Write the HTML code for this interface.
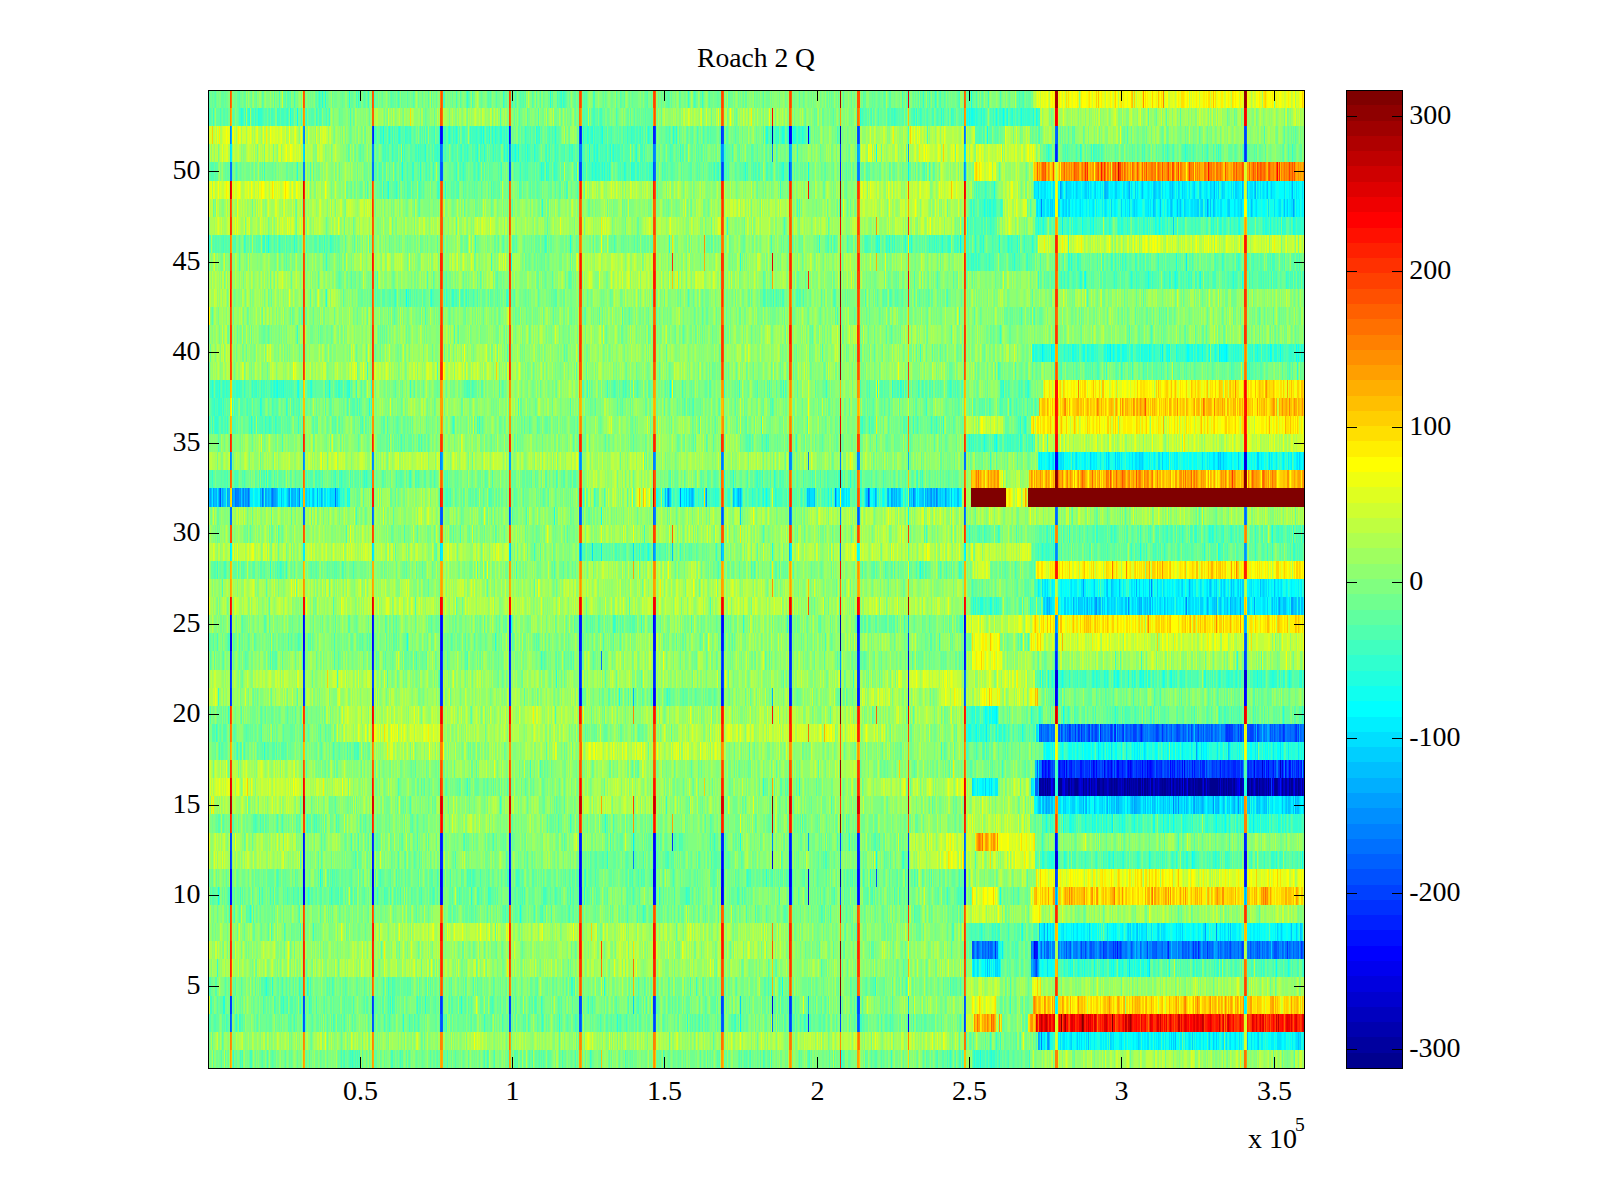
<!DOCTYPE html>
<html lang="en"><head><meta charset="utf-8"><title>Roach 2 Q</title>
<style>
html,body{margin:0;padding:0;background:#fff}
body{width:1600px;height:1200px;overflow:hidden}
svg{display:block}
text{font-family:"Liberation Serif",serif;font-size:28.0px;fill:#000}
</style></head><body>
<svg width="1600" height="1200" viewBox="0 0 1600 1200">
<rect width="1600" height="1200" fill="#fff"/>
<rect x="208" y="90" width="1096" height="978" fill="#80ff80"/>
<g transform="translate(208 90) scale(1 18.111111)" fill="none" stroke-width="1" shape-rendering="crispEdges">
<path stroke="#00008f" d="M632 30.5h1M632 33.5h1M831 38.5h1m5 0h1m1 0h1m11 0h3m6 0h2m5 0h3m5 0h1m5 0h1m7 0h3m3 0h1m7 0h1m2 0h1m1 0h1m7 0h1m2 0h1m1 0h1m8 0h3m1 0h1m1 0h2m1 0h1m3 0h2m9 0h1m1 0h2m4 0h1m2 0h1m5 0h1m2 0h1m1 0h1m3 0h2m3 0h1m1 0h1m2 0h4m2 0h1m5 0h8m1 0h1m3 0h1m2 0h1m1 0h1m5 0h1m12 0h2m2 0h1m4 0h2m1 0h1m8 0h1m6 0h2m5 0h1m6 0h1m1 0h2m5 0h1M632 50.5h1"/>
<path stroke="#00009f" d="M564 2.5h1M832 38.5h1m1 0h2m5 0h1m21 0h1m2 0h1m11 0h1m4 0h1m10 0h1m6 0h2m1 0h1m2 0h1m1 0h1m7 0h1m5 0h1m1 0h1m1 0h2m18 0h1m4 0h2m1 0h1m3 0h1m8 0h2m7 0h1m4 0h1m1 0h1m3 0h2m7 0h1m1 0h1m1 0h1m11 0h1m2 0h1m4 0h3m1 0h1m6 0h2m10 0h1m9 0h2m2 0h1m7 0h1m2 0h1m7 0h2m8 0h2m2 0h1m2 0h1M632 43.5h1"/>
<path stroke="#0000af" d="M632 2.5h1M632 29.5h1M833 38.5h1m6 0h1m1 0h1m3 0h1m3 0h1m6 0h2m11 0h1m6 0h1m8 0h1m5 0h2m2 0h3m6 0h1m5 0h2m1 0h1m5 0h1m1 0h1m1 0h1m1 0h1m11 0h1m1 0h2m6 0h2m1 0h1m6 0h1m1 0h2m2 0h1m7 0h1m10 0h1m16 0h1m9 0h1m3 0h1m2 0h1m23 0h1m5 0h1m4 0h2m2 0h1m5 0h1m19 0h1m9 0h1M700 43.5h1M700 44.5h1"/>
<path stroke="#0000bf" d="M1072 37.5h1M836 38.5h1m1 0h1m6 0h1m13 0h1m4 0h2m10 0h1m3 0h1m3 0h2m14 0h1m9 0h1m4 0h1m2 0h1m10 0h1m36 0h2m2 0h1m7 0h1m7 0h1m7 0h1m24 0h1m4 0h1m2 0h2m5 0h1m7 0h1m2 0h1m4 0h1m6 0h1m6 0h1m10 0h1m13 0h1"/>
<path stroke="#0000cf" d="M1037 20.5h1M848 32.5h1m188 0h1M1054 37.5h1M854 38.5h1m7 0h1m8 0h1m1 0h2m12 0h1m11 0h1m13 0h1m19 0h1m1 0h1m9 0h2m3 0h1m22 0h1m38 0h1m22 0h1m23 0h1m1 0h1m8 0h2m1 0h1m2 0h1m2 0h2m4 0h1m9 0h1M848 42.5h1"/>
<path stroke="#0000df" d="M22 30.5h1M700 31.5h1M1036 32.5h1M855 38.5h1m16 0h1m6 0h1m2 0h1m5 0h1m53 0h1m20 0h1m31 0h1m2 0h1m30 0h2m15 0h1m46 0h1M564 42.5h1m282 0h1m189 0h1M164 43.5h1m349 0h1m85 0h1M95 44.5h1m504 0h1M564 50.5h1"/>
<path stroke="#0000ef" d="M600 2.5h1M848 20.5h1m187 0h1M756 29.5h1M233 30.5h1M847 32.5h1m1 0h1m188 0h1M372 33.5h1m327 0h1m147 0h1M858 37.5h1m26 0h1m10 0h1m6 0h1m18 0h1m16 0h1m36 0h1m69 0h1m27 0h1M844 38.5h1m11 0h1m118 0h1m3 0h1m106 0h1M372 42.5h1m663 0h1M95 43.5h1m137 0h1m67 0h1m70 0h1m72 0h2m135 0h1m173 0h1M233 44.5h1m280 0h1m241 0h1M826 47.5h1"/>
<path stroke="#00f" d="M233 2.5h1m347 0h2M847 20.5h1m1 0h1m188 0h1M22 29.5h1m72 0h1m68 0h1m68 0h1m67 0h1m143 0h1m68 0h1m135 0h1M23 30.5h1m71 0h1m68 0h1m136 0h1M446 33.5h1m400 0h1m188 0h2M834 37.5h1m2 0h1m2 0h1m10 0h1m4 0h1m31 0h1m20 0h2m9 0h1m13 0h1m7 0h1m19 0h1m11 0h1m85 0h1m16 0h1m3 0h1M843 38.5h1m187 0h1m33 0h1M301 41.5h1m144 0h1M446 42.5h1m67 0h1m334 0h1m188 0h1M22 43.5h1m209 0h1m138 0h1m209 0h1m68 0h1M22 44.5h1m73 0h1m67 0h1m136 0h1m70 0h1m140 0h1m68 0h1m67 0h1M700 51.5h1"/>
<path stroke="#0010ff" d="M232 2.5h1m68 0h1m70 0h1m210 0h1M632 4.5h1M372 29.5h1m73 0h1m68 0h1m66 0h1m66 0h1m107 0h1M96 30.5h1m274 0h2m73 0h1m67 0h1m67 0h1m67 0h1m105 0h1M22 31.5h1m72 0h1m68 0h1m68 0h1m522 0h1M700 32.5h1M445 33.5h1m68 0h1m67 0h1m67 0h1M841 37.5h1m21 0h1m8 0h2m12 0h1m13 0h1m13 0h1m8 0h1m17 0h1m1 0h1m20 0h1m1 0h1m17 0h1m1 0h1m25 0h1m43 0h1m1 0h1m6 0h1m16 0h1m7 0h1m2 0h1M1072 38.5h1M95 41.5h1m137 0h1m138 0h1m72 0h1m136 0h1m67 0h1m196 0h2M95 42.5h1m68 0h1m136 0h1m145 0h1m133 0h2m67 0h1m49 0h1M23 43.5h1m72 0h1m68 0h1m136 0h1m144 0h1m65 0h1m69 0h1m65 0h1m107 0h1m279 0h1M23 44.5h1m141 0h1m66 0h1m69 0h1m68 0h1m1 0h1m71 0h2m134 0h1m175 0h1M827 47.5h2m80 0h1"/>
<path stroke="#0020ff" d="M165 2.5h1m68 0h1m210 0h2M848 3.5h1M96 29.5h1m68 0h1m66 0h1m1 0h1m67 0h1m68 0h1m1 0h1m139 0h1m67 0h1M165 30.5h1m66 0h1m1 0h1m67 0h1m142 0h1m1 0h1m65 0h1m135 0h1M232 31.5h1m68 0h1m144 0h1m67 0h1m67 0h1m67 0h1m106 0h1m90 0h1M233 32.5h1m138 0h1m73 0h1m203 0h1M22 33.5h1m141 0h1m68 0h1m67 0h1m69 0h1m1 0h1m73 0h1m65 0h1m67 0h1m67 0h1m199 0h1m188 0h1M892 35.5h1m14 0h1m25 0h1M835 37.5h1m2 0h1m13 0h1m1 0h2m5 0h2m18 0h1m1 0h1m15 0h1m2 0h1m3 0h1m12 0h1m1 0h1m6 0h1m3 0h1m4 0h1m2 0h1m3 0h1m3 0h1m4 0h1m15 0h1m1 0h1m20 0h1m1 0h3m19 0h1m3 0h1m4 0h3m12 0h1m8 0h2m33 0h1m3 0h1m6 0h1M164 41.5h1m67 0h1m138 0h1m75 0h1m66 0h1m66 0h1m67 0h1m386 0h2M232 42.5h2m137 0h1m1 0h1m71 0h1m67 0h1m135 0h1M234 43.5h1m138 0h1m141 0h1m135 0h1M234 44.5h1m212 0h1m67 0h1m67 0h1m65 0h1m1 0h1M829 47.5h1m130 0h1m29 0h1"/>
<path stroke="#0030ff" d="M373 2.5h1m139 0h1M632 3.5h1m214 0h1m189 0h1M23 29.5h1m423 0h1m135 0h1m67 0h1M373 30.5h1m141 0h1m65 0h1m118 0h1m56 0h1M23 31.5h1m72 0h1m68 0h1m136 0h1m68 0h2m72 0h1m203 0h1m197 0h1M22 32.5h1m209 0h1m68 0h1m69 0h1m73 0h1m67 0h2m67 0h1m66 0h1M95 33.5h1m136 0h1m350 0h1m67 0h1M861 35.5h1m5 0h1m2 0h1m2 0h1m7 0h1m21 0h1m2 0h1m8 0h1m38 0h1m63 0h2m1 0h1m53 0h1m12 0h1M836 37.5h1m5 0h1m7 0h1m2 0h1m12 0h1m7 0h2m1 0h3m4 0h1m6 0h1m2 0h1m2 0h1m3 0h1m2 0h1m3 0h1m2 0h3m1 0h2m7 0h1m5 0h2m4 0h1m8 0h1m3 0h1m1 0h2m6 0h2m4 0h1m13 0h1m1 0h1m16 0h1m5 0h1m3 0h1m5 0h2m3 0h1m1 0h1m1 0h2m4 0h3m1 0h1m8 0h2m1 0h1m2 0h1m2 0h3m1 0h1m3 0h1m4 0h1m2 0h1m3 0h1m1 0h1m4 0h1m7 0h1m2 0h1m2 0h1M96 41.5h1m137 0h1m67 0h1m70 0h1m90 0h1m48 0h1m1 0h1m116 0h1m67 0h1M22 42.5h1m73 0h1m68 0h1m68 0h1m67 0h1m212 0h1m67 0h1m67 0h1M1036 43.5h1m1 0h1M787 47.5h1m107 0h1m9 0h1m1 0h1m4 0h1m72 0h1m13 0h1m79 0h1m13 0h1M22 50.5h1m141 0h1m68 0h1m67 0h1m143 0h2m135 0h1M600 51.5h1"/>
<path stroke="#0040ff" d="M164 2.5h1m137 0h1m144 0h1m66 0h1m135 0h1m386 0h1M372 4.5h1m141 0h1m66 0h1M583 30.5h1m67 0h1M234 31.5h1m346 0h1m1 0h1m452 0h2M95 32.5h1m68 0h1m69 0h1m67 0h1m278 0h1m69 0h1M23 33.5h1m72 0h1m68 0h1m68 0h1m67 0h1m212 0h1M853 35.5h1m8 0h1m8 0h1m8 0h1m3 0h1m2 0h2m13 0h1m11 0h1m10 0h3m4 0h1m15 0h2m19 0h1m13 0h1m6 0h1m29 0h1m1 0h3m5 0h1m1 0h2m8 0h3m4 0h1m26 0h1m10 0h1m2 0h1M839 37.5h1m4 0h1m14 0h1m4 0h2m2 0h4m8 0h1m6 0h1m1 0h2m26 0h1m8 0h2m1 0h1m3 0h1m1 0h1m2 0h1m7 0h1m3 0h1m5 0h2m5 0h1m6 0h1m1 0h1m14 0h4m14 0h2m4 0h1m5 0h2m3 0h1m5 0h1m5 0h1m4 0h1m1 0h1m19 0h3m6 0h1m4 0h1m4 0h1M1063 38.5h1M22 41.5h1m142 0h1m417 0h1m67 0h1m386 0h1M847 43.5h2M632 44.5h1M873 47.5h1m3 0h1m61 0h1m47 0h1m34 0h1m11 0h1M828 48.5h1M23 50.5h1m71 0h1m136 0h1m69 0h1m68 0h2m140 0h2m66 0h1m68 0h1M446 51.5h1m135 0h1m49 0h1m123 0h1"/>
<path stroke="#0050ff" d="M371 2.5h1m143 0h1m133 0h1m386 0h1M849 3.5h1m186 0h1m1 0h1M233 4.5h1m67 0h1m69 0h1m1 0h1m71 0h1M12 22.5h1m647 0h1M233 23.5h1m67 0h1m70 0h1m141 0h1m135 0h1M848 30.5h1m188 0h1M373 31.5h1m73 0h1m65 0h1m1 0h1m135 0h1M23 32.5h1m72 0h1m68 0h1m207 0h1m73 0h1m67 0h1m67 0h1m48 0h1M756 33.5h1M833 35.5h1m17 0h1m5 0h1m1 0h1m16 0h1m27 0h1m4 0h1m8 0h1m3 0h1m5 0h1m5 0h1m15 0h1m7 0h1m4 0h1m4 0h1m1 0h2m3 0h1m4 0h1m14 0h1m7 0h1m13 0h1m21 0h3m3 0h1m1 0h1m2 0h1m11 0h1m3 0h1m4 0h2M843 37.5h1m2 0h1m10 0h1m2 0h1m15 0h1m15 0h2m1 0h1m2 0h1m26 0h1m28 0h1m3 0h1m8 0h2m4 0h1m3 0h2m3 0h2m1 0h1m7 0h1m7 0h1m1 0h1m3 0h1m1 0h2m2 0h1m30 0h1m2 0h1m18 0h1m18 0h1m1 0h1m3 0h1M23 41.5h1m825 0h1M23 42.5h1M668 43.5h1M764 47.5h2m3 0h1m10 0h1m77 0h1m3 0h1m19 0h2m8 0h1m3 0h3m12 0h1m1 0h1m9 0h1m24 0h1m10 0h1m14 0h1m5 0h1m7 0h1m2 0h1m43 0h1m6 0h1m6 0h1m1 0h1m14 0h3m25 0h1M96 50.5h1m68 0h1m207 0h1m73 0h1m135 0h1m65 0h1m1 0h1m104 0h1M22 51.5h1m72 0h1m68 0h1m68 0h1m67 0h1m70 0h1m141 0h1m66 0h1m68 0h1"/>
<path stroke="#0060ff" d="M651 2.5h1m196 0h2m188 0h1M232 4.5h1m1 0h1m67 0h1m143 0h1m66 0h1m1 0h1M95 23.5h1m68 0h1m67 0h1m1 0h1m136 0h1m73 0h1m136 0h1m173 0h1m91 0h1m188 0h1M632 25.5h1M847 30.5h1m190 0h1M849 31.5h1m188 0h1M756 32.5h1M831 35.5h1m7 0h2m9 0h1m3 0h1m5 0h1m3 0h1m9 0h2m3 0h1m3 0h1m2 0h1m2 0h1m3 0h2m1 0h2m2 0h1m10 0h1m7 0h1m3 0h1m7 0h1m13 0h1m1 0h1m7 0h1m21 0h1m6 0h1m2 0h1m1 0h1m3 0h1m4 0h2m1 0h1m2 0h1m2 0h1m18 0h1m8 0h1m28 0h1m9 0h1m7 0h1m3 0h1m5 0h1M829 37.5h1m15 0h1m21 0h1m14 0h1m22 0h1m1 0h1m10 0h1m28 0h1m7 0h1m5 0h1m13 0h1m4 0h1m10 0h1m7 0h1m2 0h1m29 0h1m24 0h1m21 0h1m3 0h1M827 38.5h3M756 41.5h1M849 43.5h1M770 47.5h1m3 0h1m2 0h1m4 0h2m41 0h1m7 0h1m2 0h1m2 0h2m44 0h1m15 0h4m1 0h1m1 0h1m1 0h1m21 0h1m11 0h4m6 0h1m20 0h1m1 0h2m5 0h1m10 0h1m5 0h1m2 0h1m5 0h1m1 0h1m4 0h1m1 0h1m1 0h1m8 0h1m2 0h1m20 0h1m4 0h1m10 0h1m3 0h1m6 0h1m3 0h1m4 0h1M827 48.5h1M234 50.5h1m280 0h1m241 0h1M96 51.5h1m68 0h1m66 0h1m1 0h1m67 0h1m68 0h1m73 0h1m1 0h1m65 0h1m1 0h1m67 0h1m65 0h1m107 0h1"/>
<path stroke="#0070ff" d="M756 2.5h1m90 0h1M232 3.5h2m67 0h1M22 4.5h2m140 0h2m281 0h1m134 0h1m67 0h1M514 20.5h1m117 0h1m123 0h2M27 22.5h1m12 0h1m13 0h1m9 0h1m62 0h1M22 23.5h2m72 0h1m276 0h1m72 0h1m66 0h1m67 0h1m67 0h1m197 0h1M849 30.5h1m186 0h1M393 31.5h1M757 32.5h1M757 33.5h1M832 35.5h1m2 0h1m1 0h2m4 0h1m1 0h2m18 0h2m2 0h1m8 0h1m6 0h1m4 0h1m8 0h1m12 0h2m3 0h1m2 0h2m2 0h1m5 0h1m4 0h1m1 0h1m1 0h1m2 0h3m1 0h1m4 0h1m1 0h1m2 0h1m2 0h1m1 0h2m3 0h2m4 0h1m1 0h1m1 0h1m4 0h1m6 0h1m3 0h1m4 0h1m2 0h1m7 0h1m1 0h1m2 0h1m11 0h1m1 0h1m1 0h1m4 0h1m16 0h1m4 0h1m6 0h1m3 0h1m1 0h1m3 0h1m5 0h3m1 0h3m3 0h1m3 0h1m1 0h1M831 37.5h1m1 0h1m163 0h1m2 0h1m67 0h1M632 42.5h1M775 47.5h1m8 0h1m38 0h1m14 0h1m11 0h1m5 0h1m4 0h1m6 0h1m3 0h1m2 0h1m2 0h1m2 0h1m2 0h1m1 0h1m4 0h1m1 0h1m23 0h2m5 0h1m28 0h1m16 0h1m5 0h1m4 0h1m4 0h1m5 0h1m3 0h2m2 0h1m1 0h2m9 0h1m2 0h1m1 0h1m4 0h1m2 0h1m13 0h1m2 0h1m1 0h1m1 0h2m1 0h1m5 0h1m1 0h1m1 0h1m4 0h1m3 0h1m5 0h1m1 0h2m3 0h1m5 0h2m2 0h1M23 51.5h1m349 0h1m190 0h1m86 0h1"/>
<path stroke="#0080ff" d="M22 2.5h1m73 0h1M164 3.5h2m205 0h3m71 0h2m117 0h1M95 4.5h2m552 0h1m1 0h1M833 6.5h1M22 20.5h1m72 0h1m68 0h1m67 0h1m139 0h1m72 0h2m66 0h1m67 0h2m17 0h1m48 0h2M11 22.5h1m16 0h3m4 0h1m55 0h1m368 0h1m11 0h1m154 0h1m77 0h1m22 0h1M165 23.5h1m136 0h1m144 0h1m67 0h1m116 0h1m18 0h1m105 0h1m91 0h1m186 0h1m1 0h1M848 25.5h1M943 27.5h1M978 28.5h1M834 35.5h1m1 0h1m7 0h1m11 0h1m1 0h1m4 0h1m4 0h1m3 0h1m22 0h1m2 0h1m2 0h1m8 0h1m18 0h1m6 0h1m1 0h1m2 0h1m10 0h1m4 0h1m7 0h1m7 0h1m4 0h1m12 0h1m2 0h1m7 0h1m3 0h1m2 0h1m4 0h3m11 0h1m2 0h1m14 0h1m5 0h2m1 0h1m2 0h1m6 0h1m2 0h1m1 0h1m6 0h2m15 0h1M832 37.5h1m236 0h1m6 0h1M965 39.5h1M564 41.5h1m192 0h1M425 42.5h1m330 0h1M766 47.5h1m1 0h1m2 0h1m4 0h1m1 0h2m1 0h1m7 0h1m52 0h1m1 0h3m6 0h1m6 0h1m4 0h3m1 0h1m4 0h1m1 0h1m11 0h1m5 0h1m4 0h2m13 0h3m5 0h1m5 0h1m4 0h1m4 0h1m2 0h2m6 0h4m3 0h2m3 0h2m5 0h1m2 0h1m7 0h1m3 0h1m5 0h1m8 0h1m6 0h1m8 0h1m5 0h1m3 0h2m1 0h3m2 0h1m6 0h1m1 0h1m2 0h1m7 0h1m2 0h1m6 0h1m1 0h1m7 0h1m7 0h1m2 0h1m2 0h2m7 0h1M826 48.5h1m2 0h1M833 52.5h1"/>
<path stroke="#008fff" d="M95 2.5h1m661 0h1M234 3.5h1m67 0h1m144 0h1m65 0h2M583 4.5h1m172 0h1M165 20.5h1m67 0h1m349 0h1m67 0h1M24 22.5h1m7 0h1m4 0h1m25 0h1m1 0h1m15 0h1m416 0h1m162 0h1m61 0h1M583 23.5h1M372 25.5h1m72 0h1m401 0h1m189 0h1M888 28.5h1m31 0h1M847 29.5h2M632 31.5h1M841 35.5h2m9 0h1m2 0h1m21 0h1m4 0h1m57 0h1m19 0h1m3 0h1m17 0h1m2 0h1m10 0h1m8 0h1m5 0h1m45 0h1m3 0h1M1035 37.5h1M970 39.5h1m34 0h1m24 0h1M757 42.5h1M1008 46.5h1M772 47.5h1m13 0h1m1 0h1m35 0h1m7 0h1m18 0h1m3 0h1m1 0h1m1 0h1m19 0h1m7 0h1m2 0h1m28 0h1m5 0h1m10 0h2m5 0h1m11 0h1m2 0h1m5 0h4m4 0h2m8 0h1m11 0h1m14 0h1m1 0h1m3 0h1m15 0h1m14 0h1m6 0h1m3 0h1m3 0h1m9 0h1m1 0h1m10 0h1M825 48.5h1M840 52.5h1"/>
<path stroke="#009fff" d="M515 3.5h1m65 0h1m67 0h2m49 0h1M852 5.5h1M999 6.5h1m85 0h1M23 20.5h1m72 0h1m204 0h2m68 0h1m1 0h1m73 0h1m67 0h1M2 22.5h1m2 0h1m8 0h1m4 0h1m11 0h1m2 0h1m3 0h2m1 0h1m13 0h1m1 0h1m8 0h2m615 0h1m22 0h1m12 0h1m2 0h1m3 0h1m2 0h1m7 0h1M446 25.5h1m402 0h1m186 0h1M875 27.5h1M887 28.5h1m144 0h1m13 0h1m24 0h1m11 0h2M700 29.5h1m336 0h1M905 35.5h1m10 0h1m62 0h1m32 0h1m78 0h1M988 36.5h1M1094 37.5h1M830 38.5h1M838 39.5h1m87 0h1m59 0h1M600 41.5h1M848 44.5h1M997 46.5h1M767 47.5h1m5 0h1m11 0h1m51 0h1m3 0h1m12 0h1m8 0h1m6 0h2m8 0h1m8 0h1m30 0h2m4 0h1m2 0h1m5 0h1m4 0h1m52 0h1m13 0h2m67 0h1m14 0h1M823 48.5h1M830 52.5h1m8 0h1"/>
<path stroke="#00afff" d="M23 2.5h1M582 3.5h1m68 0h1M757 4.5h1M897 5.5h1m23 0h1m84 0h1m27 0h1m12 0h1m36 0h1M234 20.5h1m465 0h1M8 22.5h1m11 0h2m3 0h2m25 0h1m5 0h1m1 0h1m7 0h1m11 0h1m2 0h2m2 0h1m21 0h1m3 0h1m345 0h1m24 0h1m45 0h1m1 0h1m134 0h1m12 0h1m3 0h1m1 0h1m1 0h1m12 0h1m15 0h1m7 0h1M513 25.5h1m67 0h1m456 0h1M928 27.5h1m12 0h1m39 0h1M839 28.5h1m1 0h1m23 0h1m13 0h1m11 0h1m39 0h1m1 0h1m8 0h1m56 0h1m8 0h1m13 0h1M1036 29.5h1M425 33.5h1m138 0h1M908 35.5h1m139 0h1m10 0h2M835 39.5h1m4 0h2m33 0h1m2 0h1m20 0h1m8 0h1m1 0h1m13 0h1m2 0h2m38 0h1m17 0h1m8 0h1m15 0h1m15 0h1m60 0h1M1037 44.5h1M836 46.5h1m2 0h1M834 47.5h2m16 0h1m77 0h2m2 0h1m34 0h1m36 0h1M824 48.5h1m5 0h1M600 50.5h1M831 52.5h1m207 0h1"/>
<path stroke="#00bfff" d="M583 3.5h1M853 5.5h1m4 0h1m37 0h1m1 0h2m34 0h1m11 0h1m17 0h1m74 0h1m19 0h1M945 6.5h1m6 0h1m10 0h1m5 0h1m2 0h1m29 0h1m2 0h1m37 0h1m32 0h1M1010 20.5h1m1 0h1M0 22.5h2m1 0h1m2 0h2m2 0h1m4 0h1m20 0h1m24 0h1m7 0h1m3 0h1m11 0h2m2 0h2m14 0h1m23 0h1m327 0h1m3 0h1m19 0h1m1 0h1m41 0h1m73 0h1m1 0h1m4 0h1m51 0h2m19 0h1m11 0h1m11 0h1m3 0h1m6 0h2m4 0h2m10 0h1m5 0h1m4 0h1m5 0h2M302 25.5h1m70 0h1m73 0h1m16 0h1M899 27.5h1m3 0h1m7 0h1m90 0h1m20 0h1m28 0h1m13 0h1M870 28.5h1m5 0h1m6 0h1m2 0h1m5 0h1m1 0h1m4 0h1m17 0h2m13 0h1m4 0h1m1 0h1m1 0h1m2 0h1m11 0h1m20 0h1m28 0h1m5 0h1m6 0h1m7 0h1m36 0h1m5 0h1m4 0h3m7 0h1m1 0h1m2 0h2m1 0h2M849 29.5h1m188 0h1M986 35.5h1m67 0h1M1020 36.5h1M827 37.5h2M831 39.5h2m1 0h1m2 0h1m1 0h1m3 0h2m32 0h1m8 0h1m16 0h1m2 0h1m2 0h1m13 0h1m5 0h3m5 0h1m6 0h1m1 0h1m8 0h1m5 0h1m6 0h1m7 0h1m1 0h1m9 0h1m1 0h1m2 0h1m1 0h1m11 0h3m5 0h1m9 0h1m15 0h1m7 0h1m1 0h1m4 0h1m1 0h1m15 0h1m3 0h1m1 0h2m3 0h1m3 0h2M847 44.5h1M831 46.5h1m97 0h1m92 0h1m60 0h1m8 0h1M830 47.5h2m11 0h1m20 0h1m62 0h1m35 0h1M779 48.5h1M841 52.5h1m38 0h1m86 0h1m122 0h1"/>
<path stroke="#00cfff" d="M96 3.5h1M830 5.5h1m37 0h1m8 0h2m1 0h1m6 0h1m19 0h2m11 0h1m6 0h1m17 0h1m1 0h1m3 0h1m10 0h1m7 0h1m3 0h1m11 0h1m5 0h1m9 0h1m7 0h1m3 0h1m12 0h2m17 0h1m16 0h1M842 6.5h1m1 0h1m5 0h1m4 0h1m2 0h1m2 0h1m41 0h1m9 0h1m7 0h1m4 0h1m19 0h1m15 0h1m13 0h1m12 0h2m2 0h2m5 0h1m5 0h1m13 0h2m11 0h1m45 0h1m6 0h1M965 7.5h1M845 20.5h1m4 0h1m31 0h1m17 0h1m6 0h1m23 0h1m2 0h1m19 0h1m60 0h1m14 0h1m18 0h2m40 0h1m3 0h1M13 22.5h1m2 0h2m15 0h1m19 0h1m5 0h1m2 0h1m16 0h1m18 0h1m2 0h1m2 0h1m9 0h1m7 0h1m5 0h1m333 0h1m15 0h1m6 0h1m43 0h1m1 0h1m68 0h1m27 0h1m39 0h1m16 0h1m1 0h1m2 0h1m1 0h1m18 0h3m4 0h1m5 0h1m2 0h1m3 0h1m2 0h1m5 0h1M532 23.5h1M371 25.5h1m142 0h2M886 27.5h1m11 0h1m5 0h1m26 0h1m17 0h1m24 0h1m26 0h1m6 0h1m4 0h1m2 0h1m8 0h1m4 0h1m1 0h1m1 0h2m19 0h1M836 28.5h1m1 0h1m1 0h1m15 0h2m10 0h1m2 0h4m3 0h1m2 0h1m8 0h1m5 0h1m3 0h1m2 0h1m2 0h1m6 0h2m6 0h1m2 0h1m4 0h2m5 0h1m15 0h1m6 0h1m20 0h2m10 0h3m5 0h1m3 0h2m1 0h1m3 0h1m4 0h1m6 0h2m1 0h1m13 0h1m18 0h1m6 0h1m1 0h1m3 0h1m13 0h1m1 0h1M891 35.5h1M777 38.5h1M830 39.5h1m24 0h1m1 0h1m6 0h3m4 0h3m7 0h1m12 0h1m3 0h1m2 0h1m2 0h2m5 0h3m5 0h1m2 0h1m2 0h1m6 0h1m2 0h1m3 0h1m2 0h1m2 0h1m1 0h1m1 0h1m2 0h1m4 0h1m1 0h1m13 0h1m5 0h1m3 0h1m5 0h1m2 0h1m7 0h1m3 0h1m11 0h1m2 0h1m1 0h1m2 0h1m4 0h1m2 0h1m1 0h2m3 0h2m7 0h1m1 0h1m4 0h1m1 0h1m2 0h1m16 0h1m4 0h1m5 0h1m6 0h1M1036 44.5h1M881 46.5h1m38 0h1m1 0h1m5 0h1m9 0h1m11 0h1m23 0h1m45 0h1m48 0h1m3 0h1m14 0h1m4 0h1M1063 47.5h1M781 48.5h1m5 0h1m1 0h1M425 50.5h1m106 0h1m167 0h1M863 52.5h1m5 0h1m32 0h1m27 0h1m32 0h1m1 0h1m18 0h1m16 0h1m3 0h1m2 0h1m41 0h1m41 0h1"/>
<path stroke="#00dfff" d="M22 3.5h1m72 0h1m660 0h1M826 5.5h1m6 0h1m2 0h2m7 0h1m8 0h1m4 0h4m2 0h1m3 0h1m6 0h1m5 0h1m3 0h1m5 0h1m7 0h1m14 0h2m2 0h1m3 0h1m5 0h1m3 0h1m6 0h1m7 0h1m1 0h1m1 0h1m1 0h1m6 0h1m1 0h1m1 0h1m5 0h1m4 0h1m4 0h1m3 0h1m5 0h1m6 0h1m4 0h1m1 0h1m2 0h1m6 0h2m6 0h1m1 0h1m3 0h2m4 0h1m6 0h3m4 0h1m2 0h1m2 0h1m2 0h1m17 0h1m6 0h1m4 0h1m5 0h1M829 6.5h1m2 0h1m2 0h2m2 0h2m2 0h1m2 0h1m4 0h1m2 0h1m2 0h1m2 0h1m11 0h1m12 0h1m11 0h1m19 0h1m7 0h1m2 0h1m11 0h1m1 0h1m4 0h1m11 0h1m4 0h1m6 0h1m5 0h1m5 0h2m1 0h3m3 0h1m4 0h1m14 0h2m5 0h1m6 0h1m3 0h1m1 0h1m11 0h1m3 0h1m11 0h1m5 0h1m4 0h2m10 0h2M841 20.5h1m2 0h1m7 0h2m1 0h1m12 0h1m29 0h1m10 0h1m1 0h1m12 0h1m2 0h2m3 0h2m16 0h2m42 0h1m10 0h2m4 0h1m49 0h1m27 0h1M75 22.5h1m18 0h1m2 0h1m13 0h1m4 0h2m5 0h4m349 0h1m5 0h1m14 0h1m28 0h1m6 0h1m68 0h4m25 0h1m2 0h2m2 0h1m18 0h1m31 0h1m12 0h1m1 0h1m4 0h1m20 0h1m2 0h1m1 0h2m2 0h1m1 0h1m4 0h1M164 25.5h1m67 0h1m68 0h1m82 0h1m40 0h1m156 0h1M834 27.5h1m2 0h1m1 0h1m23 0h1m9 0h2m30 0h1m17 0h1m2 0h1m8 0h1m8 0h1m10 0h1m14 0h1m2 0h1m8 0h1m1 0h1m7 0h1m6 0h1m3 0h1m2 0h1m8 0h1m13 0h1m13 0h1m10 0h1m1 0h1m1 0h1m1 0h1m9 0h1m2 0h1M835 28.5h1m6 0h2m6 0h1m8 0h2m2 0h1m2 0h1m17 0h1m4 0h1m11 0h1m2 0h2m1 0h1m1 0h1m1 0h2m12 0h1m1 0h1m7 0h1m2 0h1m8 0h1m1 0h1m1 0h1m5 0h1m5 0h1m1 0h1m2 0h1m6 0h1m6 0h1m1 0h2m1 0h2m1 0h1m7 0h1m14 0h1m3 0h2m6 0h1m2 0h2m1 0h1m2 0h2m3 0h1m1 0h1m13 0h2m6 0h1m9 0h2m3 0h1m2 0h1M828 35.5h2M890 36.5h1m12 0h1m32 0h1m52 0h1m3 0h1m27 0h1m50 0h1M830 37.5h1M764 38.5h1m16 0h1m1 0h1m39 0h1M836 39.5h1m5 0h1m3 0h1m3 0h3m3 0h1m5 0h2m10 0h1m12 0h1m3 0h3m2 0h1m17 0h1m1 0h1m19 0h1m3 0h1m10 0h1m1 0h2m1 0h1m3 0h1m2 0h1m2 0h1m2 0h1m1 0h2m1 0h1m5 0h1m6 0h1m3 0h1m4 0h1m2 0h1m1 0h3m7 0h1m2 0h1m5 0h1m2 0h1m3 0h1m3 0h1m11 0h1m1 0h1m6 0h1m1 0h1m9 0h1m14 0h1m11 0h1M849 44.5h1m188 0h1M835 46.5h1m6 0h1m2 0h1m9 0h1m9 0h1m3 0h1m29 0h1m19 0h1m5 0h1m5 0h1m1 0h2m8 0h1m5 0h1m3 0h1m1 0h2m11 0h1m3 0h1m22 0h2m15 0h1m3 0h1M765 48.5h1m3 0h1m7 0h1m10 0h1m2 0h1m47 0h1m81 0h1m19 0h1M836 52.5h1m15 0h1m2 0h2m5 0h1m8 0h1m1 0h1m4 0h1m24 0h1m1 0h1m7 0h1m17 0h1m7 0h2m9 0h1m10 0h1m19 0h1m33 0h1m2 0h1m3 0h1m4 0h1m3 0h1m11 0h1m5 0h1m19 0h4m15 0h2m1 0h1"/>
<path stroke="#00efff" d="M23 3.5h1m733 0h1M700 4.5h1M827 5.5h3m2 0h1m1 0h2m3 0h1m2 0h1m3 0h1m3 0h1m6 0h1m5 0h1m3 0h1m2 0h3m1 0h2m3 0h1m3 0h1m5 0h1m4 0h1m7 0h3m1 0h1m2 0h3m6 0h1m16 0h1m3 0h1m1 0h1m1 0h1m5 0h1m7 0h1m8 0h1m1 0h1m6 0h1m1 0h2m5 0h1m8 0h1m2 0h2m1 0h1m4 0h1m8 0h1m6 0h1m10 0h2m8 0h1m8 0h1m3 0h1m1 0h1m5 0h1m1 0h3m14 0h1m4 0h1m3 0h1M828 6.5h1m2 0h1m2 0h1m3 0h1m6 0h1m10 0h1m7 0h1m2 0h2m2 0h1m2 0h1m3 0h1m2 0h1m2 0h1m3 0h1m5 0h1m1 0h1m1 0h1m7 0h2m11 0h1m4 0h1m2 0h1m1 0h1m7 0h3m11 0h1m8 0h1m7 0h1m1 0h1m2 0h1m4 0h3m1 0h1m2 0h1m12 0h1m8 0h1m1 0h2m16 0h1m1 0h1m1 0h1m2 0h1m5 0h1m1 0h1m4 0h1m22 0h1m4 0h1m2 0h1m2 0h2m5 0h1m2 0h1m2 0h1M854 7.5h1M752 8.5h1M978 9.5h1M834 14.5h1m8 0h1m58 0h1m51 0h1m56 0h1m6 0h1M831 20.5h1m1 0h1m6 0h1m10 0h1m2 0h1m9 0h1m2 0h1m8 0h2m5 0h1m1 0h2m1 0h1m3 0h1m8 0h1m8 0h1m2 0h1m7 0h1m7 0h2m4 0h1m5 0h1m4 0h1m11 0h1m1 0h1m5 0h1m1 0h2m29 0h1m1 0h1m7 0h1m3 0h2m1 0h3m4 0h1m29 0h1m9 0h1m4 0h1m6 0h1m4 0h1m2 0h1m4 0h1m3 0h1M4 22.5h1m4 0h1m32 0h3m2 0h3m21 0h1m2 0h1m3 0h1m9 0h1m10 0h2m5 0h1m5 0h1m6 0h1m1 0h1m8 0h2m348 0h1m47 0h1m101 0h1m2 0h1m2 0h1m3 0h2m23 0h2m14 0h2m64 0h2m2 0h2M22 25.5h1m72 0h2m68 0h1m67 0h2m158 0h1m189 0h1m173 0h1M830 27.5h1m5 0h1m7 0h1m8 0h1m8 0h1m3 0h3m7 0h2m7 0h1m10 0h1m9 0h3m3 0h1m2 0h1m8 0h1m12 0h1m14 0h2m2 0h1m2 0h1m1 0h1m2 0h1m3 0h2m1 0h1m8 0h1m2 0h1m3 0h1m5 0h1m4 0h1m8 0h1m4 0h1m4 0h1m2 0h1m1 0h1m1 0h1m1 0h1m14 0h2m2 0h1m3 0h2m2 0h1m3 0h1m5 0h1m3 0h1m1 0h1m2 0h1m5 0h1m4 0h1m6 0h1m2 0h1M837 28.5h1m6 0h2m7 0h1m8 0h1m4 0h1m7 0h1m1 0h1m2 0h1m1 0h1m2 0h1m9 0h1m6 0h1m7 0h1m4 0h2m6 0h1m2 0h1m13 0h1m5 0h1m6 0h2m5 0h3m1 0h1m4 0h1m1 0h2m10 0h1m5 0h1m5 0h1m6 0h2m6 0h1m9 0h1m9 0h1m2 0h1m10 0h2m2 0h5m1 0h1m2 0h1m7 0h1m1 0h1m11 0h1m15 0h1M788 34.5h1M778 35.5h1M895 36.5h1m22 0h1m7 0h1m2 0h1m1 0h1m5 0h1m36 0h1m8 0h1m11 0h1m2 0h1m10 0h1m37 0h1m1 0h1m15 0h1m14 0h1m9 0h1M765 38.5h1m3 0h1m4 0h2m11 0h3m34 0h2M829 39.5h1m15 0h1m12 0h3m6 0h1m1 0h2m9 0h1m7 0h1m6 0h1m6 0h1m4 0h1m7 0h1m4 0h2m11 0h2m6 0h1m16 0h1m3 0h1m1 0h1m10 0h1m1 0h1m4 0h1m1 0h1m12 0h1m15 0h1m14 0h1m17 0h1m6 0h1m8 0h2m3 0h4m2 0h1m1 0h2m6 0h2m7 0h1M904 40.5h1m140 0h1M425 41.5h1M833 46.5h2m9 0h1m8 0h2m3 0h1m4 0h1m4 0h1m4 0h1m1 0h2m2 0h1m25 0h1m1 0h1m6 0h1m6 0h1m2 0h1m1 0h1m8 0h3m13 0h1m2 0h1m2 0h1m12 0h2m13 0h1m4 0h1m23 0h1m2 0h1m6 0h4m3 0h1m10 0h1m2 0h2m2 0h1m1 0h1m15 0h1m2 0h1m1 0h1m1 0h1m7 0h1m6 0h1m4 0h1M790 47.5h1m3 0h1M766 48.5h1m3 0h1m12 0h1m1 0h1m4 0h1m40 0h1M848 50.5h1m188 0h1M532 51.5h1M832 52.5h1m1 0h2m14 0h1m3 0h1m3 0h1m2 0h1m6 0h1m7 0h1m5 0h1m3 0h1m5 0h2m1 0h1m1 0h2m1 0h1m3 0h1m6 0h2m4 0h1m7 0h1m2 0h2m2 0h1m1 0h1m1 0h2m5 0h1m2 0h1m1 0h1m2 0h2m2 0h1m1 0h1m8 0h1m5 0h2m3 0h1m2 0h1m1 0h1m3 0h1m1 0h1m2 0h2m2 0h1m4 0h1m5 0h1m3 0h1m3 0h1m6 0h1m4 0h1m6 0h1m12 0h1m6 0h2m8 0h3m7 0h1m2 0h2m6 0h1m2 0h1m7 0h1"/>
<path stroke="#0ff" d="M89 1.5h1m671 0h1m33 0h1M779 2.5h1M668 3.5h1M600 4.5h1M838 5.5h1m1 0h2m9 0h1m3 0h1m8 0h1m1 0h1m14 0h1m3 0h1m2 0h1m1 0h2m9 0h1m3 0h1m6 0h2m3 0h1m6 0h1m3 0h1m1 0h1m1 0h1m3 0h3m3 0h1m12 0h1m2 0h3m12 0h1m6 0h1m6 0h1m13 0h1m5 0h1m1 0h1m9 0h1m1 0h1m4 0h1m6 0h1m6 0h1m4 0h1m11 0h1m2 0h1m6 0h1m3 0h5m2 0h2m2 0h1m2 0h1m3 0h1m1 0h1m3 0h1M830 6.5h1m10 0h1m11 0h1m5 0h1m3 0h1m1 0h1m3 0h2m2 0h1m1 0h1m6 0h2m2 0h1m3 0h1m10 0h1m6 0h1m6 0h1m4 0h1m9 0h4m7 0h1m2 0h1m5 0h1m2 0h1m2 0h1m4 0h1m4 0h2m6 0h1m26 0h1m2 0h1m6 0h1m2 0h1m1 0h2m4 0h4m2 0h1m6 0h1m3 0h1m6 0h1m2 0h1m5 0h2m12 0h1m7 0h1m2 0h1m8 0h2m4 0h1M874 7.5h1m10 0h1m65 0h1M877 10.5h1M198 11.5h1M845 14.5h1m53 0h1m5 0h1m35 0h1m19 0h1m17 0h2m13 0h1m6 0h1m11 0h1m2 0h2m44 0h1m9 0h1m15 0h1M788 19.5h1M830 20.5h1m1 0h1m3 0h1m2 0h1m3 0h1m13 0h1m1 0h1m1 0h1m7 0h1m1 0h1m2 0h1m4 0h1m4 0h1m2 0h1m8 0h1m2 0h1m18 0h1m4 0h1m2 0h1m11 0h2m5 0h1m9 0h3m1 0h1m2 0h1m4 0h1m7 0h2m2 0h1m1 0h2m3 0h1m1 0h1m7 0h1m5 0h3m2 0h2m10 0h1m1 0h2m3 0h2m3 0h1m3 0h1m7 0h1m2 0h1m1 0h1m2 0h1m2 0h2m4 0h1m3 0h1m9 0h1m7 0h1m3 0h1m3 0h1m2 0h1M46 22.5h1m4 0h1m18 0h1m1 0h1m3 0h1m5 0h1m9 0h1m9 0h2m4 0h1m11 0h1m352 0h3m1 0h1m1 0h1m78 0h1m70 0h1m32 0h1m12 0h1m32 0h1m1 0h1m34 0h1M393 23.5h1m306 0h1M23 25.5h1m625 0h2m105 0h1M838 27.5h1m6 0h2m5 0h1m2 0h1m1 0h2m1 0h1m3 0h2m5 0h1m7 0h1m3 0h2m4 0h1m1 0h1m5 0h1m2 0h2m7 0h2m10 0h1m3 0h1m1 0h1m1 0h2m1 0h2m2 0h1m1 0h2m2 0h1m3 0h1m3 0h2m8 0h1m1 0h1m2 0h1m1 0h1m7 0h2m2 0h1m6 0h1m4 0h1m4 0h2m2 0h1m13 0h1m4 0h1m8 0h1m2 0h1m1 0h1m5 0h2m6 0h2m12 0h1m2 0h1m3 0h1m2 0h1m2 0h1m4 0h1m2 0h1m1 0h3m1 0h1m3 0h1M854 28.5h1m3 0h1m2 0h1m7 0h1m27 0h2m20 0h1m8 0h1m5 0h1m8 0h1m1 0h1m4 0h1m4 0h1m2 0h1m11 0h1m2 0h2m4 0h1m6 0h1m10 0h1m3 0h1m13 0h1m5 0h1m20 0h1m10 0h1m4 0h1m2 0h1m7 0h1m10 0h1m11 0h1M777 34.5h1m3 0h1m2 0h1m1 0h2m67 0h1M768 35.5h1M836 36.5h1m1 0h4m2 0h1m1 0h1m7 0h1m6 0h1m7 0h1m4 0h1m1 0h2m2 0h2m2 0h1m6 0h2m5 0h1m2 0h1m5 0h2m4 0h1m10 0h1m3 0h1m6 0h1m11 0h2m6 0h1m3 0h1m2 0h1m2 0h2m3 0h1m19 0h1m5 0h2m33 0h1m10 0h2m13 0h1m1 0h1m9 0h2m3 0h1M766 38.5h1m4 0h3m4 0h3m1 0h1m1 0h1M827 39.5h1m5 0h1m19 0h1m22 0h1m2 0h1m2 0h1m1 0h1m4 0h2m9 0h1m17 0h1m19 0h1m4 0h1m4 0h1m1 0h1m47 0h1m7 0h1m5 0h1m5 0h1m3 0h1m10 0h1m31 0h1m5 0h2m13 0h1m6 0h2M855 40.5h1m99 0h1m9 0h1m42 0h1m8 0h1M668 42.5h1m315 0h1M832 46.5h1m5 0h1m1 0h2m1 0h1m6 0h2m7 0h3m4 0h2m2 0h3m1 0h1m7 0h1m1 0h2m2 0h1m1 0h1m10 0h1m1 0h2m1 0h1m1 0h1m3 0h2m13 0h1m4 0h1m12 0h1m12 0h2m1 0h1m3 0h3m1 0h1m3 0h1m1 0h2m1 0h4m2 0h1m1 0h1m4 0h2m6 0h2m8 0h1m1 0h1m1 0h1m1 0h1m3 0h1m8 0h1m3 0h1m6 0h3m1 0h1m3 0h2m1 0h1m2 0h1m2 0h1m6 0h1m1 0h1m5 0h1m3 0h3m2 0h2m4 0h2M764 48.5h1m9 0h2m2 0h1m1 0h1m53 0h1m8 0h1m42 0h1m18 0h1m33 0h1m128 0h1M574 49.5h1M1036 50.5h1M837 52.5h1m13 0h1m5 0h1m1 0h1m5 0h1m4 0h1m1 0h1m1 0h2m3 0h1m27 0h1m6 0h2m2 0h1m1 0h1m1 0h1m1 0h1m1 0h2m7 0h1m2 0h1m5 0h1m4 0h1m4 0h1m7 0h1m1 0h1m3 0h1m1 0h1m18 0h2m6 0h2m3 0h1m1 0h1m2 0h1m1 0h1m7 0h1m5 0h3m2 0h2m10 0h2m5 0h2m11 0h2m5 0h1m6 0h2m6 0h1"/>
<path stroke="#10ffef" d="M763 0.5h1M82 1.5h1m676 0h1m3 0h2m23 0h1m10 0h1m13 0h1m11 0h1m2 0h1M175 2.5h1m99 0h1m118 0h1m190 0h1m15 0h1M307 3.5h1m2 0h1m70 0h1M194 4.5h1M180 5.5h1m605 0h1m44 0h1m12 0h1m28 0h1m10 0h1m8 0h1m28 0h1m21 0h1m11 0h1m12 0h1m2 0h1m10 0h1m4 0h1m5 0h2m4 0h1m16 0h2m3 0h1m28 0h1m1 0h1m7 0h1m6 0h3m9 0h1m6 0h1m4 0h2M776 6.5h1m60 0h1m14 0h1m9 0h1m3 0h1m9 0h2m1 0h1m11 0h1m7 0h1m4 0h2m3 0h1m4 0h1m1 0h1m1 0h1m24 0h1m5 0h1m8 0h1m6 0h1m15 0h1m14 0h1m6 0h1m4 0h1m6 0h1m2 0h1m22 0h1m3 0h1m4 0h3m1 0h1m2 0h2m3 0h3m2 0h2m4 0h1m19 0h1M759 7.5h1m70 0h1m4 0h1m46 0h1m64 0h1m83 0h1m30 0h1m22 0h1M60 8.5h1m301 0h1m428 0h1M303 9.5h1m664 0h1M940 10.5h1m26 0h1m24 0h1m41 0h1M825 14.5h1m9 0h1m8 0h1m1 0h1m17 0h2m9 0h2m2 0h1m21 0h1m7 0h3m2 0h2m17 0h1m18 0h1m6 0h1m8 0h1m15 0h1m4 0h2m16 0h1m6 0h2m3 0h1m29 0h1m13 0h1m26 0h1M69 16.5h1m20 0h1m30 0h1m340 0h1m206 0h1M776 19.5h1M834 20.5h2m2 0h1m3 0h1m3 0h1m11 0h1m6 0h1m7 0h1m1 0h1m5 0h1m23 0h2m1 0h1m5 0h1m4 0h2m1 0h1m2 0h1m10 0h2m5 0h1m3 0h1m4 0h1m11 0h1m6 0h1m6 0h1m4 0h1m1 0h1m1 0h1m5 0h1m1 0h1m24 0h1m7 0h1m3 0h1m6 0h1m1 0h1m10 0h1m4 0h1m9 0h1m8 0h1m10 0h1m6 0h1M516 21.5h1M50 22.5h1m26 0h1m29 0h1m2 0h1m28 0h1m1 0h1m306 0h2m4 0h1m3 0h1m12 0h1m14 0h1m40 0h1m27 0h1m64 0h1m2 0h1m2 0h1m10 0h1m1 0h1m12 0h1m10 0h2m9 0h1m18 0h2m2 0h1m18 0h1m25 0h1m1 0h1m8 0h1M346 23.5h1M845 24.5h1m218 0h1M440 25.5h1m123 0h1m367 0h1m77 0h1M712 26.5h1M831 27.5h1m3 0h1m4 0h1m2 0h1m10 0h1m1 0h1m2 0h1m12 0h1m8 0h2m4 0h2m13 0h1m10 0h1m2 0h2m4 0h1m11 0h1m5 0h1m6 0h1m9 0h2m4 0h1m8 0h1m5 0h1m6 0h1m4 0h1m13 0h2m3 0h2m16 0h1m16 0h1m1 0h1m4 0h1m7 0h1m2 0h1m2 0h1m11 0h1m9 0h1m1 0h1M782 28.5h1m63 0h1m4 0h1m3 0h1m8 0h1m57 0h1m25 0h1m17 0h1m9 0h1m14 0h1m4 0h1m17 0h1m32 0h1m12 0h1m21 0h1m6 0h1M303 29.5h1M199 30.5h1M840 32.5h1m13 0h1m51 0h1m2 0h2m9 0h1m11 0h1m2 0h1m19 0h1m7 0h1m85 0h1m31 0h1M411 33.5h1M778 34.5h1m3 0h1m2 0h1m3 0h1M760 35.5h3m25 0h1m25 0h1m15 0h1M860 36.5h1m1 0h2m1 0h2m11 0h2m2 0h1m2 0h1m2 0h2m10 0h1m3 0h1m22 0h1m5 0h1m4 0h1m2 0h1m1 0h1m5 0h1m10 0h1m7 0h1m2 0h1m1 0h1m1 0h2m1 0h3m3 0h1m9 0h1m5 0h1m11 0h2m4 0h1m3 0h1m6 0h1m5 0h1m3 0h2m14 0h1m5 0h1m9 0h1m21 0h1m1 0h1M767 38.5h1m8 0h1m261 0h1M826 39.5h1m1 0h1m25 0h1m6 0h1m6 0h1m14 0h1m1 0h1m11 0h1m19 0h1m63 0h1m77 0h1m6 0h1M838 40.5h1m23 0h1m14 0h1m6 0h1m13 0h1m15 0h1m11 0h1m18 0h2m13 0h1m14 0h1m45 0h1m19 0h2m6 0h1m1 0h1m8 0h1m9 0h1M532 41.5h1M905 42.5h1m35 0h1m152 0h1M112 43.5h1M10 44.5h1m781 0h1M312 45.5h1M814 46.5h1m22 0h1m14 0h1m3 0h2m4 0h1m1 0h1m12 0h2m1 0h1m5 0h2m4 0h1m9 0h1m12 0h1m2 0h1m11 0h1m9 0h1m5 0h3m11 0h1m3 0h1m18 0h1m3 0h1m1 0h1m4 0h1m3 0h1m3 0h1m1 0h2m12 0h1m2 0h1m1 0h1m5 0h2m4 0h1m8 0h1m7 0h1m1 0h2m1 0h1m1 0h2m1 0h1m1 0h1m1 0h1m1 0h1m9 0h2m4 0h2m4 0h1M791 47.5h1M768 48.5h1m4 0h1m2 0h1m9 0h1m5 0h1m40 0h1m1 0h1m4 0h3m1 0h2m16 0h1m1 0h1m5 0h1m5 0h1m26 0h1m7 0h1m2 0h1m4 0h1m6 0h1m3 0h2m3 0h1m4 0h1m20 0h1m118 0h1M396 49.5h1M847 50.5h1m1 0h1m188 0h1M842 52.5h1m17 0h1m3 0h1m1 0h2m15 0h3m1 0h2m5 0h1m1 0h1m9 0h1m1 0h3m10 0h1m1 0h1m18 0h1m4 0h1m10 0h3m8 0h1m5 0h1m2 0h2m14 0h1m1 0h1m16 0h1m5 0h1m12 0h1m9 0h1m1 0h2m5 0h1m4 0h1m1 0h1m3 0h1m5 0h1m10 0h2m4 0h2M633 53.5h1m138 0h1"/>
<path stroke="#20ffdf" d="M114 0.5h1m2 0h1m23 0h1m200 0h1M33 1.5h1m7 0h1m8 0h1m601 0h1m55 0h1m24 0h1m31 0h2m1 0h1m4 0h1m30 0h1M181 2.5h1m9 0h1m39 0h1m9 0h1m6 0h1m24 0h1m7 0h1m2 0h1m2 0h1m4 0h2m34 0h1m18 0h1m27 0h1m3 0h1m4 0h1m55 0h1m24 0h1m2 0h1m89 0h2m14 0h2m4 0h1m5 0h2m6 0h1M194 3.5h1m22 0h1m51 0h1m6 0h1m19 0h1m2 0h1m19 0h1m6 0h1m59 0h1m2 0h1m12 0h1m2 0h1m22 0h1m411 0h1m31 0h1m104 0h1M89 4.5h1m122 0h1m120 0h1m4 0h1m45 0h1m2 0h1m6 0h1m1 0h1m4 0h1m14 0h1m6 0h1m113 0h1m37 0h1M237 5.5h1m676 0h1m10 0h2m4 0h1m21 0h1m13 0h1m11 0h1m2 0h1m6 0h1m22 0h1m11 0h1m23 0h1m28 0h1M334 6.5h1m444 0h1m1 0h2m2 0h1m94 0h1m8 0h1m2 0h2m6 0h1m11 0h1m9 0h2m10 0h1m1 0h1m11 0h1m5 0h1m20 0h1m15 0h1m61 0h1m11 0h1m8 0h1m12 0h1m4 0h1M860 7.5h1m2 0h1m1 0h1m1 0h2m32 0h1m8 0h1m2 0h2m4 0h1m15 0h1m3 0h1m8 0h1m5 0h1m4 0h1m43 0h1m1 0h1m6 0h1m9 0h1m7 0h1m24 0h1m1 0h2m10 0h1m2 0h1m1 0h1m11 0h1M86 8.5h1m374 0h1m149 0h1m57 0h1m1 0h1m9 0h1m15 0h1m3 0h1m1 0h1m30 0h1m32 0h1m7 0h1m24 0h1m8 0h1m14 0h1M532 9.5h1m273 0h1m53 0h1m2 0h1M872 10.5h1m3 0h1m46 0h1m37 0h1m63 0h1M118 11.5h1m104 0h1M824 14.5h1m2 0h2m3 0h1m3 0h1m1 0h1m2 0h1m8 0h1m5 0h1m3 0h1m6 0h1m2 0h1m9 0h1m2 0h3m10 0h2m2 0h1m5 0h1m9 0h3m4 0h2m6 0h1m2 0h1m1 0h4m2 0h1m3 0h1m11 0h1m1 0h1m17 0h1m2 0h1m1 0h1m2 0h1m25 0h1m12 0h1m1 0h1m2 0h1m2 0h1m1 0h1m8 0h1m2 0h1m12 0h1m5 0h3m24 0h1M1089 15.5h1M4 16.5h1m6 0h1m54 0h1m1 0h1m6 0h1m13 0h1m13 0h1m37 0h1m21 0h1m520 0h1m7 0h1m102 0h1m24 0h1M52 17.5h1m108 0h1M43 18.5h1m691 0h1m76 0h1m4 0h1M761 19.5h1m24 0h1m25 0h1m11 0h1M837 20.5h1m18 0h1m3 0h1m1 0h1m7 0h1m1 0h1m5 0h1m1 0h1m8 0h3m1 0h1m3 0h1m4 0h3m7 0h1m2 0h2m23 0h1m12 0h1m11 0h1m7 0h2m2 0h1m12 0h3m5 0h1m1 0h1m23 0h2m3 0h1m10 0h1m1 0h1m1 0h2m12 0h1m3 0h1m3 0h1m2 0h1m1 0h1m6 0h1m2 0h1M58 21.5h1m104 0h1m361 0h1m40 0h1m75 0h1M45 22.5h1m10 0h1m36 0h1m21 0h1m2 0h1m16 0h1m4 0h1m234 0h1m80 0h1m6 0h1m26 0h1m3 0h1m12 0h1m36 0h1m5 0h1m16 0h1m30 0h1m57 0h1m13 0h1m5 0h1m22 0h1M761 24.5h1m81 0h1m17 0h1m139 0h1m2 0h1m80 0h1M431 25.5h1m219 0h1m182 0h1m10 0h1m150 0h1M62 26.5h1M841 27.5h1m8 0h2m9 0h1m7 0h2m7 0h1m1 0h1m12 0h3m52 0h1m17 0h1m27 0h2m22 0h1m56 0h2m4 0h1m9 0h1m3 0h1M765 28.5h1m1 0h1m4 0h3m8 0h1m4 0h1m33 0h1m29 0h1m40 0h1m14 0h1m134 0h1m18 0h1M535 29.5h1M287 30.5h1M1029 31.5h1M348 32.5h1m483 0h1m1 0h1m9 0h1m5 0h1m10 0h1m23 0h1m2 0h1m7 0h1m2 0h1m24 0h1m1 0h1m6 0h1m4 0h1m1 0h2m14 0h1m5 0h1m33 0h2m13 0h1m8 0h1m7 0h1m24 0h1m10 0h2m5 0h1m3 0h1m17 0h1M764 34.5h1m1 0h1m12 0h1m43 0h1m7 0h1m75 0h1m167 0h1M758 35.5h1m8 0h1m2 0h1m1 0h2m1 0h1m1 0h1m3 0h1m9 0h1m4 0h1M56 36.5h1m785 0h1m9 0h2m1 0h1m12 0h1m1 0h1m1 0h2m19 0h2m1 0h1m9 0h1m12 0h1m3 0h1m1 0h1m4 0h1m9 0h1m1 0h1m3 0h1m5 0h1m4 0h1m5 0h1m5 0h1m7 0h1m3 0h1m4 0h2m3 0h2m6 0h1m2 0h2m4 0h1m5 0h1m1 0h1m7 0h1m16 0h1m2 0h3m1 0h1m3 0h2m4 0h1m3 0h1m1 0h1m1 0h2m5 0h1m1 0h1m2 0h1m3 0h1m1 0h3m4 0h1M555 38.5h1m35 0h1m178 0h1m14 0h2m39 0h1m20 0h1m1 0h1m186 0h1M1017 39.5h1m24 0h1m1 0h1m2 0h1m13 0h1M397 40.5h1m444 0h1m18 0h1m1 0h1m1 0h1m20 0h2m1 0h2m2 0h1m1 0h1m7 0h1m7 0h1m4 0h1m42 0h1m17 0h1m6 0h1m14 0h1m7 0h1m6 0h1m1 0h1m12 0h1m2 0h1m13 0h1m6 0h1m1 0h1m1 0h2m4 0h1m7 0h1m2 0h1m2 0h1m3 0h1M641 41.5h1M399 42.5h1m434 0h2m5 0h1m1 0h3m10 0h1m44 0h1m13 0h1m52 0h1m9 0h2m5 0h2m20 0h1m60 0h1M558 43.5h1m103 0h1M100 44.5h1m162 0h1m112 0h1m74 0h1M42 45.5h1M773 46.5h1m120 0h1m2 0h2m1 0h1m8 0h2m6 0h1m5 0h1m17 0h2m9 0h1m9 0h2m13 0h1m4 0h1m5 0h1m4 0h1m12 0h2m2 0h1m47 0h1M792 47.5h1M767 48.5h1m14 0h1m1 0h1m47 0h1m3 0h3m7 0h1m9 0h1m3 0h1m13 0h1m20 0h1m5 0h1m8 0h1m12 0h2m3 0h2m3 0h2m50 0h1M58 49.5h1m5 0h1m34 0h1m567 0h1M15 50.5h2m200 0h1m35 0h1M195 51.5h1m155 0h1m57 0h1m69 0h1M838 52.5h1m4 0h2m8 0h1m23 0h1m3 0h1m7 0h3m49 0h1m41 0h1m1 0h1m1 0h1m5 0h1m9 0h1m7 0h1m18 0h1m3 0h1m17 0h1m2 0h1m3 0h1m6 0h1m11 0h1m2 0h1m1 0h1m9 0h2M766 53.5h1m16 0h1"/>
<path stroke="#30ffcf" d="M111 0.5h1m38 0h1m9 0h1m98 0h1m35 0h1m57 0h1m1 0h1m124 0h1m13 0h1m220 0h1m11 0h1m52 0h1M5 1.5h1m28 0h1m2 0h1m2 0h1m6 0h1m3 0h3m15 0h1m9 0h1m13 0h1m4 0h1m9 0h1m12 0h1m564 0h1m19 0h1m5 0h1m22 0h1m7 0h1m11 0h1m2 0h1m1 0h1m1 0h1m6 0h1m5 0h2m8 0h1m5 0h2m1 0h1m1 0h1m1 0h1m4 0h1m5 0h1m2 0h1m2 0h1m1 0h1m1 0h3m7 0h1m1 0h1M172 2.5h1m11 0h1m5 0h1m6 0h1m4 0h1m23 0h1m13 0h1m4 0h1m16 0h1m5 0h1m3 0h1m23 0h1m1 0h1m1 0h1m16 0h1m13 0h1m48 0h1m2 0h1m2 0h1m6 0h1m25 0h1m3 0h1m8 0h1m129 0h1m2 0h1m2 0h1m1 0h1m5 0h1m13 0h2m3 0h1m104 0h1M184 3.5h1m25 0h1m18 0h1m23 0h1m5 0h1m12 0h1m12 0h1m18 0h1m1 0h1m10 0h1m20 0h1m2 0h1m5 0h1m13 0h1m2 0h1m23 0h1m9 0h1m73 0h1m116 0h1m293 0h1m1 0h1m73 0h1m39 0h1m10 0h1m73 0h1M56 4.5h1m147 0h2m19 0h1m22 0h1m6 0h1m14 0h1m22 0h1m18 0h1m22 0h1m4 0h1m5 0h1m21 0h1m6 0h1m12 0h1m1 0h2m7 0h1m17 0h1m6 0h3m2 0h2m10 0h1m1 0h2m61 0h1m3 0h1m63 0h1m5 0h1m140 0h1M175 5.5h1m12 0h1m41 0h1m341 0h1m195 0h1m8 0h1m65 0h1m12 0h1m38 0h1m94 0h1m20 0h1M763 6.5h1m1 0h1m11 0h1m8 0h2m5 0h1m101 0h1m6 0h1m7 0h2m23 0h1m19 0h1m1 0h1m37 0h1m65 0h1M519 7.5h1m262 0h1m45 0h1m3 0h1m1 0h1m24 0h1m6 0h1m2 0h1m5 0h4m4 0h2m3 0h1m8 0h1m4 0h1m8 0h1m9 0h1m5 0h2m2 0h1m4 0h1m4 0h1m3 0h1m4 0h1m1 0h1m2 0h2m6 0h1m3 0h2m6 0h1m11 0h1m20 0h1m2 0h1m1 0h1m2 0h2m8 0h1m13 0h1m18 0h2m4 0h2m8 0h3m4 0h1m4 0h1m1 0h4m1 0h2M0 8.5h2m34 0h1m18 0h2m14 0h1m44 0h1m5 0h1m144 0h1m69 0h1m330 0h1m9 0h1m5 0h1m1 0h1m34 0h1m4 0h1m1 0h1m11 0h3m6 0h1m22 0h1m30 0h1m7 0h1m4 0h1M118 9.5h1m164 0h1m476 0h1m2 0h1m1 0h1m2 0h1m1 0h1m10 0h1m37 0h1m41 0h1m7 0h2m32 0h1m3 0h1m6 0h1m2 0h1m9 0h1m22 0h1m63 0h1m15 0h1m8 0h1M830 10.5h1m22 0h1m2 0h1m3 0h1m12 0h1m32 0h1m21 0h1m15 0h1m11 0h1m5 0h1m3 0h1m1 0h2m10 0h1m2 0h1m3 0h1m3 0h1m49 0h1m21 0h1m14 0h1M187 11.5h1m12 0h1m37 0h1m5 0h2m12 0h1m40 0h1m265 0h1M89 13.5h1m702 0h1M712 14.5h1m116 0h1m1 0h1m1 0h1m3 0h1m1 0h2m21 0h1m3 0h1m1 0h1m5 0h1m6 0h1m5 0h1m1 0h1m14 0h1m15 0h1m7 0h3m4 0h1m7 0h1m1 0h1m23 0h2m1 0h1m1 0h1m2 0h1m4 0h1m4 0h1m3 0h3m2 0h2m2 0h1m5 0h1m1 0h1m11 0h1m2 0h1m4 0h2m2 0h1m7 0h3m5 0h1m1 0h3m1 0h1m1 0h2m12 0h1m3 0h1m6 0h3m1 0h1m8 0h2M159 15.5h1m630 0h1m107 0h1m14 0h1m10 0h1m114 0h1m1 0h1M8 16.5h2m5 0h1m2 0h1m9 0h2m1 0h1m4 0h1m7 0h1m3 0h1m4 0h1m9 0h1m1 0h1m5 0h1m1 0h1m28 0h1m14 0h1m12 0h2m7 0h2m7 0h1m53 0h1m176 0h1m19 0h1m116 0h1m14 0h1m43 0h1m42 0h1m74 0h1m1 0h1m14 0h1m31 0h1m50 0h1m25 0h1M6 17.5h1m3 0h2m1 0h1m1 0h1m8 0h1m28 0h1m24 0h1m84 0h1m554 0h1m83 0h1M4 18.5h1m2 0h3m9 0h1m37 0h1m3 0h1m5 0h1m22 0h1m154 0h1m25 0h1m281 0h1m100 0h1m6 0h1m43 0h1m17 0h1m4 0h1m87 0h1M558 19.5h1m29 0h1m174 0h1m1 0h1m21 0h1m11 0h1m2 0h1m10 0h1m4 0h1M782 20.5h1m83 0h1m27 0h2m46 0h1m1 0h1m3 0h2m13 0h1m6 0h1m1 0h1m7 0h1m3 0h1m4 0h1m7 0h1m35 0h2m12 0h1m8 0h1m8 0h1m7 0h1m11 0h1M4 21.5h1m122 0h1m5 0h1m22 0h1m1 0h1m43 0h1m346 0h1m4 0h1m76 0h1m1 0h1m75 0h1m4 0h1M18 22.5h1m113 0h2m252 0h1m63 0h1m14 0h1m29 0h1m4 0h2m3 0h1m2 0h3m9 0h2m12 0h1m19 0h1m2 0h1m1 0h1m1 0h1m6 0h1m11 0h1m12 0h1m22 0h1m36 0h1m18 0h1m5 0h1M436 24.5h1m339 0h1m13 0h1m48 0h1m48 0h2m13 0h1m2 0h1m25 0h1m26 0h1m14 0h1m12 0h2m13 0h1m2 0h1m2 0h1m6 0h1m7 0h1m23 0h1m22 0h1M326 25.5h1m108 0h1m3 0h1m32 0h1m35 0h1m321 0h1m7 0h1m1 0h1m82 0h1m14 0h1m17 0h1m54 0h1m35 0h1m11 0h1m4 0h1m20 0h2M9 26.5h1m62 0h1m5 0h1m229 0h1m392 0h1m49 0h1M827 27.5h1m1 0h1m2 0h1m81 0h1m4 0h1m25 0h1m8 0h1m22 0h1m10 0h2m31 0h1m58 0h1m13 0h1M770 28.5h1m6 0h1m8 0h1m3 0h1m41 0h1m134 0h1M405 29.5h2m26 0h1m145 0h1m174 0h1M731 30.5h1m88 0h1M333 31.5h1m573 0h1m25 0h1M645 32.5h1m207 0h1m1 0h1m13 0h1m7 0h1m6 0h1m4 0h1m1 0h1m5 0h1m10 0h1m18 0h1m3 0h1m2 0h1m10 0h1m8 0h1m11 0h1m1 0h1m3 0h2m2 0h1m27 0h1m5 0h1m1 0h1m5 0h2m1 0h1m1 0h2m2 0h1m3 0h2m12 0h2m4 0h1m4 0h1m5 0h2m2 0h3m7 0h1m3 0h1m1 0h1m8 0h2m2 0h1M10 33.5h1m432 0h1m15 0h1M20 34.5h1m738 0h1m3 0h1m1 0h1m2 0h3m4 0h2m6 0h1m48 0h1m27 0h1m150 0h1m82 0h1M8 35.5h1m750 0h1m3 0h1m1 0h2m7 0h1m17 0h2m1 0h1m4 0h1M29 36.5h1m703 0h1m101 0h1m1 0h1m5 0h1m15 0h1m4 0h1m6 0h1m3 0h1m7 0h1m2 0h1m12 0h1m2 0h1m2 0h1m3 0h4m7 0h2m10 0h1m1 0h1m4 0h1m4 0h2m5 0h1m2 0h1m1 0h1m1 0h1m5 0h1m17 0h1m2 0h1m15 0h1m2 0h4m2 0h1m6 0h1m5 0h1m1 0h4m3 0h2m17 0h1m4 0h1m11 0h1m10 0h1m1 0h1m1 0h1m3 0h3m2 0h1m1 0h1M322 37.5h1m471 0h1m54 0h1M259 38.5h1m508 0h1M292 39.5h1m165 0h1M99 40.5h1m262 0h1m471 0h1m9 0h1m12 0h1m6 0h1m2 0h1m6 0h1m3 0h1m2 0h1m3 0h1m10 0h1m4 0h1m11 0h1m1 0h1m8 0h2m4 0h2m1 0h1m18 0h1m5 0h1m4 0h1m2 0h1m1 0h1m5 0h1m1 0h1m1 0h2m2 0h1m8 0h1m5 0h2m6 0h2m3 0h2m1 0h1m4 0h1m7 0h1m1 0h1m5 0h2m7 0h2m2 0h2m1 0h1m3 0h1m1 0h1m11 0h1m3 0h1m2 0h1m9 0h5m1 0h2M506 41.5h1m327 0h1m135 0h1M695 42.5h1m143 0h2m1 0h1m14 0h1m3 0h1m15 0h1m10 0h1m6 0h1m4 0h1m13 0h1m14 0h2m11 0h1m11 0h1m9 0h1m10 0h1m29 0h1m2 0h1m1 0h1m6 0h1m1 0h1m23 0h1m12 0h1m6 0h3m6 0h1m19 0h1M377 43.5h1m161 0h1M51 44.5h1m71 0h1m45 0h1m110 0h1m81 0h1m115 0h1m92 0h1m167 0h1M435 45.5h1M92 46.5h1m12 0h1m678 0h1m2 0h1m2 0h2m8 0h1m12 0h1m32 0h1m36 0h1m12 0h1m14 0h1m27 0h1m4 0h1m58 0h1m29 0h1m57 0h1M793 47.5h1M9 48.5h1m762 0h1m77 0h1m10 0h1m1 0h1m3 0h1m1 0h1m1 0h1m7 0h1m1 0h2m9 0h1m1 0h1m7 0h1m1 0h1m1 0h2m4 0h2m1 0h1m4 0h1m1 0h1m14 0h1m12 0h1m37 0h1m17 0h1m2 0h2m2 0h1m39 0h1m1 0h1m25 0h1m13 0h1M91 49.5h1m88 0h1m182 0h2m123 0h1M75 50.5h1m16 0h1m8 0h1m80 0h1m1 0h1m24 0h1m123 0h1m46 0h1m421 0h1M28 51.5h1m2 0h1m206 0h1m37 0h1m57 0h1m192 0h1m68 0h1M782 52.5h1m5 0h1m3 0h1m53 0h1m52 0h1m16 0h1m2 0h1m13 0h1m11 0h1m10 0h1m14 0h1m40 0h1m7 0h1m14 0h1m21 0h1M25 53.5h1m118 0h1m237 0h1m300 0h1m58 0h1m25 0h3m8 0h1m2 0h1m2 0h2m4 0h1m29 0h1"/>
<path stroke="#40ffbf" d="M71 0.5h1m14 0h1m61 0h1m17 0h1m23 0h1m44 0h2m11 0h1m15 0h1m39 0h1m2 0h1m41 0h1m2 0h1m3 0h1m28 0h2m99 0h1m207 0h1m26 0h1m10 0h1m18 0h1m9 0h1m6 0h1m23 0h1m18 0h1m3 0h1M1 1.5h1m10 0h1m18 0h2m2 0h1m3 0h1m4 0h2m8 0h1m6 0h1m1 0h2m5 0h2m1 0h3m2 0h1m5 0h1m26 0h2m5 0h1m23 0h1m149 0h1m37 0h1m54 0h2m5 0h2m14 0h1m245 0h1m8 0h1m6 0h1m9 0h1m2 0h2m2 0h1m17 0h1m7 0h1m5 0h1m4 0h2m3 0h1m10 0h1m3 0h2m7 0h1m13 0h1m2 0h3m9 0h1m4 0h1m1 0h1m3 0h1m8 0h1m3 0h1m1 0h1m5 0h1m1 0h1m1 0h1m3 0h3m5 0h1M166 2.5h2m5 0h1m6 0h1m5 0h1m5 0h1m5 0h2m1 0h1m10 0h1m3 0h1m1 0h1m17 0h2m4 0h1m4 0h1m1 0h1m1 0h1m2 0h3m7 0h4m1 0h1m1 0h1m6 0h2m8 0h2m1 0h1m3 0h1m26 0h1m6 0h2m10 0h1m2 0h1m32 0h1m4 0h1m5 0h3m1 0h1m5 0h1m4 0h1m11 0h1m8 0h3m1 0h2m1 0h1m2 0h1m2 0h1m1 0h1m1 0h1m19 0h1m27 0h1m5 0h1m59 0h1m7 0h1m3 0h1m1 0h1m3 0h1m5 0h1m4 0h1m3 0h1m3 0h2m2 0h2m31 0h1m89 0h1m51 0h1m3 0h1m55 0h1m87 0h1m136 0h1M175 3.5h1m1 0h1m2 0h1m8 0h1m6 0h1m10 0h2m3 0h1m3 0h1m7 0h1m1 0h3m1 0h2m5 0h1m6 0h1m7 0h1m3 0h2m6 0h1m2 0h2m18 0h1m3 0h1m6 0h1m6 0h1m2 0h1m5 0h1m5 0h2m5 0h1m1 0h1m7 0h1m11 0h1m6 0h1m6 0h1m10 0h1m10 0h1m6 0h1m1 0h1m2 0h1m3 0h1m2 0h1m2 0h1m1 0h3m2 0h1m9 0h1m2 0h1m4 0h3m1 0h1m25 0h1m49 0h1m3 0h2m6 0h1m43 0h1m269 0h1m2 0h1m15 0h1m1 0h1m8 0h1m4 0h1m12 0h1m1 0h1m1 0h1m2 0h1m40 0h1m1 0h1m18 0h1m9 0h1m13 0h1m5 0h1m8 0h1m10 0h1m2 0h1m3 0h1m22 0h1m44 0h1M28 4.5h1m73 0h1m68 0h1m15 0h1m11 0h1m18 0h1m2 0h1m9 0h1m20 0h1m13 0h1m50 0h1m1 0h1m14 0h1m4 0h1m7 0h2m17 0h1m10 0h1m3 0h1m1 0h1m1 0h2m2 0h1m3 0h1m8 0h1m7 0h1m1 0h1m19 0h1m1 0h1m3 0h2m2 0h1m11 0h1m54 0h1m6 0h1m1 0h1m1 0h1m18 0h1m5 0h1m1 0h1m2 0h2m6 0h2m3 0h1m9 0h1m142 0h1M159 5.5h1m19 0h1m11 0h1m7 0h1m11 0h1m17 0h1m20 0h1m32 0h1m27 0h1m46 0h2m410 0h1m7 0h1M589 6.5h1m1 0h1m170 0h1m3 0h1m4 0h2m1 0h2m4 0h1m2 0h2m7 0h1m1 0h1m27 0h1m64 0h1m171 0h1M576 7.5h1m185 0h1m3 0h2m5 0h2m1 0h2m1 0h1m3 0h1m1 0h1m41 0h1m1 0h1m1 0h1m4 0h2m4 0h1m8 0h2m3 0h1m1 0h1m11 0h3m6 0h3m5 0h1m2 0h1m1 0h3m3 0h1m4 0h1m5 0h1m2 0h1m2 0h1m1 0h1m2 0h1m3 0h1m1 0h1m2 0h1m3 0h1m4 0h1m4 0h1m2 0h1m2 0h1m12 0h1m7 0h3m1 0h1m1 0h1m6 0h2m5 0h2m6 0h2m4 0h1m10 0h1m9 0h1m1 0h2m3 0h1m9 0h4m2 0h2m4 0h1m1 0h1m6 0h1m3 0h1m2 0h1m10 0h1m11 0h1M15 8.5h1m21 0h1m20 0h1m7 0h1m11 0h1m9 0h1m9 0h1m12 0h1m11 0h1m214 0h1m67 0h1m156 0h1m56 0h1m2 0h1m2 0h1m12 0h1m17 0h3m10 0h1m8 0h1m44 0h1m5 0h1m2 0h1m5 0h1m6 0h2m2 0h1m2 0h1m1 0h1m2 0h3m12 0h1m10 0h1m14 0h1m1 0h1m2 0h1m20 0h1m2 0h1m31 0h1M759 9.5h1m4 0h1m2 0h1m3 0h1m6 0h1m6 0h1m18 0h1m6 0h1m6 0h1m13 0h1m22 0h1m16 0h1m16 0h1m4 0h2m8 0h1m5 0h1m1 0h1m15 0h1m3 0h1m2 0h1m48 0h1m22 0h1m7 0h1m12 0h1m2 0h1m13 0h1m16 0h1m1 0h3m9 0h1m14 0h1M169 10.5h1m49 0h1m486 0h1m22 0h1m129 0h1m5 0h1m5 0h1m36 0h1m13 0h1m1 0h1m5 0h1m6 0h3m1 0h2m7 0h1m22 0h1m1 0h1m2 0h1m2 0h1m6 0h1m11 0h1m4 0h3m12 0h1m3 0h1m2 0h2m6 0h1m8 0h1m8 0h1m1 0h1m4 0h1m4 0h1m2 0h1m10 0h2m1 0h1m1 0h1m1 0h1m2 0h2m1 0h1m2 0h1M186 11.5h1m15 0h1m19 0h1m13 0h1m11 0h1m4 0h2m5 0h1m4 0h1m3 0h1m28 0h1m181 0h1m74 0h2m11 0h1m5 0h2m13 0h1m1 0h1m3 0h1m30 0h1m30 0h1m24 0h1m56 0h1m139 0h1M217 12.5h1m196 0h1m214 0h1m121 0h1m61 0h1m12 0h1M246 13.5h1m674 0h1m21 0h1M614 14.5h1m211 0h1m3 0h1m21 0h2m1 0h1m1 0h3m1 0h1m7 0h1m3 0h1m8 0h1m3 0h1m1 0h1m6 0h1m2 0h1m4 0h1m3 0h2m3 0h2m5 0h1m2 0h1m17 0h1m6 0h4m2 0h1m1 0h1m7 0h1m7 0h1m1 0h1m1 0h2m18 0h1m7 0h2m4 0h1m11 0h2m1 0h1m1 0h1m4 0h1m11 0h1m11 0h1m3 0h1m1 0h1m9 0h1m1 0h1m1 0h1m1 0h1m2 0h1m3 0h1m4 0h1m1 0h1M229 15.5h1m577 0h1m38 0h1m6 0h1m30 0h1m4 0h2m44 0h1m17 0h1m5 0h1m5 0h1m57 0h1m57 0h1M0 16.5h1m1 0h2m1 0h1m1 0h1m2 0h1m3 0h1m1 0h1m2 0h3m3 0h2m3 0h1m1 0h2m12 0h2m2 0h1m4 0h2m1 0h1m3 0h1m4 0h1m2 0h1m1 0h1m1 0h1m2 0h1m1 0h1m1 0h1m1 0h1m10 0h1m5 0h1m27 0h1m4 0h1m125 0h1m1 0h1m2 0h1m26 0h1m114 0h1m8 0h1m1 0h1m11 0h1m44 0h1m74 0h1m11 0h1m15 0h1m74 0h1m8 0h1m27 0h2m6 0h1m16 0h1m6 0h1m2 0h1m16 0h1m1 0h1m3 0h1m1 0h1m4 0h1m37 0h1m1 0h1m5 0h1m10 0h1m1 0h1m3 0h1M4 17.5h2m2 0h1m3 0h1m13 0h1m12 0h1m24 0h1m14 0h1m5 0h1m5 0h1m47 0h1m9 0h1m1 0h1m158 0h1m51 0h1m122 0h1m78 0h1m216 0h1m10 0h1m15 0h1m10 0h1m7 0h1M1 18.5h1m4 0h1m3 0h1m2 0h2m2 0h1m6 0h1m16 0h1m4 0h1m2 0h1m4 0h1m7 0h1m5 0h1m85 0h1m24 0h1m89 0h1m221 0h1m107 0h1m53 0h1m55 0h1m100 0h1M74 19.5h1m106 0h1m11 0h1m19 0h1m327 0h1m12 0h1m5 0h1m107 0h1m91 0h1m6 0h1m2 0h3m2 0h1m1 0h2m10 0h1m2 0h2m2 0h2m2 0h2m2 0h2m2 0h3m9 0h2m4 0h1m12 0h1M917 20.5h1m141 0h1m10 0h1m1 0h1m4 0h1m1 0h1M19 21.5h1m7 0h1m1 0h1m6 0h1m14 0h1m1 0h1m2 0h1m4 0h2m3 0h1m31 0h1m8 0h2m2 0h1m2 0h1m16 0h1m10 0h1m45 0h1m12 0h1m5 0h1m2 0h1m15 0h1m12 0h1m44 0h1m63 0h1m113 0h1m49 0h1m26 0h1m8 0h1m2 0h1m10 0h1m4 0h1m4 0h1m22 0h1m8 0h1m7 0h1m6 0h1m10 0h1m15 0h1m5 0h2m21 0h1m32 0h1m3 0h1M134 22.5h1m1 0h1m101 0h2m2 0h1m38 0h1m114 0h1m54 0h1m14 0h1m2 0h2m17 0h1m2 0h2m6 0h1m3 0h2m1 0h1m12 0h1m4 0h1m13 0h1m2 0h1m3 0h3m3 0h1m8 0h1m4 0h1m4 0h4m4 0h1m17 0h1m10 0h2m5 0h1m4 0h1m2 0h1m46 0h1m7 0h1m18 0h1M148 23.5h1m169 0h1M70 24.5h1m67 0h1m57 0h1m55 0h1m302 0h1m160 0h1m1 0h1m52 0h1m19 0h1m16 0h1m29 0h1m11 0h1m4 0h1m15 0h1m7 0h1m5 0h1m21 0h1m11 0h1m20 0h1m1 0h1m5 0h1m1 0h1m4 0h1m2 0h1m4 0h1m3 0h1m3 0h1m10 0h2m2 0h1m9 0h1m3 0h1m2 0h1m9 0h2m7 0h1m5 0h1m2 0h1m22 0h1m8 0h1m4 0h2m3 0h2m4 0h1m1 0h1m6 0h1m3 0h1m1 0h2M376 25.5h1m11 0h1m18 0h2m8 0h1m10 0h1m4 0h2m6 0h1m9 0h1m5 0h1m375 0h1m1 0h1m1 0h1m1 0h1m1 0h1m1 0h1m9 0h1m27 0h2m16 0h1m27 0h1m17 0h1m1 0h1m2 0h1m1 0h1m17 0h1m41 0h1m1 0h1m4 0h1m62 0h1m6 0h1m1 0h1M16 26.5h2m12 0h1m38 0h1m3 0h1m60 0h1m10 0h1m123 0h1m76 0h1m163 0h1m32 0h1m2 0h1m24 0h1m82 0h1m22 0h1m8 0h1m21 0h1m2 0h1m2 0h1m2 0h1m14 0h1m5 0h1m13 0h2m53 0h1m18 0h1M14 27.5h1m749 0h1m61 0h1m63 0h1m27 0h1m1 0h1m90 0h1M125 28.5h1m81 0h1m213 0h1m80 0h1m128 0h1m131 0h1m5 0h1m5 0h1m2 0h1m1 0h2m5 0h1m1 0h1m2 0h1m22 0h1m8 0h1m2 0h1m1 0h2m178 0h1M390 29.5h1m16 0h1m75 0h1m212 0h1m55 0h2M9 30.5h1m10 0h1m59 0h1m9 0h1m35 0h1m268 0h1m221 0h1m195 0h1M62 31.5h1m63 0h1m81 0h1m50 0h1M129 32.5h1m49 0h1m657 0h1m5 0h1m1 0h2m4 0h2m4 0h1m7 0h1m1 0h1m4 0h1m1 0h3m9 0h1m3 0h1m7 0h1m1 0h1m4 0h1m1 0h1m3 0h1m2 0h3m20 0h1m6 0h1m3 0h1m2 0h1m6 0h1m2 0h1m3 0h1m8 0h2m4 0h1m1 0h1m6 0h1m10 0h1m1 0h1m3 0h2m7 0h1m6 0h1m6 0h1m12 0h1m4 0h2m1 0h1m1 0h1m2 0h1m5 0h1m11 0h1m5 0h1m3 0h1M420 33.5h1m40 0h1m383 0h1m4 0h1m74 0h1m20 0h1m5 0h1M347 34.5h1m413 0h2m8 0h1m8 0h1m61 0h1m13 0h1m9 0h1m20 0h1m21 0h1m4 0h1m2 0h1m9 0h1m7 0h1m6 0h1m2 0h1m40 0h1m29 0h2m5 0h1m7 0h1m13 0h1M53 35.5h1m40 0h1m669 0h1m4 0h1m6 0h1m2 0h2m3 0h1m2 0h1m2 0h1m6 0h1m7 0h1m4 0h1m4 0h1m5 0h1m3 0h2M11 36.5h1m20 0h1m3 0h1m31 0h1m56 0h1m13 0h1m6 0h1m2 0h2m390 0h1m216 0h2m8 0h1m6 0h1m2 0h1m66 0h1m4 0h2m5 0h2m8 0h1m46 0h1m1 0h2m4 0h1m49 0h1m38 0h1m7 0h1m10 0h1m23 0h1m5 0h1m2 0h1M332 37.5h1m705 0h1M190 38.5h1m657 0h1m188 0h1M202 39.5h1m420 0h1M47 40.5h1m4 0h1m16 0h1m4 0h1m31 0h1m1 0h1m19 0h1m221 0h1m54 0h1m188 0h1m242 0h1m1 0h1m3 0h1m6 0h2m1 0h1m5 0h1m6 0h1m2 0h1m3 0h1m1 0h2m2 0h2m1 0h2m7 0h2m4 0h1m1 0h1m2 0h1m3 0h1m1 0h3m1 0h1m4 0h1m1 0h1m3 0h1m3 0h2m3 0h1m6 0h2m9 0h2m1 0h1m2 0h2m4 0h1m1 0h1m4 0h4m7 0h2m6 0h1m6 0h1m4 0h2m1 0h1m5 0h1m2 0h1m2 0h1m4 0h1m1 0h1m10 0h1m25 0h1m6 0h2m10 0h1m1 0h1m1 0h1m7 0h1m2 0h1m1 0h1M143 41.5h1m6 0h1m58 0h1m46 0h1m28 0h1m116 0h1m63 0h1m4 0h1m30 0h1m14 0h1m111 0h1m37 0h1m3 0h1m349 0h1M147 42.5h1m42 0h1m56 0h1m187 0h1m23 0h2m42 0h1m69 0h1m43 0h2m75 0h1m72 0h1m64 0h1m3 0h1m9 0h1m3 0h1m7 0h1m5 0h1m1 0h2m5 0h1m13 0h1m10 0h1m3 0h1m1 0h1m4 0h1m2 0h1m7 0h1m10 0h1m16 0h1m1 0h1m1 0h1m3 0h1m1 0h1m4 0h1m1 0h1m3 0h1m3 0h2m8 0h1m3 0h2m1 0h1m8 0h1m1 0h1m4 0h1m4 0h1m1 0h1m4 0h1m1 0h2m25 0h2m17 0h1m4 0h1m1 0h2m2 0h1m6 0h1m4 0h1M69 43.5h1m54 0h1m42 0h1m4 0h1m15 0h1m40 0h1m12 0h1m16 0h1m2 0h1m2 0h1m6 0h1m26 0h1m8 0h3m65 0h1m10 0h1m36 0h1m5 0h1m2 0h1m31 0h1m74 0h1m1 0h1m21 0h1m79 0h1m10 0h1m41 0h1m8 0h1m2 0h1m13 0h1m27 0h1M20 44.5h1m11 0h1m21 0h1m7 0h1m2 0h1m13 0h1m5 0h1m4 0h1m10 0h1m28 0h1m12 0h1m32 0h1m5 0h1m9 0h1m20 0h1m11 0h1m25 0h1m17 0h2m10 0h2m31 0h1m1 0h1m18 0h3m9 0h1m77 0h1m40 0h1m12 0h3m47 0h2m3 0h1m49 0h1m41 0h1m37 0h1m21 0h1m4 0h1m58 0h1m1 0h2m51 0h1m4 0h1M21 45.5h1m4 0h1m18 0h1m45 0h1m205 0h1m28 0h1m7 0h1m8 0h1m17 0h1m57 0h1m9 0h1m108 0h1m8 0h1m65 0h1m8 0h1m83 0h1m45 0h1M63 46.5h1m12 0h1m571 0h1m95 0h2m17 0h1m3 0h1m3 0h2m1 0h1m1 0h1m8 0h1m3 0h1m36 0h1m1 0h1m60 0h1m1 0h1m24 0h1m84 0h1M795 47.5h1m11 0h1m1 0h1M613 48.5h1m157 0h1m81 0h1m1 0h1m1 0h2m13 0h2m3 0h2m8 0h2m1 0h1m2 0h1m3 0h2m18 0h1m7 0h1m1 0h1m8 0h1m1 0h1m6 0h2m11 0h1m9 0h1m3 0h1m6 0h1m6 0h1m2 0h1m1 0h1m1 0h1m3 0h1m10 0h1m3 0h1m3 0h1m6 0h1m3 0h2m4 0h1m9 0h2m3 0h1m7 0h1m2 0h1m5 0h1m1 0h1m6 0h1m2 0h1m1 0h1m4 0h1m4 0h2m3 0h1M57 49.5h1m16 0h1m25 0h1m1 0h1m21 0h1m50 0h1m8 0h1m80 0h1m100 0h1m63 0h1m51 0h1m77 0h1m10 0h1m126 0h1m43 0h1m9 0h1m49 0h1M2 50.5h2m51 0h1m10 0h1m6 0h1m5 0h1m28 0h1m36 0h1m34 0h1m103 0h1m42 0h1m56 0h1m35 0h1m9 0h1m7 0h1m245 0h1M18 51.5h1m13 0h1m53 0h1m7 0h1m2 0h1m27 0h1m10 0h1m39 0h1m4 0h1m19 0h1m4 0h1m3 0h1m83 0h1m25 0h1m46 0h1m24 0h1m19 0h1m5 0h1m72 0h1m2 0h1m31 0h1m65 0h1m4 0h1m4 0h1m49 0h2m19 0h1m8 0h1m22 0h1m46 0h1M758 52.5h1m53 0h1m15 0h1m16 0h1m55 0h1m51 0h1m22 0h1m22 0h1M32 53.5h1m1 0h1m7 0h2m15 0h1m73 0h1m2 0h1m5 0h1m4 0h1m1 0h1m1 0h1m31 0h2m7 0h1m46 0h1m36 0h1m2 0h1m6 0h1m37 0h1m29 0h1m12 0h1m49 0h1m37 0h1m86 0h1m12 0h1m7 0h1m37 0h1m127 0h1m9 0h1m7 0h1m3 0h2m1 0h1m10 0h1m5 0h1m2 0h3m1 0h1m2 0h1m2 0h1m3 0h1m11 0h1"/>
<path stroke="#50ffaf" d="M1 0.5h1m5 0h1m23 0h1m22 0h1m11 0h1m10 0h1m1 0h2m1 0h1m25 0h1m1 0h1m1 0h1m39 0h1m3 0h1m26 0h1m15 0h1m5 0h1m14 0h1m2 0h1m28 0h1m5 0h1m1 0h1m19 0h1m1 0h1m5 0h1m7 0h1m15 0h1m2 0h1m1 0h1m6 0h1m3 0h1m3 0h1m11 0h1m6 0h1m5 0h1m18 0h1m1 0h1m29 0h1m3 0h1m3 0h1m22 0h1m20 0h1m10 0h1m15 0h1m13 0h1m18 0h1m34 0h1m35 0h1m43 0h1m19 0h1m20 0h1m4 0h2m16 0h1m10 0h1m1 0h1m6 0h1m8 0h1m2 0h1m4 0h1m13 0h1m23 0h1m34 0h1m4 0h1M0 1.5h1m1 0h1m12 0h2m2 0h1m5 0h1m17 0h1m4 0h2m5 0h1m1 0h2m1 0h1m4 0h2m9 0h2m2 0h1m2 0h1m1 0h1m11 0h1m3 0h1m1 0h3m3 0h1m3 0h1m197 0h1m7 0h1m55 0h2m1 0h2m1 0h1m2 0h1m4 0h1m1 0h1m30 0h1m3 0h1m10 0h1m5 0h2m180 0h1m27 0h1m1 0h1m1 0h2m1 0h1m1 0h1m2 0h1m13 0h1m1 0h1m3 0h1m2 0h2m1 0h1m2 0h2m2 0h1m4 0h2m5 0h2m4 0h1m1 0h1m9 0h1m1 0h1m16 0h1m3 0h1m22 0h1m2 0h2m4 0h2m16 0h1m3 0h1m4 0h2m128 0h1m17 0h1m13 0h1M168 2.5h1m5 0h1m2 0h2m3 0h1m5 0h1m5 0h2m4 0h1m5 0h1m7 0h1m4 0h1m1 0h1m1 0h3m9 0h1m7 0h1m2 0h1m11 0h1m4 0h1m6 0h1m3 0h1m1 0h1m3 0h1m2 0h1m1 0h2m3 0h1m3 0h1m2 0h1m1 0h1m10 0h1m2 0h1m4 0h3m4 0h2m6 0h1m5 0h2m5 0h1m1 0h1m1 0h1m25 0h1m1 0h1m2 0h1m5 0h1m3 0h1m4 0h1m3 0h3m6 0h1m1 0h2m4 0h1m2 0h3m19 0h2m14 0h1m7 0h1m4 0h1m7 0h1m4 0h1m14 0h2m1 0h1m9 0h1m5 0h2m7 0h1m29 0h1m2 0h1m11 0h1m16 0h1m177 0h4m1 0h2m2 0h1m4 0h3m3 0h1m1 0h1m40 0h1m29 0h1m3 0h1m1 0h1m124 0h1m84 0h1m10 0h1M140 3.5h1m11 0h1m21 0h1m1 0h1m2 0h1m5 0h1m1 0h2m3 0h1m9 0h2m7 0h1m1 0h3m4 0h2m14 0h1m3 0h1m2 0h1m1 0h1m1 0h2m1 0h2m6 0h1m1 0h1m4 0h1m7 0h2m2 0h2m1 0h1m1 0h1m1 0h1m4 0h2m1 0h1m2 0h1m1 0h1m5 0h1m5 0h1m3 0h1m1 0h2m5 0h1m1 0h1m3 0h1m1 0h1m9 0h1m2 0h1m2 0h1m1 0h1m1 0h1m2 0h3m6 0h1m3 0h1m2 0h1m5 0h2m2 0h1m3 0h1m3 0h1m2 0h1m2 0h1m1 0h2m3 0h1m5 0h1m1 0h1m4 0h1m3 0h5m34 0h1m6 0h2m3 0h1m5 0h2m2 0h1m9 0h1m1 0h1m2 0h1m25 0h1m11 0h1m11 0h2m4 0h1m8 0h1m139 0h1m140 0h1m2 0h2m11 0h1m21 0h1m9 0h1m3 0h1m2 0h1m12 0h1m16 0h1m4 0h1m11 0h1m6 0h1m5 0h1m2 0h1m2 0h1m3 0h1m9 0h3m1 0h1m2 0h2m15 0h1m28 0h1m11 0h1m6 0h1m1 0h1m8 0h1m17 0h1M3 4.5h3m1 0h1m46 0h1m50 0h1m61 0h2m3 0h2m2 0h2m3 0h1m9 0h1m1 0h1m16 0h1m6 0h1m28 0h2m3 0h1m2 0h1m1 0h2m7 0h1m1 0h1m1 0h1m1 0h1m2 0h2m1 0h1m3 0h1m8 0h1m1 0h1m13 0h1m4 0h1m3 0h2m1 0h1m7 0h1m1 0h1m2 0h2m10 0h1m1 0h1m3 0h1m3 0h1m1 0h1m18 0h1m1 0h1m2 0h2m1 0h1m9 0h1m2 0h1m1 0h2m1 0h1m10 0h1m2 0h2m2 0h1m1 0h2m6 0h1m6 0h2m19 0h2m1 0h1m3 0h2m8 0h1m8 0h2m5 0h1m1 0h1m3 0h1m5 0h1m1 0h1m1 0h1m2 0h1m3 0h1m4 0h1m9 0h1m4 0h1m2 0h2m6 0h1m4 0h1m5 0h1m7 0h1m1 0h1m3 0h2m1 0h2m13 0h1m30 0h1m20 0h1m19 0h2m1 0h1m19 0h1m20 0h1m4 0h1m2 0h1m4 0h1m2 0h1m6 0h1m65 0h1M157 5.5h1m14 0h2m12 0h2m1 0h1m6 0h1m3 0h3m1 0h1m5 0h1m1 0h1m2 0h1m15 0h1m11 0h1m1 0h1m2 0h2m5 0h1m10 0h1m6 0h1m6 0h1m4 0h1m5 0h1m8 0h1m11 0h1m9 0h1m6 0h1m17 0h1m3 0h2m16 0h1m79 0h1m316 0h1m4 0h1m1 0h2m1 0h1m3 0h1m2 0h3M211 6.5h1m44 0h1m47 0h1m326 0h1m136 0h1m4 0h1m4 0h1m9 0h1M248 7.5h1m90 0h1m280 0h1m139 0h1m2 0h2m3 0h4m8 0h2m2 0h1m1 0h1m1 0h1m44 0h1m4 0h1m2 0h1m3 0h2m3 0h1m2 0h1m1 0h1m1 0h1m15 0h1m12 0h1m2 0h1m1 0h1m4 0h1m2 0h2m15 0h1m1 0h1m6 0h1m6 0h1m1 0h1m2 0h1m6 0h1m8 0h1m3 0h2m2 0h1m2 0h1m1 0h1m6 0h1m5 0h4m2 0h2m1 0h2m2 0h1m13 0h2m2 0h1m7 0h2m1 0h1m1 0h2m4 0h1m3 0h2m4 0h1m1 0h1m4 0h1m3 0h1m1 0h1m8 0h1m2 0h1m3 0h1m2 0h1m12 0h1m3 0h1M2 8.5h1m2 0h1m1 0h2m1 0h1m2 0h2m2 0h2m1 0h2m3 0h3m3 0h1m10 0h1m5 0h1m1 0h2m2 0h1m4 0h1m1 0h2m5 0h1m1 0h1m1 0h1m1 0h1m1 0h1m4 0h2m9 0h1m13 0h3m3 0h1m1 0h1m3 0h2m4 0h2m1 0h1m2 0h1m6 0h1m8 0h1m14 0h1m67 0h1m5 0h1m54 0h1m4 0h1m8 0h2m2 0h1m27 0h1m48 0h1m40 0h1m2 0h1m14 0h1m58 0h1m76 0h1m3 0h1m34 0h1m36 0h1m3 0h3m4 0h1m6 0h1m5 0h1m8 0h1m1 0h1m3 0h2m2 0h1m2 0h1m1 0h1m3 0h1m2 0h1m2 0h1m1 0h1m2 0h1m2 0h2m1 0h1m3 0h1m2 0h1m2 0h3m10 0h1m5 0h1m7 0h2m2 0h1m1 0h1m2 0h1m2 0h1m10 0h1m1 0h1m2 0h1m4 0h2m5 0h1m2 0h4m6 0h1m2 0h1m1 0h1m2 0h1M31 9.5h1m46 0h1m283 0h1m398 0h2m3 0h1m5 0h1m3 0h2m2 0h1m1 0h3m7 0h1m8 0h2m2 0h1m1 0h1m1 0h1m11 0h1m1 0h1m27 0h1m12 0h1m1 0h1m4 0h1m9 0h1m17 0h1m15 0h1m2 0h1m2 0h2m8 0h1m4 0h1m1 0h3m1 0h1m6 0h1m4 0h1m1 0h1m2 0h1m1 0h1m8 0h1m1 0h1m4 0h1m3 0h1m24 0h1m2 0h1m15 0h1m3 0h1m2 0h1m7 0h1m2 0h2m4 0h1m2 0h2m5 0h2m13 0h1m10 0h1m2 0h2M110 10.5h1m20 0h1m11 0h1m81 0h1m12 0h1m33 0h1m16 0h1m54 0h1m16 0h2m192 0h1m189 0h1m86 0h1m3 0h1m3 0h1m2 0h1m7 0h2m2 0h1m8 0h1m1 0h2m2 0h1m7 0h1m4 0h1m1 0h1m6 0h2m1 0h3m7 0h1m1 0h1m5 0h2m1 0h1m4 0h1m4 0h1m2 0h1m1 0h1m1 0h1m1 0h2m8 0h4m6 0h1m1 0h3m4 0h2m6 0h1m9 0h1m11 0h1m1 0h2m1 0h1m4 0h1m9 0h1m1 0h1m2 0h1m2 0h2m2 0h1m2 0h1m2 0h1m17 0h3m4 0h2m7 0h2m4 0h1m10 0h1m3 0h1m6 0h1M102 11.5h1m32 0h1m31 0h1m1 0h1m4 0h3m4 0h2m9 0h1m13 0h1m1 0h1m6 0h2m7 0h2m13 0h1m1 0h1m1 0h1m3 0h1m2 0h1m4 0h1m1 0h1m22 0h1m1 0h1m6 0h1m10 0h1m5 0h1m23 0h1m16 0h2m208 0h1m1 0h1m2 0h2m6 0h1m1 0h1m15 0h1m3 0h1m20 0h1m11 0h1m1 0h1m41 0h1m5 0h1m2 0h1m2 0h1m1 0h1m3 0h1m1 0h1m4 0h1m11 0h1m4 0h1m8 0h1m17 0h1m85 0h1m110 0h1M4 12.5h1m89 0h1m91 0h1m158 0h1m31 0h1m13 0h1m29 0h1m26 0h1m45 0h1m132 0h1m138 0h1m160 0h1m23 0h1m6 0h1m92 0h1m13 0h1M60 13.5h1m189 0h1m189 0h1m34 0h1m128 0h1m73 0h1m4 0h1m59 0h1m233 0h1m9 0h1m10 0h1M299 14.5h1m56 0h1m101 0h1m207 0h1m41 0h1m15 0h1m7 0h1m109 0h1m8 0h1m2 0h1m8 0h1m13 0h2m11 0h4m32 0h2m4 0h1m11 0h1m6 0h1m5 0h1m6 0h3m18 0h1m2 0h1m9 0h1m6 0h1m28 0h1m11 0h1m11 0h1m5 0h2m3 0h1m6 0h1m1 0h2m6 0h2m4 0h1M368 15.5h1m9 0h1m72 0h1m335 0h1m3 0h1m32 0h1m27 0h1m12 0h1m2 0h1m8 0h2m1 0h1m1 0h1m13 0h1m11 0h1m5 0h1m5 0h1m17 0h1m6 0h1m2 0h1m6 0h1m15 0h1m4 0h1m1 0h1m7 0h1m17 0h1m19 0h2m14 0h1m2 0h2m2 0h1m4 0h2m20 0h1m4 0h1m4 0h1M12 16.5h1m4 0h1m6 0h1m2 0h1m9 0h1m2 0h1m2 0h1m1 0h1m8 0h1m5 0h1m3 0h1m11 0h1m1 0h1m1 0h1m1 0h1m1 0h2m5 0h1m1 0h1m5 0h1m1 0h1m2 0h1m2 0h1m11 0h2m1 0h1m4 0h1m4 0h1m1 0h1m1 0h1m1 0h1m4 0h1m9 0h1m33 0h1m18 0h1m49 0h1m1 0h1m1 0h1m4 0h1m7 0h2m19 0h1m79 0h2m5 0h1m23 0h1m1 0h1m3 0h1m6 0h1m2 0h1m2 0h1m15 0h2m15 0h1m3 0h1m3 0h1m35 0h2m56 0h1m8 0h1m3 0h2m15 0h1m17 0h1m51 0h1m12 0h3m1 0h1m3 0h1m5 0h2m13 0h1m2 0h1m6 0h1m3 0h1m1 0h2m3 0h1m4 0h1m2 0h1m1 0h1m6 0h2m4 0h1m4 0h1m2 0h1m43 0h2m2 0h1m8 0h1m3 0h1m3 0h1m2 0h1M3 17.5h1m3 0h1m1 0h1m7 0h1m1 0h1m1 0h1m6 0h2m2 0h3m3 0h1m2 0h2m2 0h1m14 0h1m4 0h1m2 0h2m13 0h1m4 0h1m1 0h1m26 0h1m4 0h1m21 0h3m240 0h1m21 0h1m4 0h1m41 0h1m19 0h1m4 0h1m2 0h1m26 0h1m15 0h1m34 0h1m78 0h1m17 0h1m5 0h1m10 0h1m4 0h1m9 0h1m16 0h1m41 0h1m14 0h2m4 0h1m2 0h1m1 0h1m5 0h1m10 0h2m3 0h1m2 0h1m4 0h1m4 0h1m3 0h1m7 0h2M2 18.5h1m13 0h1m8 0h3m1 0h1m14 0h1m2 0h1m3 0h3m4 0h3m2 0h1m1 0h1m4 0h3m6 0h1m1 0h1m12 0h1m10 0h1m3 0h1m14 0h1m2 0h1m3 0h1m20 0h1m4 0h1m17 0h2m12 0h1m54 0h1m1 0h1m19 0h1m7 0h1m41 0h1m4 0h1m7 0h1m39 0h1m7 0h1m129 0h1m30 0h1m92 0h1m20 0h1m3 0h1m6 0h3m14 0h1m14 0h2m1 0h1m2 0h1m24 0h1m4 0h1m1 0h1m11 0h1m65 0h1m3 0h1m2 0h1M10 19.5h1m139 0h1m39 0h1m5 0h1m13 0h2m8 0h1m85 0h1m2 0h1m55 0h1m4 0h1m26 0h1m27 0h1m59 0h1m1 0h1m10 0h1m6 0h1m32 0h2m2 0h1m1 0h1m69 0h1m84 0h1m2 0h1m23 0h1m32 0h1m2 0h1m1 0h1m3 0h1m5 0h1m4 0h2m1 0h1m1 0h1m6 0h1m6 0h1m4 0h1m2 0h2m6 0h1m7 0h2M436 20.5h1m351 0h1m20 0h1m53 0h1m220 0h1M0 21.5h4m9 0h1m2 0h2m8 0h1m1 0h1m5 0h1m12 0h1m7 0h1m4 0h1m7 0h1m2 0h1m4 0h1m5 0h1m4 0h1m9 0h1m2 0h1m1 0h3m5 0h1m12 0h1m1 0h2m5 0h1m1 0h1m1 0h2m6 0h1m2 0h1m2 0h1m1 0h1m2 0h1m1 0h1m1 0h1m14 0h2m16 0h2m4 0h1m9 0h1m7 0h2m4 0h1m13 0h2m39 0h1m45 0h1m3 0h1m9 0h2m10 0h1m5 0h2m5 0h1m2 0h3m93 0h1m14 0h1m16 0h1m5 0h2m5 0h2m14 0h1m4 0h1m19 0h1m4 0h1m6 0h1m11 0h1m2 0h2m13 0h1m12 0h1m3 0h1m9 0h1m3 0h1m5 0h1m1 0h1m5 0h1m1 0h1m3 0h1m22 0h1m4 0h1m17 0h1m3 0h1m6 0h1m6 0h1m16 0h1m10 0h1m7 0h1M155 22.5h1m31 0h1m43 0h1m5 0h1m3 0h1m5 0h1m7 0h1m6 0h1m4 0h2m6 0h1m6 0h2m4 0h1m17 0h1m8 0h1m19 0h1m4 0h1m29 0h1m7 0h1m8 0h1m31 0h1m5 0h1m26 0h1m2 0h1m12 0h1m18 0h1m1 0h1m3 0h1m8 0h1m14 0h1m19 0h1m4 0h2m5 0h1m2 0h1m13 0h1m2 0h1m4 0h1m1 0h2m6 0h1m1 0h1m1 0h1m3 0h1m1 0h1m2 0h1m12 0h2m1 0h1m1 0h1m1 0h2m6 0h1m20 0h1m1 0h1m5 0h2m17 0h1m24 0h1M63 23.5h1m19 0h1m101 0h1m118 0h1m559 0h1m52 0h1m73 0h1M42 24.5h1m166 0h1m35 0h1m41 0h1m71 0h1m283 0h1m114 0h2m4 0h1m4 0h2m2 0h1m3 0h2m2 0h1m49 0h3m1 0h1m5 0h1m11 0h1m5 0h1m5 0h1m8 0h1m9 0h1m1 0h1m4 0h5m1 0h2m1 0h1m1 0h1m1 0h1m3 0h1m7 0h1m1 0h1m5 0h1m4 0h2m16 0h1m1 0h1m4 0h1m2 0h1m4 0h1m1 0h1m4 0h1m5 0h1m4 0h1m3 0h1m5 0h1m1 0h1m16 0h2m9 0h1m3 0h2m1 0h1m4 0h1m1 0h2m6 0h1m6 0h1m3 0h1m4 0h1m12 0h2m7 0h1m2 0h1m6 0h2M187 25.5h1m40 0h1m103 0h1m41 0h2m3 0h1m1 0h1m1 0h1m2 0h2m1 0h3m6 0h1m2 0h1m2 0h1m5 0h2m3 0h2m5 0h3m4 0h1m6 0h2m4 0h1m6 0h1m2 0h1m6 0h1m2 0h1m14 0h1m3 0h1m1 0h1m4 0h1m60 0h1m150 0h1m123 0h1m2 0h3m2 0h1m3 0h1m5 0h1m1 0h1m1 0h1m13 0h1m3 0h1m11 0h1m9 0h1m1 0h1m4 0h1m1 0h1m1 0h1m8 0h1m11 0h1m3 0h1m5 0h1m1 0h1m2 0h1m1 0h2m9 0h1m1 0h1m8 0h1m5 0h1m5 0h1m1 0h1m2 0h1m2 0h1m1 0h1m3 0h2m9 0h1m5 0h1m2 0h1m1 0h1m1 0h1m5 0h1m3 0h1m10 0h2m24 0h2m16 0h1m6 0h1m7 0h1m4 0h3M6 26.5h2m25 0h1m1 0h1m9 0h2m5 0h2m2 0h1m10 0h1m3 0h1m3 0h1m10 0h1m16 0h1m4 0h1m10 0h1m6 0h1m1 0h1m6 0h1m62 0h1m9 0h1m5 0h1m140 0h1m75 0h1m99 0h1m30 0h1m4 0h2m16 0h1m79 0h2m1 0h1m14 0h1m6 0h1m24 0h1m2 0h1m11 0h1m12 0h1m11 0h1m41 0h1m25 0h1M58 27.5h1m161 0h1m58 0h1m46 0h1m447 0h1m34 0h1m7 0h1m2 0h1m7 0h1m4 0h1m8 0h1m49 0h1M61 28.5h1m186 0h1m515 0h1m1 0h1m4 0h1m4 0h1m2 0h1m4 0h1m6 0h1m1 0h1m5 0h1m11 0h3m9 0h1m1 0h2m4 0h1M34 29.5h1m21 0h2m3 0h1m65 0h1m12 0h2m35 0h1m7 0h1m2 0h1m34 0h1m52 0h1m14 0h1m74 0h1m11 0h1m3 0h1m1 0h1m6 0h1m17 0h1m2 0h1m1 0h1m7 0h1m1 0h3m185 0h1m35 0h1m4 0h1m2 0h2m2 0h2m5 0h2m8 0h2m2 0h1m1 0h1m1 0h2m2 0h1m31 0h1m19 0h1M1 30.5h1m3 0h1m15 0h1m3 0h1m5 0h1m8 0h1m5 0h1m15 0h1m20 0h1m7 0h1m8 0h1m1 0h1m51 0h1m4 0h1m1 0h1m16 0h1m6 0h1m2 0h1m9 0h1m44 0h1m13 0h1m8 0h1m37 0h1m23 0h1m1 0h1m74 0h1m6 0h1m55 0h1m23 0h1m31 0h1m197 0h2m86 0h1M2 31.5h1m3 0h1m8 0h1m21 0h1m26 0h1m2 0h2m5 0h1m19 0h1m35 0h1m37 0h1m8 0h1m40 0h1m20 0h1m17 0h1m78 0h1m11 0h1m7 0h1m6 0h1m1 0h1m19 0h1m171 0h1m3 0h1m54 0h1m12 0h1m26 0h1m47 0h1m46 0h1m2 0h1m75 0h1m15 0h1m65 0h1m140 0h1M231 32.5h1m165 0h1m35 0h1m86 0h1m54 0h1m251 0h1m1 0h1m1 0h1m3 0h1m3 0h1m16 0h1m1 0h3m1 0h1m3 0h1m1 0h1m2 0h1m1 0h1m4 0h1m2 0h1m1 0h1m3 0h1m4 0h4m7 0h1m8 0h1m5 0h2m3 0h1m1 0h1m3 0h1m6 0h1m5 0h1m4 0h1m5 0h1m3 0h1m6 0h1m2 0h1m3 0h1m7 0h1m1 0h1m2 0h5m1 0h1m8 0h1m9 0h1m4 0h1m1 0h2m7 0h2m7 0h1m8 0h2m9 0h1m2 0h1m2 0h1m9 0h1m3 0h1m11 0h4M89 33.5h1m226 0h1m57 0h1m25 0h2m25 0h1m6 0h1m23 0h1m16 0h1m11 0h1m18 0h1m131 0h1m214 0h1m2 0h1m31 0h1m8 0h1m7 0h1m67 0h1m26 0h1m8 0h1m35 0h2M2 34.5h1m30 0h1m19 0h1m3 0h1m21 0h1m7 0h1m4 0h1m170 0h1m358 0h1m41 0h1m40 0h1m52 0h1m1 0h1m12 0h1m27 0h1m22 0h2m4 0h1m2 0h2m15 0h1m2 0h1m5 0h1m1 0h1m5 0h1m1 0h1m6 0h1m2 0h1m5 0h1m13 0h1m2 0h1m1 0h1m1 0h1m11 0h4m4 0h1m3 0h1m12 0h1m6 0h1m5 0h1m3 0h1m8 0h1m5 0h1m7 0h1m15 0h1m3 0h1m6 0h1m1 0h2m5 0h2m4 0h1m3 0h1m17 0h1m8 0h1m3 0h1m13 0h1m1 0h1m9 0h2m3 0h1m3 0h1M4 35.5h3m2 0h1m2 0h1m2 0h3m8 0h1m11 0h1m25 0h1m10 0h1m24 0h1m11 0h1m4 0h1m259 0h1m52 0h1m32 0h1m307 0h1m13 0h1m12 0h1m2 0h1m10 0h1m3 0h2M13 36.5h2m13 0h1m4 0h1m15 0h1m4 0h1m4 0h2m3 0h3m6 0h3m1 0h1m35 0h1m17 0h1m10 0h1m4 0h2m189 0h1m397 0h1m9 0h1m13 0h1m13 0h1m1 0h1m3 0h1m9 0h1m6 0h1m1 0h1m11 0h1m11 0h1m32 0h1m40 0h1m52 0h1m2 0h1m13 0h1m47 0h1m18 0h1m41 0h2M98 37.5h1m108 0h1m60 0h1m155 0h1m5 0h1m52 0h1m84 0h1m41 0h1m95 0h1m34 0h1m20 0h2m20 0h1m32 0h1m29 0h2m187 0h1M213 38.5h1m2 0h1m21 0h1m12 0h1m9 0h1m17 0h1m5 0h1m13 0h1m17 0h1m248 0h1m5 0h2m3 0h1m1 0h1m8 0h1m19 0h1M92 39.5h1m34 0h1m220 0h1m7 0h1m124 0h1m55 0h1m186 0h1M10 40.5h2m3 0h1m8 0h2m19 0h2m1 0h1m6 0h1m1 0h1m30 0h1m2 0h1m6 0h1m2 0h2m14 0h1m12 0h1m21 0h1m4 0h1m46 0h1m4 0h1m129 0h1m59 0h1m43 0h1m53 0h1m4 0h1m44 0h1m44 0h1m45 0h1m1 0h1m186 0h1m7 0h2m3 0h1m4 0h2m9 0h1m1 0h1m1 0h1m10 0h1m28 0h1m6 0h1m12 0h1m13 0h1m1 0h2m3 0h2m1 0h1m9 0h1m12 0h1m15 0h1m2 0h2m2 0h1m1 0h2m8 0h1m1 0h1m14 0h1m4 0h2m4 0h2m8 0h1m11 0h1m9 0h1m1 0h2m3 0h1m6 0h1m7 0h1m9 0h1M113 41.5h1m46 0h1m7 0h2m24 0h1m25 0h1m34 0h1m100 0h1m42 0h1m26 0h1m21 0h1m3 0h1m14 0h1m4 0h3m142 0h1m48 0h1m289 0h1m29 0h1M92 42.5h1m17 0h1m2 0h1m83 0h1m8 0h1m4 0h1m86 0h1m20 0h1m62 0h1m4 0h2m5 0h2m22 0h2m7 0h1m21 0h1m7 0h2m4 0h1m1 0h1m24 0h2m14 0h3m11 0h1m12 0h1m76 0h1m4 0h1m60 0h1m5 0h1m144 0h2m4 0h1m3 0h2m12 0h1m3 0h1m6 0h1m2 0h1m5 0h1m2 0h1m1 0h1m1 0h3m1 0h1m6 0h1m3 0h1m2 0h2m5 0h1m3 0h1m2 0h2m1 0h1m2 0h2m1 0h1m2 0h1m2 0h1m1 0h2m3 0h1m2 0h3m2 0h1m2 0h3m3 0h1m5 0h1m10 0h1m9 0h2m2 0h2m7 0h1m5 0h2m5 0h1m1 0h1m4 0h1m13 0h1m1 0h1m3 0h1m2 0h2m7 0h2m8 0h3m1 0h1m3 0h2m6 0h1m1 0h1m6 0h1m3 0h1m6 0h2m6 0h1M0 43.5h1m67 0h1m1 0h1m16 0h1m22 0h1m3 0h1m4 0h2m1 0h1m3 0h1m1 0h1m14 0h1m7 0h1m3 0h1m6 0h1m8 0h1m10 0h1m14 0h1m12 0h1m12 0h2m28 0h1m6 0h2m2 0h1m1 0h1m13 0h1m12 0h1m6 0h1m10 0h1m2 0h1m9 0h2m9 0h1m21 0h1m3 0h1m2 0h1m4 0h1m12 0h1m35 0h1m2 0h2m12 0h2m6 0h1m11 0h1m33 0h1m15 0h2m20 0h1m2 0h1m7 0h1m2 0h1m13 0h1m4 0h1m2 0h1m6 0h1m1 0h1m1 0h1m3 0h1m1 0h1m3 0h1m11 0h1m12 0h1m8 0h1m17 0h1m2 0h1m2 0h1m38 0h1m7 0h1m24 0h1m6 0h1m9 0h1m87 0h1M2 44.5h1m1 0h2m5 0h1m9 0h1m4 0h1m7 0h1m9 0h1m24 0h1m5 0h1m13 0h1m3 0h2m4 0h1m3 0h2m3 0h1m3 0h2m7 0h1m2 0h1m2 0h3m2 0h3m2 0h1m8 0h1m1 0h1m7 0h1m20 0h3m6 0h2m1 0h1m7 0h1m5 0h1m7 0h1m10 0h1m1 0h1m1 0h1m2 0h1m14 0h1m4 0h1m23 0h1m13 0h1m1 0h1m17 0h1m2 0h1m1 0h1m25 0h1m3 0h1m5 0h1m3 0h1m6 0h1m5 0h1m13 0h1m3 0h1m4 0h1m10 0h1m19 0h1m11 0h1m16 0h1m6 0h1m21 0h1m6 0h1m5 0h1m14 0h1m30 0h1m53 0h1m21 0h1m3 0h1m19 0h1m22 0h1m3 0h1m2 0h1m63 0h1m18 0h1m1 0h1m2 0h2m6 0h1M31 45.5h1m6 0h1m2 0h1m70 0h1m53 0h1m41 0h1m33 0h1m2 0h1m17 0h1m3 0h1m11 0h1m15 0h1m4 0h1m6 0h1m3 0h1m1 0h1m18 0h2m3 0h1m22 0h1m4 0h1m4 0h1m65 0h2m28 0h1m3 0h1m19 0h1m6 0h1m12 0h1m47 0h1m17 0h2m36 0h1m1 0h1m21 0h1m72 0h1m37 0h1m220 0h1m80 0h1M60 46.5h1m226 0h1m180 0h1m168 0h1m123 0h2m1 0h3m1 0h2m11 0h1m1 0h1m2 0h1m19 0h1m2 0h3m5 0h1m3 0h1m3 0h1m1 0h1m206 0h1M173 47.5h1m437 0h1m13 0h1m10 0h1m26 0h1m1 0h1m77 0h1m17 0h2m36 0h2m3 0h2m2 0h1m8 0h1M560 48.5h1m7 0h1m126 0h1m62 0h1m40 0h1m1 0h1m6 0h1m4 0h2m36 0h2m6 0h1m6 0h1m1 0h1m6 0h1m4 0h1m2 0h1m1 0h1m10 0h1m11 0h1m7 0h1m1 0h1m28 0h1m7 0h2m3 0h1m6 0h1m2 0h1m4 0h1m1 0h1m3 0h1m2 0h1m5 0h1m1 0h1m3 0h1m4 0h1m1 0h2m10 0h1m4 0h1m1 0h1m3 0h1m3 0h1m8 0h3m5 0h1m2 0h3m7 0h1m3 0h1m4 0h1m2 0h2m2 0h1m1 0h1m3 0h1M0 49.5h3m4 0h2m8 0h1m9 0h1m5 0h1m13 0h1m5 0h2m1 0h1m2 0h2m9 0h1m7 0h1m2 0h1m3 0h1m6 0h1m1 0h1m24 0h1m1 0h1m3 0h1m11 0h1m18 0h1m28 0h2m12 0h1m2 0h1m8 0h1m6 0h1m1 0h1m1 0h1m8 0h1m11 0h1m13 0h1m11 0h1m15 0h1m43 0h1m28 0h1m77 0h1m12 0h1m10 0h1m34 0h1m32 0h1m27 0h2m4 0h1m17 0h1m61 0h1m5 0h1m9 0h1m6 0h1m18 0h1m9 0h1m40 0h1m9 0h1m2 0h1M9 50.5h1m15 0h1m41 0h1m6 0h1m3 0h1m3 0h3m2 0h1m3 0h1m10 0h2m12 0h1m19 0h1m19 0h1m1 0h2m7 0h1m6 0h2m9 0h2m21 0h1m2 0h2m14 0h1m13 0h1m1 0h2m6 0h1m5 0h1m2 0h1m2 0h1m18 0h2m1 0h1m6 0h1m14 0h1m13 0h1m2 0h1m1 0h1m1 0h1m5 0h1m15 0h1m2 0h1m10 0h1m43 0h1m20 0h1m5 0h1m12 0h1m11 0h1m3 0h1m5 0h1m20 0h1m5 0h1m9 0h1m1 0h1m31 0h1m18 0h1m5 0h1m4 0h1m1 0h2m4 0h1m7 0h1m19 0h1m5 0h1m3 0h1m2 0h1m25 0h1m1 0h1m5 0h1m159 0h1M1 51.5h2m3 0h2m6 0h1m1 0h1m2 0h1m7 0h1m6 0h1m14 0h1m30 0h1m1 0h1m21 0h1m14 0h1m3 0h1m2 0h1m2 0h1m3 0h1m10 0h1m15 0h1m75 0h1m26 0h1m19 0h1m23 0h1m7 0h1m1 0h1m11 0h1m3 0h1m1 0h1m17 0h1m5 0h1m8 0h1m29 0h2m3 0h1m7 0h1m16 0h1m2 0h2m22 0h1m14 0h1m11 0h1m1 0h1m2 0h1m2 0h1m6 0h1m1 0h1m9 0h1m13 0h2m5 0h1m38 0h1m6 0h2m7 0h2m1 0h1m10 0h1m11 0h2m2 0h2m3 0h1m7 0h1m12 0h1m4 0h1m8 0h1m14 0h1m6 0h2m5 0h1m23 0h1m4 0h1m2 0h2m15 0h1m84 0h1M14 52.5h1m336 0h1m109 0h1m43 0h1m245 0h1m10 0h1m2 0h1m11 0h1m30 0h1M5 53.5h1m7 0h1m3 0h1m36 0h1m9 0h1m12 0h1m23 0h1m33 0h1m5 0h1m1 0h1m1 0h1m8 0h1m39 0h1m3 0h1m2 0h1m20 0h1m6 0h1m17 0h1m12 0h1m19 0h1m19 0h1m5 0h2m1 0h1m11 0h1m9 0h1m1 0h1m1 0h1m4 0h1m10 0h1m31 0h1m8 0h1m99 0h1m6 0h1m9 0h1m1 0h1m19 0h1m1 0h1m2 0h1m1 0h1m2 0h1m10 0h1m3 0h1m4 0h1m29 0h1m8 0h1m20 0h1m4 0h1m8 0h1m21 0h1m5 0h1m3 0h2m4 0h1m41 0h1m2 0h1m9 0h1m5 0h2m5 0h1m1 0h1m11 0h1m11 0h1m5 0h1m13 0h1m2 0h1m2 0h1m2 0h1m2 0h1m5 0h1m7 0h1m272 0h1"/>
<path stroke="#60ff9f" d="M4 0.5h1m1 0h1m6 0h3m1 0h1m11 0h2m5 0h2m5 0h1m4 0h1m6 0h1m19 0h2m4 0h1m25 0h1m5 0h1m1 0h1m3 0h1m4 0h1m9 0h1m8 0h2m6 0h1m3 0h1m1 0h1m1 0h1m9 0h1m4 0h1m5 0h1m1 0h1m1 0h2m1 0h1m1 0h1m1 0h1m1 0h1m12 0h1m3 0h1m3 0h1m13 0h1m15 0h1m16 0h1m11 0h1m5 0h1m1 0h1m16 0h1m4 0h1m4 0h1m2 0h1m1 0h2m10 0h1m9 0h1m4 0h1m9 0h1m3 0h1m3 0h1m2 0h1m4 0h2m2 0h1m4 0h1m1 0h1m17 0h1m1 0h1m15 0h1m7 0h1m2 0h1m12 0h2m4 0h1m6 0h1m2 0h1m4 0h2m1 0h1m1 0h1m8 0h1m8 0h1m3 0h1m6 0h1m2 0h1m4 0h1m8 0h2m1 0h1m8 0h1m8 0h1m4 0h1m1 0h2m7 0h1m48 0h1m23 0h1m1 0h1m1 0h1m6 0h1m12 0h1m12 0h2m6 0h1m1 0h1m3 0h2m3 0h1m1 0h1m20 0h1m2 0h1m3 0h1m1 0h1m6 0h1m9 0h1m1 0h1m10 0h1m1 0h1m9 0h1m8 0h3m3 0h2m5 0h1m1 0h1m27 0h1m8 0h1m1 0h2m4 0h1m1 0h3M3 1.5h1m4 0h4m1 0h1m3 0h2m5 0h1m1 0h1m3 0h1m15 0h1m9 0h1m15 0h1m14 0h1m12 0h1m1 0h1m12 0h3m2 0h1m10 0h1m13 0h1m15 0h1m55 0h1m8 0h1m79 0h1m32 0h1m13 0h1m8 0h1m4 0h1m2 0h1m3 0h1m2 0h1m5 0h1m3 0h2m5 0h1m1 0h1m2 0h2m8 0h1m9 0h2m8 0h1m1 0h1m1 0h1m1 0h1m3 0h4m10 0h1m49 0h1m24 0h1m68 0h1m8 0h1m1 0h1m5 0h2m15 0h1m16 0h1m7 0h1m9 0h1m2 0h1m2 0h2m2 0h2m4 0h1m7 0h1m1 0h2m3 0h1m16 0h2m4 0h2m1 0h1m7 0h2m1 0h1m1 0h2m1 0h1m6 0h1m3 0h1m1 0h1m1 0h1m26 0h1m4 0h1m3 0h1m6 0h1m2 0h1m6 0h1m18 0h2m120 0h1m70 0h1m6 0h1M142 2.5h1m14 0h1m12 0h2m4 0h1m6 0h1m3 0h1m1 0h1m3 0h1m2 0h1m6 0h1m1 0h1m1 0h1m1 0h1m1 0h1m10 0h1m5 0h3m7 0h2m4 0h1m12 0h1m1 0h1m1 0h1m49 0h1m2 0h1m1 0h1m4 0h1m2 0h1m12 0h1m4 0h2m1 0h1m3 0h1m1 0h2m4 0h1m3 0h1m7 0h1m4 0h1m10 0h1m9 0h1m1 0h1m6 0h2m1 0h2m7 0h1m1 0h1m8 0h1m2 0h1m2 0h1m1 0h1m8 0h1m3 0h1m4 0h1m3 0h1m1 0h2m1 0h1m1 0h1m2 0h1m10 0h1m3 0h2m6 0h1m1 0h1m3 0h1m6 0h5m3 0h1m18 0h1m3 0h1m13 0h1m12 0h1m4 0h1m11 0h1m19 0h2m2 0h1m3 0h1m23 0h2m154 0h1m1 0h1m1 0h1m1 0h1m29 0h1m1 0h1m3 0h1m23 0h1m1 0h1m10 0h1m9 0h1m40 0h1m6 0h1m14 0h1m15 0h1m4 0h1m17 0h1m21 0h1m80 0h1m2 0h1m1 0h1M141 3.5h1m5 0h1m3 0h1m3 0h1m10 0h1m1 0h2m8 0h1m4 0h1m2 0h1m4 0h1m5 0h3m4 0h3m2 0h1m8 0h1m4 0h1m11 0h1m2 0h2m6 0h1m7 0h2m5 0h2m3 0h1m3 0h1m4 0h1m7 0h1m2 0h1m1 0h1m11 0h1m10 0h2m5 0h1m4 0h1m1 0h1m5 0h1m2 0h1m9 0h1m7 0h1m5 0h3m4 0h1m2 0h1m1 0h1m11 0h1m1 0h1m6 0h1m20 0h1m3 0h1m6 0h1m2 0h1m2 0h1m8 0h1m3 0h1m1 0h1m6 0h1m3 0h1m3 0h3m8 0h1m8 0h1m3 0h2m9 0h1m1 0h1m1 0h1m9 0h1m9 0h1m1 0h2m7 0h2m8 0h1m5 0h1m8 0h1m2 0h1m3 0h2m6 0h1m42 0h1m28 0h1m31 0h1m158 0h1m2 0h2m9 0h1m7 0h1m1 0h1m3 0h2m1 0h2m2 0h1m1 0h1m9 0h1m2 0h1m6 0h1m5 0h1m2 0h1m10 0h1m3 0h3m2 0h1m2 0h1m4 0h1m3 0h1m4 0h1m4 0h1m3 0h1m5 0h1m7 0h1m2 0h1m7 0h1m3 0h1m6 0h1m3 0h1m1 0h2m2 0h1m5 0h2m2 0h1m10 0h1m8 0h4m2 0h1m1 0h1m5 0h1m6 0h1m9 0h2m21 0h1m10 0h3m4 0h2M0 4.5h3m5 0h2m7 0h1m1 0h2m3 0h1m2 0h1m1 0h1m2 0h1m11 0h1m2 0h1m4 0h1m11 0h1m2 0h1m10 0h2m4 0h1m3 0h1m42 0h1m17 0h1m6 0h1m9 0h1m3 0h1m4 0h1m8 0h1m1 0h1m1 0h1m6 0h2m1 0h1m1 0h4m5 0h1m3 0h1m1 0h1m3 0h2m3 0h1m1 0h1m2 0h2m4 0h1m5 0h2m2 0h1m7 0h1m5 0h1m2 0h1m9 0h1m6 0h1m2 0h3m15 0h1m6 0h4m2 0h2m5 0h3m1 0h2m3 0h1m6 0h1m4 0h2m7 0h2m2 0h1m2 0h1m1 0h2m6 0h1m2 0h1m34 0h2m2 0h1m3 0h1m5 0h1m7 0h1m3 0h1m1 0h1m3 0h1m2 0h1m8 0h2m4 0h1m6 0h1m2 0h2m2 0h1m5 0h1m4 0h2m6 0h1m11 0h1m1 0h1m16 0h1m8 0h1m2 0h1m1 0h2m3 0h1m5 0h1m1 0h1m6 0h1m6 0h2m14 0h3m9 0h2m2 0h1m1 0h1m1 0h2m15 0h1m2 0h1m8 0h1m8 0h1m5 0h1m1 0h1m2 0h1m7 0h3m4 0h1m4 0h1m5 0h2m9 0h1m2 0h2m7 0h1m6 0h1m12 0h1m11 0h1m4 0h1m23 0h1m2 0h1m59 0h1M138 5.5h2m3 0h1m2 0h1m5 0h2m15 0h1m1 0h1m4 0h3m3 0h1m1 0h2m8 0h1m10 0h1m2 0h1m4 0h1m9 0h1m15 0h2m3 0h1m1 0h1m10 0h1m3 0h1m2 0h1m3 0h2m16 0h2m1 0h2m2 0h1m19 0h1m1 0h1m5 0h1m2 0h3m1 0h1m1 0h2m1 0h1m6 0h1m1 0h2m12 0h1m6 0h1m6 0h1m5 0h1m172 0h1m51 0h1m13 0h2m21 0h1m133 0h1m2 0h1m3 0h1m1 0h1m5 0h1m37 0h1M5 6.5h1m38 0h1m43 0h1m117 0h1m3 0h1m56 0h1m15 0h1m49 0h1m5 0h2m39 0h2m17 0h1m14 0h1m45 0h1m22 0h1m16 0h1m118 0h1m9 0h1m9 0h1m2 0h1m96 0h1m21 0h1m5 0h1m21 0h3m27 0h1M88 7.5h1m29 0h1m17 0h1m8 0h1m38 0h1m232 0h1m11 0h2m72 0h1m32 0h1m217 0h1m6 0h1m10 0h1m14 0h1m55 0h1m17 0h2m1 0h1m39 0h1m2 0h1m22 0h1m9 0h1m1 0h1m17 0h1m33 0h1m1 0h2m4 0h1m11 0h1m20 0h1m15 0h1m1 0h1m24 0h3m2 0h1M4 8.5h1m1 0h1m2 0h1m1 0h2m3 0h1m2 0h1m4 0h1m14 0h2m2 0h1m1 0h2m2 0h1m2 0h1m10 0h1m1 0h1m1 0h1m5 0h1m1 0h1m3 0h2m3 0h2m1 0h1m1 0h1m1 0h1m1 0h1m7 0h3m9 0h1m7 0h1m7 0h1m1 0h1m17 0h1m31 0h1m9 0h1m7 0h1m12 0h1m6 0h1m33 0h1m4 0h2m26 0h2m6 0h1m4 0h1m6 0h1m9 0h1m6 0h1m3 0h2m1 0h2m2 0h1m5 0h1m1 0h2m14 0h1m4 0h1m4 0h1m1 0h1m17 0h1m12 0h1m1 0h1m3 0h1m5 0h1m1 0h1m4 0h1m10 0h1m2 0h1m1 0h2m1 0h2m1 0h2m37 0h1m16 0h4m2 0h1m2 0h1m2 0h1m1 0h1m8 0h1m13 0h2m36 0h1m1 0h1m15 0h1m2 0h1m14 0h1m7 0h2m6 0h1m1 0h2m11 0h1m2 0h2m2 0h1m6 0h1m9 0h2m9 0h1m1 0h1m4 0h2m1 0h1m2 0h1m1 0h1m2 0h1m4 0h1m8 0h1m1 0h1m2 0h1m5 0h1m1 0h1m6 0h1m3 0h1m6 0h1m30 0h1m6 0h1m3 0h4m2 0h1m1 0h2m4 0h1m2 0h2m15 0h1m2 0h1m1 0h1m1 0h2m3 0h1M1 9.5h1m69 0h1m4 0h1m38 0h1m15 0h1m4 0h1m129 0h1m50 0h1m3 0h1m4 0h1m2 0h1m3 0h1m2 0h1m3 0h1m253 0h1m137 0h1m25 0h1m10 0h1m3 0h3m3 0h1m7 0h1m3 0h1m1 0h3m1 0h1m2 0h1m2 0h1m4 0h1m1 0h1m1 0h2m6 0h1m1 0h1m2 0h2m1 0h1m17 0h1m7 0h1m7 0h1m2 0h1m1 0h1m9 0h1m1 0h1m4 0h2m5 0h2m5 0h1m3 0h1m3 0h1m1 0h1m7 0h1m2 0h1m3 0h1m5 0h1m3 0h2m13 0h1m3 0h2m4 0h1m1 0h1m1 0h6m3 0h1m2 0h1m1 0h1m5 0h1m2 0h1m3 0h2m2 0h1m5 0h1m1 0h2m5 0h1m1 0h1m2 0h1m2 0h1m1 0h3m3 0h1m10 0h1m5 0h1m4 0h3m1 0h1m3 0h2m5 0h1m6 0h2m2 0h2m6 0h1m2 0h2m1 0h1M62 10.5h1m20 0h1m46 0h1m1 0h1m6 0h1m7 0h1m3 0h1m15 0h1m17 0h1m49 0h1m19 0h1m13 0h1m18 0h1m40 0h2m6 0h1m19 0h1m2 0h1m2 0h1m106 0h1m85 0h1m5 0h1m26 0h2m6 0h1m27 0h1m50 0h1m3 0h1m7 0h1m1 0h1m22 0h1m6 0h1m28 0h1m8 0h1m5 0h1m22 0h1m45 0h1m4 0h2m4 0h3m7 0h1m2 0h2m2 0h1m1 0h1m5 0h1m4 0h1m4 0h1m1 0h1m2 0h1m5 0h1m8 0h6m4 0h3m3 0h1m4 0h1m4 0h1m1 0h1m4 0h1m1 0h1m8 0h1m5 0h1m2 0h1m1 0h1m5 0h1m9 0h1m3 0h1m1 0h2m1 0h1m10 0h1m2 0h1m4 0h1m3 0h1m7 0h1m4 0h1m2 0h1m2 0h1m9 0h1m7 0h1m2 0h2m1 0h4m5 0h1m1 0h1m2 0h1m2 0h1m6 0h1m3 0h1m3 0h1m3 0h1m9 0h1M60 11.5h1m2 0h1m53 0h1m32 0h1m2 0h2m4 0h1m2 0h2m6 0h2m7 0h2m3 0h2m2 0h1m6 0h1m1 0h1m1 0h1m1 0h1m2 0h1m4 0h1m1 0h3m3 0h1m8 0h6m3 0h1m4 0h1m5 0h1m2 0h1m2 0h1m9 0h3m1 0h1m4 0h1m2 0h3m6 0h2m2 0h1m3 0h1m1 0h1m9 0h1m1 0h1m11 0h1m2 0h1m22 0h1m1 0h2m8 0h2m22 0h1m22 0h1m41 0h1m11 0h1m15 0h1m12 0h1m8 0h1m32 0h1m12 0h2m1 0h1m8 0h1m7 0h2m5 0h1m1 0h1m14 0h1m5 0h1m11 0h1m13 0h1m20 0h1m1 0h1m21 0h1m3 0h1m1 0h1m6 0h1m1 0h2m10 0h1m1 0h1m2 0h1m5 0h1m1 0h1m7 0h1m5 0h1m2 0h1m2 0h1m1 0h2m4 0h1m2 0h1m20 0h1m89 0h1m72 0h1m11 0h1m46 0h1m18 0h1m95 0h1M39 12.5h1m14 0h1m27 0h1m1 0h1m6 0h1m1 0h1m4 0h1m6 0h1m20 0h1m22 0h1m9 0h1m20 0h1m31 0h1m28 0h1m15 0h1m17 0h1m15 0h1m15 0h1m3 0h1m6 0h1m16 0h1m27 0h1m12 0h1m17 0h1m45 0h1m10 0h1m34 0h1m11 0h2m8 0h1m9 0h1m12 0h2m43 0h1m23 0h1m11 0h1m33 0h1m11 0h1m2 0h1m9 0h1m8 0h1m38 0h1m52 0h1m23 0h1m1 0h2m2 0h1m1 0h1m6 0h1m10 0h2m1 0h1m5 0h3m37 0h1m1 0h1m25 0h1m10 0h1m3 0h1m4 0h1m18 0h2m5 0h1m7 0h1m1 0h1m5 0h1m4 0h1m32 0h1m14 0h1m10 0h1m6 0h1m23 0h1m14 0h1M20 13.5h1m8 0h1m13 0h1m11 0h2m53 0h1m1 0h1m10 0h1m46 0h1m1 0h1m1 0h1m1 0h1m1 0h1m19 0h1m97 0h1m24 0h1m76 0h1m14 0h2m52 0h1m19 0h1m6 0h1m9 0h1m38 0h1m33 0h1m24 0h1m31 0h1m17 0h1m7 0h1m5 0h1m25 0h1m26 0h1m62 0h1m2 0h1m5 0h1m1 0h1m7 0h2m70 0h1m45 0h1m10 0h2m10 0h1m1 0h1m8 0h1m1 0h1m20 0h1m17 0h2m19 0h2m17 0h1m16 0h1m10 0h1m4 0h1m2 0h1m16 0h1M2 14.5h1m35 0h1m52 0h1m56 0h1m9 0h1m8 0h1m4 0h1m51 0h1m11 0h1m52 0h1m68 0h1m152 0h1m76 0h1m12 0h1m36 0h1m13 0h2m7 0h1m12 0h1m43 0h1m18 0h1m11 0h1m26 0h1m94 0h2m21 0h1m26 0h1m3 0h1m30 0h1m10 0h1m31 0h1m10 0h1m28 0h1m5 0h1M1 15.5h1m57 0h1m89 0h1m175 0h1m92 0h1m9 0h1m32 0h1m28 0h1m10 0h1m2 0h1m15 0h1m7 0h1m9 0h1m6 0h1m17 0h1m8 0h1m12 0h1m16 0h1m13 0h1m54 0h1m69 0h3m11 0h1m11 0h1m2 0h1m8 0h1m12 0h1m20 0h1m4 0h2m8 0h1m3 0h1m18 0h1m6 0h2m9 0h1m1 0h1m7 0h1m1 0h1m5 0h2m2 0h1m15 0h1m1 0h2m5 0h1m5 0h1m7 0h2m4 0h2m2 0h3m3 0h2m1 0h1m1 0h1m8 0h1m8 0h2m11 0h1m4 0h1m11 0h1m5 0h1m8 0h1m1 0h1m4 0h1m4 0h1m1 0h2m1 0h1m2 0h1m7 0h1m2 0h1m2 0h1m1 0h1m3 0h1m3 0h2m20 0h1m1 0h1m9 0h1M1 16.5h1m11 0h1m20 0h2m2 0h2m9 0h1m1 0h2m4 0h1m1 0h1m1 0h1m25 0h2m3 0h1m4 0h1m7 0h2m1 0h7m3 0h1m5 0h1m1 0h1m2 0h1m7 0h1m18 0h2m36 0h1m20 0h1m13 0h1m8 0h1m18 0h1m5 0h1m2 0h3m1 0h1m24 0h1m36 0h1m15 0h1m29 0h1m4 0h1m6 0h1m10 0h1m1 0h2m4 0h1m4 0h1m1 0h1m3 0h1m2 0h1m2 0h1m1 0h1m1 0h1m6 0h1m4 0h1m16 0h1m3 0h1m13 0h1m5 0h1m1 0h1m11 0h2m28 0h1m1 0h1m10 0h1m6 0h1m8 0h1m6 0h1m14 0h1m36 0h1m1 0h1m40 0h1m7 0h1m4 0h1m5 0h3m5 0h1m2 0h1m5 0h1m3 0h1m9 0h1m4 0h1m5 0h1m9 0h1m3 0h2m11 0h1m4 0h1m17 0h1m9 0h1m26 0h2m4 0h1m9 0h1M0 17.5h1m1 0h1m11 0h1m1 0h1m3 0h1m6 0h1m7 0h2m3 0h1m2 0h1m2 0h1m2 0h3m2 0h3m9 0h2m5 0h1m7 0h1m2 0h1m1 0h1m2 0h1m3 0h1m4 0h1m3 0h1m5 0h1m12 0h1m1 0h1m11 0h1m4 0h1m1 0h2m4 0h1m3 0h2m39 0h1m32 0h1m26 0h2m45 0h1m11 0h2m13 0h1m16 0h1m25 0h1m11 0h1m29 0h1m9 0h1m14 0h2m3 0h1m18 0h1m7 0h1m4 0h1m2 0h1m1 0h1m12 0h1m17 0h1m25 0h1m18 0h1m7 0h1m1 0h1m28 0h1m15 0h1m9 0h2m34 0h1m4 0h1m2 0h1m8 0h1m6 0h1m20 0h1m3 0h1m1 0h1m8 0h2m6 0h1m13 0h1m5 0h1m2 0h1m3 0h1m1 0h1m7 0h1m5 0h1m4 0h2m1 0h1m2 0h2m9 0h1m1 0h1m4 0h2m5 0h1m3 0h1m1 0h1m2 0h2m7 0h1m4 0h1m1 0h1m1 0h1M0 18.5h1m10 0h2m2 0h1m2 0h1m1 0h1m11 0h1m2 0h2m3 0h1m1 0h1m7 0h1m4 0h2m9 0h1m2 0h1m4 0h1m1 0h2m2 0h1m1 0h1m3 0h1m5 0h1m11 0h1m2 0h2m10 0h1m5 0h2m3 0h1m3 0h1m11 0h1m6 0h1m4 0h1m1 0h1m1 0h1m10 0h1m11 0h1m2 0h1m1 0h1m4 0h2m2 0h1m2 0h1m1 0h1m13 0h1m10 0h1m61 0h2m3 0h1m16 0h1m8 0h1m7 0h2m5 0h3m1 0h1m7 0h1m16 0h1m25 0h1m31 0h1m2 0h1m14 0h1m6 0h1m13 0h1m20 0h1m33 0h1m9 0h2m7 0h1m8 0h1m70 0h1m9 0h1m27 0h1m1 0h1m2 0h1m6 0h1m7 0h1m16 0h1m4 0h1m4 0h1m4 0h2m1 0h1m1 0h1m6 0h1m2 0h1m1 0h1m2 0h1m1 0h1m11 0h1m4 0h1m7 0h1m42 0h4m7 0h2m4 0h1m7 0h1M44 19.5h1m60 0h1m16 0h1m9 0h1m39 0h1m5 0h2m4 0h1m1 0h1m1 0h1m3 0h1m7 0h4m1 0h1m10 0h2m65 0h1m50 0h1m42 0h1m3 0h1m18 0h1m36 0h1m31 0h2m5 0h1m22 0h1m32 0h1m4 0h1m2 0h1m12 0h1m2 0h2m1 0h1m9 0h1m9 0h1m7 0h1m8 0h1m10 0h1m20 0h2m4 0h1m17 0h1m9 0h1m15 0h2m6 0h1m44 0h1m1 0h1m3 0h2m9 0h1m9 0h1m7 0h1m2 0h1m3 0h1m11 0h1m30 0h2m12 0h1M52 20.5h1m211 0h1m147 0h1m25 0h1m138 0h1m6 0h1m39 0h1m40 0h1m36 0h1m10 0h1m18 0h2m12 0h1m15 0h1m4 0h1m6 0h1m24 0h1m20 0h1m140 0h1M5 21.5h2m1 0h5m1 0h2m2 0h1m2 0h1m8 0h1m4 0h1m1 0h1m4 0h1m5 0h1m5 0h1m8 0h1m6 0h1m1 0h2m5 0h1m3 0h1m7 0h1m9 0h1m7 0h1m2 0h1m16 0h1m5 0h1m2 0h3m5 0h1m1 0h2m4 0h1m5 0h3m5 0h1m8 0h1m4 0h1m7 0h2m2 0h2m7 0h1m5 0h1m1 0h1m11 0h1m3 0h1m10 0h1m2 0h1m5 0h1m1 0h1m9 0h1m4 0h1m5 0h1m1 0h1m5 0h2m23 0h2m1 0h2m6 0h3m1 0h2m1 0h1m7 0h1m3 0h1m7 0h1m3 0h1m7 0h1m6 0h1m2 0h1m61 0h1m34 0h1m6 0h1m1 0h1m17 0h1m4 0h1m2 0h1m5 0h2m2 0h1m2 0h2m9 0h1m3 0h2m7 0h2m4 0h1m3 0h3m1 0h1m3 0h1m6 0h2m9 0h2m3 0h1m3 0h1m1 0h2m3 0h1m3 0h1m8 0h1m2 0h2m3 0h1m2 0h3m6 0h1m3 0h5m1 0h1m13 0h1m1 0h1m1 0h1m1 0h2m8 0h5m5 0h1m9 0h1m4 0h1m2 0h1m5 0h1m2 0h1m8 0h1m1 0h1m7 0h1m4 0h1m8 0h1m1 0h1m5 0h1m2 0h1m2 0h1m3 0h1m1 0h3M137 22.5h2m10 0h1m1 0h1m30 0h2m6 0h1m44 0h2m3 0h1m7 0h1m4 0h1m2 0h1m3 0h2m2 0h2m4 0h1m1 0h1m7 0h1m4 0h1m4 0h2m1 0h2m3 0h1m8 0h2m19 0h1m3 0h1m3 0h1m10 0h1m14 0h1m16 0h1m9 0h2m52 0h1m20 0h1m2 0h1m43 0h2m3 0h1m1 0h1m3 0h1m17 0h1m7 0h1m4 0h1m2 0h1m5 0h1m12 0h1m9 0h1m1 0h1m2 0h1m30 0h1m22 0h2m25 0h1m23 0h1M9 23.5h2m33 0h1m58 0h1m53 0h1m95 0h1m19 0h1m5 0h1m3 0h1m2 0h1m75 0h1m12 0h1m4 0h2m47 0h1m29 0h1m8 0h1m298 0h1m120 0h2m9 0h1m88 0h1m6 0h1m12 0h1m78 0h1M9 24.5h1m29 0h1m21 0h1m1 0h2m9 0h1m108 0h2m41 0h1m4 0h1m10 0h1m18 0h1m3 0h1m10 0h1m11 0h1m7 0h1m20 0h1m10 0h1m27 0h1m232 0h1m6 0h1m27 0h1m77 0h1m40 0h1m16 0h1m1 0h1m3 0h1m5 0h1m6 0h2m1 0h1m2 0h1m1 0h3m20 0h1m2 0h1m13 0h1m1 0h1m6 0h1m3 0h1m3 0h1m1 0h1m4 0h1m4 0h1m9 0h2m1 0h1m2 0h1m4 0h2m1 0h4m6 0h1m5 0h1m8 0h1m3 0h2m3 0h1m8 0h1m1 0h1m7 0h1m3 0h1m3 0h1m1 0h1m8 0h2m2 0h1m3 0h2m4 0h1m3 0h1m1 0h2m2 0h2m13 0h1m3 0h1m1 0h1m1 0h1m6 0h2m3 0h2m5 0h1m2 0h1m8 0h1m2 0h1m9 0h2m1 0h1m1 0h1m1 0h1m5 0h2m7 0h3m7 0h2m1 0h1m3 0h1m6 0h1M70 25.5h1m155 0h2m81 0h1m9 0h1m25 0h1m31 0h1m2 0h1m1 0h1m2 0h1m6 0h1m2 0h3m1 0h2m1 0h1m3 0h1m2 0h1m3 0h2m6 0h1m5 0h1m2 0h1m7 0h1m4 0h1m6 0h1m2 0h4m11 0h1m5 0h1m5 0h1m1 0h1m6 0h1m4 0h1m3 0h1m8 0h1m317 0h1m5 0h1m19 0h1m4 0h2m4 0h1m3 0h1m3 0h4m4 0h2m7 0h1m4 0h1m1 0h1m1 0h1m3 0h2m2 0h2m2 0h1m1 0h2m1 0h1m1 0h3m6 0h2m3 0h1m1 0h1m10 0h1m1 0h1m6 0h1m2 0h2m2 0h2m4 0h1m1 0h1m8 0h2m1 0h1m1 0h2m3 0h1m2 0h1m3 0h1m2 0h1m1 0h1m4 0h1m1 0h1m1 0h1m9 0h1m1 0h1m6 0h2m3 0h1m1 0h1m1 0h1m6 0h2m1 0h1m1 0h1m1 0h2m3 0h1m2 0h1m5 0h1m8 0h1m2 0h2m4 0h2m6 0h1m1 0h1M3 26.5h3m5 0h2m2 0h1m2 0h1m2 0h1m3 0h4m5 0h1m1 0h1m4 0h1m2 0h1m5 0h1m4 0h1m9 0h1m4 0h1m3 0h1m2 0h1m5 0h1m18 0h1m2 0h1m1 0h1m2 0h1m2 0h1m7 0h1m2 0h1m2 0h1m2 0h1m6 0h1m25 0h1m12 0h1m11 0h1m7 0h1m27 0h1m52 0h1m66 0h1m14 0h2m3 0h1m2 0h1m99 0h1m2 0h1m22 0h1m6 0h1m4 0h1m3 0h1m2 0h1m6 0h2m4 0h1m21 0h1m2 0h1m24 0h1m1 0h1m1 0h1m23 0h1m9 0h1m9 0h1m33 0h1m5 0h2m13 0h2m4 0h1m18 0h1m9 0h1m6 0h2m11 0h1m2 0h1m4 0h1m3 0h1m4 0h1m32 0h1m4 0h1m2 0h2m1 0h1m1 0h1m2 0h1m8 0h1m12 0h2m1 0h1M88 27.5h1m32 0h1m226 0h1m85 0h1m56 0h1m136 0h1m13 0h1m37 0h1m14 0h1m67 0h1m1 0h1m1 0h2m2 0h1m6 0h1m1 0h1m6 0h1m10 0h1m9 0h1m7 0h1m1 0h2m2 0h1M254 28.5h1m123 0h1m227 0h1m9 0h1m3 0h1m147 0h1m16 0h1m12 0h1m2 0h1m5 0h1m12 0h1M33 29.5h1m50 0h1m6 0h1m13 0h1m8 0h1m33 0h1m11 0h1m17 0h1m2 0h1m25 0h1m12 0h1m7 0h1m1 0h1m16 0h1m19 0h1m4 0h1m15 0h1m6 0h1m1 0h2m5 0h1m42 0h1m10 0h1m11 0h1m8 0h1m6 0h1m7 0h1m2 0h1m1 0h1m15 0h1m3 0h1m1 0h1m6 0h1m6 0h1m4 0h1m3 0h1m7 0h1m40 0h1m14 0h1m11 0h1m1 0h1m41 0h1m24 0h1m9 0h1m10 0h2m10 0h1m24 0h1m6 0h1m7 0h1m8 0h1m1 0h4m5 0h1m23 0h1m7 0h1m20 0h1m7 0h1m4 0h2m1 0h1M2 30.5h1m11 0h1m4 0h1m6 0h1m7 0h1m6 0h1m5 0h1m17 0h1m4 0h1m4 0h1m11 0h1m1 0h1m2 0h1m8 0h1m2 0h1m38 0h2m4 0h1m1 0h2m9 0h1m18 0h1m4 0h1m3 0h1m28 0h1m3 0h1m15 0h1m4 0h1m4 0h1m1 0h1m8 0h1m11 0h1m4 0h1m10 0h1m4 0h1m11 0h1m20 0h1m10 0h1m3 0h1m18 0h1m14 0h1m8 0h1m70 0h1m4 0h1m13 0h2m1 0h1m20 0h1m11 0h1m5 0h1m4 0h1m4 0h1m66 0h1m5 0h1m23 0h1m62 0h1m30 0h1m8 0h1m15 0h1m1 0h1m17 0h1m36 0h1m12 0h1m4 0h1M14 31.5h1m10 0h1m5 0h1m6 0h2m20 0h1m4 0h2m20 0h1m20 0h1m46 0h1m14 0h1m4 0h1m8 0h1m9 0h1m1 0h3m1 0h1m2 0h1m2 0h1m7 0h1m12 0h1m30 0h1m10 0h1m2 0h1m17 0h1m43 0h1m2 0h1m9 0h1m2 0h1m9 0h1m1 0h1m34 0h1m74 0h1m15 0h1m9 0h1m9 0h1m38 0h1m58 0h1m37 0h1m7 0h2m1 0h1m1 0h1m8 0h1m6 0h1m34 0h1m1 0h1m3 0h1m6 0h1m11 0h1m1 0h1m1 0h1m9 0h2m87 0h2m159 0h1m30 0h1M34 32.5h1m69 0h1m84 0h1m40 0h1m59 0h1m3 0h1m19 0h1m38 0h1m2 0h1m51 0h1m75 0h1m151 0h1m23 0h1m10 0h1m158 0h1m5 0h1m4 0h2m20 0h2m5 0h1m8 0h2m1 0h1m34 0h1m3 0h2m7 0h1m15 0h1m3 0h1m1 0h1m7 0h1m8 0h1m7 0h1m5 0h1m8 0h2m1 0h1m2 0h1m2 0h1m1 0h1m9 0h1m16 0h1m2 0h1m1 0h1m4 0h1m18 0h1m9 0h1m2 0h1m11 0h2m4 0h1m3 0h1M45 33.5h1m3 0h1m13 0h1m178 0h1m86 0h1m47 0h1m13 0h1m2 0h2m17 0h1m3 0h1m4 0h1m12 0h1m3 0h1m2 0h1m13 0h1m3 0h1m1 0h1m2 0h1m6 0h1m1 0h1m2 0h3m3 0h1m4 0h1m6 0h1m1 0h1m2 0h3m4 0h1m29 0h1m4 0h1m46 0h1m39 0h2m4 0h1m8 0h1m77 0h1m112 0h1m2 0h1m1 0h1m1 0h2m8 0h1m13 0h2m12 0h4m9 0h1m4 0h1m1 0h1m17 0h1m11 0h1m7 0h1m8 0h1m3 0h1m19 0h1m9 0h1m22 0h1m5 0h1m5 0h1m2 0h1m6 0h1m4 0h1m18 0h1m2 0h2m4 0h2m1 0h1m18 0h1M9 34.5h1m3 0h1m1 0h1m1 0h1m3 0h1m30 0h1m10 0h2m6 0h1m12 0h1m8 0h1m4 0h2m16 0h1m266 0h1m12 0h1m301 0h1m34 0h1m2 0h1m37 0h1m15 0h1m4 0h1m3 0h1m18 0h2m6 0h3m29 0h1m9 0h1m1 0h1m3 0h2m8 0h1m10 0h1m2 0h1m2 0h1m3 0h1m2 0h1m1 0h1m1 0h1m3 0h1m5 0h1m1 0h1m3 0h2m2 0h1m5 0h1m7 0h1m5 0h4m1 0h1m10 0h1m5 0h1m13 0h1m9 0h1m1 0h1m14 0h1m2 0h1m7 0h3m1 0h1m1 0h2m1 0h1m13 0h2m2 0h2m10 0h2m1 0h1m2 0h1m6 0h4m2 0h1m7 0h2M0 35.5h1m10 0h1m6 0h1m2 0h1m3 0h1m1 0h1m8 0h2m1 0h2m1 0h1m1 0h1m2 0h1m3 0h2m8 0h1m6 0h1m13 0h3m1 0h1m23 0h1m9 0h1m1 0h1m3 0h1m150 0h1m101 0h1m6 0h1m1 0h1m7 0h3m13 0h2m11 0h1m5 0h1m2 0h1m247 0h1m19 0h2m42 0h1m1 0h1m34 0h1m5 0h1m4 0h1m4 0h1m4 0h1m3 0h1m2 0h1m1 0h1m5 0h1m3 0h2M7 36.5h1m2 0h1m4 0h1m1 0h2m7 0h1m8 0h1m4 0h1m9 0h1m1 0h2m3 0h1m12 0h2m4 0h1m1 0h1m1 0h1m1 0h1m10 0h1m4 0h1m9 0h1m3 0h1m8 0h1m4 0h1m3 0h1m5 0h1m4 0h1m13 0h1m4 0h2m98 0h1m1 0h1m33 0h1m59 0h1m7 0h1m75 0h1m85 0h1m19 0h1m47 0h1m41 0h1m10 0h1m9 0h1m16 0h1m17 0h2m43 0h1m28 0h1m2 0h1m9 0h1m3 0h2m10 0h1m7 0h1m23 0h1m3 0h1m55 0h1m27 0h1M20 37.5h1m96 0h1m2 0h1m5 0h1m1 0h2m23 0h1m13 0h1m3 0h1m31 0h1m14 0h1m11 0h1m15 0h1m16 0h2m46 0h1m24 0h1m2 0h1m3 0h1m40 0h1m16 0h2m24 0h1m1 0h1m36 0h1m23 0h1m2 0h1m32 0h1m4 0h1m8 0h1m1 0h1m20 0h1m27 0h1m60 0h1m19 0h1m3 0h1m2 0h1m7 0h1m41 0h1m7 0h1m5 0h1m15 0h1m7 0h1m12 0h1m1 0h1m7 0h1m4 0h1m20 0h1m3 0h1m216 0h1M209 38.5h2m10 0h1m8 0h1m6 0h1m11 0h1m2 0h1m5 0h1m8 0h4m4 0h2m6 0h1m3 0h1m3 0h1m1 0h1m19 0h1m8 0h1m2 0h1m8 0h2m15 0h1m4 0h1m39 0h1m78 0h1m9 0h1m4 0h1m13 0h1m16 0h1m29 0h1m5 0h1m1 0h1m94 0h1m47 0h1m109 0h1M40 39.5h1m62 0h1m17 0h1m26 0h1m40 0h1m3 0h1m1 0h1m1 0h1m3 0h1m18 0h1m3 0h1m2 0h1m12 0h1m20 0h1m31 0h1m25 0h1m15 0h2m9 0h1m4 0h1m142 0h1m39 0h1m27 0h1m8 0h1m6 0h1m6 0h1m17 0h1m75 0h1m41 0h1m23 0h1m2 0h1m61 0h1m6 0h1M8 40.5h1m5 0h1m15 0h1m18 0h1m4 0h1m3 0h1m1 0h1m7 0h1m4 0h1m6 0h1m8 0h1m2 0h1m7 0h1m4 0h1m1 0h1m2 0h2m1 0h1m1 0h1m6 0h1m32 0h1m5 0h1m7 0h1m11 0h1m14 0h1m5 0h2m11 0h1m87 0h2m37 0h2m1 0h1m1 0h1m5 0h1m9 0h1m6 0h1m8 0h1m14 0h1m1 0h1m21 0h1m4 0h1m3 0h1m9 0h1m39 0h1m25 0h1m8 0h1m35 0h1m11 0h3m7 0h1m8 0h1m6 0h1m2 0h1m6 0h2m11 0h1m1 0h1m6 0h1m9 0h1m6 0h1m31 0h2m33 0h1m4 0h3m5 0h1m31 0h1m3 0h1m70 0h1m3 0h1m3 0h1m10 0h1m26 0h1m3 0h1m15 0h1m5 0h1m23 0h1m2 0h2m6 0h1m8 0h1m8 0h2m12 0h1m23 0h1m3 0h1m6 0h1m26 0h1m37 0h1m11 0h1m5 0h1m3 0h1M36 41.5h1m7 0h1m71 0h1m20 0h1m19 0h1m13 0h1m10 0h1m8 0h1m1 0h1m7 0h1m3 0h1m12 0h1m9 0h1m29 0h1m1 0h1m4 0h1m11 0h1m2 0h1m3 0h1m3 0h1m6 0h1m1 0h1m6 0h1m12 0h1m36 0h1m42 0h1m7 0h1m3 0h1m2 0h3m8 0h1m10 0h1m1 0h1m1 0h1m1 0h3m7 0h1m2 0h1m3 0h2m9 0h1m35 0h2m1 0h1m1 0h1m15 0h1m1 0h2m1 0h1m21 0h1m23 0h1m15 0h2m17 0h1m1 0h1m5 0h1m1 0h1m11 0h2m5 0h1m3 0h1m1 0h2m12 0h1m2 0h1m1 0h1m3 0h1m5 0h2m14 0h1m141 0h1m1 0h1m4 0h1m5 0h1m20 0h1m22 0h1m7 0h1m17 0h1m4 0h1m19 0h1m9 0h1m17 0h1m4 0h2m18 0h1m12 0h1m22 0h1m47 0h1M123 42.5h1m21 0h1m2 0h1m1 0h3m6 0h1m23 0h1m12 0h1m4 0h1m5 0h1m5 0h1m8 0h1m22 0h1m64 0h1m5 0h1m7 0h1m52 0h1m2 0h1m2 0h1m2 0h1m4 0h3m3 0h2m6 0h3m2 0h1m3 0h1m2 0h1m2 0h1m5 0h1m1 0h1m2 0h1m5 0h1m2 0h2m6 0h1m6 0h1m8 0h1m4 0h1m1 0h1m3 0h2m3 0h1m2 0h1m4 0h1m7 0h1m2 0h2m4 0h1m3 0h3m5 0h3m1 0h1m12 0h1m39 0h1m15 0h1m22 0h1m6 0h1m5 0h1m28 0h1m9 0h1m12 0h1m8 0h1m8 0h2m1 0h1m129 0h2m21 0h2m5 0h1m10 0h1m1 0h1m2 0h1m5 0h1m3 0h2m4 0h1m7 0h1m6 0h1m1 0h1m14 0h1m2 0h1m11 0h2m6 0h2m3 0h1m1 0h1m5 0h1m2 0h1m4 0h1m3 0h1m10 0h1m8 0h2m5 0h1m1 0h1m2 0h1m11 0h1m6 0h1m4 0h2m2 0h1m12 0h1m9 0h1m2 0h2m3 0h1m15 0h2m2 0h2m1 0h2m3 0h2m1 0h1M1 43.5h1m2 0h1m3 0h1m9 0h1m10 0h1m10 0h1m3 0h1m2 0h1m2 0h1m4 0h1m3 0h7m6 0h1m2 0h1m1 0h1m6 0h1m4 0h1m11 0h1m11 0h1m11 0h1m3 0h2m2 0h2m2 0h1m3 0h2m27 0h1m2 0h3m4 0h2m8 0h2m1 0h1m6 0h2m10 0h1m4 0h2m2 0h2m7 0h1m4 0h1m12 0h1m5 0h2m11 0h1m10 0h1m2 0h1m2 0h2m4 0h1m6 0h1m9 0h1m5 0h1m1 0h1m3 0h2m7 0h1m1 0h1m2 0h1m5 0h4m3 0h2m2 0h1m2 0h1m1 0h1m6 0h1m2 0h2m1 0h1m1 0h1m9 0h2m1 0h1m5 0h2m10 0h3m1 0h1m8 0h1m2 0h1m1 0h1m3 0h1m4 0h2m4 0h1m6 0h2m1 0h1m3 0h1m15 0h1m1 0h1m5 0h1m8 0h2m3 0h2m14 0h3m2 0h2m7 0h1m28 0h1m2 0h2m1 0h1m2 0h1m7 0h1m3 0h1m1 0h1m4 0h1m2 0h1m2 0h1m14 0h2m5 0h1m3 0h1m4 0h1m12 0h1m4 0h1m4 0h1m4 0h1m1 0h1m2 0h1m2 0h3m7 0h1m2 0h1m4 0h3m3 0h1m4 0h2m7 0h1m3 0h1m3 0h2m9 0h2m2 0h1m7 0h1m9 0h1m9 0h2m3 0h1m3 0h3m3 0h1m2 0h3m5 0h1m26 0h1M6 44.5h2m1 0h1m4 0h1m1 0h1m2 0h1m4 0h1m4 0h2m5 0h1m3 0h2m11 0h1m5 0h1m7 0h2m1 0h1m6 0h1m2 0h2m1 0h1m2 0h3m3 0h1m5 0h1m8 0h1m3 0h1m4 0h2m4 0h1m2 0h2m12 0h1m2 0h1m1 0h1m2 0h1m3 0h1m2 0h2m4 0h1m5 0h3m1 0h1m2 0h1m16 0h1m4 0h1m4 0h1m3 0h1m1 0h2m4 0h1m6 0h1m1 0h1m19 0h2m9 0h2m1 0h2m1 0h3m3 0h1m6 0h1m11 0h3m7 0h1m12 0h1m4 0h1m1 0h1m7 0h1m2 0h2m7 0h1m5 0h1m6 0h1m2 0h1m1 0h1m8 0h1m3 0h1m4 0h2m7 0h1m1 0h2m4 0h1m2 0h3m4 0h1m16 0h1m4 0h1m2 0h2m1 0h1m1 0h1m25 0h1m7 0h1m11 0h5m11 0h1m17 0h1m2 0h1m11 0h1m1 0h3m5 0h1m5 0h1m2 0h1m2 0h1m53 0h2m10 0h1m5 0h1m7 0h3m12 0h1m1 0h2m4 0h1m8 0h4m1 0h1m1 0h1m6 0h1m2 0h1m6 0h1m1 0h1m6 0h1m3 0h1m3 0h1m13 0h1m10 0h1m5 0h1m1 0h1m4 0h3m1 0h1m1 0h2m4 0h1m1 0h1m42 0h1m4 0h1m2 0h1m3 0h1m5 0h1m9 0h1M9 45.5h1m8 0h1m6 0h1m6 0h1m6 0h2m2 0h1m4 0h1m3 0h1m11 0h1m1 0h1m8 0h1m14 0h1m29 0h1m3 0h1m6 0h1m28 0h1m24 0h1m16 0h1m17 0h1m19 0h2m4 0h2m1 0h1m5 0h1m1 0h3m1 0h1m2 0h2m16 0h1m5 0h1m5 0h1m1 0h1m2 0h1m3 0h1m1 0h1m2 0h2m10 0h1m4 0h1m27 0h2m2 0h1m6 0h1m9 0h1m12 0h1m14 0h1m1 0h1m6 0h1m19 0h1m2 0h1m6 0h3m6 0h2m1 0h1m5 0h2m2 0h1m9 0h3m3 0h1m5 0h1m9 0h1m20 0h1m7 0h1m2 0h1m3 0h1m17 0h2m18 0h1m5 0h1m2 0h2m12 0h1m7 0h1m2 0h1m7 0h1m8 0h1m12 0h1m8 0h1m1 0h1m11 0h1m10 0h1m6 0h2m3 0h1m4 0h1m10 0h1m3 0h1m7 0h4m6 0h1m3 0h1m1 0h1m16 0h1m3 0h2m8 0h1m42 0h1m22 0h1m55 0h1m18 0h1m77 0h1m9 0h1M29 46.5h1m6 0h1m8 0h2m6 0h1m23 0h1m5 0h1m54 0h1m18 0h1m457 0h1m20 0h1m6 0h2m31 0h1m2 0h1m28 0h1m2 0h2m2 0h1m23 0h1m12 0h1m5 0h3m9 0h1m4 0h1m1 0h3m2 0h1m5 0h1m5 0h3m1 0h2m1 0h1m5 0h1m7 0h1m4 0h1m1 0h1m6 0h1m63 0h1m167 0h1M76 47.5h1m5 0h1m3 0h1m104 0h1m18 0h1m43 0h2m9 0h1m10 0h1m11 0h1m5 0h1m19 0h1m48 0h1m3 0h1m154 0h1m74 0h1m37 0h1m25 0h1m2 0h1m20 0h1m11 0h1m60 0h2m36 0h2m3 0h1m1 0h1m6 0h1m2 0h2m3 0h2M48 48.5h1m49 0h1m31 0h1m82 0h1m54 0h1m91 0h1m1 0h1m145 0h1m25 0h1m32 0h1m50 0h1m15 0h1m4 0h1m49 0h1m28 0h1m75 0h2m6 0h1m3 0h2m1 0h2m10 0h2m31 0h1m29 0h1m6 0h1m7 0h2m31 0h1m9 0h1m5 0h2m1 0h1m2 0h1m2 0h1m15 0h2m1 0h1m1 0h1m1 0h1m17 0h1m1 0h1m4 0h1m1 0h1m9 0h1m6 0h1m4 0h1m1 0h1m10 0h1m2 0h1m3 0h1m4 0h1m6 0h3m6 0h2m13 0h4M20 49.5h1m4 0h1m18 0h1m6 0h1m3 0h1m5 0h2m6 0h1m3 0h1m13 0h1m5 0h1m24 0h1m13 0h1m2 0h1m2 0h1m9 0h2m11 0h1m7 0h1m8 0h1m2 0h2m4 0h1m1 0h3m1 0h1m1 0h3m2 0h2m7 0h1m7 0h1m6 0h1m2 0h1m7 0h1m5 0h1m8 0h1m4 0h1m2 0h1m8 0h1m5 0h1m12 0h1m5 0h1m5 0h1m5 0h1m2 0h1m5 0h1m8 0h2m3 0h2m10 0h1m4 0h2m2 0h1m6 0h1m5 0h1m59 0h1m15 0h1m5 0h1m17 0h1m2 0h1m2 0h1m8 0h1m17 0h1m6 0h1m5 0h2m7 0h2m2 0h1m6 0h1m35 0h1m2 0h1m3 0h1m1 0h1m27 0h1m1 0h1m5 0h1m6 0h1m14 0h1m12 0h1m13 0h1m4 0h3m1 0h1m8 0h2m11 0h1m2 0h1m5 0h1m1 0h1m4 0h1m13 0h1m11 0h1m9 0h1m3 0h1m1 0h2m49 0h1m22 0h1m92 0h1m91 0h1m56 0h1m4 0h1M0 50.5h1m4 0h1m6 0h3m13 0h1m3 0h1m1 0h1m10 0h1m4 0h1m5 0h2m1 0h2m1 0h1m6 0h2m1 0h1m3 0h2m8 0h1m2 0h1m4 0h1m3 0h1m16 0h1m2 0h1m3 0h2m1 0h1m5 0h1m2 0h2m2 0h1m1 0h3m12 0h1m7 0h1m2 0h1m1 0h2m2 0h1m6 0h1m1 0h1m6 0h1m6 0h1m2 0h1m15 0h1m4 0h3m3 0h2m3 0h1m9 0h1m7 0h2m2 0h1m1 0h1m1 0h1m15 0h3m2 0h1m1 0h1m9 0h1m5 0h1m1 0h1m2 0h1m4 0h1m2 0h1m3 0h2m2 0h1m6 0h1m20 0h1m6 0h1m5 0h1m2 0h1m18 0h1m2 0h2m2 0h1m9 0h1m2 0h1m7 0h1m11 0h1m8 0h1m3 0h1m9 0h1m6 0h2m5 0h1m4 0h1m5 0h1m3 0h1m3 0h1m2 0h4m16 0h1m4 0h4m11 0h1m5 0h1m10 0h1m1 0h1m16 0h1m1 0h2m9 0h1m2 0h1m4 0h1m1 0h1m6 0h1m5 0h1m7 0h1m3 0h1m2 0h1m4 0h1m5 0h1m17 0h1m7 0h2m28 0h1m5 0h1m26 0h1m31 0h1m54 0h2m2 0h2m3 0h1m5 0h1m9 0h1m1 0h2M5 51.5h1m2 0h3m4 0h1m4 0h1m8 0h1m3 0h1m2 0h1m9 0h1m1 0h1m3 0h1m5 0h1m2 0h3m3 0h1m3 0h1m1 0h1m7 0h1m1 0h1m1 0h1m2 0h1m14 0h1m4 0h3m1 0h1m1 0h1m1 0h1m13 0h2m3 0h1m4 0h1m5 0h2m18 0h2m2 0h2m5 0h1m1 0h2m1 0h1m3 0h1m7 0h1m7 0h3m2 0h1m1 0h1m1 0h1m4 0h1m10 0h2m2 0h1m3 0h1m1 0h1m4 0h2m1 0h1m3 0h2m4 0h1m1 0h1m2 0h1m1 0h1m3 0h2m9 0h1m1 0h1m2 0h1m3 0h1m4 0h1m3 0h1m3 0h1m4 0h1m5 0h1m5 0h1m4 0h1m8 0h1m7 0h1m1 0h1m5 0h1m2 0h1m8 0h1m1 0h1m1 0h1m2 0h2m2 0h1m12 0h1m1 0h1m4 0h2m2 0h1m8 0h1m2 0h1m2 0h1m1 0h1m2 0h1m2 0h2m1 0h1m1 0h1m1 0h3m1 0h1m9 0h1m1 0h3m8 0h1m3 0h1m1 0h1m2 0h1m6 0h1m2 0h1m7 0h1m8 0h1m13 0h1m6 0h1m13 0h1m3 0h1m7 0h1m1 0h1m2 0h2m7 0h1m3 0h1m5 0h2m3 0h1m4 0h1m3 0h1m2 0h1m5 0h1m3 0h1m8 0h1m1 0h1m2 0h1m2 0h1m3 0h2m3 0h1m10 0h1m3 0h1m21 0h1m6 0h1m1 0h1m1 0h2m9 0h1m9 0h1m1 0h1m1 0h1m1 0h1m5 0h2m6 0h1m3 0h1m5 0h1m1 0h1m6 0h1m2 0h1m1 0h4m2 0h1m19 0h1m1 0h1m42 0h2m18 0h2m1 0h1m1 0h1M4 52.5h1m98 0h1m15 0h1m13 0h1m79 0h1m2 0h1m86 0h1m64 0h1m1 0h1m178 0h1m211 0h1m21 0h1m3 0h1m1 0h2m5 0h2m4 0h1m2 0h1m1 0h1m3 0h1m13 0h1m148 0h1M20 53.5h1m3 0h1m3 0h1m4 0h1m7 0h1m5 0h1m5 0h1m9 0h1m1 0h1m1 0h1m13 0h1m1 0h1m5 0h1m8 0h1m13 0h1m6 0h1m10 0h1m1 0h1m5 0h1m1 0h1m5 0h1m1 0h1m1 0h1m7 0h1m2 0h1m4 0h3m3 0h1m3 0h1m9 0h1m2 0h1m1 0h1m1 0h1m6 0h1m7 0h1m5 0h1m10 0h2m1 0h1m2 0h1m3 0h2m6 0h1m11 0h1m15 0h1m3 0h1m9 0h1m22 0h1m3 0h2m2 0h1m3 0h1m6 0h2m1 0h1m5 0h1m2 0h1m1 0h2m14 0h1m5 0h1m5 0h1m4 0h1m2 0h1m23 0h1m1 0h1m7 0h1m7 0h1m2 0h1m1 0h1m24 0h1m1 0h2m3 0h1m3 0h2m3 0h1m4 0h1m1 0h1m2 0h1m1 0h1m18 0h1m5 0h1m1 0h1m5 0h1m5 0h1m1 0h1m2 0h1m8 0h1m6 0h1m1 0h1m9 0h1m9 0h2m32 0h1m5 0h1m3 0h1m20 0h1m9 0h1m1 0h1m3 0h2m16 0h2m6 0h1m8 0h1m3 0h1m15 0h1m5 0h1m7 0h1m9 0h2m2 0h1m3 0h1m9 0h1m8 0h1m3 0h1m13 0h1m12 0h1m2 0h1m8 0h1m2 0h1m2 0h1m2 0h1m5 0h1m1 0h1m2 0h2m6 0h3m46 0h1m55 0h1m142 0h1m8 0h1"/>
<path stroke="#70ff8f" d="M2 0.5h2m1 0h1m2 0h1m1 0h1m5 0h1m1 0h2m6 0h2m4 0h2m1 0h1m3 0h1m2 0h1m3 0h2m16 0h1m3 0h1m18 0h1m1 0h1m3 0h1m3 0h1m2 0h1m1 0h1m1 0h1m4 0h1m6 0h1m1 0h1m1 0h1m5 0h3m3 0h2m1 0h2m2 0h2m1 0h1m2 0h1m3 0h1m13 0h1m3 0h2m2 0h1m1 0h1m12 0h1m7 0h4m2 0h2m1 0h2m12 0h1m7 0h1m13 0h1m2 0h1m6 0h1m3 0h1m11 0h2m4 0h2m1 0h1m8 0h1m3 0h1m1 0h3m5 0h1m2 0h1m4 0h2m3 0h1m5 0h1m14 0h1m4 0h1m4 0h1m1 0h1m15 0h1m5 0h1m3 0h1m4 0h1m4 0h1m14 0h1m3 0h1m4 0h2m4 0h1m4 0h2m4 0h1m2 0h1m1 0h5m3 0h2m1 0h1m18 0h1m1 0h1m9 0h1m8 0h2m1 0h1m8 0h2m3 0h1m8 0h3m1 0h3m2 0h1m4 0h1m1 0h1m3 0h3m1 0h1m5 0h1m1 0h1m13 0h2m1 0h1m2 0h1m3 0h4m1 0h1m7 0h1m5 0h1m8 0h1m9 0h1m3 0h1m2 0h1m1 0h1m6 0h1m3 0h1m1 0h1m5 0h2m2 0h1m17 0h1m6 0h1m7 0h3m1 0h1m1 0h1m1 0h1m2 0h2m6 0h1m5 0h1m4 0h1m3 0h2m7 0h1m4 0h1m3 0h1m2 0h2m2 0h1m1 0h1m2 0h1m4 0h1m2 0h3m4 0h1m1 0h1m1 0h3m1 0h1m6 0h1m10 0h2m1 0h1m5 0h1m1 0h1m1 0h1m11 0h1m1 0h1m3 0h1m2 0h1m5 0h1m1 0h1m7 0h1m2 0h1m4 0h1m241 0h1M4 1.5h1m1 0h1m7 0h1m5 0h2m6 0h2m6 0h1m22 0h1m2 0h1m25 0h1m1 0h3m13 0h1m3 0h1m8 0h1m5 0h1m6 0h3m5 0h1m5 0h1m29 0h1m2 0h1m15 0h1m16 0h1m2 0h1m2 0h1m22 0h1m17 0h1m24 0h1m23 0h1m1 0h1m1 0h2m6 0h2m5 0h1m6 0h2m10 0h3m1 0h1m6 0h1m1 0h1m6 0h1m28 0h1m5 0h1m1 0h1m6 0h1m4 0h1m2 0h1m6 0h1m2 0h1m1 0h1m3 0h1m1 0h1m1 0h1m10 0h1m69 0h1m6 0h1m28 0h1m11 0h1m18 0h1m9 0h1m10 0h1m3 0h1m7 0h2m1 0h3m2 0h1m13 0h1m1 0h1m15 0h1m8 0h1m2 0h1m2 0h2m25 0h2m4 0h1m1 0h1m7 0h1m4 0h1m4 0h1m10 0h1m3 0h1m6 0h1m29 0h1m63 0h1m184 0h1m4 0h1m14 0h1m27 0h1m2 0h1M126 2.5h1m7 0h1m2 0h1m3 0h1m1 0h1m5 0h1m3 0h1m2 0h1m12 0h1m9 0h1m5 0h1m18 0h1m8 0h1m1 0h1m34 0h1m2 0h1m23 0h1m4 0h1m21 0h2m1 0h1m7 0h1m7 0h1m8 0h1m1 0h1m1 0h1m23 0h1m45 0h1m3 0h1m2 0h2m21 0h1m14 0h2m1 0h3m12 0h1m2 0h2m1 0h1m4 0h1m4 0h1m2 0h1m5 0h1m2 0h2m2 0h1m6 0h1m7 0h1m3 0h1m2 0h1m1 0h2m1 0h2m9 0h1m2 0h1m7 0h1m2 0h1m17 0h1m5 0h1m30 0h1m1 0h2m3 0h1m8 0h1m2 0h1m6 0h1m4 0h1m7 0h1m126 0h1m3 0h1m1 0h1m4 0h1m7 0h2m1 0h1m8 0h1m6 0h1m12 0h1m1 0h1m5 0h1m22 0h2m18 0h1m3 0h1m10 0h1m22 0h2m13 0h2m3 0h3m6 0h1m9 0h1m1 0h1m2 0h1m1 0h1m11 0h1m6 0h1m5 0h1m6 0h1m10 0h1m3 0h1m4 0h1m55 0h2m5 0h1m3 0h1m8 0h2m2 0h1M1 3.5h1m8 0h1m38 0h1m6 0h1m8 0h1m57 0h1m14 0h1m7 0h1m3 0h1m2 0h2m5 0h1m9 0h1m2 0h1m7 0h2m12 0h1m4 0h2m17 0h1m2 0h1m2 0h1m16 0h1m20 0h1m17 0h1m50 0h1m2 0h2m2 0h1m2 0h1m2 0h1m5 0h1m5 0h1m9 0h1m9 0h2m1 0h1m18 0h1m3 0h1m11 0h1m14 0h1m4 0h1m1 0h1m2 0h2m1 0h1m4 0h1m1 0h1m3 0h1m2 0h1m7 0h1m1 0h1m1 0h1m3 0h1m3 0h1m4 0h1m3 0h1m2 0h1m1 0h2m10 0h1m1 0h1m1 0h1m14 0h2m1 0h1m7 0h1m1 0h1m2 0h1m1 0h2m5 0h2m2 0h1m1 0h1m5 0h1m12 0h1m3 0h2m2 0h1m12 0h1m9 0h1m19 0h2m3 0h1m9 0h1m1 0h1m6 0h1m99 0h1m46 0h1m42 0h1m20 0h1m3 0h1m2 0h2m3 0h2m4 0h1m3 0h2m10 0h1m3 0h1m3 0h2m1 0h1m2 0h1m1 0h1m1 0h1m8 0h1m2 0h2m1 0h1m5 0h1m1 0h1m3 0h1m1 0h1m11 0h3m8 0h2m2 0h1m3 0h1m12 0h1m5 0h1m1 0h3m8 0h2m2 0h1m2 0h1m3 0h1m1 0h1m8 0h1m4 0h1m2 0h1m7 0h1m1 0h4m1 0h1m5 0h2m7 0h1m9 0h1m6 0h1m1 0h3m7 0h1M6 4.5h1m5 0h1m2 0h2m1 0h1m2 0h1m9 0h1m1 0h1m1 0h1m2 0h4m1 0h1m4 0h1m2 0h1m7 0h5m1 0h1m4 0h1m10 0h3m8 0h1m6 0h1m8 0h1m1 0h2m15 0h1m29 0h3m1 0h1m1 0h1m15 0h1m2 0h2m5 0h1m2 0h1m4 0h1m8 0h3m2 0h1m4 0h1m5 0h1m4 0h1m11 0h2m2 0h2m4 0h1m8 0h1m2 0h1m1 0h2m3 0h1m9 0h1m6 0h5m1 0h1m3 0h1m1 0h1m1 0h1m3 0h1m1 0h1m17 0h1m6 0h1m27 0h1m2 0h2m2 0h1m42 0h1m13 0h1m30 0h1m4 0h1m1 0h2m5 0h2m7 0h4m5 0h1m1 0h1m2 0h1m1 0h2m3 0h1m1 0h1m4 0h1m2 0h1m3 0h1m9 0h1m2 0h1m1 0h1m2 0h2m9 0h2m7 0h1m2 0h1m4 0h1m9 0h1m2 0h1m8 0h1m10 0h1m2 0h1m4 0h1m2 0h1m2 0h2m4 0h1m3 0h1m4 0h1m3 0h2m4 0h1m6 0h2m3 0h1m2 0h1m3 0h1m15 0h1m1 0h1m2 0h1m6 0h1m7 0h1m3 0h1m3 0h1m2 0h1m2 0h1m6 0h1m5 0h1m10 0h1m27 0h1m14 0h1M102 5.5h1m20 0h1m18 0h1m4 0h1m1 0h1m1 0h1m2 0h1m5 0h1m1 0h1m4 0h2m1 0h1m10 0h1m1 0h1m11 0h1m1 0h2m7 0h2m6 0h1m1 0h1m2 0h1m1 0h1m2 0h1m3 0h1m6 0h2m4 0h2m4 0h1m8 0h1m1 0h1m1 0h1m1 0h2m1 0h1m1 0h1m3 0h1m2 0h1m2 0h1m6 0h1m3 0h1m7 0h2m1 0h1m9 0h1m6 0h2m2 0h1m11 0h1m2 0h1m5 0h1m4 0h1m2 0h2m3 0h1m2 0h1m9 0h2m89 0h1m16 0h1m9 0h1m42 0h1m19 0h1m6 0h1m1 0h1m5 0h1m6 0h1m3 0h1m4 0h2m25 0h1m18 0h1m7 0h1m2 0h2m126 0h1m2 0h1m1 0h1m12 0h1m5 0h1m24 0h1m3 0h2M7 6.5h1m79 0h1m39 0h1m9 0h1m29 0h1m8 0h1m6 0h1m1 0h1m5 0h1m6 0h2m21 0h1m3 0h1m4 0h1m13 0h2m7 0h1m6 0h1m7 0h2m1 0h1m1 0h1m10 0h1m4 0h1m5 0h1m3 0h1m3 0h1m18 0h1m7 0h2m5 0h1m12 0h2m32 0h1m2 0h1m17 0h1m10 0h1m1 0h1m2 0h1m18 0h1m1 0h1m12 0h1m2 0h1m9 0h1m10 0h1m2 0h1m12 0h2m46 0h1m8 0h1m35 0h1m4 0h1m14 0h1m24 0h1m13 0h1m112 0h1m3 0h1m4 0h2m52 0h1M37 7.5h1m22 0h1m37 0h1m89 0h1m17 0h1m159 0h1m9 0h1m27 0h1m92 0h1m77 0h1m1 0h1m13 0h1m155 0h1m3 0h1m3 0h1m9 0h1m9 0h1m14 0h1m25 0h1m1 0h1m6 0h1m18 0h1m63 0h1m13 0h1m55 0h1m14 0h1m1 0h1m4 0h1m19 0h1M30 8.5h1m1 0h1m2 0h1m2 0h1m8 0h1m16 0h1m18 0h1m15 0h2m3 0h2m3 0h2m4 0h1m1 0h1m2 0h1m5 0h1m1 0h1m5 0h1m9 0h1m6 0h1m2 0h1m11 0h1m5 0h1m4 0h1m5 0h1m1 0h1m2 0h1m4 0h1m3 0h1m3 0h2m3 0h2m1 0h1m3 0h2m2 0h1m5 0h1m14 0h2m12 0h1m1 0h1m1 0h2m5 0h1m5 0h2m8 0h1m9 0h1m6 0h1m10 0h1m7 0h1m3 0h1m1 0h1m3 0h1m3 0h1m3 0h1m1 0h1m9 0h1m6 0h4m1 0h1m2 0h2m2 0h1m4 0h1m11 0h2m6 0h2m4 0h1m2 0h1m3 0h1m1 0h2m2 0h1m5 0h1m1 0h3m4 0h3m2 0h1m1 0h1m2 0h1m1 0h1m27 0h1m3 0h1m1 0h1m8 0h1m4 0h1m6 0h1m15 0h1m10 0h1m4 0h1m10 0h2m9 0h2m2 0h1m3 0h1m9 0h1m16 0h1m5 0h1m1 0h1m2 0h1m1 0h2m12 0h1m1 0h1m13 0h1m6 0h1m4 0h1m6 0h2m9 0h1m13 0h1m6 0h1m13 0h1m4 0h1m12 0h2m3 0h1m2 0h1m1 0h1m28 0h2m5 0h1m9 0h1m3 0h1m4 0h1m6 0h1m1 0h1m12 0h2m16 0h1m16 0h1m1 0h1m243 0h1m16 0h1M13 9.5h2m2 0h1m3 0h1m16 0h1m2 0h1m24 0h2m4 0h1m7 0h2m2 0h1m1 0h1m5 0h1m4 0h1m1 0h1m17 0h1m1 0h1m1 0h1m7 0h1m3 0h1m3 0h1m5 0h1m55 0h1m10 0h2m18 0h1m36 0h1m46 0h1m3 0h1m1 0h1m1 0h1m4 0h1m3 0h2m1 0h2m3 0h1m11 0h3m10 0h1m69 0h1m25 0h1m2 0h1m14 0h1m13 0h1m28 0h1m2 0h1m9 0h1m1 0h1m1 0h1m19 0h1m13 0h1m6 0h1m9 0h1m16 0h1m8 0h1m18 0h1m39 0h1m3 0h2m2 0h1m24 0h1m11 0h1m9 0h1m11 0h1m44 0h1m1 0h2m6 0h1m17 0h2m1 0h1m6 0h1m10 0h1m1 0h1m4 0h1m1 0h1m5 0h1m2 0h1m4 0h2m8 0h1m4 0h3m2 0h1m1 0h1m2 0h1m2 0h3m8 0h1m2 0h2m7 0h1m3 0h1m6 0h1m3 0h3m14 0h1m3 0h1m1 0h1m3 0h1m3 0h1m13 0h1m3 0h1m5 0h1m3 0h1m3 0h1m7 0h3m2 0h1m10 0h2m8 0h3m2 0h1m6 0h1m17 0h1m5 0h1m5 0h1m3 0h1m2 0h1m4 0h1m2 0h2m10 0h1m1 0h2m1 0h1M16 10.5h1m18 0h1m30 0h1m61 0h2m3 0h1m1 0h1m2 0h1m3 0h1m2 0h2m5 0h1m7 0h1m1 0h1m21 0h1m1 0h1m16 0h1m2 0h2m1 0h1m16 0h1m9 0h2m3 0h2m4 0h1m10 0h1m1 0h1m12 0h1m11 0h1m1 0h1m4 0h2m1 0h1m4 0h1m27 0h1m5 0h1m1 0h1m1 0h1m26 0h1m1 0h1m30 0h2m78 0h1m33 0h1m18 0h1m25 0h1m5 0h1m22 0h1m36 0h1m2 0h1m31 0h1m3 0h1m3 0h2m13 0h2m2 0h3m6 0h2m6 0h1m13 0h1m2 0h1m3 0h1m1 0h1m2 0h1m1 0h2m7 0h1m8 0h1m10 0h1m6 0h1m25 0h2m2 0h1m25 0h1m14 0h1m3 0h1m8 0h1m11 0h1m5 0h1m11 0h1m1 0h1m3 0h4m8 0h1m18 0h3m31 0h1m11 0h1m7 0h1m12 0h2m3 0h1m11 0h1m1 0h1m4 0h2m2 0h2m3 0h1m12 0h1m2 0h1m6 0h1m8 0h1m11 0h1m8 0h2m2 0h3M19 11.5h1m6 0h1m10 0h1m4 0h1m13 0h1m50 0h1m36 0h1m6 0h2m3 0h2m3 0h1m4 0h1m1 0h1m3 0h1m4 0h2m4 0h1m6 0h2m1 0h2m1 0h1m6 0h1m1 0h1m1 0h1m2 0h1m7 0h3m16 0h1m4 0h1m16 0h1m1 0h1m5 0h2m8 0h1m1 0h1m5 0h1m2 0h1m1 0h1m3 0h1m1 0h1m7 0h1m6 0h2m2 0h2m1 0h1m3 0h1m8 0h1m6 0h1m2 0h1m2 0h1m7 0h2m8 0h2m6 0h1m12 0h1m9 0h1m1 0h1m7 0h2m7 0h2m16 0h1m1 0h1m15 0h1m3 0h1m7 0h1m8 0h2m8 0h1m1 0h1m7 0h1m3 0h1m3 0h4m6 0h1m8 0h1m1 0h2m4 0h1m9 0h2m13 0h1m3 0h2m9 0h1m6 0h1m1 0h1m2 0h1m1 0h1m6 0h1m1 0h1m6 0h1m2 0h2m2 0h1m17 0h1m14 0h1m6 0h1m11 0h3m14 0h1m13 0h1m1 0h1m4 0h2m2 0h1m1 0h1m5 0h1m6 0h1m1 0h2m3 0h1m1 0h1m10 0h1m3 0h3m3 0h3m4 0h1m11 0h1m1 0h1m6 0h1m10 0h1m6 0h1m12 0h2m63 0h1m1 0h1m13 0h1m8 0h1m4 0h3m3 0h1m18 0h1m13 0h1m3 0h1m16 0h1m12 0h1m5 0h1m12 0h1m12 0h1m11 0h1m5 0h3m3 0h5m12 0h1m4 0h1m40 0h1m8 0h1M3 12.5h1m6 0h1m14 0h1m9 0h1m4 0h1m27 0h1m7 0h1m8 0h1m11 0h1m13 0h1m3 0h2m28 0h1m26 0h1m9 0h1m1 0h2m1 0h2m2 0h1m3 0h1m3 0h2m7 0h1m2 0h1m2 0h1m4 0h1m6 0h1m1 0h1m1 0h2m3 0h1m4 0h1m1 0h1m2 0h1m9 0h2m7 0h1m2 0h1m1 0h1m13 0h1m2 0h2m2 0h1m1 0h1m12 0h1m2 0h1m1 0h1m2 0h1m7 0h2m2 0h1m1 0h1m1 0h1m17 0h1m2 0h1m4 0h2m4 0h2m3 0h1m7 0h1m8 0h1m1 0h1m3 0h1m26 0h2m2 0h1m2 0h1m3 0h1m3 0h2m2 0h1m2 0h1m5 0h1m10 0h1m3 0h1m2 0h1m12 0h1m11 0h1m2 0h1m4 0h1m26 0h1m5 0h1m7 0h2m11 0h2m2 0h1m2 0h1m3 0h1m1 0h1m1 0h4m2 0h1m3 0h1m9 0h3m12 0h1m11 0h1m5 0h1m15 0h1m7 0h1m5 0h1m5 0h1m18 0h1m1 0h1m6 0h1m2 0h1m5 0h1m1 0h3m2 0h1m3 0h3m3 0h1m4 0h1m5 0h1m4 0h1m4 0h1m3 0h2m13 0h1m12 0h1m12 0h1m11 0h1m11 0h1m3 0h1m1 0h1m2 0h1m1 0h2m2 0h1m1 0h1m3 0h3m8 0h1m4 0h1m4 0h1m23 0h2m2 0h1m7 0h1m5 0h1m3 0h2m1 0h1m24 0h1m2 0h1m3 0h1m8 0h1m1 0h1m1 0h2m6 0h2m14 0h1m4 0h2m3 0h1m13 0h1m23 0h1m9 0h1m2 0h1m8 0h1m16 0h1m1 0h1m2 0h2m1 0h1m6 0h1m10 0h1m2 0h1m1 0h1m1 0h1m3 0h1m5 0h1m3 0h2M0 13.5h2m9 0h1m7 0h1m12 0h1m2 0h1m5 0h1m9 0h1m1 0h2m2 0h1m1 0h1m1 0h1m1 0h1m7 0h1m1 0h1m4 0h1m9 0h1m13 0h3m8 0h2m3 0h2m4 0h1m5 0h1m2 0h1m2 0h1m44 0h1m18 0h2m14 0h1m1 0h1m30 0h1m12 0h1m9 0h1m15 0h3m7 0h1m8 0h1m6 0h1m7 0h1m7 0h1m7 0h1m4 0h1m7 0h1m3 0h1m4 0h2m7 0h1m7 0h1m16 0h1m2 0h1m12 0h1m7 0h1m9 0h1m8 0h1m3 0h2m6 0h1m2 0h1m8 0h1m4 0h1m4 0h1m2 0h1m1 0h1m5 0h2m4 0h1m1 0h1m1 0h1m3 0h1m11 0h1m7 0h2m1 0h2m1 0h1m12 0h1m11 0h1m3 0h1m11 0h2m33 0h1m2 0h1m1 0h1m6 0h1m3 0h1m1 0h1m2 0h1m2 0h1m12 0h1m18 0h1m26 0h2m1 0h1m2 0h1m2 0h1m12 0h1m14 0h1m30 0h1m4 0h1m9 0h1m13 0h2m3 0h1m2 0h1m2 0h2m22 0h1m12 0h1m14 0h1m10 0h1m3 0h2m14 0h1m11 0h1m35 0h1m2 0h1m9 0h2m15 0h1m5 0h2m13 0h2m6 0h1m30 0h2m27 0h1m3 0h1m3 0h1m6 0h1m11 0h1m9 0h1m1 0h1m4 0h1m6 0h1m4 0h1M28 14.5h1m5 0h2m10 0h1m10 0h1m12 0h1m5 0h1m2 0h1m1 0h1m11 0h1m23 0h1m4 0h1m18 0h1m47 0h2m1 0h1m4 0h1m3 0h1m13 0h1m24 0h2m3 0h1m19 0h1m17 0h2m11 0h1m6 0h1m8 0h1m1 0h1m1 0h1m14 0h1m4 0h1m13 0h1m8 0h1m10 0h1m7 0h2m15 0h1m5 0h1m14 0h1m21 0h1m1 0h1m10 0h1m28 0h1m91 0h1m1 0h1m11 0h1m15 0h1m1 0h1m7 0h1m20 0h1m6 0h1m4 0h1m10 0h1m23 0h1m14 0h1m5 0h3m1 0h1m20 0h1m2 0h1m4 0h1m13 0h1m1 0h1m1 0h2m1 0h1m8 0h1m9 0h2m5 0h1m3 0h2m7 0h1m6 0h1m7 0h1m4 0h2m2 0h2m142 0h1m90 0h1M26 15.5h1m9 0h1m6 0h1m10 0h1m64 0h1m70 0h1m6 0h1m93 0h1m6 0h1m18 0h1m1 0h2m14 0h1m2 0h1m8 0h1m4 0h1m7 0h1m5 0h1m20 0h1m17 0h1m2 0h1m8 0h1m21 0h2m17 0h1m3 0h1m18 0h1m12 0h1m3 0h1m6 0h3m1 0h1m1 0h1m6 0h1m20 0h1m10 0h1m15 0h1m7 0h1m4 0h1m7 0h2m14 0h1m11 0h1m1 0h1m1 0h1m7 0h2m2 0h1m12 0h1m8 0h1m1 0h1m1 0h1m8 0h1m32 0h1m11 0h1m4 0h1m11 0h1m10 0h1m4 0h1m3 0h1m20 0h1m14 0h1m9 0h1m1 0h1m3 0h3m1 0h1m6 0h2m1 0h1m2 0h1m9 0h1m1 0h1m1 0h1m4 0h1m6 0h1m6 0h1m5 0h1m3 0h4m3 0h1m2 0h1m3 0h1m1 0h1m6 0h1m1 0h2m5 0h1m2 0h1m5 0h1m3 0h1m6 0h1m8 0h1m3 0h1m8 0h1m8 0h1m6 0h1m1 0h1m1 0h1m1 0h1m4 0h2m3 0h3m4 0h1m3 0h1m1 0h2m4 0h1m2 0h5m2 0h1m1 0h1m2 0h1m2 0h1m2 0h2m1 0h1m1 0h3m1 0h1m1 0h2m3 0h1m4 0h1m2 0h1m1 0h1m2 0h1m10 0h1m2 0h1m1 0h1m3 0h1m1 0h1m6 0h1m2 0h1m2 0h1m6 0h1m12 0h1m2 0h3M6 16.5h1m34 0h2m43 0h1m11 0h1m24 0h1m18 0h1m1 0h1m2 0h1m4 0h1m14 0h1m8 0h1m2 0h1m1 0h1m3 0h2m5 0h1m5 0h1m6 0h1m3 0h3m9 0h1m4 0h3m1 0h2m10 0h1m2 0h2m3 0h2m2 0h2m6 0h1m14 0h1m8 0h1m6 0h1m3 0h1m15 0h1m5 0h1m4 0h2m3 0h1m10 0h1m3 0h1m2 0h1m36 0h1m7 0h1m1 0h1m2 0h2m9 0h1m3 0h2m5 0h1m7 0h1m3 0h2m1 0h1m8 0h2m5 0h2m1 0h1m2 0h1m9 0h2m3 0h1m3 0h1m5 0h2m7 0h2m4 0h1m2 0h1m6 0h1m11 0h1m1 0h2m2 0h1m1 0h1m6 0h1m2 0h1m2 0h1m5 0h2m1 0h1m2 0h1m1 0h1m55 0h2m3 0h1m1 0h1m2 0h1m1 0h1m1 0h1m7 0h1m12 0h1m8 0h4m3 0h1m1 0h4m1 0h1m7 0h1m15 0h1m7 0h1m2 0h1m2 0h3m1 0h1m13 0h1m4 0h1m2 0h1m3 0h1m1 0h1m6 0h1m3 0h1m11 0h1m5 0h1m1 0h1m1 0h1m6 0h1m21 0h1m2 0h2m1 0h1m2 0h2m5 0h2m10 0h1m1 0h1m4 0h1M1 17.5h1m16 0h1m18 0h1m9 0h2m12 0h1m1 0h1m6 0h1m3 0h1m1 0h2m9 0h1m9 0h1m1 0h1m3 0h1m7 0h1m3 0h1m9 0h1m5 0h1m1 0h1m2 0h1m1 0h1m8 0h1m10 0h3m1 0h1m17 0h1m3 0h1m4 0h1m4 0h1m2 0h1m21 0h1m7 0h1m8 0h1m24 0h2m20 0h1m1 0h1m2 0h1m1 0h1m28 0h1m1 0h1m6 0h1m23 0h1m24 0h1m2 0h1m2 0h2m1 0h1m5 0h1m20 0h1m3 0h1m6 0h1m16 0h1m6 0h2m10 0h1m10 0h1m3 0h1m4 0h1m1 0h2m4 0h4m2 0h1m2 0h1m3 0h1m3 0h2m16 0h1m2 0h1m2 0h1m8 0h1m4 0h1m4 0h2m3 0h2m13 0h1m6 0h1m1 0h2m6 0h2m2 0h1m15 0h1m6 0h1m2 0h1m2 0h1m5 0h1m3 0h1m1 0h1m5 0h2m10 0h1m3 0h1m1 0h2m1 0h1m4 0h2m2 0h1m4 0h2m1 0h1m2 0h1m5 0h2m9 0h1m17 0h1m2 0h1m6 0h2m13 0h1m1 0h2m5 0h1m1 0h2m5 0h1m7 0h1m5 0h2m12 0h3m9 0h1m9 0h1m4 0h1m5 0h1m3 0h1m1 0h1m6 0h1M3 18.5h1m1 0h1m22 0h1m2 0h1m5 0h3m5 0h1m18 0h1m10 0h1m2 0h1m4 0h1m3 0h3m1 0h1m22 0h1m3 0h1m1 0h1m7 0h1m4 0h1m11 0h1m4 0h1m4 0h1m18 0h1m5 0h2m5 0h1m3 0h2m4 0h1m2 0h1m11 0h1m7 0h1m3 0h1m13 0h1m4 0h1m5 0h1m2 0h1m5 0h1m2 0h1m1 0h1m6 0h1m1 0h2m1 0h1m11 0h1m5 0h1m3 0h1m2 0h1m2 0h1m5 0h1m1 0h1m2 0h1m4 0h1m3 0h1m9 0h1m2 0h1m5 0h1m2 0h1m1 0h1m4 0h1m1 0h1m1 0h2m4 0h4m10 0h1m13 0h2m1 0h1m28 0h2m5 0h1m31 0h1m23 0h1m1 0h1m2 0h1m6 0h1m2 0h2m2 0h1m1 0h1m2 0h1m21 0h1m1 0h2m1 0h1m4 0h2m18 0h2m8 0h2m1 0h1m9 0h1m1 0h1m2 0h2m3 0h1m16 0h1m2 0h1m3 0h1m3 0h2m4 0h2m9 0h2m18 0h1m2 0h1m3 0h1m3 0h1m1 0h1m8 0h1m1 0h1m1 0h1m1 0h3m3 0h1m5 0h1m4 0h1m8 0h2m1 0h2m2 0h2m3 0h1m4 0h1m7 0h3m2 0h1m3 0h1m2 0h1m1 0h2m1 0h1m14 0h1m32 0h1m2 0h2m5 0h1m6 0h2M11 19.5h2m3 0h1m4 0h1m2 0h1m7 0h1m21 0h1m1 0h1m10 0h2m11 0h1m12 0h2m11 0h1m11 0h1m7 0h1m8 0h1m15 0h1m7 0h2m8 0h3m1 0h4m10 0h1m6 0h2m2 0h1m9 0h1m5 0h1m4 0h1m1 0h1m2 0h1m3 0h1m17 0h1m25 0h2m3 0h2m3 0h1m3 0h1m1 0h1m3 0h1m4 0h1m9 0h1m3 0h2m1 0h1m13 0h1m17 0h2m2 0h2m7 0h1m6 0h1m7 0h3m19 0h1m4 0h1m3 0h1m14 0h1m1 0h2m4 0h1m9 0h1m32 0h1m3 0h1m5 0h1m1 0h2m27 0h1m3 0h1m18 0h2m8 0h1m3 0h1m1 0h1m3 0h1m6 0h1m3 0h2m3 0h2m2 0h1m1 0h1m15 0h1m1 0h1m2 0h1m2 0h1m2 0h1m6 0h3m1 0h1m4 0h1m2 0h1m2 0h1m6 0h1m1 0h1m7 0h2m8 0h2m22 0h1m2 0h3m4 0h5m2 0h1m1 0h1m4 0h1m1 0h2m5 0h1m6 0h1m21 0h1m41 0h1m1 0h1m6 0h1m3 0h2m15 0h1m7 0h1m5 0h1M9 20.5h1m15 0h1m15 0h1m23 0h1m53 0h1m48 0h1m10 0h1m80 0h1m88 0h1m91 0h1m15 0h1m9 0h1m72 0h1m14 0h1m9 0h1m22 0h1m36 0h1m22 0h1m19 0h1m6 0h1m2 0h1m7 0h1m28 0h1m19 0h1m3 0h1m1 0h1m11 0h1m6 0h1m2 0h1m6 0h2m1 0h1m6 0h1m2 0h1m12 0h1m16 0h2m4 0h1m1 0h1M20 21.5h1m3 0h2m6 0h2m4 0h3m3 0h1m4 0h1m14 0h1m2 0h1m6 0h2m1 0h1m8 0h1m1 0h3m1 0h2m19 0h1m2 0h1m1 0h1m1 0h3m1 0h1m3 0h1m14 0h1m22 0h1m2 0h1m3 0h1m2 0h1m2 0h1m7 0h1m1 0h1m10 0h1m11 0h2m1 0h1m5 0h1m3 0h1m2 0h2m12 0h2m2 0h1m1 0h1m1 0h1m1 0h2m9 0h1m5 0h1m1 0h1m2 0h1m1 0h1m14 0h1m2 0h1m3 0h1m1 0h1m4 0h1m4 0h1m1 0h1m7 0h1m1 0h1m5 0h1m25 0h1m6 0h1m6 0h3m4 0h1m33 0h1m7 0h1m3 0h1m30 0h1m3 0h1m7 0h1m1 0h1m1 0h1m4 0h1m3 0h1m10 0h1m5 0h1m15 0h1m6 0h1m3 0h1m9 0h1m5 0h1m15 0h1m2 0h1m3 0h2m3 0h1m10 0h1m8 0h2m3 0h2m1 0h1m2 0h1m1 0h2m3 0h1m7 0h1m2 0h2m13 0h1m14 0h1m10 0h2m5 0h1m1 0h1m4 0h2m2 0h2m1 0h1m1 0h3m6 0h1m7 0h2m1 0h2m1 0h1m13 0h1m4 0h1m1 0h1m1 0h1m1 0h1m7 0h1m2 0h1m1 0h1m2 0h2m2 0h1m3 0h1m2 0h1m44 0h1M146 22.5h1m1 0h1m1 0h1m11 0h1m8 0h1m1 0h1m21 0h2m25 0h1m7 0h1m12 0h2m4 0h2m1 0h1m10 0h1m5 0h1m6 0h1m1 0h1m5 0h1m2 0h1m15 0h1m1 0h1m3 0h1m1 0h1m2 0h1m2 0h4m9 0h1m3 0h1m2 0h1m1 0h1m8 0h1m3 0h1m1 0h1m3 0h1m1 0h1m3 0h1m9 0h1m1 0h1m5 0h1m5 0h1m8 0h1m24 0h1m3 0h1m108 0h2m2 0h1m49 0h1m5 0h1m28 0h1m17 0h2m3 0h1M3 23.5h1m17 0h1m17 0h1m47 0h1m21 0h1m5 0h1m4 0h1m10 0h1m15 0h1m5 0h1m4 0h1m17 0h1m63 0h1m7 0h1m5 0h2m15 0h1m2 0h1m3 0h1m11 0h1m2 0h1m11 0h2m1 0h2m7 0h1m2 0h1m4 0h1m5 0h1m16 0h2m13 0h1m1 0h1m12 0h1m4 0h1m1 0h2m2 0h1m13 0h1m4 0h1m6 0h1m45 0h1m22 0h1m13 0h1m2 0h1m32 0h1m33 0h1m18 0h1m5 0h1m2 0h1m23 0h1m45 0h1m30 0h1m18 0h1m26 0h1m65 0h2m50 0h1m1 0h1m22 0h1m25 0h1m1 0h1m6 0h1m22 0h1m15 0h1m31 0h1m14 0h1m12 0h1M7 24.5h1m3 0h1m9 0h1m14 0h2m30 0h1m2 0h1m1 0h1m104 0h1m6 0h1m4 0h1m1 0h1m7 0h1m18 0h2m1 0h1m20 0h1m3 0h1m11 0h2m7 0h1m3 0h1m1 0h1m10 0h1m4 0h1m28 0h1m4 0h2m3 0h3m4 0h1m8 0h1m1 0h1m13 0h1m3 0h2m102 0h1m5 0h1m9 0h1m3 0h1m16 0h1m5 0h1m8 0h1m4 0h1m27 0h1m1 0h1m3 0h1m26 0h1m22 0h1m1 0h1m1 0h2m1 0h1m13 0h1m32 0h1m16 0h2m36 0h1m4 0h1m4 0h1m17 0h1m15 0h1m1 0h1m1 0h2m5 0h2m7 0h2m9 0h1m7 0h2m15 0h2m2 0h1m1 0h1m2 0h1m1 0h1m3 0h1m2 0h1m14 0h1m4 0h2m3 0h2m6 0h1m2 0h1m1 0h1m25 0h1m10 0h1m13 0h2m6 0h1m3 0h1m5 0h1m44 0h1m8 0h1m17 0h2m1 0h1m6 0h1m2 0h1m9 0h1m12 0h1m6 0h1m2 0h1m14 0h1m8 0h2M63 25.5h1m14 0h1m4 0h1m116 0h1m48 0h1m23 0h1m32 0h1m16 0h2m2 0h1m9 0h1m8 0h1m14 0h1m32 0h1m8 0h1m8 0h1m5 0h1m1 0h1m5 0h1m5 0h1m15 0h1m14 0h1m1 0h1m5 0h1m1 0h1m1 0h1m2 0h2m4 0h3m3 0h1m4 0h2m3 0h1m8 0h1m2 0h1m9 0h1m9 0h1m3 0h1m6 0h1m27 0h1m3 0h1m46 0h1m2 0h1m47 0h1m87 0h1m4 0h1m59 0h1m23 0h1m1 0h1m2 0h1m2 0h2m1 0h1m5 0h2m8 0h1m2 0h1m3 0h2m3 0h1m1 0h1m6 0h1m3 0h2m3 0h1m6 0h1m6 0h1m12 0h1m2 0h1m1 0h1m3 0h1m5 0h1m12 0h1m2 0h1m2 0h1m3 0h1m9 0h1m3 0h2m2 0h2m1 0h1m14 0h1m11 0h2m2 0h1m6 0h1m1 0h1m1 0h1m7 0h1m1 0h1m11 0h2m1 0h2m1 0h1m1 0h1m3 0h1m7 0h1m5 0h2m10 0h1M8 26.5h1m4 0h2m5 0h1m10 0h1m5 0h2m1 0h1m1 0h1m11 0h1m2 0h2m1 0h1m3 0h1m3 0h1m10 0h1m2 0h1m7 0h5m3 0h1m1 0h2m2 0h1m1 0h1m2 0h1m4 0h1m1 0h1m1 0h1m1 0h1m1 0h2m1 0h1m3 0h1m1 0h1m1 0h1m7 0h4m1 0h3m3 0h3m1 0h2m2 0h1m12 0h2m3 0h1m1 0h1m13 0h2m5 0h1m2 0h1m6 0h1m4 0h2m11 0h1m20 0h2m4 0h1m4 0h3m2 0h1m5 0h1m1 0h1m5 0h1m3 0h1m12 0h3m4 0h1m1 0h1m4 0h2m2 0h1m1 0h1m11 0h2m1 0h1m10 0h1m3 0h1m3 0h4m24 0h1m5 0h1m31 0h1m58 0h1m21 0h1m3 0h1m3 0h1m1 0h1m2 0h1m4 0h1m4 0h1m1 0h2m10 0h3m2 0h1m3 0h2m8 0h1m11 0h1m6 0h2m1 0h1m1 0h1m5 0h1m4 0h1m16 0h1m5 0h1m1 0h1m10 0h1m20 0h1m5 0h2m2 0h1m1 0h1m10 0h2m4 0h1m4 0h1m1 0h1m9 0h4m1 0h1m1 0h1m2 0h1m3 0h2m1 0h1m9 0h1m2 0h1m8 0h1m5 0h1m1 0h1m6 0h1m7 0h1m4 0h1m2 0h1m19 0h1m1 0h1m1 0h2m7 0h1m2 0h1m1 0h1m2 0h2m1 0h1m2 0h3m1 0h1m2 0h3m6 0h1M70 27.5h1m140 0h1m3 0h2m14 0h1m54 0h1m58 0h1m131 0h1m31 0h1m49 0h1m7 0h1m4 0h1m17 0h1m11 0h1m12 0h1m15 0h1m2 0h1m2 0h1m26 0h1m7 0h1m23 0h1m48 0h1m9 0h1m4 0h2m4 0h1m2 0h1m3 0h1m9 0h1m15 0h1m4 0h1m1 0h2m5 0h2m6 0h1M9 28.5h1m1 0h1m7 0h1m85 0h1m1 0h1m365 0h1m69 0h1m57 0h1m1 0h1m41 0h1m25 0h1m6 0h1m83 0h1m33 0h2m2 0h1m1 0h1m3 0h1m3 0h1m10 0h1m12 0h1M0 29.5h1m11 0h2m1 0h1m12 0h1m6 0h3m1 0h1m1 0h1m3 0h1m4 0h1m7 0h1m10 0h1m4 0h1m6 0h2m7 0h1m3 0h1m7 0h1m9 0h1m6 0h2m4 0h1m5 0h1m14 0h2m1 0h1m19 0h1m12 0h1m4 0h1m2 0h1m6 0h1m20 0h1m2 0h2m1 0h1m2 0h1m1 0h1m11 0h1m2 0h2m2 0h1m2 0h3m3 0h1m5 0h1m5 0h1m1 0h1m7 0h2m15 0h1m22 0h2m1 0h1m15 0h1m9 0h1m14 0h1m3 0h3m6 0h2m2 0h2m1 0h1m1 0h1m6 0h1m8 0h1m2 0h1m6 0h1m5 0h2m1 0h1m2 0h1m3 0h1m3 0h1m4 0h1m4 0h1m1 0h1m15 0h3m10 0h1m3 0h2m1 0h2m4 0h1m3 0h2m4 0h2m3 0h1m1 0h1m6 0h1m2 0h1m4 0h2m7 0h3m7 0h1m4 0h1m3 0h1m15 0h1m8 0h1m2 0h1m4 0h1m7 0h2m2 0h2m6 0h1m4 0h1m12 0h1m7 0h1m5 0h1m21 0h1m12 0h1m6 0h1m11 0h1m8 0h1m3 0h2m6 0h1m9 0h3m4 0h2m1 0h3m9 0h1m1 0h1m2 0h1m3 0h1M0 30.5h1m2 0h2m2 0h2m8 0h2m8 0h2m4 0h1m2 0h1m2 0h1m8 0h1m2 0h1m2 0h1m3 0h1m1 0h1m3 0h1m2 0h1m3 0h1m1 0h2m2 0h1m4 0h1m1 0h1m1 0h1m1 0h1m4 0h1m11 0h1m3 0h1m13 0h1m5 0h3m1 0h1m2 0h1m1 0h2m2 0h1m5 0h1m4 0h1m1 0h1m2 0h1m7 0h2m4 0h1m10 0h1m3 0h1m7 0h3m2 0h1m3 0h1m6 0h2m3 0h1m7 0h2m11 0h1m2 0h1m1 0h1m3 0h1m3 0h1m1 0h1m2 0h2m4 0h1m5 0h1m2 0h2m1 0h1m4 0h1m5 0h2m4 0h2m14 0h1m5 0h1m2 0h3m7 0h1m3 0h1m1 0h1m2 0h1m5 0h1m7 0h2m3 0h2m2 0h2m15 0h1m2 0h1m1 0h2m7 0h2m10 0h1m1 0h2m7 0h1m11 0h1m32 0h1m1 0h1m5 0h2m6 0h1m8 0h1m9 0h1m1 0h2m2 0h1m6 0h1m12 0h1m2 0h1m2 0h1m13 0h1m15 0h1m7 0h1m23 0h1m9 0h1m7 0h1m2 0h1m4 0h1m2 0h1m7 0h1m1 0h1m35 0h1m2 0h1m18 0h1m13 0h1m2 0h1m9 0h1m3 0h1m4 0h2m7 0h1m25 0h2m3 0h1m1 0h2m30 0h2m2 0h1m3 0h1m8 0h1m9 0h1m247 0h1M3 31.5h1m4 0h1m1 0h2m18 0h1m2 0h1m1 0h2m3 0h1m2 0h2m6 0h1m4 0h2m54 0h1m2 0h1m15 0h2m1 0h1m2 0h1m2 0h1m3 0h1m15 0h2m1 0h1m5 0h1m12 0h1m2 0h1m6 0h1m6 0h1m2 0h1m1 0h1m2 0h1m2 0h1m1 0h2m1 0h3m10 0h1m11 0h2m11 0h1m2 0h1m7 0h2m5 0h1m2 0h1m6 0h1m1 0h1m2 0h3m4 0h2m12 0h1m1 0h1m5 0h1m12 0h1m3 0h1m2 0h1m2 0h1m1 0h1m1 0h1m8 0h2m4 0h3m14 0h2m8 0h1m1 0h2m1 0h1m8 0h2m4 0h1m10 0h1m8 0h1m5 0h1m27 0h1m6 0h1m11 0h1m6 0h1m1 0h2m11 0h1m3 0h2m4 0h1m12 0h1m1 0h1m8 0h1m9 0h2m1 0h1m11 0h1m4 0h1m3 0h1m27 0h1m3 0h1m27 0h1m3 0h1m1 0h1m9 0h1m3 0h1m6 0h1m3 0h1m1 0h1m4 0h1m5 0h1m6 0h1m9 0h1m3 0h1m4 0h1m1 0h1m5 0h1m5 0h3m4 0h1m4 0h1m1 0h2m5 0h1m1 0h1m1 0h1m1 0h1m3 0h1m9 0h2m1 0h1m43 0h1m25 0h1m3 0h1m4 0h1m3 0h1m99 0h1m9 0h1m56 0h1m10 0h1m2 0h1m14 0h1m34 0h1m15 0h1M33 32.5h1m139 0h1m10 0h1m5 0h1m4 0h1m2 0h1m9 0h1m2 0h1m14 0h1m30 0h1m6 0h1m24 0h1m5 0h1m2 0h1m14 0h1m27 0h2m7 0h1m43 0h1m29 0h1m4 0h1m1 0h1m42 0h1m14 0h1m8 0h1m11 0h1m14 0h1m14 0h1m32 0h1m4 0h1m39 0h2m17 0h1m20 0h1m5 0h1m8 0h1m8 0h1m4 0h1m140 0h1m72 0h2m1 0h1m8 0h1m14 0h1m10 0h1m3 0h1m5 0h1m9 0h1m10 0h1m7 0h1m12 0h1m13 0h1m2 0h1m30 0h1m1 0h1m35 0h2M32 33.5h1m7 0h1m3 0h1m2 0h1m31 0h1m31 0h1m9 0h1m47 0h1m8 0h1m31 0h2m3 0h1m36 0h1m29 0h1m41 0h1m21 0h1m3 0h1m19 0h1m4 0h2m8 0h1m18 0h2m1 0h2m1 0h1m5 0h1m7 0h1m1 0h1m1 0h1m1 0h3m11 0h1m5 0h2m5 0h1m5 0h2m1 0h1m2 0h1m3 0h1m2 0h1m4 0h2m3 0h1m2 0h4m5 0h1m4 0h1m1 0h1m2 0h1m11 0h2m2 0h1m3 0h1m19 0h1m9 0h1m2 0h1m1 0h1m11 0h1m8 0h1m3 0h1m1 0h3m12 0h1m2 0h1m19 0h1m2 0h1m4 0h1m2 0h1m44 0h1m40 0h1m108 0h1m6 0h1m2 0h1m1 0h1m23 0h1m5 0h4m9 0h2m1 0h1m2 0h1m5 0h2m1 0h1m5 0h1m1 0h2m1 0h1m7 0h1m12 0h2m10 0h2m6 0h1m8 0h1m11 0h1m2 0h1m13 0h2m3 0h1m1 0h2m5 0h1m3 0h1m5 0h1m2 0h1m2 0h1m2 0h1m1 0h2m17 0h1m2 0h1m3 0h1m5 0h1m1 0h1m4 0h1m3 0h1m1 0h2m4 0h1m6 0h1m6 0h1M5 34.5h1m4 0h3m14 0h1m4 0h1m2 0h1m6 0h1m1 0h4m1 0h1m4 0h1m1 0h1m2 0h3m3 0h1m1 0h2m1 0h1m1 0h1m4 0h2m1 0h1m1 0h1m14 0h1m5 0h1m4 0h1m2 0h1m2 0h1m2 0h1m4 0h1m8 0h1m81 0h1m48 0h1m10 0h1m3 0h1m116 0h1m14 0h1m7 0h1m33 0h1m4 0h1m36 0h1m10 0h1m19 0h1m46 0h1m32 0h1m7 0h1m43 0h1m8 0h1m36 0h1m23 0h1m10 0h1m1 0h1m27 0h1m4 0h1m21 0h1m19 0h1m1 0h1m5 0h1m16 0h2m3 0h1m9 0h1m2 0h1m4 0h1m1 0h1m8 0h1m6 0h1m1 0h1m7 0h2m1 0h1m2 0h2m2 0h1m2 0h1m7 0h1m3 0h1m7 0h1m1 0h1m7 0h1m2 0h1m2 0h3m6 0h1m9 0h2m11 0h3m5 0h3m2 0h2m4 0h1m3 0h3m4 0h1m2 0h1m2 0h1m6 0h1m6 0h2m1 0h1m16 0h2m1 0h1m1 0h1m11 0h1m8 0h1m1 0h2m6 0h1m11 0h2M1 35.5h1m5 0h1m5 0h1m14 0h1m6 0h1m5 0h1m1 0h1m2 0h1m1 0h1m1 0h1m8 0h1m6 0h1m2 0h1m4 0h1m1 0h6m3 0h1m3 0h1m1 0h3m4 0h2m1 0h1m6 0h1m2 0h1m6 0h1m2 0h1m5 0h1m233 0h1m5 0h1m2 0h1m10 0h1m1 0h3m1 0h1m7 0h1m3 0h1m2 0h1m7 0h1m12 0h1m5 0h1m2 0h2m1 0h1m1 0h2m13 0h1m48 0h1m176 0h1m44 0h1m2 0h2m3 0h1m5 0h1m44 0h1m3 0h1m15 0h1m3 0h2m1 0h1m8 0h1m1 0h1m1 0h1M4 36.5h3m5 0h1m3 0h1m2 0h1m1 0h1m8 0h2m5 0h1m1 0h1m3 0h1m2 0h1m4 0h1m3 0h1m2 0h1m2 0h3m17 0h1m1 0h3m2 0h1m3 0h1m1 0h1m2 0h1m3 0h1m1 0h1m2 0h2m3 0h1m2 0h1m3 0h1m5 0h1m3 0h2m2 0h3m9 0h2m6 0h1m4 0h1m1 0h1m42 0h1m4 0h1m32 0h1m13 0h1m10 0h2m2 0h3m5 0h1m2 0h1m16 0h1m55 0h1m4 0h1m162 0h1m11 0h1m25 0h3m14 0h1m18 0h1m2 0h1m2 0h1m13 0h1m4 0h1m5 0h1m19 0h1m5 0h1m7 0h1m7 0h1m13 0h1m2 0h1m1 0h1m1 0h1m12 0h2m22 0h1m11 0h1m3 0h1m18 0h1m3 0h1m1 0h1m2 0h1m23 0h1m1 0h1m3 0h1m3 0h1m2 0h1m9 0h1m1 0h1m12 0h2M5 37.5h1m24 0h1m77 0h1m1 0h1m1 0h1m1 0h1m1 0h1m4 0h1m34 0h1m18 0h1m5 0h2m9 0h2m8 0h1m2 0h1m14 0h1m6 0h2m6 0h2m2 0h1m30 0h1m18 0h1m24 0h1m2 0h1m1 0h1m6 0h1m6 0h2m2 0h1m18 0h2m10 0h1m5 0h1m10 0h1m19 0h1m3 0h1m9 0h2m2 0h1m25 0h1m4 0h1m3 0h1m61 0h3m5 0h1m1 0h1m5 0h1m4 0h1m8 0h1m4 0h1m15 0h1m8 0h1m7 0h1m28 0h1m13 0h1m28 0h1m5 0h1m1 0h1m4 0h1m1 0h1m1 0h1m23 0h1m2 0h2m1 0h2m10 0h1m2 0h1m1 0h2m2 0h1m6 0h1m4 0h1m9 0h1m2 0h1m6 0h2m2 0h1m1 0h1m9 0h3m4 0h1m2 0h1m4 0h1m1 0h1m4 0h4m8 0h2m2 0h2m3 0h1m1 0h1m4 0h1M140 38.5h1m26 0h2m2 0h1m4 0h1m14 0h2m11 0h3m8 0h1m4 0h1m2 0h1m7 0h1m7 0h1m2 0h1m1 0h1m2 0h2m1 0h1m5 0h2m4 0h1m3 0h1m11 0h1m1 0h1m9 0h1m5 0h1m3 0h1m2 0h1m4 0h1m9 0h2m3 0h1m12 0h1m2 0h1m4 0h1m18 0h1m5 0h1m12 0h1m73 0h1m8 0h2m2 0h1m14 0h1m12 0h1m3 0h1m20 0h1m1 0h1m13 0h1m17 0h1m1 0h1m3 0h2m14 0h1m1 0h1m16 0h1m2 0h1m9 0h3m10 0h2m10 0h1m76 0h1m84 0h1M41 39.5h1m8 0h1m46 0h1m12 0h1m4 0h1m6 0h3m1 0h1m12 0h2m1 0h1m1 0h1m1 0h1m26 0h1m2 0h1m1 0h4m5 0h1m6 0h1m17 0h1m13 0h1m39 0h1m9 0h1m2 0h1m11 0h1m18 0h1m20 0h1m2 0h1m7 0h1m6 0h1m2 0h1m13 0h1m37 0h1m21 0h1m38 0h1m3 0h1m2 0h1m5 0h2m10 0h1m1 0h1m6 0h1m18 0h1m6 0h4m6 0h1m14 0h1m10 0h1m3 0h1m6 0h1m4 0h1m15 0h1m2 0h1m4 0h1m12 0h4m7 0h1m9 0h1m7 0h1m29 0h2m3 0h1m29 0h1m4 0h1m12 0h1m4 0h2m14 0h1m7 0h1m31 0h1m23 0h1M4 40.5h1m2 0h1m1 0h1m2 0h1m3 0h1m1 0h1m1 0h2m13 0h2m1 0h2m3 0h2m5 0h2m1 0h1m5 0h1m5 0h1m4 0h1m4 0h1m2 0h1m4 0h1m1 0h1m4 0h1m13 0h1m4 0h1m8 0h1m4 0h2m4 0h1m1 0h1m5 0h1m11 0h1m3 0h1m2 0h1m1 0h1m3 0h2m2 0h1m4 0h2m4 0h2m9 0h1m5 0h1m10 0h1m2 0h1m1 0h1m5 0h1m1 0h2m11 0h1m9 0h1m39 0h1m10 0h1m14 0h1m2 0h1m2 0h1m18 0h1m8 0h1m2 0h1m6 0h2m7 0h1m4 0h1m2 0h1m6 0h1m6 0h1m2 0h1m4 0h1m4 0h1m2 0h1m2 0h1m4 0h1m1 0h1m5 0h3m2 0h1m1 0h2m3 0h1m1 0h1m3 0h3m4 0h1m1 0h1m8 0h1m1 0h2m3 0h2m4 0h1m9 0h1m5 0h1m5 0h1m6 0h2m2 0h1m7 0h2m3 0h1m6 0h1m3 0h1m6 0h5m7 0h1m1 0h1m13 0h2m1 0h2m5 0h2m5 0h1m7 0h1m6 0h1m2 0h1m7 0h1m1 0h1m6 0h2m12 0h1m3 0h1m1 0h1m1 0h1m4 0h1m6 0h1m3 0h1m1 0h2m4 0h4m4 0h4m1 0h1m2 0h1m9 0h1m4 0h1m7 0h1m3 0h2m3 0h1m30 0h1m7 0h1m5 0h1m5 0h1m70 0h1m1 0h1m3 0h1m2 0h1m19 0h1m17 0h1m34 0h1m29 0h1m7 0h1m29 0h1m53 0h1m11 0h1M37 41.5h1m37 0h1m12 0h1m17 0h1m10 0h1m18 0h1m1 0h1m3 0h1m3 0h2m1 0h1m3 0h1m5 0h1m3 0h1m2 0h2m2 0h1m1 0h1m4 0h1m5 0h1m1 0h1m13 0h1m6 0h1m4 0h1m23 0h1m1 0h2m7 0h1m2 0h1m9 0h1m8 0h2m9 0h1m1 0h1m10 0h3m1 0h1m8 0h2m7 0h1m1 0h1m17 0h1m13 0h3m2 0h1m3 0h2m2 0h1m21 0h2m2 0h1m10 0h1m5 0h1m3 0h1m2 0h1m15 0h1m1 0h2m12 0h1m5 0h1m6 0h1m2 0h1m3 0h1m1 0h1m3 0h2m4 0h3m1 0h1m14 0h2m3 0h1m1 0h1m6 0h1m3 0h1m3 0h1m1 0h2m22 0h1m3 0h1m6 0h1m14 0h1m6 0h1m4 0h1m9 0h1m6 0h1m3 0h1m2 0h3m15 0h2m7 0h1m5 0h1m5 0h1m4 0h1m7 0h1m2 0h1m4 0h1m3 0h1m1 0h1m11 0h1m3 0h2m1 0h1m2 0h1m1 0h2m131 0h1m1 0h2m5 0h1m18 0h1m7 0h1m2 0h1m1 0h1m19 0h1m3 0h1m13 0h2m5 0h1m1 0h1m15 0h1m36 0h1m14 0h1m5 0h1m10 0h1m2 0h1m9 0h3m9 0h1m3 0h1m2 0h1m20 0h1m7 0h1m10 0h2M99 42.5h1m2 0h1m11 0h1m19 0h1m1 0h1m1 0h1m4 0h2m1 0h1m6 0h1m4 0h1m2 0h1m6 0h1m1 0h1m5 0h1m7 0h1m1 0h1m2 0h1m10 0h1m1 0h1m2 0h1m2 0h1m8 0h1m8 0h1m2 0h1m14 0h1m13 0h1m1 0h1m16 0h3m1 0h1m2 0h1m2 0h1m11 0h1m3 0h1m8 0h1m5 0h1m4 0h1m2 0h1m6 0h2m11 0h1m2 0h2m4 0h1m6 0h1m6 0h1m5 0h2m1 0h1m5 0h2m3 0h2m5 0h1m4 0h4m4 0h1m1 0h1m9 0h4m4 0h1m2 0h3m9 0h1m5 0h3m1 0h1m1 0h1m4 0h2m4 0h1m5 0h2m7 0h1m9 0h1m11 0h1m11 0h1m5 0h1m1 0h2m4 0h2m3 0h1m8 0h2m1 0h1m3 0h1m28 0h1m5 0h1m1 0h1m6 0h1m1 0h1m4 0h1m2 0h2m1 0h2m4 0h1m1 0h1m2 0h1m1 0h1m1 0h1m1 0h1m4 0h1m21 0h1m4 0h2m10 0h1m2 0h1m4 0h1m1 0h2m12 0h1m4 0h1m2 0h1m152 0h1m13 0h2m14 0h1m5 0h1m1 0h1m1 0h1m23 0h1m5 0h1m8 0h1m23 0h1m2 0h1m9 0h1m22 0h2m2 0h1m18 0h1m9 0h1m3 0h1m4 0h1m14 0h1m10 0h1m8 0h1m10 0h1M3 43.5h1m6 0h1m4 0h1m4 0h1m3 0h1m3 0h1m1 0h1m3 0h3m8 0h1m2 0h2m1 0h1m1 0h1m2 0h2m13 0h1m2 0h1m1 0h1m1 0h4m6 0h1m5 0h1m11 0h2m15 0h1m3 0h1m3 0h1m3 0h2m1 0h3m3 0h1m2 0h3m2 0h1m1 0h1m4 0h1m3 0h1m12 0h1m1 0h2m4 0h1m9 0h1m4 0h1m2 0h1m2 0h5m3 0h1m5 0h1m6 0h3m7 0h1m1 0h2m1 0h1m3 0h1m3 0h1m8 0h1m4 0h1m4 0h4m1 0h4m2 0h1m9 0h1m4 0h1m1 0h1m1 0h1m6 0h1m6 0h1m5 0h1m7 0h2m4 0h1m3 0h1m1 0h1m6 0h1m6 0h1m3 0h1m2 0h2m17 0h1m5 0h3m1 0h1m5 0h1m2 0h1m2 0h1m5 0h2m1 0h1m2 0h2m1 0h1m9 0h1m1 0h1m3 0h2m6 0h2m10 0h1m2 0h1m3 0h1m3 0h2m11 0h1m1 0h4m4 0h1m5 0h2m1 0h1m15 0h1m8 0h3m1 0h1m1 0h1m2 0h2m1 0h1m1 0h2m8 0h2m1 0h1m3 0h1m1 0h1m3 0h2m1 0h1m9 0h1m7 0h1m9 0h1m4 0h2m4 0h1m9 0h1m2 0h5m1 0h1m2 0h2m13 0h1m5 0h1m10 0h1m1 0h1m12 0h1m1 0h1m15 0h3m3 0h1m2 0h1m3 0h2m18 0h1m8 0h1m4 0h1m1 0h1m4 0h1m3 0h1m3 0h1m4 0h1m14 0h1m8 0h1m5 0h1m2 0h1m3 0h1m14 0h1M3 44.5h1m4 0h1m9 0h1m6 0h1m2 0h1m2 0h1m5 0h1m7 0h1m3 0h1m5 0h3m3 0h1m1 0h2m11 0h1m1 0h1m3 0h1m1 0h1m12 0h1m4 0h1m2 0h2m3 0h1m4 0h1m2 0h2m33 0h1m3 0h2m4 0h1m7 0h2m1 0h2m4 0h1m2 0h1m1 0h1m5 0h1m7 0h1m5 0h1m2 0h1m1 0h1m3 0h3m1 0h1m4 0h1m4 0h1m2 0h1m11 0h1m1 0h1m2 0h1m1 0h1m6 0h1m7 0h1m6 0h1m1 0h2m1 0h3m6 0h1m13 0h1m2 0h3m2 0h2m5 0h1m1 0h1m2 0h1m1 0h2m2 0h1m3 0h1m3 0h1m5 0h2m1 0h2m5 0h1m3 0h1m6 0h1m4 0h3m5 0h1m22 0h2m5 0h1m15 0h1m6 0h1m1 0h2m8 0h2m12 0h1m3 0h2m2 0h1m1 0h2m18 0h1m1 0h1m5 0h2m1 0h2m2 0h1m5 0h1m11 0h1m2 0h1m6 0h3m4 0h1m4 0h1m3 0h1m1 0h1m2 0h1m12 0h1m3 0h1m1 0h1m3 0h1m8 0h1m11 0h1m10 0h1m1 0h1m1 0h2m2 0h1m6 0h1m3 0h1m6 0h1m5 0h1m2 0h1m1 0h1m3 0h2m2 0h2m19 0h1m4 0h1m1 0h1m6 0h1m1 0h1m2 0h1m1 0h1m3 0h1m1 0h1m2 0h2m1 0h1m2 0h3m7 0h1m5 0h1m1 0h1m3 0h1m1 0h1m13 0h1m4 0h1m12 0h1m2 0h1m29 0h1m1 0h1m1 0h1m4 0h1m3 0h3m2 0h1m5 0h2m2 0h1M5 45.5h1m10 0h2m2 0h1m9 0h1m18 0h1m1 0h1m4 0h2m1 0h3m1 0h1m8 0h1m9 0h1m14 0h1m1 0h1m4 0h1m13 0h1m3 0h1m9 0h1m2 0h1m2 0h1m1 0h2m3 0h1m2 0h1m2 0h1m1 0h2m4 0h1m12 0h2m3 0h1m9 0h1m8 0h1m2 0h2m5 0h2m2 0h2m2 0h2m20 0h1m6 0h1m10 0h1m7 0h1m5 0h2m1 0h1m4 0h1m1 0h1m6 0h1m6 0h1m5 0h1m7 0h1m7 0h4m5 0h1m3 0h1m1 0h3m3 0h1m4 0h1m6 0h1m1 0h4m2 0h2m2 0h1m2 0h1m4 0h2m6 0h1m2 0h1m6 0h2m2 0h2m6 0h1m1 0h1m10 0h1m2 0h3m1 0h2m1 0h1m2 0h1m4 0h1m3 0h2m6 0h1m3 0h1m3 0h2m2 0h1m1 0h1m1 0h1m14 0h1m11 0h1m2 0h1m4 0h1m7 0h1m2 0h3m1 0h1m5 0h1m4 0h1m2 0h1m5 0h1m5 0h1m7 0h1m1 0h1m8 0h1m1 0h1m5 0h2m1 0h1m7 0h2m13 0h2m1 0h1m16 0h1m2 0h1m1 0h1m1 0h1m2 0h1m2 0h1m16 0h1m1 0h1m1 0h1m1 0h1m11 0h1m3 0h1m4 0h1m3 0h1m2 0h1m3 0h1m7 0h1m5 0h2m3 0h2m4 0h1m4 0h2m7 0h1m11 0h1m9 0h1m4 0h1m2 0h1m3 0h3m2 0h1m1 0h1m40 0h1m3 0h1m1 0h1m66 0h1m2 0h1m4 0h1m1 0h1m49 0h1m9 0h2m24 0h1m20 0h1m27 0h1m4 0h1m2 0h1m18 0h1m50 0h1M4 46.5h1m2 0h1m11 0h1m32 0h1m6 0h1m4 0h1m3 0h1m15 0h3m1 0h3m3 0h1m2 0h1m1 0h1m4 0h1m2 0h2m1 0h1m1 0h1m8 0h1m7 0h1m10 0h1m4 0h1m4 0h2m19 0h1m8 0h1m130 0h1m40 0h1m36 0h1m2 0h2m81 0h1m49 0h1m44 0h1m9 0h1m5 0h2m3 0h1m2 0h1m11 0h1m2 0h2m7 0h1m1 0h1m3 0h1m3 0h1m17 0h1m8 0h1m1 0h1m15 0h3m1 0h1m2 0h1m1 0h1m2 0h1m1 0h1m15 0h1m5 0h2m16 0h1m15 0h1m36 0h1m12 0h1m3 0h1m4 0h4m2 0h1m7 0h1m6 0h1m6 0h1m64 0h1m199 0h1M15 47.5h1m3 0h1m13 0h1m4 0h1m1 0h1m71 0h1m2 0h1m13 0h1m58 0h1m10 0h1m24 0h1m25 0h1m10 0h1m4 0h1m4 0h1m8 0h1m2 0h1m3 0h1m5 0h1m19 0h1m54 0h1m27 0h1m10 0h1m12 0h1m48 0h1m1 0h1m14 0h2m5 0h1m13 0h1m17 0h1m9 0h1m17 0h1m4 0h1m33 0h1m8 0h1m2 0h1m3 0h2m10 0h2m11 0h1m11 0h1m21 0h1m14 0h1m10 0h2m6 0h1m18 0h1m14 0h1m3 0h1m14 0h1m8 0h1m34 0h1m7 0h1m14 0h2M44 48.5h1m2 0h1m21 0h1m2 0h1m9 0h1m21 0h1m61 0h1m4 0h1m49 0h1m3 0h1m2 0h1m24 0h2m3 0h1m19 0h1m10 0h1m4 0h2m17 0h1m18 0h1m22 0h1m45 0h1m64 0h1m39 0h1m14 0h1m11 0h1m1 0h1m5 0h1m6 0h1m2 0h1m9 0h1m3 0h1m48 0h3m3 0h1m26 0h1m17 0h1m2 0h1m8 0h1m7 0h1m2 0h1m1 0h1m5 0h4m7 0h1m5 0h1m5 0h1m7 0h2m64 0h1m2 0h1m1 0h1m1 0h1m14 0h1m1 0h4m44 0h1m23 0h1m53 0h2m7 0h1m9 0h4m3 0h1m1 0h1m11 0h1m3 0h1m11 0h1m2 0h1m15 0h1m2 0h1m3 0h1m9 0h1m21 0h2m7 0h1m8 0h1m7 0h1m8 0h2M3 49.5h2m11 0h1m1 0h1m2 0h1m4 0h1m4 0h1m2 0h1m2 0h1m3 0h1m7 0h1m15 0h1m2 0h1m3 0h1m2 0h1m1 0h1m1 0h1m2 0h1m1 0h1m3 0h1m1 0h1m7 0h1m4 0h2m2 0h3m2 0h1m2 0h2m3 0h1m1 0h2m2 0h1m1 0h1m2 0h1m2 0h1m1 0h1m2 0h1m1 0h2m8 0h1m1 0h1m3 0h2m8 0h2m4 0h2m1 0h1m2 0h1m3 0h1m4 0h1m5 0h1m3 0h1m5 0h1m3 0h1m3 0h2m2 0h1m9 0h1m1 0h1m9 0h1m3 0h1m6 0h1m3 0h1m10 0h1m5 0h3m3 0h1m1 0h2m3 0h1m6 0h1m3 0h1m2 0h1m2 0h1m5 0h1m7 0h1m4 0h1m4 0h1m9 0h1m2 0h2m2 0h1m10 0h1m1 0h1m4 0h1m2 0h1m2 0h1m3 0h1m5 0h1m4 0h1m4 0h1m2 0h1m1 0h2m2 0h1m2 0h1m2 0h1m3 0h2m14 0h1m2 0h2m2 0h2m2 0h1m2 0h1m4 0h2m1 0h1m7 0h1m2 0h2m14 0h5m5 0h2m8 0h1m7 0h1m4 0h2m2 0h1m3 0h1m1 0h1m8 0h1m1 0h1m9 0h3m3 0h1m2 0h3m2 0h2m3 0h4m2 0h2m1 0h1m3 0h1m11 0h2m5 0h2m2 0h1m5 0h5m2 0h1m2 0h2m1 0h1m1 0h1m3 0h1m5 0h1m5 0h1m2 0h2m8 0h1m6 0h3m4 0h1m1 0h3m2 0h1m9 0h1m1 0h4m3 0h1m11 0h1m14 0h1m1 0h1m3 0h3m5 0h1m2 0h2m5 0h1m7 0h3m3 0h1m5 0h3m1 0h1m1 0h1m42 0h1m7 0h2m15 0h1m29 0h1m31 0h1m38 0h1m4 0h1m37 0h1m9 0h1m61 0h1m51 0h1M4 50.5h1m3 0h1m1 0h2m5 0h2m1 0h2m2 0h1m1 0h1m4 0h1m5 0h1m5 0h1m2 0h1m2 0h1m2 0h2m9 0h1m4 0h1m12 0h1m3 0h1m2 0h1m4 0h1m6 0h1m4 0h1m4 0h1m2 0h1m5 0h1m6 0h5m6 0h1m1 0h1m3 0h1m2 0h1m4 0h1m1 0h2m5 0h1m1 0h1m7 0h2m5 0h2m11 0h2m1 0h2m4 0h1m10 0h1m4 0h2m1 0h1m4 0h2m3 0h2m5 0h1m9 0h3m7 0h1m2 0h1m2 0h2m1 0h1m5 0h1m7 0h1m7 0h1m3 0h2m4 0h1m6 0h1m10 0h1m2 0h1m2 0h1m1 0h1m7 0h1m4 0h2m5 0h1m6 0h1m2 0h1m13 0h5m4 0h2m1 0h1m6 0h1m1 0h1m5 0h1m4 0h1m4 0h2m1 0h1m3 0h1m11 0h2m2 0h1m4 0h1m1 0h1m3 0h1m3 0h1m9 0h1m3 0h1m1 0h1m4 0h1m3 0h1m1 0h1m3 0h2m9 0h1m11 0h2m5 0h1m9 0h1m7 0h1m6 0h1m3 0h1m1 0h1m2 0h1m2 0h1m3 0h1m2 0h4m2 0h1m2 0h1m6 0h2m1 0h1m10 0h1m1 0h1m1 0h1m5 0h1m1 0h2m6 0h1m2 0h1m4 0h1m6 0h2m5 0h1m6 0h1m3 0h1m36 0h1m7 0h2m1 0h1m1 0h1m2 0h1m29 0h1m2 0h1m3 0h1m12 0h2m4 0h1m55 0h1m11 0h1m1 0h1m3 0h2m4 0h1M0 51.5h1m2 0h2m12 0h1m3 0h1m4 0h1m8 0h1m6 0h1m7 0h1m2 0h5m1 0h2m8 0h2m4 0h2m10 0h1m3 0h2m5 0h1m1 0h3m2 0h1m12 0h1m1 0h2m5 0h1m4 0h1m4 0h2m4 0h1m13 0h1m3 0h1m7 0h1m2 0h1m2 0h1m7 0h1m1 0h1m1 0h1m2 0h2m7 0h2m7 0h1m4 0h2m3 0h1m3 0h5m19 0h2m3 0h4m1 0h1m2 0h1m5 0h1m2 0h1m2 0h1m1 0h3m2 0h1m1 0h2m6 0h1m7 0h3m4 0h1m2 0h1m2 0h1m1 0h1m1 0h2m7 0h1m4 0h1m3 0h1m9 0h1m3 0h1m2 0h1m1 0h1m1 0h1m1 0h1m2 0h1m3 0h1m8 0h1m3 0h1m1 0h2m7 0h1m1 0h2m2 0h1m2 0h2m1 0h1m2 0h2m2 0h1m1 0h2m6 0h2m6 0h1m7 0h1m2 0h1m2 0h1m20 0h1m16 0h3m4 0h1m1 0h1m1 0h1m2 0h2m2 0h2m2 0h1m1 0h1m2 0h1m1 0h1m6 0h1m1 0h1m3 0h1m3 0h1m1 0h1m5 0h2m4 0h1m1 0h2m5 0h1m12 0h1m15 0h2m4 0h1m10 0h1m1 0h1m2 0h1m8 0h2m2 0h3m3 0h2m2 0h1m1 0h1m4 0h1m1 0h1m2 0h1m5 0h1m2 0h1m4 0h3m11 0h1m3 0h2m2 0h1m2 0h1m5 0h1m1 0h1m3 0h1m5 0h4m6 0h1m1 0h1m2 0h1m8 0h1m1 0h1m1 0h2m3 0h2m1 0h1m7 0h1m4 0h1m4 0h1m1 0h1m1 0h1m8 0h1m1 0h1m40 0h1m1 0h1m4 0h2m2 0h1M1 52.5h1m13 0h1m65 0h1m1 0h1m18 0h1m36 0h1m14 0h1m6 0h1m7 0h1m10 0h1m15 0h1m17 0h1m43 0h1m39 0h1m110 0h1m29 0h1m46 0h1m133 0h1m42 0h1m21 0h1m58 0h1m18 0h1m9 0h1m1 0h1m3 0h1m1 0h1m16 0h3m2 0h1m2 0h1m10 0h2m3 0h1m4 0h1M2 53.5h1m5 0h2m1 0h2m2 0h1m3 0h1m7 0h1m3 0h1m5 0h1m1 0h1m4 0h1m4 0h1m1 0h2m2 0h2m1 0h1m1 0h1m1 0h1m3 0h1m2 0h2m2 0h1m2 0h1m5 0h1m1 0h1m7 0h1m4 0h1m5 0h1m3 0h3m3 0h1m1 0h2m12 0h1m1 0h1m2 0h1m2 0h1m1 0h1m33 0h1m4 0h1m3 0h1m2 0h1m2 0h1m13 0h1m4 0h1m1 0h1m1 0h1m1 0h1m1 0h2m3 0h2m1 0h1m6 0h1m6 0h2m2 0h1m3 0h2m1 0h3m1 0h1m1 0h1m1 0h1m7 0h1m1 0h1m1 0h1m9 0h1m12 0h2m4 0h1m1 0h1m3 0h2m10 0h1m1 0h1m4 0h2m5 0h1m2 0h1m1 0h1m2 0h1m5 0h1m3 0h1m4 0h1m2 0h2m3 0h1m1 0h1m1 0h1m1 0h1m14 0h1m2 0h2m4 0h2m8 0h1m9 0h1m4 0h1m2 0h1m2 0h1m1 0h1m2 0h3m4 0h1m3 0h2m2 0h1m1 0h1m4 0h1m1 0h1m8 0h1m6 0h2m1 0h1m1 0h1m8 0h1m1 0h5m1 0h1m2 0h1m3 0h1m1 0h1m3 0h1m6 0h1m8 0h1m2 0h1m4 0h1m6 0h1m2 0h1m8 0h2m1 0h1m2 0h1m6 0h1m10 0h1m3 0h2m3 0h1m1 0h1m4 0h1m5 0h1m1 0h1m13 0h1m3 0h1m3 0h2m2 0h1m9 0h2m1 0h1m10 0h1m12 0h1m6 0h1m1 0h2m3 0h1m2 0h1m1 0h1m1 0h1m1 0h1m3 0h1m1 0h1m2 0h3m1 0h1m16 0h1m5 0h1m1 0h1m4 0h1m2 0h1m6 0h3m2 0h1m1 0h1m1 0h1m3 0h1m4 0h1m44 0h1m2 0h1m3 0h3m3 0h2m2 0h2m1 0h1m5 0h1m6 0h1m17 0h1m18 0h2m20 0h1m70 0h1m57 0h1m3 0h1m59 0h1"/>
<path stroke="#80ff80" d="M0 0.5h1m8 0h1m1 0h2m7 0h2m2 0h2m2 0h1m5 0h1m6 0h1m8 0h1m2 0h1m4 0h4m1 0h1m5 0h2m1 0h1m5 0h1m5 0h2m2 0h1m10 0h1m1 0h1m1 0h1m1 0h1m15 0h2m2 0h1m3 0h3m14 0h2m5 0h2m3 0h1m2 0h1m10 0h1m2 0h3m1 0h1m1 0h1m6 0h1m9 0h1m3 0h1m8 0h3m1 0h1m2 0h2m1 0h1m4 0h2m1 0h1m1 0h1m5 0h1m2 0h2m1 0h1m1 0h3m2 0h1m3 0h1m1 0h2m4 0h1m12 0h2m1 0h1m6 0h2m5 0h3m4 0h1m19 0h1m2 0h2m2 0h1m2 0h1m7 0h3m5 0h4m11 0h1m1 0h1m1 0h1m3 0h1m15 0h1m2 0h3m1 0h3m2 0h1m2 0h1m2 0h1m2 0h2m3 0h2m10 0h1m7 0h2m8 0h3m1 0h1m6 0h2m1 0h1m7 0h1m1 0h2m7 0h3m6 0h1m13 0h1m8 0h1m25 0h1m8 0h1m2 0h1m3 0h1m2 0h1m2 0h1m3 0h1m7 0h1m3 0h1m8 0h2m4 0h2m1 0h2m1 0h1m1 0h3m4 0h1m1 0h2m3 0h2m5 0h1m1 0h1m6 0h1m4 0h1m3 0h1m2 0h1m1 0h1m1 0h2m1 0h2m2 0h1m8 0h1m13 0h1m5 0h1m4 0h1m3 0h3m1 0h1m1 0h2m15 0h1m1 0h1m32 0h1m1 0h1m3 0h1m14 0h1m15 0h1m5 0h4m2 0h1m3 0h1m4 0h1m2 0h1m1 0h1m12 0h1m5 0h1m47 0h1M67 1.5h2m12 0h1m4 0h1m7 0h1m4 0h1m7 0h1m22 0h1m4 0h3m3 0h1m1 0h1m5 0h1m2 0h1m2 0h1m1 0h1m2 0h1m17 0h1m5 0h1m2 0h1m6 0h1m21 0h1m2 0h3m6 0h1m18 0h2m1 0h1m3 0h1m3 0h1m31 0h1m8 0h2m4 0h1m8 0h1m1 0h1m6 0h1m2 0h1m1 0h1m3 0h2m3 0h1m2 0h1m3 0h1m4 0h1m4 0h1m1 0h1m3 0h2m1 0h1m4 0h2m20 0h1m6 0h2m5 0h1m1 0h2m3 0h2m4 0h1m6 0h1m2 0h1m4 0h1m15 0h1m2 0h1m16 0h1m2 0h2m21 0h2m11 0h1m3 0h1m8 0h1m6 0h1m1 0h1m10 0h1m7 0h1m3 0h1m9 0h1m13 0h1m2 0h2m3 0h1m5 0h1m10 0h2m1 0h2m10 0h3m7 0h1m3 0h1m4 0h2m1 0h1m3 0h1m1 0h2m15 0h1m2 0h1m61 0h1m14 0h1m6 0h1m92 0h1m2 0h1m25 0h1m6 0h1m3 0h1m10 0h1m8 0h1m8 0h2m1 0h1m4 0h3m8 0h1m5 0h1m10 0h2m6 0h1m9 0h1m4 0h1m10 0h1m2 0h1m3 0h2m11 0h1m1 0h1m2 0h1m3 0h1m10 0h2m5 0h1m16 0h2m3 0h1m5 0h1m12 0h1m11 0h1m1 0h1M91 2.5h1m7 0h1m7 0h1m17 0h1m6 0h1m7 0h1m5 0h1m1 0h1m5 0h1m53 0h1m8 0h1m9 0h1m24 0h1m50 0h1m2 0h1m5 0h1m14 0h1m7 0h1m2 0h1m14 0h1m16 0h1m28 0h1m38 0h1m11 0h1m12 0h1m17 0h1m5 0h1m3 0h1m17 0h2m6 0h1m4 0h1m1 0h1m7 0h1m3 0h3m7 0h2m1 0h1m1 0h1m2 0h1m49 0h1m2 0h1m1 0h1m9 0h2m4 0h2m1 0h1m4 0h1m1 0h1m1 0h1m2 0h1m2 0h2m1 0h1m32 0h1m1 0h1m39 0h1m69 0h1m3 0h1m17 0h2m8 0h1m2 0h1m5 0h1m1 0h1m9 0h1m14 0h1m1 0h2m23 0h1m6 0h1m3 0h3m10 0h2m5 0h2m1 0h1m5 0h1m1 0h1m3 0h1m14 0h1m4 0h1m12 0h1m3 0h3m1 0h1m6 0h1m1 0h1m3 0h3m4 0h2m3 0h1m2 0h2m5 0h1m10 0h1m4 0h1m17 0h1m6 0h2m2 0h1m13 0h1m13 0h2m1 0h1m1 0h1m3 0h1m3 0h2M33 3.5h1m1 0h1m33 0h1m35 0h1m1 0h2m8 0h1m17 0h1m3 0h1m3 0h2m11 0h2m5 0h1m3 0h1m4 0h1m17 0h1m58 0h1m21 0h1m7 0h1m13 0h2m130 0h1m13 0h1m9 0h1m3 0h1m12 0h1m4 0h1m13 0h1m11 0h1m1 0h1m2 0h1m1 0h1m5 0h1m31 0h1m3 0h1m3 0h1m1 0h1m2 0h1m4 0h1m2 0h1m2 0h1m6 0h3m3 0h1m6 0h1m1 0h1m1 0h3m1 0h1m1 0h1m1 0h1m7 0h1m3 0h1m2 0h3m1 0h1m15 0h2m29 0h1m25 0h1m76 0h1m60 0h1m4 0h2m10 0h1m4 0h1m1 0h2m20 0h1m9 0h1m14 0h1m2 0h1m1 0h2m6 0h1m4 0h1m2 0h1m6 0h2m3 0h1m5 0h1m3 0h1m2 0h1m1 0h1m1 0h1m6 0h1m10 0h2m3 0h1m15 0h1m6 0h1m5 0h1m2 0h1m2 0h1m6 0h1m3 0h1m6 0h1m4 0h1m19 0h1m4 0h2m3 0h2m1 0h1m4 0h4m1 0h1m2 0h1m1 0h1m9 0h1m1 0h1m4 0h1M25 4.5h2m3 0h1m3 0h1m1 0h2m7 0h1m3 0h1m3 0h1m3 0h2m7 0h1m1 0h1m3 0h1m1 0h4m2 0h1m4 0h3m2 0h2m1 0h2m14 0h1m4 0h1m8 0h2m3 0h1m4 0h1m8 0h1m2 0h3m3 0h1m1 0h1m1 0h1m13 0h1m10 0h1m9 0h1m23 0h1m8 0h1m12 0h3m21 0h1m19 0h1m13 0h1m1 0h1m30 0h1m9 0h1m6 0h1m18 0h1m14 0h1m24 0h1m3 0h1m40 0h1m3 0h1m17 0h1m1 0h1m1 0h1m9 0h1m1 0h1m7 0h1m1 0h1m1 0h1m23 0h2m1 0h1m16 0h1m22 0h1m18 0h2m1 0h1m3 0h1m3 0h1m6 0h2m2 0h1m1 0h2m2 0h1m2 0h1m2 0h1m1 0h2m8 0h1m4 0h1m3 0h1m6 0h2m4 0h1m4 0h1m4 0h2m3 0h2m1 0h1m6 0h1m1 0h1m7 0h1m3 0h1m4 0h2m1 0h1m4 0h1m4 0h1m3 0h1m3 0h1m6 0h1m3 0h1m13 0h1m18 0h2m1 0h1m27 0h1m24 0h1m1 0h1M106 5.5h2m17 0h1m5 0h2m2 0h1m4 0h2m8 0h1m15 0h1m23 0h1m1 0h1m24 0h2m1 0h1m4 0h3m10 0h1m12 0h1m1 0h2m4 0h1m10 0h1m1 0h1m2 0h2m4 0h2m9 0h1m2 0h1m2 0h1m4 0h2m2 0h1m10 0h1m4 0h1m3 0h1m8 0h4m5 0h1m2 0h1m13 0h1m1 0h3m8 0h1m5 0h1m32 0h1m2 0h1m30 0h1m2 0h3m9 0h2m17 0h2m2 0h1m6 0h1m4 0h2m1 0h1m3 0h3m15 0h1m5 0h1m5 0h1m1 0h1m6 0h2m5 0h1m2 0h1m6 0h1m2 0h2m7 0h1m1 0h3m6 0h1m3 0h1m7 0h1m5 0h2m6 0h1m12 0h1m3 0h1m11 0h1m3 0h2m3 0h1m10 0h1m62 0h2m36 0h1m4 0h1m23 0h1m33 0h1M14 6.5h2m31 0h1m9 0h1m36 0h1m2 0h1m21 0h1m3 0h1m12 0h1m36 0h1m6 0h1m14 0h1m1 0h1m6 0h2m3 0h1m2 0h1m2 0h6m5 0h3m8 0h2m4 0h1m2 0h2m3 0h1m5 0h1m1 0h1m1 0h1m3 0h1m6 0h1m12 0h1m4 0h1m2 0h1m3 0h1m8 0h1m2 0h3m6 0h1m6 0h2m2 0h1m5 0h2m5 0h1m3 0h1m14 0h2m6 0h2m8 0h1m9 0h1m1 0h1m9 0h1m1 0h1m2 0h4m5 0h1m6 0h4m5 0h1m4 0h1m4 0h1m1 0h1m4 0h3m5 0h1m2 0h1m1 0h2m2 0h1m1 0h1m1 0h3m8 0h1m6 0h1m9 0h1m1 0h1m1 0h1m8 0h1m74 0h1m14 0h1m3 0h2m5 0h1m1 0h1m9 0h2m1 0h1m1 0h1m5 0h1m3 0h1m1 0h1m5 0h1m32 0h1m32 0h1m9 0h1m2 0h1m5 0h1m1 0h1m25 0h1m60 0h1M1 7.5h1m64 0h1m20 0h1m14 0h1m16 0h1m12 0h1m13 0h1m22 0h2m1 0h1m4 0h1m2 0h1m6 0h1m8 0h1m24 0h1m13 0h1m4 0h1m18 0h1m3 0h1m1 0h1m30 0h1m2 0h1m8 0h1m16 0h1m3 0h1m6 0h2m3 0h1m72 0h2m8 0h1m7 0h1m45 0h1m1 0h1m11 0h1m1 0h1m23 0h1m8 0h2m1 0h1m3 0h1m8 0h1m1 0h2m20 0h2m9 0h1m5 0h1m5 0h1m12 0h1m17 0h1m16 0h1m23 0h1m4 0h1m31 0h1m9 0h1m26 0h1m12 0h1m3 0h1m24 0h1m12 0h1m2 0h1m12 0h1m3 0h1m7 0h1m19 0h1m66 0h1m16 0h1m53 0h1m23 0h1m7 0h1m63 0h1M28 8.5h2m3 0h1m7 0h1m15 0h1m11 0h1m7 0h1m12 0h1m6 0h1m34 0h2m4 0h1m6 0h1m1 0h1m10 0h2m2 0h2m7 0h1m3 0h1m6 0h1m1 0h1m4 0h2m1 0h1m5 0h1m1 0h1m2 0h2m10 0h1m6 0h1m1 0h3m4 0h1m4 0h1m4 0h1m1 0h1m3 0h1m18 0h1m1 0h1m2 0h2m4 0h1m2 0h2m2 0h1m8 0h1m4 0h1m10 0h1m4 0h1m2 0h2m1 0h1m1 0h1m1 0h1m16 0h1m2 0h1m1 0h2m2 0h2m14 0h2m8 0h1m1 0h2m4 0h1m2 0h1m3 0h2m1 0h1m2 0h1m12 0h3m6 0h1m1 0h2m4 0h1m10 0h1m10 0h3m4 0h1m3 0h1m7 0h1m7 0h2m2 0h1m10 0h1m1 0h1m1 0h1m6 0h1m5 0h2m1 0h1m11 0h3m3 0h1m2 0h1m4 0h1m3 0h1m7 0h1m1 0h1m13 0h2m1 0h1m2 0h2m3 0h3m20 0h1m1 0h1m3 0h1m1 0h1m2 0h1m2 0h4m4 0h1m13 0h1m2 0h1m9 0h1m4 0h1m1 0h1m7 0h1m8 0h1m3 0h1m17 0h1m22 0h1m95 0h1m90 0h1m2 0h1m153 0h1m25 0h1M0 9.5h1m2 0h1m3 0h1m2 0h1m1 0h1m7 0h1m3 0h1m1 0h1m5 0h1m3 0h1m2 0h1m9 0h1m2 0h2m8 0h4m2 0h1m6 0h1m1 0h1m1 0h1m5 0h1m3 0h3m8 0h1m5 0h1m2 0h3m4 0h1m3 0h1m1 0h3m3 0h1m1 0h1m1 0h1m7 0h1m4 0h1m8 0h1m3 0h1m14 0h1m3 0h1m5 0h1m1 0h1m16 0h1m4 0h1m1 0h1m2 0h1m10 0h2m10 0h1m2 0h1m1 0h1m30 0h1m14 0h2m1 0h1m25 0h1m3 0h1m3 0h1m1 0h1m4 0h1m7 0h1m2 0h1m2 0h2m2 0h1m7 0h2m8 0h2m49 0h1m17 0h1m17 0h1m13 0h1m2 0h1m2 0h2m7 0h1m1 0h1m10 0h1m5 0h1m4 0h1m13 0h1m1 0h1m3 0h3m19 0h1m5 0h1m1 0h1m2 0h1m2 0h1m4 0h1m1 0h2m24 0h1m11 0h1m6 0h1m3 0h1m1 0h1m3 0h2m5 0h1m21 0h1m4 0h1m5 0h1m6 0h2m2 0h1m5 0h1m1 0h1m4 0h1m9 0h1m4 0h2m1 0h1m3 0h2m5 0h1m5 0h1m10 0h1m5 0h1m3 0h2m52 0h1m17 0h1m13 0h2m1 0h2m1 0h1m4 0h1m1 0h1m1 0h1m6 0h1m4 0h1m18 0h1m5 0h1m7 0h1m5 0h1m8 0h1m5 0h1m18 0h1m12 0h2m1 0h1m10 0h1m17 0h1m4 0h1m5 0h1m7 0h1m8 0h2m12 0h1m16 0h1m7 0h1m38 0h1m5 0h1m6 0h1M13 10.5h1m5 0h1m11 0h1m13 0h1m5 0h1m7 0h1m9 0h1m22 0h1m5 0h1m3 0h1m1 0h1m2 0h1m3 0h1m4 0h1m4 0h1m2 0h2m8 0h1m6 0h1m2 0h1m4 0h2m2 0h2m3 0h2m1 0h1m1 0h1m2 0h1m1 0h1m7 0h3m4 0h1m6 0h1m1 0h1m7 0h1m9 0h1m2 0h1m9 0h1m6 0h2m7 0h2m3 0h1m4 0h1m4 0h1m2 0h1m5 0h1m11 0h1m14 0h2m4 0h1m2 0h1m4 0h1m2 0h1m4 0h3m1 0h3m5 0h1m7 0h1m2 0h1m4 0h4m1 0h1m1 0h1m1 0h1m24 0h1m12 0h4m31 0h1m9 0h1m22 0h1m4 0h1m12 0h1m9 0h1m35 0h1m2 0h1m3 0h1m5 0h1m7 0h1m7 0h1m10 0h1m19 0h1m8 0h1m2 0h2m1 0h1m3 0h2m2 0h1m1 0h2m2 0h2m3 0h1m1 0h1m3 0h4m8 0h1m1 0h1m1 0h1m4 0h1m6 0h1m7 0h1m4 0h2m2 0h2m2 0h1m9 0h2m9 0h1m9 0h1m4 0h1m3 0h3m16 0h1m4 0h1m4 0h2m1 0h1m1 0h1m3 0h2m5 0h1m7 0h1m1 0h1m4 0h1m3 0h1m4 0h2m2 0h2m5 0h3m6 0h1m5 0h1m1 0h1m2 0h2m2 0h1m12 0h1m3 0h1m1 0h1m3 0h1m6 0h1m32 0h1m18 0h1m17 0h1m73 0h1m77 0h1m20 0h1m2 0h1m4 0h1M25 11.5h1m1 0h1m2 0h2m1 0h1m10 0h2m15 0h1m8 0h1m4 0h1m11 0h1m6 0h1m13 0h1m4 0h2m7 0h1m9 0h2m2 0h2m1 0h1m1 0h1m5 0h1m1 0h1m5 0h1m2 0h1m1 0h1m12 0h1m82 0h1m13 0h1m1 0h2m12 0h1m5 0h1m4 0h1m9 0h1m5 0h2m4 0h1m1 0h1m3 0h2m2 0h1m2 0h1m1 0h2m3 0h2m1 0h1m8 0h1m7 0h2m3 0h4m7 0h1m4 0h1m1 0h1m1 0h1m7 0h1m1 0h1m1 0h1m1 0h1m2 0h1m12 0h1m1 0h1m2 0h1m6 0h1m10 0h1m3 0h1m7 0h1m11 0h2m4 0h1m9 0h1m5 0h2m1 0h1m3 0h1m4 0h1m6 0h1m18 0h1m1 0h1m5 0h2m8 0h1m4 0h1m3 0h1m1 0h1m7 0h1m7 0h1m10 0h1m1 0h2m12 0h1m2 0h1m3 0h1m5 0h2m1 0h1m4 0h1m5 0h3m1 0h1m3 0h1m1 0h2m3 0h2m3 0h1m1 0h5m1 0h1m3 0h1m5 0h1m1 0h1m2 0h1m4 0h1m2 0h1m7 0h1m5 0h1m10 0h1m1 0h1m3 0h1m4 0h1m6 0h1m1 0h1m14 0h1m12 0h3m4 0h2m1 0h2m6 0h1m3 0h1m3 0h2m1 0h1m1 0h1m9 0h1m2 0h2m6 0h1m4 0h1m6 0h2m6 0h1m5 0h2m3 0h2m1 0h1m1 0h1m4 0h2m2 0h2m16 0h1m1 0h2m2 0h1m7 0h1m4 0h1m9 0h1m13 0h2m4 0h1m4 0h1m16 0h1m18 0h1m18 0h1m3 0h1m3 0h1m2 0h1m1 0h1m6 0h1m1 0h1m1 0h2m1 0h3m5 0h1m4 0h1m5 0h2m12 0h1m27 0h1m6 0h1m2 0h1m4 0h1m1 0h1m8 0h2m1 0h1m1 0h1M5 12.5h1m12 0h1m23 0h1m10 0h1m3 0h1m3 0h1m2 0h1m6 0h1m9 0h1m4 0h1m3 0h1m10 0h2m1 0h1m4 0h1m10 0h1m10 0h1m1 0h1m12 0h1m1 0h1m2 0h2m2 0h1m2 0h1m4 0h1m9 0h2m1 0h1m1 0h1m10 0h1m3 0h1m4 0h1m5 0h2m1 0h1m1 0h2m7 0h1m2 0h1m3 0h1m20 0h1m2 0h2m8 0h2m10 0h1m1 0h2m6 0h1m12 0h1m14 0h1m5 0h1m3 0h2m2 0h1m2 0h1m1 0h1m2 0h1m4 0h1m3 0h1m1 0h1m1 0h1m3 0h2m8 0h1m5 0h2m2 0h2m5 0h1m11 0h1m8 0h1m1 0h2m2 0h2m3 0h2m1 0h1m7 0h2m2 0h1m1 0h1m5 0h1m3 0h1m4 0h1m9 0h1m2 0h1m3 0h2m3 0h1m1 0h1m8 0h1m6 0h1m2 0h2m1 0h1m3 0h1m3 0h1m3 0h1m2 0h1m1 0h3m5 0h2m4 0h1m2 0h2m23 0h2m5 0h2m1 0h1m2 0h1m5 0h1m5 0h1m9 0h1m7 0h1m2 0h1m1 0h1m3 0h1m7 0h1m5 0h1m2 0h1m6 0h3m1 0h1m5 0h1m3 0h1m3 0h1m3 0h4m2 0h1m6 0h2m2 0h1m2 0h4m2 0h1m1 0h1m4 0h1m1 0h1m1 0h1m8 0h1m2 0h1m4 0h1m1 0h1m5 0h1m1 0h1m1 0h1m1 0h1m3 0h2m1 0h1m7 0h2m3 0h2m6 0h1m25 0h2m4 0h2m6 0h1m1 0h1m2 0h1m5 0h2m1 0h1m1 0h1m5 0h1m4 0h1m1 0h1m2 0h1m4 0h2m10 0h1m2 0h1m4 0h1m9 0h2m5 0h2m1 0h2m8 0h1m2 0h1m5 0h1m3 0h1m3 0h1m9 0h1m2 0h2m10 0h1m1 0h1m11 0h1m10 0h1m2 0h1m1 0h1m5 0h1m4 0h1m3 0h1m1 0h1m1 0h1m8 0h1m6 0h1m4 0h1m2 0h1m1 0h2m2 0h1m3 0h1m1 0h1m5 0h1m1 0h1m10 0h1m1 0h1m6 0h1m5 0h1m3 0h1m8 0h1m1 0h2m2 0h1m9 0h1m1 0h1m2 0h2m1 0h1m8 0h1m1 0h1m1 0h1m5 0h1m1 0h1m5 0h1m4 0h1M4 13.5h1m10 0h1m8 0h1m1 0h1m4 0h1m1 0h1m2 0h2m7 0h1m6 0h1m5 0h1m6 0h1m1 0h2m1 0h1m4 0h2m10 0h1m3 0h1m8 0h1m4 0h2m1 0h1m6 0h2m3 0h3m6 0h1m4 0h1m3 0h1m7 0h1m7 0h1m3 0h1m3 0h2m5 0h1m1 0h1m1 0h1m1 0h1m3 0h1m2 0h1m1 0h1m3 0h2m1 0h1m10 0h1m5 0h2m4 0h1m6 0h2m5 0h3m9 0h1m1 0h1m9 0h5m3 0h1m2 0h1m4 0h2m3 0h5m1 0h1m5 0h1m1 0h1m4 0h1m2 0h1m4 0h1m4 0h1m10 0h1m8 0h1m14 0h3m2 0h1m8 0h1m1 0h3m4 0h1m1 0h1m20 0h1m12 0h1m5 0h1m5 0h1m3 0h1m1 0h1m3 0h1m1 0h1m7 0h1m1 0h1m1 0h1m8 0h1m6 0h1m1 0h1m2 0h1m2 0h2m3 0h2m6 0h1m4 0h1m3 0h1m3 0h1m12 0h2m2 0h1m2 0h3m2 0h1m7 0h1m9 0h4m5 0h1m6 0h1m4 0h1m5 0h1m20 0h1m2 0h1m12 0h1m1 0h1m10 0h1m2 0h2m28 0h1m17 0h1m2 0h1m2 0h1m6 0h2m3 0h1m2 0h1m8 0h1m1 0h1m20 0h1m1 0h1m4 0h1m16 0h2m6 0h2m7 0h2m8 0h2m3 0h2m1 0h1m1 0h1m1 0h1m3 0h1m3 0h1m3 0h1m2 0h1m11 0h2m2 0h5m3 0h2m1 0h1m1 0h1m2 0h1m9 0h1m1 0h2m1 0h1m10 0h1m4 0h1m2 0h2m8 0h1m2 0h2m2 0h1m10 0h1m6 0h3m6 0h1m2 0h3m1 0h1m1 0h1m4 0h2m1 0h1m3 0h1m5 0h2m3 0h1m2 0h1m2 0h1m1 0h2m2 0h1m5 0h1m1 0h1m8 0h2m2 0h2m1 0h1m3 0h1m10 0h1m7 0h2m1 0h1m1 0h1m3 0h1m1 0h2m7 0h1m8 0h1m1 0h1m3 0h1m9 0h1m1 0h1m5 0h1m2 0h1m11 0h2m3 0h1m2 0h1m6 0h1m2 0h1m2 0h1m6 0h1m1 0h1m1 0h2M7 14.5h1m4 0h1m3 0h1m9 0h1m15 0h2m1 0h1m1 0h1m18 0h2m5 0h2m19 0h1m2 0h2m2 0h1m16 0h1m2 0h1m1 0h1m1 0h3m7 0h1m3 0h1m2 0h1m4 0h1m1 0h1m3 0h1m8 0h1m3 0h1m1 0h2m1 0h1m2 0h2m2 0h1m4 0h1m3 0h2m4 0h1m2 0h1m23 0h1m6 0h3m18 0h1m4 0h1m5 0h1m3 0h1m16 0h1m13 0h1m5 0h1m20 0h1m5 0h1m1 0h2m2 0h1m3 0h1m6 0h1m4 0h1m2 0h2m1 0h1m1 0h1m4 0h1m3 0h1m9 0h1m4 0h1m8 0h1m5 0h1m1 0h1m1 0h1m1 0h1m1 0h1m3 0h1m6 0h1m3 0h1m14 0h2m8 0h1m22 0h2m2 0h1m13 0h1m5 0h1m1 0h1m1 0h1m7 0h3m1 0h1m4 0h1m13 0h1m7 0h2m7 0h1m5 0h2m3 0h1m8 0h1m11 0h1m1 0h2m8 0h1m2 0h1m2 0h1m9 0h1m1 0h2m10 0h3m3 0h1m12 0h1m2 0h1m7 0h2m9 0h2m4 0h2m1 0h1m2 0h1m2 0h1m4 0h1m6 0h1m5 0h1m4 0h1m13 0h1m3 0h1m12 0h2m2 0h1m1 0h1m2 0h1m1 0h1m1 0h2m1 0h1m1 0h1m5 0h1m6 0h1m1 0h2m1 0h1m1 0h2m3 0h1m6 0h1m4 0h1m6 0h2m22 0h1m2 0h1m3 0h1m1 0h1M12 15.5h1m28 0h1m3 0h1m22 0h1m51 0h1m4 0h1m24 0h1m12 0h1m27 0h1m6 0h1m10 0h1m36 0h1m10 0h1m27 0h1m27 0h2m6 0h2m3 0h1m1 0h1m2 0h1m13 0h1m3 0h3m1 0h2m2 0h1m5 0h1m16 0h1m3 0h1m4 0h1m5 0h1m14 0h1m10 0h1m2 0h1m4 0h3m1 0h1m1 0h1m2 0h1m2 0h1m7 0h1m2 0h1m7 0h1m2 0h2m14 0h1m5 0h2m6 0h1m5 0h1m10 0h1m1 0h1m3 0h2m6 0h1m2 0h1m1 0h1m2 0h1m1 0h1m7 0h1m1 0h1m6 0h3m3 0h2m5 0h1m2 0h1m3 0h1m6 0h1m14 0h1m3 0h1m7 0h1m1 0h1m2 0h2m18 0h1m2 0h1m7 0h1m12 0h1m6 0h1m5 0h1m4 0h1m5 0h1m18 0h1m7 0h5m11 0h3m6 0h1m6 0h1m7 0h2m2 0h1m11 0h1m9 0h1m1 0h4m6 0h1m5 0h1m3 0h1m3 0h2m4 0h1m4 0h1m1 0h1m4 0h1m7 0h1m1 0h1m4 0h1m23 0h2m8 0h1m1 0h1m6 0h1m19 0h1m5 0h1m3 0h2m1 0h1m8 0h1m1 0h2m4 0h1m4 0h1m3 0h2m23 0h1m5 0h1m8 0h1m1 0h2m5 0h1m1 0h2m8 0h1m2 0h1m4 0h2m16 0h2m39 0h4m4 0h2m2 0h2m1 0h2m1 0h1m4 0h1m1 0h2m1 0h1M115 16.5h2m8 0h1m9 0h1m18 0h2m6 0h1m9 0h1m2 0h1m1 0h1m2 0h1m2 0h2m3 0h3m2 0h1m7 0h1m1 0h1m9 0h2m1 0h1m5 0h1m14 0h1m5 0h2m8 0h1m17 0h1m3 0h1m2 0h1m1 0h5m11 0h1m1 0h1m8 0h1m9 0h2m4 0h1m2 0h2m5 0h1m3 0h1m1 0h1m1 0h1m3 0h1m6 0h2m10 0h1m3 0h2m6 0h1m9 0h2m3 0h1m3 0h2m3 0h1m1 0h1m7 0h1m22 0h1m2 0h1m1 0h1m9 0h1m5 0h1m3 0h1m1 0h1m7 0h3m2 0h1m2 0h1m2 0h1m4 0h1m1 0h1m1 0h1m3 0h4m7 0h1m1 0h1m1 0h1m1 0h3m5 0h1m5 0h1m1 0h1m2 0h1m1 0h1m1 0h1m4 0h2m5 0h1m7 0h1m1 0h2m4 0h1m1 0h1m2 0h2m2 0h3m2 0h1m4 0h1m6 0h2m4 0h2m9 0h1m7 0h3m6 0h1m3 0h3m6 0h1m4 0h1m1 0h1m16 0h1m23 0h2m29 0h1m3 0h1m3 0h1m4 0h2m11 0h1m13 0h1m2 0h1m2 0h2m5 0h1m9 0h1m5 0h1m8 0h2m4 0h1m7 0h1m18 0h2m1 0h1m6 0h1M30 17.5h1m26 0h1m1 0h1m2 0h1m9 0h1m2 0h1m4 0h1m11 0h1m1 0h1m5 0h2m4 0h1m3 0h1m3 0h1m5 0h1m11 0h1m1 0h1m15 0h1m3 0h2m1 0h1m9 0h2m8 0h2m4 0h1m3 0h1m2 0h3m6 0h1m11 0h1m6 0h1m2 0h1m2 0h1m38 0h1m3 0h3m6 0h1m7 0h1m1 0h2m6 0h1m2 0h2m8 0h1m7 0h2m5 0h1m2 0h2m8 0h1m2 0h1m2 0h1m11 0h1m3 0h1m1 0h2m3 0h2m1 0h1m6 0h1m3 0h2m1 0h1m3 0h1m3 0h3m2 0h2m5 0h1m3 0h4m1 0h2m3 0h2m2 0h2m14 0h1m16 0h2m5 0h1m2 0h1m2 0h1m2 0h1m1 0h1m1 0h1m13 0h2m5 0h1m4 0h1m1 0h1m1 0h1m1 0h1m2 0h1m8 0h1m4 0h2m7 0h1m2 0h2m2 0h1m1 0h1m4 0h1m14 0h2m9 0h1m19 0h2m1 0h1m3 0h2m3 0h3m1 0h1m1 0h1m2 0h1m1 0h1m2 0h1m5 0h1m4 0h1m1 0h1m3 0h1m10 0h4m12 0h1m6 0h1m7 0h1m2 0h2m2 0h1m4 0h1m1 0h1m5 0h1m1 0h1m5 0h1m5 0h2m3 0h1m4 0h1m1 0h1m10 0h1m2 0h2m4 0h3m1 0h1m6 0h1m5 0h3m1 0h1m5 0h1m11 0h1m9 0h1m8 0h1m4 0h1m9 0h1m2 0h2M21 18.5h1m8 0h1m2 0h2m38 0h1m19 0h1m9 0h1m2 0h1m6 0h1m1 0h1m5 0h1m1 0h1m8 0h1m2 0h2m4 0h1m2 0h1m3 0h2m9 0h1m6 0h1m1 0h2m1 0h2m9 0h3m1 0h1m7 0h1m3 0h1m2 0h1m6 0h1m10 0h1m1 0h2m2 0h2m3 0h2m3 0h1m3 0h1m2 0h1m7 0h1m2 0h1m1 0h3m1 0h1m4 0h1m11 0h1m2 0h1m1 0h2m3 0h1m1 0h1m5 0h1m9 0h1m1 0h2m2 0h1m6 0h2m1 0h1m3 0h1m3 0h1m3 0h1m2 0h1m4 0h1m5 0h1m1 0h1m6 0h1m2 0h1m8 0h2m1 0h1m4 0h1m5 0h2m3 0h1m7 0h1m11 0h2m1 0h1m3 0h1m4 0h2m5 0h1m14 0h1m3 0h1m8 0h1m4 0h1m7 0h2m14 0h1m6 0h1m3 0h1m23 0h1m4 0h1m1 0h1m1 0h1m8 0h1m4 0h1m7 0h1m9 0h3m3 0h1m8 0h1m2 0h3m8 0h1m3 0h3m3 0h2m5 0h2m2 0h1m4 0h1m1 0h2m3 0h1m3 0h1m11 0h2m3 0h1m2 0h3m11 0h1m10 0h1m9 0h1m4 0h1m1 0h1m3 0h2m2 0h1m8 0h1m2 0h1m4 0h1m3 0h1m2 0h1m15 0h1m7 0h1m1 0h1m56 0h1m2 0h1m14 0h1M1 19.5h2m1 0h1m1 0h1m1 0h2m10 0h1m5 0h2m3 0h1m2 0h1m6 0h1m1 0h1m3 0h1m9 0h1m7 0h1m4 0h4m3 0h1m4 0h4m1 0h2m3 0h1m4 0h1m3 0h1m14 0h2m7 0h1m1 0h2m4 0h1m3 0h3m6 0h4m2 0h1m3 0h1m1 0h1m2 0h1m15 0h1m2 0h1m8 0h1m1 0h1m5 0h1m1 0h1m6 0h1m5 0h1m2 0h1m9 0h1m3 0h1m6 0h1m3 0h2m10 0h1m4 0h2m3 0h1m2 0h1m1 0h2m5 0h2m3 0h1m1 0h1m3 0h1m5 0h1m1 0h3m2 0h3m9 0h1m2 0h1m1 0h1m8 0h2m3 0h1m1 0h1m5 0h1m2 0h3m10 0h1m3 0h2m5 0h1m3 0h2m18 0h1m2 0h2m2 0h1m2 0h1m5 0h1m4 0h1m3 0h3m2 0h1m5 0h1m1 0h2m1 0h3m2 0h2m5 0h2m1 0h1m16 0h2m5 0h1m3 0h1m1 0h1m5 0h1m15 0h1m9 0h2m2 0h1m22 0h2m8 0h1m4 0h1m1 0h1m1 0h1m8 0h1m1 0h3m2 0h1m1 0h1m2 0h2m3 0h1m1 0h1m3 0h2m3 0h1m4 0h1m4 0h2m4 0h1m2 0h2m6 0h1m1 0h1m6 0h1m1 0h1m2 0h1m7 0h1m1 0h2m4 0h2m13 0h1m2 0h1m4 0h3m2 0h2m16 0h2m4 0h1m7 0h1m1 0h1m2 0h1m1 0h1m1 0h2m1 0h1m1 0h2m1 0h1m1 0h1m1 0h1m4 0h1m2 0h2m3 0h1m3 0h4m3 0h1m2 0h1m60 0h1m119 0h1m21 0h1m16 0h1M13 20.5h2m17 0h1m21 0h1m15 0h1m72 0h1m28 0h1m5 0h1m41 0h1m6 0h1m14 0h1m31 0h1m31 0h1m9 0h2m8 0h1m7 0h1m10 0h1m36 0h1m36 0h1m33 0h1m5 0h1m1 0h1m6 0h1m35 0h1m2 0h1m16 0h1m33 0h1m3 0h1m6 0h1m6 0h1m12 0h1m1 0h1m3 0h1m13 0h1m1 0h1m1 0h1m7 0h1m1 0h1m11 0h3m15 0h2m8 0h1m2 0h1m4 0h1m1 0h1m6 0h1m1 0h2m4 0h1m5 0h2m2 0h1m2 0h1m4 0h2m1 0h1m8 0h1m2 0h1m15 0h1m2 0h1m1 0h1m1 0h1m4 0h1m2 0h1m2 0h1m12 0h2m2 0h1m3 0h2m7 0h1m3 0h1m1 0h1m2 0h1m9 0h1m6 0h2m9 0h1m1 0h1m3 0h1M7 21.5h1m23 0h1m9 0h1m3 0h1m4 0h1m6 0h1m7 0h1m15 0h1m3 0h1m8 0h1m4 0h1m5 0h2m8 0h1m1 0h1m12 0h1m14 0h1m5 0h1m1 0h1m13 0h1m2 0h3m7 0h2m3 0h2m9 0h1m2 0h1m4 0h1m9 0h1m3 0h3m3 0h1m5 0h1m4 0h1m4 0h1m3 0h2m5 0h1m4 0h3m2 0h2m2 0h2m15 0h2m2 0h2m1 0h2m2 0h1m1 0h1m1 0h1m15 0h1m3 0h1m7 0h1m4 0h1m8 0h1m2 0h1m1 0h1m1 0h2m3 0h2m4 0h1m1 0h1m16 0h1m37 0h1m18 0h1m14 0h3m2 0h2m2 0h2m11 0h1m8 0h1m3 0h1m1 0h2m9 0h2m6 0h1m13 0h1m1 0h1m5 0h1m1 0h3m3 0h3m3 0h1m4 0h1m9 0h1m7 0h2m5 0h1m7 0h1m13 0h1m1 0h1m18 0h1m4 0h1m16 0h1m1 0h3m14 0h1m10 0h2m4 0h2m8 0h1m1 0h2m7 0h2m8 0h1m3 0h1m3 0h2m4 0h1m2 0h1m3 0h1m1 0h1m4 0h2m1 0h1m2 0h1m7 0h1m9 0h2m3 0h1m35 0h1m16 0h1M142 22.5h1m1 0h2m14 0h1m2 0h1m2 0h1m17 0h3m2 0h1m1 0h2m5 0h1m8 0h2m5 0h1m2 0h1m28 0h1m11 0h1m7 0h1m6 0h2m2 0h1m17 0h3m2 0h1m11 0h1m3 0h1m6 0h2m4 0h1m3 0h1m8 0h1m3 0h1m3 0h1m2 0h1m2 0h2m1 0h1m9 0h1m24 0h1m4 0h1m10 0h1m1 0h1m1 0h2m107 0h1m39 0h1m15 0h1m11 0h1m17 0h1m2 0h1M2 23.5h1m3 0h1m4 0h2m3 0h2m1 0h1m33 0h1m19 0h1m32 0h1m3 0h1m14 0h1m8 0h1m5 0h1m8 0h2m1 0h1m3 0h1m22 0h2m15 0h2m11 0h1m18 0h1m8 0h3m5 0h1m6 0h1m7 0h1m2 0h2m5 0h1m1 0h1m8 0h1m5 0h1m6 0h1m5 0h1m6 0h1m4 0h2m1 0h2m7 0h1m1 0h1m3 0h1m6 0h1m2 0h3m1 0h2m8 0h1m5 0h1m3 0h1m14 0h1m2 0h1m5 0h1m6 0h1m1 0h1m1 0h1m6 0h1m6 0h1m9 0h1m9 0h1m5 0h1m1 0h1m27 0h1m4 0h2m4 0h1m10 0h1m1 0h1m30 0h2m7 0h1m2 0h1m2 0h1m8 0h1m9 0h1m3 0h1m6 0h1m3 0h1m3 0h3m4 0h1m1 0h1m2 0h1m1 0h1m3 0h1m3 0h1m9 0h1m23 0h1m10 0h1m7 0h1m36 0h1m16 0h1m17 0h1m23 0h1m10 0h1m2 0h1m3 0h1m11 0h1m7 0h1m8 0h2m7 0h1m3 0h1m8 0h1m1 0h1m8 0h1m6 0h1m17 0h1m2 0h1m11 0h1m8 0h2m3 0h1m4 0h1m3 0h1m8 0h2m7 0h1m6 0h1m1 0h1m3 0h1m3 0h1m1 0h1m16 0h1m11 0h1m4 0h1m5 0h1m16 0h1m1 0h1m2 0h1m10 0h1m3 0h2m6 0h2m24 0h1m3 0h2m15 0h1m1 0h1m1 0h2m3 0h1m5 0h1M0 24.5h2m3 0h1m4 0h1m5 0h1m3 0h1m3 0h1m1 0h1m8 0h1m2 0h1m2 0h1m1 0h2m3 0h1m1 0h2m2 0h1m10 0h1m9 0h1m6 0h2m1 0h1m12 0h3m4 0h1m11 0h1m5 0h2m2 0h1m5 0h1m1 0h1m1 0h1m3 0h1m5 0h1m19 0h1m8 0h1m3 0h2m6 0h1m2 0h1m5 0h3m1 0h2m1 0h1m2 0h2m3 0h1m4 0h1m3 0h1m5 0h1m9 0h1m3 0h1m6 0h1m1 0h2m3 0h1m6 0h2m5 0h1m3 0h1m4 0h2m1 0h1m2 0h1m8 0h1m1 0h1m13 0h1m1 0h1m10 0h2m3 0h1m5 0h1m1 0h1m8 0h1m1 0h1m1 0h2m1 0h2m2 0h1m2 0h1m1 0h1m1 0h3m3 0h2m7 0h1m5 0h1m2 0h1m1 0h1m25 0h1m4 0h1m12 0h1m1 0h1m39 0h1m4 0h1m7 0h1m12 0h1m4 0h1m11 0h2m9 0h1m4 0h1m5 0h1m3 0h1m2 0h1m6 0h1m7 0h1m2 0h1m14 0h1m4 0h1m8 0h1m3 0h1m2 0h2m11 0h1m8 0h1m2 0h1m1 0h4m2 0h1m3 0h1m45 0h1m9 0h1m11 0h2m19 0h1m19 0h1m45 0h1m13 0h1m5 0h1m1 0h1m1 0h1m4 0h2m1 0h1m1 0h1m15 0h1m21 0h1m3 0h1m7 0h1m10 0h1m11 0h1m11 0h1m1 0h1m1 0h1m1 0h1m2 0h3m5 0h1m2 0h1m3 0h2m2 0h1m6 0h1m4 0h1m13 0h1m12 0h2m5 0h1m8 0h1m46 0h1m3 0h1m47 0h1M53 25.5h1m8 0h1m22 0h1m3 0h1m88 0h1m2 0h1m3 0h1m12 0h1m21 0h1m60 0h1m31 0h1m8 0h1m2 0h1m2 0h1m1 0h1m5 0h1m5 0h1m4 0h1m3 0h3m2 0h2m1 0h1m2 0h2m3 0h2m9 0h1m26 0h1m13 0h1m24 0h1m13 0h1m1 0h1m6 0h1m1 0h1m17 0h1m3 0h3m3 0h1m1 0h1m1 0h1m1 0h3m4 0h2m6 0h1m9 0h2m3 0h1m14 0h1m3 0h1m1 0h1m7 0h1m2 0h1m44 0h1m3 0h1m6 0h1m9 0h1m50 0h1m26 0h1m21 0h1m12 0h1m20 0h1m8 0h1m48 0h1m30 0h1m10 0h1m3 0h1m5 0h1m14 0h1m18 0h1m2 0h1m6 0h1m6 0h1m13 0h2m11 0h1m6 0h2m5 0h1m21 0h1m8 0h2m15 0h1m6 0h2m15 0h1m10 0h3m13 0h1m3 0h1m2 0h1m4 0h1M0 26.5h1m9 0h1m8 0h1m4 0h1m18 0h1m3 0h3m1 0h1m7 0h1m1 0h1m4 0h1m9 0h1m7 0h2m1 0h1m1 0h1m7 0h1m19 0h1m18 0h1m1 0h2m9 0h3m3 0h1m2 0h1m3 0h1m6 0h2m1 0h1m4 0h1m4 0h1m1 0h1m7 0h2m3 0h1m1 0h2m9 0h1m1 0h2m1 0h1m9 0h3m3 0h1m6 0h1m3 0h1m11 0h2m3 0h1m4 0h1m8 0h1m2 0h1m4 0h1m3 0h2m2 0h1m2 0h2m1 0h1m18 0h1m3 0h1m5 0h1m1 0h1m1 0h1m2 0h1m5 0h2m6 0h1m10 0h2m3 0h1m1 0h1m1 0h2m2 0h1m43 0h1m12 0h1m8 0h1m2 0h1m4 0h1m9 0h1m12 0h1m4 0h1m17 0h1m7 0h1m1 0h1m3 0h1m3 0h1m18 0h1m1 0h3m1 0h2m22 0h1m1 0h1m2 0h1m1 0h1m1 0h1m3 0h2m19 0h2m5 0h1m2 0h1m1 0h1m1 0h2m1 0h3m1 0h1m3 0h1m11 0h1m5 0h1m3 0h2m6 0h1m15 0h2m8 0h1m1 0h1m2 0h1m4 0h1m5 0h1m1 0h1m8 0h1m5 0h2m4 0h1m5 0h1m7 0h1m2 0h1m7 0h1m4 0h1m1 0h1m6 0h1m13 0h1m21 0h1m3 0h1m11 0h1m13 0h1m3 0h2m6 0h1M4 27.5h1m6 0h1m17 0h1m17 0h1m1 0h2m24 0h1m30 0h1m2 0h1m7 0h1m8 0h1m1 0h1m6 0h1m2 0h1m7 0h1m7 0h1m4 0h1m28 0h4m13 0h4m3 0h1m4 0h3m3 0h2m3 0h1m1 0h1m7 0h1m20 0h1m18 0h1m31 0h1m11 0h1m6 0h1m14 0h1m1 0h1m2 0h1m4 0h1m35 0h1m22 0h1m3 0h1m3 0h1m18 0h1m15 0h1m43 0h1m31 0h1m12 0h1m12 0h1m7 0h1m2 0h1m16 0h1m8 0h2m8 0h1m2 0h1m9 0h1m1 0h1m3 0h3m9 0h1m8 0h1m2 0h1m4 0h1m4 0h1m4 0h1m12 0h1m2 0h1m2 0h1m4 0h1m5 0h1m7 0h1m2 0h1m5 0h1m12 0h1m2 0h1m1 0h3m3 0h1m24 0h1m10 0h1m1 0h1m2 0h2m2 0h1m1 0h1m2 0h1m1 0h1m1 0h1m1 0h1m2 0h3m1 0h1m2 0h3m7 0h1m1 0h1m10 0h2M8 28.5h1m11 0h1m19 0h1m9 0h1m3 0h1m5 0h1m23 0h1m3 0h1m1 0h1m1 0h1m9 0h1m3 0h1m1 0h1m38 0h1m36 0h1m64 0h1m36 0h1m4 0h2m32 0h1m9 0h1m3 0h1m8 0h1m11 0h1m30 0h2m12 0h1m12 0h1m46 0h1m13 0h1m21 0h1m21 0h1m50 0h1m15 0h1m2 0h1m10 0h1m4 0h1m31 0h1m1 0h1m8 0h1m37 0h1m23 0h1m8 0h1m20 0h1m9 0h1m3 0h1m44 0h2m3 0h1m7 0h1m1 0h1m14 0h1M1 29.5h1m4 0h3m1 0h1m5 0h2m2 0h2m16 0h1m5 0h1m4 0h1m5 0h1m6 0h1m1 0h1m1 0h3m2 0h1m6 0h1m1 0h1m2 0h1m1 0h4m15 0h1m3 0h3m7 0h1m4 0h2m4 0h2m5 0h1m5 0h1m2 0h1m12 0h1m7 0h1m5 0h3m4 0h1m6 0h1m2 0h1m1 0h1m6 0h2m3 0h1m4 0h1m16 0h2m4 0h1m7 0h1m2 0h1m15 0h1m1 0h1m7 0h1m4 0h1m9 0h1m2 0h2m1 0h2m1 0h1m15 0h1m3 0h3m2 0h2m2 0h1m7 0h2m3 0h1m20 0h1m1 0h1m1 0h2m1 0h1m1 0h1m9 0h2m11 0h3m3 0h1m1 0h1m2 0h1m1 0h1m1 0h1m5 0h1m1 0h1m2 0h1m18 0h1m6 0h1m2 0h1m5 0h4m2 0h1m11 0h1m2 0h1m4 0h1m17 0h1m1 0h1m4 0h1m3 0h1m1 0h3m2 0h2m4 0h1m2 0h1m1 0h1m1 0h1m7 0h1m6 0h2m7 0h1m2 0h2m4 0h2m8 0h2m1 0h1m1 0h1m3 0h1m1 0h1m6 0h2m7 0h2m1 0h1m3 0h1m5 0h2m5 0h1m1 0h1m10 0h1m2 0h1m1 0h1m6 0h1m4 0h1m2 0h1m8 0h1m2 0h1m4 0h2m1 0h1m2 0h2m8 0h2m7 0h1m2 0h1m3 0h1m7 0h2m2 0h2m1 0h2m7 0h2m3 0h1m5 0h2m1 0h2m3 0h1m11 0h1m4 0h1M6 30.5h1m3 0h1m1 0h1m3 0h1m13 0h1m1 0h1m4 0h2m4 0h1m5 0h2m1 0h1m2 0h1m1 0h1m1 0h1m1 0h1m4 0h1m5 0h1m3 0h1m1 0h2m1 0h1m3 0h1m8 0h1m3 0h2m6 0h1m3 0h1m4 0h2m4 0h1m2 0h2m1 0h1m4 0h1m2 0h1m1 0h1m7 0h1m4 0h1m5 0h2m2 0h1m2 0h1m4 0h2m1 0h1m1 0h4m2 0h1m2 0h1m8 0h1m2 0h1m11 0h2m5 0h1m3 0h2m11 0h1m4 0h2m1 0h1m2 0h1m3 0h1m1 0h1m5 0h1m5 0h1m5 0h1m3 0h1m4 0h3m2 0h1m6 0h1m5 0h1m3 0h1m2 0h1m3 0h1m5 0h1m3 0h1m5 0h1m1 0h2m1 0h1m2 0h1m15 0h1m2 0h2m2 0h1m4 0h1m5 0h2m1 0h1m4 0h2m5 0h1m6 0h1m3 0h1m3 0h1m2 0h1m1 0h1m1 0h1m5 0h1m2 0h1m1 0h1m3 0h1m1 0h2m3 0h2m3 0h3m23 0h1m7 0h1m6 0h1m3 0h1m11 0h1m4 0h2m10 0h1m5 0h1m5 0h2m14 0h1m6 0h3m9 0h1m2 0h1m4 0h1m3 0h1m3 0h1m3 0h3m2 0h1m6 0h1m7 0h1m1 0h1m1 0h2m9 0h2m5 0h1m3 0h1m3 0h1m9 0h1m6 0h1m5 0h1m2 0h1m2 0h1m19 0h1m4 0h1m1 0h1m10 0h1m3 0h1m9 0h2m12 0h2m1 0h3m3 0h1m3 0h2m3 0h1m2 0h1m10 0h1m2 0h1m3 0h1m4 0h1m3 0h1m34 0h1m3 0h1m2 0h4m3 0h1m5 0h1m1 0h1m4 0h1m242 0h1m6 0h1M1 31.5h1m7 0h1m3 0h1m2 0h1m1 0h2m6 0h1m5 0h1m14 0h1m7 0h1m3 0h1m1 0h1m7 0h1m2 0h1m4 0h1m1 0h1m1 0h1m8 0h1m6 0h3m9 0h1m3 0h1m4 0h1m3 0h1m1 0h1m2 0h3m9 0h1m3 0h1m1 0h1m1 0h3m1 0h1m4 0h2m9 0h1m8 0h1m1 0h4m1 0h1m2 0h2m13 0h1m7 0h1m11 0h1m8 0h1m4 0h2m8 0h1m2 0h1m2 0h1m10 0h2m2 0h2m11 0h2m8 0h1m1 0h2m2 0h1m4 0h1m2 0h1m1 0h1m2 0h1m2 0h2m1 0h1m2 0h2m5 0h1m2 0h1m1 0h1m1 0h1m9 0h1m11 0h1m1 0h1m5 0h1m2 0h1m17 0h2m7 0h2m2 0h2m9 0h1m18 0h1m3 0h1m7 0h1m33 0h1m6 0h2m3 0h1m1 0h1m33 0h3m9 0h1m3 0h1m3 0h1m1 0h1m8 0h2m16 0h1m3 0h1m12 0h1m3 0h1m7 0h2m1 0h1m3 0h2m5 0h2m15 0h1m1 0h1m8 0h3m3 0h2m1 0h1m10 0h1m4 0h1m5 0h1m1 0h1m4 0h1m5 0h3m3 0h1m1 0h1m1 0h1m7 0h2m6 0h1m5 0h1m1 0h1m2 0h1m1 0h1m1 0h1m2 0h4m10 0h1m2 0h2m4 0h1m7 0h1m46 0h1m1 0h1m1 0h1m16 0h1m8 0h1m8 0h2m8 0h1m5 0h1m3 0h1m22 0h1m5 0h1m34 0h1m28 0h1m5 0h1m11 0h1m7 0h2m4 0h1m1 0h1m34 0h1m8 0h1m12 0h1m1 0h1m5 0h1m5 0h1m7 0h2m21 0h1M30 32.5h1m1 0h1m10 0h2m62 0h2m60 0h1m13 0h1m1 0h1m11 0h1m4 0h1m1 0h2m1 0h1m1 0h1m5 0h1m5 0h3m4 0h1m11 0h1m1 0h1m4 0h1m4 0h1m6 0h1m13 0h1m9 0h1m1 0h4m4 0h1m15 0h3m19 0h2m1 0h3m3 0h1m4 0h1m1 0h1m9 0h2m7 0h1m9 0h1m2 0h1m45 0h2m3 0h1m1 0h1m1 0h1m5 0h1m2 0h1m5 0h1m3 0h1m6 0h1m1 0h1m4 0h1m24 0h2m35 0h1m4 0h1m4 0h1m1 0h1m8 0h1m4 0h2m1 0h1m1 0h1m1 0h1m11 0h1m27 0h3m1 0h2m34 0h1m12 0h1m11 0h1m99 0h1m18 0h2m31 0h1m238 0h1M15 33.5h1m34 0h1m1 0h3m7 0h1m4 0h1m20 0h1m8 0h1m7 0h2m2 0h1m15 0h4m11 0h2m10 0h1m19 0h1m15 0h1m15 0h1m7 0h1m1 0h1m4 0h1m8 0h1m2 0h1m5 0h1m26 0h1m2 0h1m15 0h1m4 0h1m5 0h1m1 0h1m15 0h1m6 0h1m5 0h1m1 0h1m2 0h1m1 0h2m4 0h1m6 0h1m3 0h1m3 0h1m13 0h1m14 0h1m1 0h1m8 0h1m4 0h1m3 0h1m9 0h1m1 0h1m3 0h2m16 0h1m1 0h1m1 0h2m10 0h2m1 0h1m11 0h1m3 0h1m12 0h2m7 0h1m5 0h1m4 0h1m4 0h1m1 0h2m17 0h1m9 0h1m2 0h1m26 0h1m15 0h2m5 0h1m2 0h1m2 0h1m9 0h1m2 0h2m1 0h1m1 0h2m8 0h1m13 0h3m1 0h1m1 0h1m46 0h2m7 0h1m7 0h2m4 0h1m8 0h1m1 0h1m69 0h1m16 0h1m3 0h1m13 0h1m2 0h1m14 0h1m3 0h1m2 0h1m1 0h1m2 0h1m1 0h1m2 0h2m1 0h4m19 0h1m1 0h1m2 0h1m3 0h1m2 0h1m4 0h1m4 0h1m2 0h1m4 0h1m1 0h3m2 0h1m1 0h3m8 0h2m4 0h1m2 0h1m3 0h1m1 0h1m1 0h1m7 0h1m5 0h2m6 0h1m3 0h2m3 0h2m13 0h1m5 0h2m7 0h1m5 0h1m4 0h1m7 0h1m2 0h1m7 0h1m3 0h3m6 0h1m3 0h2m7 0h1m3 0h1m5 0h2M1 34.5h1m2 0h1m1 0h1m1 0h1m7 0h1m1 0h2m6 0h1m10 0h1m1 0h2m2 0h1m11 0h1m6 0h1m6 0h1m11 0h1m1 0h1m1 0h2m1 0h1m2 0h1m9 0h2m1 0h4m1 0h2m13 0h1m28 0h1m6 0h1m6 0h1m32 0h1m48 0h1m31 0h1m4 0h1m5 0h1m77 0h1m14 0h1m2 0h1m11 0h1m23 0h1m2 0h1m3 0h2m15 0h1m6 0h1m1 0h1m3 0h1m23 0h1m9 0h1m9 0h1m1 0h1m2 0h1m19 0h1m1 0h3m1 0h1m1 0h1m4 0h1m3 0h1m47 0h2m8 0h1m3 0h3m8 0h1m24 0h1m8 0h1m3 0h1m2 0h1m4 0h1m2 0h1m2 0h1m2 0h1m1 0h1m2 0h2m17 0h1m6 0h1m31 0h1m2 0h1m2 0h1m3 0h1m4 0h1m38 0h2m2 0h1m1 0h1m3 0h1m2 0h4m4 0h1m1 0h1m1 0h1m11 0h1m7 0h1m3 0h1m9 0h1m19 0h1m6 0h1m2 0h1m1 0h1m2 0h1m1 0h2m2 0h1m1 0h1m18 0h1m17 0h1m29 0h6m3 0h1m5 0h1m1 0h1m3 0h1m4 0h1m5 0h1m8 0h1m2 0h1m28 0h1m4 0h2m7 0h1m2 0h1m5 0h1m3 0h4m7 0h2m8 0h1m2 0h1m2 0h1M2 35.5h2m6 0h1m3 0h1m4 0h1m4 0h1m5 0h1m14 0h1m9 0h1m1 0h1m7 0h1m22 0h1m8 0h1m7 0h2m6 0h1m1 0h2m2 0h1m10 0h1m3 0h1m24 0h1m79 0h1m4 0h1m3 0h1m4 0h1m3 0h1m41 0h1m16 0h1m20 0h2m2 0h2m20 0h2m4 0h1m5 0h2m1 0h1m1 0h1m9 0h2m1 0h2m8 0h1m4 0h1m5 0h2m1 0h2m7 0h1m17 0h1m5 0h1m7 0h1m7 0h1m2 0h1m10 0h1m14 0h2m40 0h1m89 0h1m25 0h1m27 0h1m12 0h1m1 0h1m1 0h1m6 0h1m5 0h1m6 0h1m1 0h1m1 0h1m2 0h1m2 0h1m7 0h1m2 0h3m5 0h1m55 0h1m23 0h1M0 36.5h2m1 0h1m20 0h2m1 0h1m10 0h1m5 0h1m3 0h1m18 0h1m1 0h1m2 0h1m13 0h1m2 0h2m13 0h2m3 0h1m13 0h1m3 0h1m7 0h1m1 0h2m1 0h1m2 0h1m7 0h1m2 0h1m17 0h1m43 0h1m10 0h1m3 0h1m5 0h1m8 0h1m1 0h1m2 0h1m1 0h1m1 0h1m3 0h1m1 0h1m2 0h1m8 0h1m2 0h1m2 0h1m7 0h1m10 0h1m6 0h3m4 0h1m13 0h2m13 0h1m7 0h1m11 0h1m6 0h1m1 0h1m147 0h1m1 0h1m14 0h1m1 0h1m7 0h1m3 0h1m3 0h1m10 0h2m6 0h2m12 0h1m10 0h1m2 0h1m1 0h1m11 0h1m4 0h1m7 0h1m9 0h1m6 0h1m9 0h1m7 0h2m2 0h1m3 0h1m1 0h2m3 0h2m9 0h1m1 0h2m3 0h1m3 0h1m4 0h2m3 0h1m3 0h1m5 0h1m9 0h1m5 0h1m3 0h1m7 0h1m6 0h1m7 0h3m6 0h2m8 0h2m5 0h2m1 0h3m7 0h1m3 0h2m1 0h2m2 0h1m1 0h3m1 0h1m1 0h1m3 0h2m2 0h3m3 0h1m126 0h1m88 0h1M32 37.5h1m15 0h1m23 0h1m20 0h1m13 0h1m3 0h1m3 0h1m9 0h1m6 0h1m6 0h1m1 0h1m1 0h1m1 0h2m1 0h2m2 0h1m6 0h2m1 0h1m7 0h1m3 0h1m1 0h1m1 0h1m6 0h1m2 0h1m5 0h1m2 0h1m1 0h3m2 0h1m1 0h1m3 0h2m1 0h1m1 0h1m3 0h1m3 0h4m11 0h1m4 0h1m12 0h1m4 0h1m4 0h1m26 0h1m4 0h2m4 0h1m2 0h1m7 0h1m2 0h1m2 0h1m9 0h1m6 0h1m1 0h2m2 0h2m1 0h1m6 0h2m5 0h1m3 0h3m2 0h1m5 0h1m1 0h1m4 0h1m41 0h1m2 0h1m19 0h1m1 0h1m9 0h1m1 0h1m4 0h1m4 0h1m1 0h1m1 0h1m2 0h1m1 0h2m1 0h1m6 0h1m4 0h1m3 0h2m6 0h3m6 0h1m14 0h3m3 0h2m6 0h1m2 0h1m1 0h1m6 0h1m1 0h1m8 0h1m2 0h1m4 0h2m5 0h1m1 0h1m2 0h1m22 0h1m3 0h1m36 0h1m2 0h1m8 0h1m1 0h1m6 0h1m3 0h1m1 0h3m2 0h2m6 0h2m2 0h1m5 0h1m7 0h3m2 0h2m2 0h1m11 0h1m1 0h1m4 0h1m4 0h1m2 0h2m5 0h1m15 0h1m1 0h2m1 0h1m3 0h1m5 0h1m1 0h2m7 0h1m5 0h1m1 0h1m1 0h1m2 0h1m3 0h1m10 0h1M33 38.5h1m13 0h1m97 0h1m5 0h1m2 0h1m8 0h1m5 0h1m5 0h1m1 0h1m3 0h1m7 0h1m3 0h1m1 0h3m3 0h1m1 0h1m10 0h1m3 0h2m2 0h1m3 0h4m6 0h1m3 0h1m2 0h1m1 0h2m7 0h2m4 0h1m3 0h1m6 0h4m2 0h1m3 0h2m6 0h1m7 0h2m5 0h2m1 0h1m1 0h1m1 0h1m3 0h2m7 0h1m1 0h1m2 0h1m3 0h1m3 0h1m4 0h1m2 0h1m2 0h1m1 0h1m1 0h1m2 0h1m1 0h1m10 0h1m1 0h1m12 0h1m9 0h1m5 0h1m13 0h1m7 0h1m5 0h1m7 0h1m3 0h1m2 0h1m15 0h3m3 0h1m3 0h1m1 0h2m2 0h1m1 0h1m1 0h1m16 0h1m10 0h1m2 0h1m10 0h1m2 0h1m3 0h1m1 0h1m2 0h1m7 0h2m4 0h2m2 0h1m3 0h1m13 0h1m5 0h2m9 0h2m2 0h1m2 0h2m2 0h1m2 0h1m2 0h1m2 0h2m6 0h1m1 0h2m1 0h1m15 0h1m1 0h1m3 0h1m1 0h1m3 0h2m7 0h1m9 0h1m26 0h1m5 0h2m25 0h1m1 0h1m31 0h1m30 0h2m2 0h1m3 0h1m22 0h2M2 39.5h1m35 0h1m7 0h1m12 0h1m27 0h1m5 0h1m10 0h1m1 0h1m1 0h1m7 0h1m8 0h1m2 0h2m1 0h1m3 0h1m1 0h2m11 0h1m1 0h1m5 0h1m2 0h1m7 0h1m2 0h1m4 0h1m14 0h1m3 0h1m2 0h2m2 0h1m3 0h1m1 0h1m1 0h1m2 0h1m2 0h2m2 0h1m3 0h1m9 0h1m11 0h1m2 0h2m2 0h1m1 0h1m1 0h2m3 0h1m1 0h1m7 0h3m1 0h1m18 0h1m15 0h2m4 0h1m1 0h1m1 0h1m9 0h2m10 0h1m5 0h1m2 0h1m1 0h1m6 0h3m2 0h1m14 0h1m2 0h1m46 0h1m4 0h1m13 0h1m1 0h1m3 0h1m4 0h1m14 0h1m2 0h1m6 0h1m3 0h1m1 0h1m2 0h1m8 0h1m1 0h1m3 0h1m4 0h2m1 0h1m2 0h1m1 0h1m4 0h1m2 0h1m5 0h1m7 0h3m3 0h2m5 0h1m9 0h2m3 0h1m9 0h1m4 0h1m8 0h3m1 0h1m2 0h4m1 0h2m8 0h1m3 0h1m1 0h1m3 0h1m3 0h1m6 0h1m3 0h1m1 0h2m7 0h2m4 0h1m2 0h8m2 0h1m12 0h1m25 0h1m2 0h1m2 0h1m4 0h1m1 0h1m1 0h1m3 0h1m1 0h1m1 0h1m8 0h1m4 0h2m9 0h1m18 0h1m2 0h1m11 0h1m23 0h1m1 0h1M2 40.5h2m1 0h2m10 0h1m1 0h1m6 0h3m2 0h2m7 0h3m19 0h3m2 0h1m4 0h1m3 0h2m3 0h1m4 0h1m25 0h1m12 0h1m1 0h1m4 0h4m2 0h1m2 0h1m6 0h1m2 0h1m7 0h2m7 0h1m1 0h1m2 0h1m1 0h1m3 0h2m1 0h3m2 0h1m2 0h1m1 0h2m4 0h1m7 0h1m4 0h4m2 0h1m4 0h3m1 0h2m1 0h1m5 0h2m13 0h1m3 0h1m2 0h2m25 0h1m4 0h2m4 0h2m1 0h1m6 0h1m2 0h1m6 0h4m4 0h1m2 0h2m5 0h1m1 0h1m2 0h1m7 0h1m1 0h2m5 0h1m2 0h1m2 0h1m2 0h1m1 0h1m2 0h1m7 0h2m4 0h2m1 0h1m1 0h2m2 0h2m8 0h1m4 0h1m1 0h1m1 0h1m1 0h1m10 0h1m11 0h1m3 0h1m1 0h1m1 0h1m6 0h1m2 0h1m11 0h6m6 0h1m2 0h1m4 0h3m10 0h3m6 0h1m8 0h3m2 0h4m7 0h2m2 0h1m5 0h1m1 0h2m5 0h2m9 0h1m5 0h1m1 0h1m2 0h1m10 0h1m2 0h1m2 0h1m9 0h2m2 0h2m3 0h1m6 0h1m1 0h1m3 0h2m6 0h1m7 0h1m4 0h1m15 0h1m11 0h4m2 0h1m1 0h3m2 0h1m3 0h2m2 0h1m1 0h1m2 0h2m4 0h1m5 0h3m12 0h4m10 0h1m1 0h2m1 0h1m3 0h1m4 0h1m57 0h1m4 0h1m7 0h1m3 0h1m2 0h1m1 0h1m20 0h1M19 41.5h1m6 0h1m7 0h1m6 0h1m19 0h1m9 0h1m18 0h1m2 0h2m4 0h2m11 0h1m1 0h2m17 0h2m5 0h2m10 0h1m1 0h1m1 0h1m5 0h1m11 0h1m3 0h2m4 0h1m2 0h3m2 0h1m2 0h1m4 0h1m6 0h2m4 0h2m2 0h1m13 0h1m8 0h1m2 0h3m2 0h1m1 0h1m2 0h1m3 0h1m3 0h3m3 0h1m8 0h1m5 0h2m2 0h2m2 0h1m7 0h1m4 0h1m3 0h5m1 0h1m5 0h1m3 0h1m5 0h1m2 0h2m8 0h1m1 0h1m2 0h1m16 0h1m14 0h1m11 0h1m1 0h1m13 0h1m2 0h1m4 0h1m3 0h1m1 0h2m1 0h1m3 0h1m2 0h3m3 0h1m1 0h1m4 0h1m6 0h1m8 0h2m16 0h1m1 0h9m1 0h1m2 0h1m2 0h2m2 0h1m2 0h1m6 0h1m13 0h1m1 0h1m4 0h1m2 0h1m8 0h1m4 0h1m1 0h1m3 0h1m2 0h1m2 0h2m11 0h1m4 0h1m7 0h1m1 0h1m2 0h1m2 0h1m3 0h2m2 0h2m6 0h1m1 0h1m2 0h1m4 0h1m7 0h1m1 0h1m4 0h2m1 0h2m5 0h1m8 0h1m6 0h1m10 0h2m4 0h1m4 0h1m1 0h1m11 0h1m1 0h1m17 0h1m2 0h1m7 0h1m102 0h2m4 0h1m12 0h1m10 0h1m17 0h2m4 0h2m6 0h1m2 0h2m4 0h1m2 0h1m11 0h1m9 0h1m2 0h1m1 0h1m4 0h2m1 0h1m2 0h5m4 0h1m1 0h1m12 0h1m3 0h2m3 0h2m6 0h2m2 0h1m2 0h1m1 0h1m1 0h1m1 0h1m7 0h1m2 0h1m1 0h3m3 0h2m1 0h2m1 0h1m11 0h2m7 0h2m6 0h1m7 0h1m6 0h1m1 0h1m1 0h1m3 0h2m6 0h2m1 0h1m4 0h1m4 0h1M4 42.5h1m28 0h1m46 0h1m12 0h1m6 0h2m2 0h1m1 0h1m1 0h2m8 0h1m6 0h1m1 0h1m1 0h1m1 0h1m1 0h1m5 0h4m19 0h1m3 0h1m2 0h1m4 0h1m4 0h1m1 0h1m3 0h1m5 0h1m1 0h2m8 0h1m5 0h2m1 0h1m2 0h1m2 0h1m1 0h1m2 0h1m6 0h1m6 0h3m3 0h1m2 0h1m2 0h1m13 0h1m4 0h2m1 0h1m3 0h1m4 0h1m5 0h1m1 0h3m4 0h1m1 0h1m2 0h1m6 0h2m2 0h1m1 0h1m3 0h1m2 0h1m6 0h1m1 0h1m1 0h1m7 0h1m2 0h1m1 0h2m14 0h1m4 0h1m2 0h1m1 0h1m3 0h1m4 0h1m1 0h1m18 0h1m7 0h1m3 0h1m2 0h2m13 0h1m8 0h1m2 0h2m9 0h1m23 0h1m3 0h1m2 0h1m1 0h2m5 0h3m1 0h1m4 0h1m9 0h1m10 0h1m2 0h1m5 0h1m8 0h2m3 0h1m1 0h1m1 0h1m4 0h3m3 0h1m16 0h1m10 0h1m3 0h1m7 0h1m2 0h1m2 0h1m3 0h2m11 0h1m2 0h2m8 0h1m1 0h1m1 0h1m2 0h2m1 0h1m6 0h1m1 0h1m6 0h1m11 0h1m7 0h2m7 0h1m84 0h1m12 0h1m1 0h1m67 0h1m22 0h1m37 0h1m12 0h1m26 0h1m50 0h1m1 0h1m9 0h1m15 0h1m4 0h2M2 43.5h1m11 0h1m2 0h1m1 0h1m5 0h1m5 0h1m1 0h1m3 0h1m1 0h1m3 0h1m8 0h1m1 0h1m11 0h1m18 0h1m4 0h2m5 0h1m1 0h2m1 0h1m5 0h2m6 0h1m4 0h1m10 0h1m12 0h2m14 0h1m7 0h1m7 0h1m5 0h1m1 0h1m1 0h1m1 0h1m2 0h1m2 0h2m1 0h1m5 0h1m9 0h1m1 0h1m8 0h1m14 0h1m3 0h1m1 0h2m2 0h2m25 0h1m5 0h1m2 0h2m4 0h1m2 0h1m7 0h2m16 0h1m1 0h1m7 0h1m11 0h2m6 0h1m2 0h1m3 0h1m4 0h1m3 0h1m6 0h2m3 0h1m11 0h3m2 0h1m2 0h1m4 0h1m3 0h1m2 0h1m4 0h1m9 0h1m10 0h2m10 0h2m16 0h1m2 0h2m2 0h1m1 0h1m6 0h2m3 0h1m1 0h1m2 0h1m1 0h2m1 0h1m13 0h1m4 0h1m4 0h1m1 0h1m7 0h1m2 0h2m10 0h1m5 0h1m7 0h1m3 0h1m1 0h1m3 0h1m13 0h2m1 0h4m5 0h1m1 0h1m2 0h3m2 0h1m8 0h1m7 0h1m2 0h1m2 0h1m6 0h1m7 0h1m11 0h2m4 0h1m7 0h4m2 0h1m1 0h2m1 0h2m17 0h2m2 0h1m2 0h1m7 0h1m2 0h2m5 0h1m1 0h2m12 0h1m5 0h2m22 0h1m7 0h2m1 0h2m11 0h1m1 0h1m6 0h1m6 0h1m5 0h1m2 0h1m1 0h1m1 0h2M0 44.5h1m12 0h1m1 0h1m1 0h1m9 0h1m5 0h1m1 0h1m2 0h2m2 0h1m3 0h1m3 0h1m1 0h1m7 0h1m10 0h4m16 0h1m17 0h1m4 0h1m5 0h1m10 0h1m3 0h2m1 0h1m13 0h1m6 0h1m2 0h1m18 0h1m6 0h1m4 0h2m6 0h2m6 0h1m7 0h1m9 0h1m2 0h1m4 0h3m1 0h2m13 0h1m7 0h1m3 0h1m1 0h1m19 0h1m1 0h3m1 0h1m1 0h4m28 0h2m1 0h2m12 0h1m7 0h1m3 0h2m4 0h1m11 0h1m1 0h1m4 0h1m2 0h1m1 0h1m4 0h2m1 0h1m10 0h1m3 0h1m3 0h1m8 0h1m4 0h1m3 0h1m4 0h2m3 0h1m1 0h1m4 0h1m4 0h1m1 0h1m5 0h1m2 0h1m1 0h1m1 0h3m10 0h1m4 0h1m1 0h1m7 0h1m4 0h1m4 0h1m2 0h1m7 0h1m1 0h1m1 0h1m9 0h1m2 0h1m3 0h1m1 0h1m6 0h3m3 0h2m6 0h2m1 0h1m2 0h1m9 0h1m6 0h1m2 0h1m3 0h2m2 0h1m2 0h1m3 0h1m1 0h1m5 0h1m2 0h1m3 0h1m8 0h1m5 0h1m11 0h1m19 0h1m4 0h1m9 0h1m2 0h1m10 0h1m2 0h1m5 0h1m3 0h1m3 0h1m5 0h1m1 0h1m3 0h1m1 0h1m5 0h2m4 0h1m5 0h3m12 0h1m2 0h1m36 0h1m1 0h2m2 0h1m7 0h3m1 0h1m3 0h1M3 45.5h2m5 0h1m2 0h1m10 0h1m4 0h1m4 0h2m11 0h1m5 0h3m2 0h1m3 0h1m2 0h1m2 0h1m1 0h2m6 0h1m1 0h1m2 0h1m2 0h2m1 0h1m10 0h1m4 0h5m3 0h3m13 0h2m8 0h1m3 0h1m2 0h2m4 0h1m3 0h3m8 0h1m1 0h2m3 0h2m2 0h2m4 0h1m1 0h1m1 0h1m3 0h2m7 0h1m3 0h1m11 0h3m1 0h2m1 0h1m12 0h1m10 0h1m1 0h1m5 0h1m3 0h1m5 0h1m3 0h1m2 0h3m4 0h1m5 0h1m3 0h1m2 0h1m16 0h1m7 0h1m3 0h1m1 0h1m11 0h1m2 0h1m2 0h1m5 0h1m9 0h1m4 0h1m2 0h1m2 0h1m7 0h1m1 0h2m1 0h3m3 0h1m2 0h1m3 0h1m2 0h1m1 0h1m4 0h1m15 0h2m1 0h2m4 0h1m7 0h1m19 0h1m2 0h2m2 0h1m1 0h1m1 0h1m11 0h2m4 0h1m6 0h1m1 0h1m1 0h1m2 0h1m3 0h1m3 0h1m8 0h2m1 0h1m3 0h1m2 0h2m4 0h1m4 0h1m3 0h1m8 0h1m4 0h1m3 0h1m2 0h2m2 0h1m3 0h1m1 0h1m9 0h1m2 0h1m1 0h3m2 0h2m2 0h2m4 0h1m1 0h2m11 0h1m3 0h1m2 0h1m1 0h1m1 0h1m3 0h1m1 0h1m3 0h1m2 0h1m4 0h1m3 0h1m1 0h2m3 0h1m4 0h1m5 0h1m5 0h3m15 0h1m1 0h1m16 0h1m6 0h1m1 0h1m4 0h2m3 0h2m2 0h2m3 0h1m1 0h1m57 0h1m3 0h1m8 0h1m1 0h1m2 0h1m21 0h1m21 0h1m5 0h1m1 0h1m14 0h1m4 0h1m4 0h1m7 0h1m5 0h1m13 0h2m41 0h1m1 0h1m1 0h2m5 0h1m10 0h2m27 0h1m5 0h1m3 0h2m11 0h1m6 0h3m38 0h1m2 0h2M1 46.5h1m3 0h1m3 0h2m4 0h1m9 0h1m8 0h2m8 0h1m9 0h3m1 0h1m6 0h1m8 0h1m5 0h2m5 0h1m3 0h1m6 0h1m1 0h1m5 0h1m2 0h1m1 0h1m1 0h1m8 0h3m1 0h1m12 0h1m2 0h1m3 0h2m1 0h1m2 0h1m1 0h1m1 0h1m1 0h2m1 0h1m1 0h1m38 0h1m32 0h1m74 0h1m2 0h1m9 0h1m6 0h1m13 0h1m8 0h1m20 0h1m43 0h1m1 0h1m7 0h1m22 0h1m49 0h1m1 0h2m4 0h1m14 0h1m2 0h1m1 0h1m25 0h1m7 0h1m2 0h1m21 0h1m4 0h1m7 0h3m3 0h2m2 0h2m6 0h1m5 0h1m1 0h1m1 0h1m3 0h1m6 0h2m5 0h1m8 0h1m1 0h1m4 0h4m3 0h1m10 0h1m1 0h1m2 0h1m5 0h1m1 0h1m4 0h1m2 0h1m2 0h2m15 0h3m1 0h1m1 0h4m6 0h1m1 0h1m7 0h2m42 0h1m19 0h1m6 0h1m4 0h1M14 47.5h1m6 0h1m3 0h2m10 0h1m5 0h1m1 0h1m2 0h2m18 0h3m1 0h2m9 0h1m7 0h1m7 0h1m4 0h1m1 0h1m3 0h1m6 0h3m3 0h1m1 0h1m6 0h1m7 0h1m18 0h1m14 0h1m8 0h1m5 0h1m7 0h1m13 0h1m2 0h1m5 0h1m14 0h1m1 0h1m8 0h1m4 0h1m8 0h1m1 0h1m4 0h1m9 0h1m6 0h3m8 0h1m4 0h1m11 0h1m2 0h2m5 0h2m4 0h1m1 0h1m12 0h1m1 0h1m2 0h1m10 0h1m6 0h1m13 0h1m8 0h2m12 0h2m19 0h1m12 0h1m1 0h1m27 0h1m2 0h1m37 0h1m9 0h1m2 0h1m28 0h1m16 0h1m10 0h2m8 0h1m9 0h3m1 0h1m2 0h2m3 0h1m8 0h1m7 0h1m1 0h1m1 0h1m8 0h2m6 0h1m4 0h1m3 0h4m7 0h3m8 0h1m4 0h1m7 0h1m5 0h1m3 0h1m3 0h1m2 0h1m11 0h2m2 0h1m6 0h2m10 0h1m3 0h1m3 0h2m1 0h1m4 0h1m41 0h1m8 0h2m2 0h1m4 0h1M3 48.5h1m27 0h1m10 0h1m16 0h2m6 0h1m18 0h1m2 0h1m1 0h1m7 0h1m3 0h1m4 0h1m8 0h2m7 0h1m24 0h1m18 0h1m18 0h1m18 0h1m17 0h1m4 0h1m13 0h1m1 0h1m1 0h1m6 0h1m12 0h1m2 0h1m11 0h2m10 0h1m9 0h1m5 0h1m3 0h1m9 0h1m2 0h1m1 0h1m17 0h1m4 0h1m4 0h1m4 0h1m2 0h1m9 0h1m17 0h1m4 0h1m13 0h1m2 0h1m17 0h1m13 0h1m7 0h4m3 0h1m5 0h1m10 0h1m3 0h1m21 0h1m23 0h1m8 0h1m1 0h4m12 0h1m7 0h1m5 0h2m5 0h1m9 0h1m1 0h2m3 0h2m1 0h1m17 0h1m5 0h1m1 0h1m3 0h1m8 0h1m6 0h1m9 0h1m2 0h1m3 0h2m3 0h1m4 0h1m5 0h2m1 0h3m9 0h2m7 0h2m7 0h2m4 0h1m15 0h1m3 0h1m8 0h1m4 0h1m1 0h1m43 0h1m5 0h3m6 0h1m96 0h1m43 0h1m5 0h1m22 0h1m12 0h1m23 0h1m12 0h1m58 0h1M5 49.5h2m2 0h2m2 0h3m3 0h1m4 0h1m4 0h2m1 0h1m2 0h2m3 0h1m2 0h1m8 0h1m10 0h1m2 0h2m3 0h1m4 0h1m3 0h1m2 0h1m5 0h1m7 0h1m3 0h1m4 0h1m3 0h2m2 0h1m14 0h2m12 0h2m1 0h2m2 0h1m1 0h1m1 0h2m3 0h1m3 0h1m6 0h3m19 0h1m10 0h1m1 0h1m9 0h1m5 0h1m1 0h1m5 0h1m10 0h1m4 0h2m5 0h1m1 0h1m7 0h2m10 0h1m2 0h1m2 0h1m3 0h1m3 0h2m1 0h1m3 0h2m8 0h1m2 0h2m1 0h1m13 0h2m3 0h1m4 0h2m5 0h1m3 0h2m1 0h1m1 0h1m5 0h1m10 0h1m5 0h1m2 0h3m1 0h2m1 0h1m4 0h1m2 0h1m5 0h1m7 0h1m1 0h2m2 0h1m3 0h3m10 0h1m2 0h2m1 0h1m12 0h1m8 0h1m5 0h1m4 0h1m9 0h1m5 0h1m1 0h1m3 0h1m1 0h1m3 0h1m2 0h1m4 0h1m17 0h1m6 0h1m2 0h1m4 0h2m6 0h1m27 0h1m2 0h1m2 0h1m10 0h1m1 0h2m5 0h1m10 0h2m2 0h1m1 0h2m4 0h2m12 0h2m1 0h2m3 0h1m15 0h2m8 0h1m9 0h3m6 0h1m3 0h1m1 0h2m6 0h1m4 0h2m4 0h2m1 0h1m2 0h1m3 0h2m1 0h1m3 0h2m3 0h1m17 0h1m37 0h3m5 0h1m2 0h1m15 0h1m1 0h2m27 0h1m16 0h2m1 0h1m1 0h1m19 0h1m28 0h1m11 0h1m6 0h1m2 0h1m2 0h2m4 0h1m5 0h1m12 0h1m4 0h1m5 0h1m7 0h1m1 0h1m5 0h1m10 0h1m23 0h1m6 0h1m11 0h1m15 0h1m17 0h1m5 0h1M7 50.5h1m11 0h1m10 0h1m2 0h1m7 0h1m2 0h1m2 0h2m5 0h1m3 0h1m2 0h1m2 0h1m32 0h1m1 0h1m4 0h1m1 0h2m1 0h1m1 0h2m1 0h1m2 0h1m2 0h2m2 0h1m19 0h1m2 0h2m1 0h1m1 0h1m4 0h1m3 0h1m11 0h1m9 0h1m3 0h1m1 0h1m7 0h1m2 0h2m1 0h4m6 0h1m8 0h1m13 0h3m3 0h1m22 0h1m5 0h1m3 0h1m5 0h1m5 0h2m4 0h2m9 0h1m5 0h2m7 0h1m9 0h1m1 0h2m4 0h5m5 0h2m5 0h3m5 0h2m1 0h1m11 0h1m3 0h1m9 0h2m1 0h2m4 0h1m8 0h1m1 0h1m1 0h1m1 0h2m7 0h1m2 0h1m11 0h1m4 0h1m9 0h1m4 0h1m3 0h1m1 0h1m11 0h1m7 0h3m2 0h1m1 0h1m1 0h1m4 0h1m23 0h1m4 0h1m5 0h1m3 0h1m1 0h1m1 0h1m7 0h2m7 0h1m8 0h1m16 0h1m5 0h1m1 0h1m3 0h1m3 0h1m1 0h1m2 0h1m2 0h1m5 0h1m6 0h2m3 0h1m2 0h2m1 0h1m4 0h1m5 0h2m1 0h1m5 0h1m1 0h1m1 0h1m10 0h1m4 0h1m11 0h2m1 0h1m1 0h1m25 0h1m8 0h1m3 0h2m3 0h1m1 0h1m6 0h1m3 0h2m1 0h1m3 0h1m34 0h1m1 0h1m6 0h1m1 0h1m3 0h2m15 0h3M11 51.5h1m1 0h1m24 0h4m3 0h1m1 0h1m16 0h1m3 0h1m3 0h1m4 0h3m4 0h1m4 0h2m15 0h2m3 0h1m12 0h1m9 0h1m7 0h1m2 0h1m2 0h3m1 0h1m1 0h2m3 0h1m2 0h1m10 0h2m3 0h1m5 0h1m7 0h2m2 0h3m6 0h1m6 0h1m2 0h1m5 0h1m7 0h2m9 0h1m7 0h1m12 0h1m2 0h1m24 0h1m2 0h2m6 0h1m11 0h1m6 0h1m4 0h1m1 0h1m1 0h1m3 0h1m4 0h1m1 0h1m7 0h1m7 0h1m8 0h1m13 0h4m1 0h1m2 0h1m33 0h1m5 0h1m7 0h2m8 0h1m4 0h1m1 0h1m6 0h1m1 0h2m1 0h3m1 0h1m4 0h2m21 0h1m6 0h1m1 0h3m4 0h1m28 0h1m3 0h2m4 0h1m2 0h2m4 0h2m4 0h2m12 0h1m7 0h1m2 0h1m40 0h1m1 0h1m2 0h2m10 0h1m14 0h2m1 0h2m4 0h1m2 0h1m18 0h1m7 0h1m1 0h1m23 0h1m2 0h2m6 0h1m1 0h1m4 0h1m3 0h1m39 0h1m6 0h1m4 0h1m2 0h2m1 0h1m3 0h1M2 52.5h1m7 0h2m8 0h1m4 0h1m11 0h1m3 0h1m10 0h1m4 0h2m2 0h1m1 0h1m25 0h1m1 0h1m12 0h1m9 0h1m11 0h1m5 0h1m1 0h1m6 0h1m18 0h1m5 0h2m3 0h1m6 0h1m11 0h1m2 0h1m5 0h1m3 0h1m2 0h1m13 0h2m7 0h1m7 0h2m3 0h1m1 0h1m1 0h1m5 0h1m33 0h1m37 0h1m20 0h2m9 0h1m4 0h1m2 0h1m11 0h1m17 0h1m3 0h1m5 0h1m7 0h1m1 0h1m67 0h1m7 0h1m11 0h1m3 0h1m36 0h1m15 0h1m8 0h1m8 0h1m1 0h1m7 0h2m67 0h1m17 0h1m67 0h1m23 0h1m3 0h3m1 0h1m16 0h1m2 0h1m6 0h1m2 0h1m15 0h1m2 0h1m2 0h1m2 0h1m186 0h1M0 53.5h2m1 0h1m6 0h1m3 0h1m11 0h1m2 0h2m7 0h1m1 0h1m5 0h1m27 0h2m2 0h1m1 0h1m7 0h1m1 0h2m1 0h1m5 0h2m1 0h1m2 0h1m5 0h1m2 0h1m3 0h1m1 0h3m1 0h2m1 0h1m27 0h1m3 0h1m2 0h1m6 0h2m6 0h1m1 0h2m6 0h1m2 0h1m4 0h1m1 0h1m6 0h1m5 0h1m1 0h1m4 0h2m5 0h1m2 0h1m12 0h1m1 0h1m8 0h1m5 0h1m3 0h1m1 0h1m1 0h1m1 0h1m2 0h1m1 0h1m1 0h1m2 0h1m5 0h2m4 0h1m5 0h1m2 0h1m12 0h1m7 0h1m6 0h1m17 0h1m5 0h1m2 0h1m4 0h1m2 0h1m3 0h1m2 0h1m1 0h1m8 0h2m5 0h3m5 0h1m10 0h1m1 0h1m4 0h1m1 0h1m5 0h1m4 0h1m4 0h1m3 0h3m5 0h1m10 0h1m3 0h2m3 0h1m1 0h1m3 0h1m4 0h1m2 0h1m10 0h1m5 0h1m6 0h1m2 0h1m1 0h1m1 0h1m14 0h1m3 0h4m4 0h1m5 0h1m2 0h1m2 0h1m1 0h1m2 0h1m1 0h2m3 0h1m5 0h2m1 0h1m2 0h1m7 0h1m9 0h1m5 0h2m1 0h1m4 0h1m5 0h1m2 0h3m2 0h2m1 0h2m1 0h2m6 0h1m7 0h1m4 0h3m1 0h2m4 0h1m7 0h1m8 0h2m5 0h1m3 0h1m10 0h1m1 0h1m2 0h2m5 0h1m1 0h1m19 0h1m3 0h1m22 0h1m8 0h1m52 0h2m5 0h2m2 0h1m1 0h1m3 0h1m2 0h1m18 0h1m41 0h1m9 0h1m39 0h1m18 0h1m5 0h1m15 0h1m9 0h1m1 0h1m5 0h1m1 0h2m2 0h1m6 0h1m20 0h1m2 0h1m3 0h1m1 0h1m27 0h3m1 0h2m3 0h1m4 0h1"/>
<path stroke="#8fff70" d="M44 0.5h1m4 0h1m6 0h1m10 0h1m5 0h1m9 0h1m6 0h1m7 0h1m7 0h1m30 0h2m31 0h1m21 0h1m14 0h1m1 0h1m6 0h1m7 0h1m5 0h1m7 0h1m12 0h1m3 0h1m21 0h1m6 0h1m24 0h1m11 0h1m8 0h1m2 0h2m45 0h1m1 0h2m16 0h2m15 0h1m1 0h1m12 0h1m2 0h1m12 0h2m6 0h1m9 0h1m1 0h1m1 0h1m7 0h1m12 0h1m5 0h1m1 0h1m25 0h1m1 0h1m1 0h1m3 0h1m2 0h1m2 0h1m1 0h2m1 0h1m7 0h1m3 0h1m5 0h1m1 0h1m1 0h3m1 0h1m1 0h3m1 0h1m12 0h1m7 0h2m5 0h1m3 0h1m1 0h2m2 0h1m5 0h1m8 0h1m7 0h1m6 0h1m2 0h2m3 0h1m5 0h3m27 0h1m3 0h2m3 0h1m4 0h2m7 0h1m11 0h1m5 0h1m8 0h1m31 0h1m1 0h1m8 0h1m1 0h1m5 0h1m5 0h2m6 0h1m1 0h1M27 1.5h1m86 0h1m7 0h1m1 0h1m1 0h4m8 0h2m4 0h1m5 0h2m1 0h2m1 0h1m2 0h1m2 0h1m12 0h1m5 0h2m5 0h1m3 0h1m5 0h1m2 0h1m4 0h4m13 0h2m2 0h1m2 0h1m14 0h1m7 0h1m7 0h1m1 0h1m9 0h1m3 0h1m2 0h2m5 0h1m5 0h1m2 0h1m6 0h2m2 0h1m7 0h1m1 0h1m4 0h1m1 0h2m3 0h1m22 0h1m29 0h1m19 0h1m2 0h1m7 0h1m7 0h1m1 0h1m28 0h1m4 0h1m2 0h3m1 0h1m9 0h1m16 0h1m7 0h1m5 0h1m18 0h1m6 0h1m2 0h1m2 0h1m6 0h2m1 0h1m2 0h2m2 0h1m2 0h3m11 0h1m15 0h3m1 0h1m1 0h1m1 0h1m2 0h1m1 0h1m11 0h1m8 0h1m6 0h1m4 0h2m5 0h1m26 0h1m10 0h1m17 0h1m2 0h1m134 0h1m10 0h1m13 0h1m4 0h1m7 0h1m10 0h1m3 0h1m1 0h1m5 0h1m6 0h1m9 0h1m2 0h1m9 0h1m7 0h1m2 0h1m5 0h2m13 0h1m2 0h1m46 0h1m6 0h1m8 0h1m10 0h2m3 0h3m1 0h1m6 0h1m5 0h1m4 0h1m1 0h1m5 0h1M53 2.5h1m44 0h1m12 0h1m8 0h1m9 0h1m8 0h1m4 0h2m5 0h2m6 0h1m1 0h1m48 0h1m97 0h2m45 0h1m2 0h1m7 0h1m1 0h1m80 0h1m20 0h1m3 0h1m1 0h2m8 0h1m6 0h1m27 0h1m9 0h1m1 0h1m1 0h1m5 0h1m1 0h1m8 0h1m50 0h1m1 0h1m8 0h1m1 0h3m4 0h1m12 0h1m1 0h1m2 0h2m2 0h1m8 0h4m2 0h1m7 0h1m11 0h1m10 0h2m1 0h1m4 0h1m27 0h1m4 0h1m26 0h1m1 0h2m14 0h1m6 0h1m24 0h1m19 0h1m15 0h1m4 0h2m1 0h1m1 0h1m2 0h1m4 0h1m3 0h4m17 0h1m16 0h1m7 0h1m7 0h2m4 0h1m3 0h1m1 0h1m3 0h1m1 0h2m10 0h1m10 0h1m3 0h1m7 0h3m1 0h1m4 0h2m5 0h1m6 0h1m2 0h1m5 0h1m6 0h1m2 0h2m5 0h1m1 0h1m2 0h3m12 0h2m2 0h1m6 0h2m2 0h1m3 0h1m11 0h1m2 0h2m14 0h1M3 3.5h1m2 0h1m29 0h2m9 0h1m25 0h1m32 0h1m11 0h1m1 0h1m3 0h1m7 0h3m1 0h2m10 0h2m8 0h1m2 0h1m9 0h1m69 0h1m91 0h1m97 0h1m20 0h1m23 0h1m4 0h1m5 0h1m7 0h1m4 0h2m4 0h1m4 0h1m15 0h2m3 0h1m1 0h1m1 0h1m30 0h1m2 0h2m6 0h1m5 0h2m9 0h1m1 0h1m1 0h1m4 0h1m2 0h1m1 0h1m1 0h1m4 0h1m2 0h1m1 0h1m3 0h1m5 0h1m3 0h3m1 0h1m6 0h1m1 0h1m10 0h1m6 0h1m11 0h1m14 0h1m39 0h1m27 0h1m4 0h1m29 0h1m47 0h1m30 0h1m2 0h1m18 0h1m48 0h1m24 0h1m44 0h2m1 0h1m11 0h1m1 0h1m15 0h1m8 0h1m5 0h3m22 0h1m4 0h1M10 4.5h1m2 0h1m28 0h1m12 0h1m13 0h1m1 0h1m1 0h1m26 0h2m1 0h1m2 0h2m5 0h1m2 0h2m2 0h3m2 0h1m4 0h1m1 0h1m1 0h2m3 0h1m12 0h1m7 0h1m1 0h1m11 0h1m75 0h1m25 0h1m21 0h1m5 0h1m47 0h1m51 0h1m66 0h1m84 0h1m42 0h1m11 0h1m10 0h1m3 0h1m1 0h1m2 0h1m41 0h1m1 0h1m4 0h1m8 0h1m3 0h1m9 0h1m2 0h1m5 0h1m7 0h1m6 0h1m2 0h1m7 0h3m4 0h3m4 0h1m7 0h1m23 0h1m5 0h1m6 0h2m1 0h3m3 0h1m5 0h3m5 0h1m2 0h2M113 5.5h1m8 0h1m1 0h1m4 0h2m3 0h1m9 0h2m10 0h1m1 0h1m4 0h1m10 0h1m18 0h1m9 0h1m48 0h1m25 0h2m26 0h1m1 0h1m1 0h1m3 0h1m4 0h1m14 0h1m9 0h1m8 0h1m1 0h1m5 0h1m17 0h1m8 0h1m1 0h2m4 0h1m1 0h1m34 0h1m8 0h1m7 0h1m3 0h1m5 0h1m4 0h1m2 0h1m4 0h2m1 0h1m3 0h2m6 0h1m1 0h1m6 0h1m2 0h1m1 0h1m1 0h1m5 0h3m4 0h1m1 0h3m5 0h1m2 0h2m10 0h1m7 0h1m1 0h2m4 0h1m1 0h1m17 0h1m6 0h1m3 0h1m3 0h1m1 0h1m8 0h2m3 0h1m1 0h1m2 0h1m2 0h1m4 0h1m3 0h1m2 0h1m4 0h1m5 0h3m2 0h2m29 0h2m7 0h1m7 0h1m2 0h1m27 0h1m3 0h1m61 0h1m2 0h2m15 0h1m1 0h1m1 0h1m6 0h1m2 0h1M6 6.5h1m4 0h1m1 0h1m5 0h1m4 0h1m3 0h1m10 0h1m9 0h1m5 0h1m2 0h1m15 0h1m25 0h1m7 0h1m26 0h1m13 0h1m16 0h1m2 0h1m1 0h1m5 0h1m6 0h1m1 0h1m2 0h1m2 0h1m3 0h1m3 0h1m12 0h2m7 0h3m4 0h1m9 0h1m8 0h1m1 0h1m3 0h1m7 0h3m5 0h1m3 0h1m1 0h1m1 0h3m1 0h1m8 0h2m3 0h1m1 0h1m1 0h1m16 0h1m1 0h1m7 0h1m16 0h1m7 0h1m4 0h2m7 0h2m6 0h2m2 0h1m3 0h2m1 0h1m2 0h1m1 0h1m1 0h1m4 0h1m4 0h1m14 0h1m1 0h1m6 0h2m1 0h2m1 0h1m1 0h2m2 0h1m12 0h1m2 0h1m2 0h1m6 0h1m1 0h1m6 0h2m1 0h1m1 0h1m7 0h1m11 0h1m5 0h1m1 0h1m5 0h1m19 0h1m4 0h1m2 0h1m8 0h1m1 0h1m2 0h1m5 0h1m6 0h1m3 0h1m14 0h1m3 0h1m7 0h2m1 0h3m2 0h2m1 0h2m1 0h1m3 0h2m2 0h1m4 0h1m17 0h2m3 0h1m22 0h1m12 0h1m3 0h2m31 0h1m2 0h1m16 0h1m10 0h1m5 0h1m62 0h1m2 0h4M42 7.5h2m6 0h1m10 0h1m1 0h1m41 0h1m11 0h1m2 0h1m3 0h1m8 0h1m6 0h2m5 0h1m3 0h1m9 0h1m5 0h2m2 0h1m2 0h1m1 0h1m1 0h2m5 0h1m7 0h1m1 0h1m3 0h2m2 0h1m5 0h1m8 0h1m17 0h1m7 0h1m6 0h3m4 0h1m29 0h2m17 0h1m5 0h1m5 0h1m4 0h1m3 0h1m9 0h1m1 0h1m1 0h1m3 0h1m14 0h2m1 0h1m5 0h1m14 0h1m6 0h1m12 0h2m1 0h1m2 0h1m1 0h1m2 0h1m6 0h1m2 0h1m1 0h1m2 0h1m1 0h1m24 0h1m16 0h1m3 0h1m5 0h1m7 0h1m4 0h1m1 0h1m5 0h1m13 0h2m2 0h1m1 0h1m4 0h1m1 0h1m1 0h1m5 0h1m10 0h1m10 0h2m7 0h1m1 0h1m14 0h1m6 0h1m7 0h1m7 0h1m5 0h1m5 0h1m5 0h1m2 0h1m5 0h3m10 0h1m3 0h1m3 0h2m1 0h1m1 0h1m5 0h3m2 0h2m2 0h1m3 0h1m10 0h1m1 0h1m4 0h2m3 0h2m8 0h1m25 0h1m2 0h1m1 0h1m1 0h1m62 0h3m10 0h1m78 0h1m63 0h1m77 0h1M34 8.5h1m59 0h1m40 0h2m2 0h1m2 0h2m6 0h1m1 0h1m3 0h1m10 0h2m9 0h3m5 0h2m7 0h2m8 0h1m4 0h1m5 0h1m1 0h1m1 0h2m5 0h2m1 0h1m9 0h1m1 0h1m1 0h2m2 0h1m6 0h1m17 0h3m7 0h1m1 0h1m2 0h1m2 0h1m5 0h1m2 0h1m9 0h1m15 0h1m5 0h1m6 0h1m8 0h2m6 0h1m2 0h1m5 0h1m8 0h2m1 0h1m2 0h1m15 0h1m3 0h1m8 0h1m31 0h1m10 0h4m1 0h2m7 0h1m6 0h1m1 0h1m9 0h3m1 0h1m4 0h1m2 0h1m18 0h1m1 0h1m9 0h1m11 0h1m2 0h1m3 0h1m5 0h1m4 0h1m2 0h1m2 0h1m5 0h1m3 0h1m13 0h2m7 0h2m1 0h1m1 0h3m7 0h1m11 0h1m6 0h1m1 0h1m2 0h2m8 0h1m117 0h1m13 0h1m33 0h1m102 0h1m15 0h1m38 0h1m35 0h1m25 0h1M4 9.5h1m3 0h1m2 0h1m6 0h2m5 0h1m3 0h2m6 0h1m6 0h5m1 0h2m2 0h1m3 0h2m10 0h1m2 0h1m9 0h1m9 0h2m6 0h3m1 0h1m2 0h1m5 0h1m10 0h1m1 0h1m13 0h2m24 0h1m4 0h1m5 0h1m5 0h1m11 0h3m1 0h1m2 0h1m1 0h1m2 0h1m10 0h1m1 0h1m15 0h1m1 0h1m3 0h1m3 0h1m2 0h1m1 0h2m5 0h1m1 0h1m8 0h1m2 0h2m2 0h2m5 0h1m14 0h1m12 0h2m10 0h1m3 0h1m8 0h1m4 0h2m2 0h2m1 0h2m4 0h1m2 0h1m1 0h2m3 0h1m20 0h1m6 0h1m28 0h2m5 0h1m19 0h2m4 0h1m1 0h1m3 0h1m3 0h2m10 0h1m5 0h1m1 0h1m1 0h5m1 0h2m2 0h2m3 0h2m1 0h1m10 0h1m6 0h1m1 0h1m7 0h1m6 0h1m1 0h1m1 0h1m8 0h1m1 0h1m5 0h1m1 0h1m1 0h2m4 0h1m6 0h1m1 0h1m6 0h1m4 0h2m3 0h2m5 0h2m3 0h1m2 0h2m14 0h1m6 0h1m10 0h1m8 0h1m1 0h1m2 0h1m2 0h1m3 0h1m1 0h2m2 0h1m2 0h1m3 0h1m4 0h2m7 0h1m4 0h1m2 0h1m2 0h1m2 0h2m2 0h1m5 0h1m1 0h1m3 0h1m3 0h1m1 0h1m4 0h1m7 0h1m5 0h1m1 0h1m47 0h1m29 0h1m8 0h1m98 0h1m50 0h1m2 0h2m5 0h1m6 0h1m21 0h1m30 0h1m18 0h1M3 10.5h1m7 0h1m5 0h1m6 0h1m1 0h1m6 0h1m3 0h1m3 0h2m3 0h1m7 0h2m1 0h1m7 0h1m16 0h1m14 0h1m1 0h1m5 0h2m2 0h1m5 0h1m3 0h2m6 0h1m12 0h1m7 0h1m7 0h1m16 0h2m6 0h1m5 0h1m3 0h1m3 0h2m2 0h1m1 0h2m1 0h1m10 0h2m1 0h1m1 0h1m6 0h2m14 0h1m2 0h1m3 0h1m5 0h1m4 0h1m2 0h1m2 0h1m2 0h2m5 0h1m16 0h1m2 0h2m6 0h1m2 0h1m2 0h1m3 0h1m5 0h1m1 0h1m1 0h2m12 0h1m8 0h1m3 0h1m3 0h1m1 0h2m4 0h1m1 0h1m3 0h1m5 0h1m8 0h2m8 0h3m2 0h2m3 0h1m46 0h1m12 0h1m20 0h1m9 0h2m5 0h1m5 0h2m5 0h2m6 0h2m7 0h2m4 0h1m2 0h1m1 0h1m6 0h4m6 0h1m5 0h2m9 0h1m6 0h1m7 0h1m1 0h2m4 0h1m4 0h2m4 0h1m1 0h1m2 0h2m9 0h2m7 0h1m6 0h1m1 0h1m5 0h1m1 0h1m1 0h2m1 0h1m3 0h1m5 0h2m12 0h2m7 0h1m3 0h1m1 0h1m4 0h1m1 0h1m1 0h1m7 0h1m2 0h1m5 0h1m8 0h2m1 0h1m4 0h1m1 0h2m6 0h2m2 0h1m11 0h1m5 0h4m2 0h2m2 0h1m1 0h2m4 0h1m6 0h1m2 0h2m7 0h2m6 0h2m3 0h1m2 0h2m6 0h1m56 0h1m119 0h1M9 11.5h1m1 0h1m2 0h1m5 0h1m7 0h2m2 0h1m3 0h1m15 0h1m1 0h1m2 0h1m4 0h1m2 0h1m3 0h1m2 0h1m4 0h1m1 0h1m3 0h2m3 0h2m3 0h1m6 0h2m3 0h2m5 0h1m6 0h1m10 0h1m7 0h1m4 0h1m1 0h2m67 0h1m6 0h1m56 0h1m2 0h1m13 0h1m13 0h2m12 0h2m8 0h1m2 0h2m11 0h2m3 0h1m3 0h1m2 0h1m6 0h1m5 0h1m2 0h2m2 0h1m7 0h1m1 0h1m5 0h1m2 0h1m22 0h1m1 0h1m13 0h1m3 0h1m9 0h2m8 0h4m4 0h1m1 0h3m2 0h1m3 0h1m9 0h1m3 0h1m4 0h1m2 0h1m3 0h2m1 0h1m5 0h1m2 0h1m1 0h1m2 0h1m5 0h1m1 0h1m2 0h2m9 0h1m3 0h1m34 0h1m12 0h1m3 0h1m6 0h1m1 0h1m2 0h1m13 0h1m3 0h1m4 0h1m8 0h1m8 0h1m5 0h1m1 0h1m7 0h2m31 0h1m16 0h1m2 0h2m1 0h1m4 0h1m9 0h1m4 0h3m9 0h1m4 0h1m6 0h1m3 0h3m2 0h3m3 0h1m7 0h1m6 0h6m2 0h2m3 0h1m1 0h1m11 0h1m3 0h1m6 0h1m9 0h1m3 0h1m2 0h1m2 0h1m2 0h1m12 0h1m4 0h2m1 0h2m1 0h1m2 0h2m5 0h1m3 0h1m5 0h1m2 0h1m3 0h1m2 0h2m2 0h3m2 0h2m1 0h1m6 0h1m2 0h1m4 0h1m5 0h4m1 0h1m1 0h1m1 0h2m2 0h1m2 0h1m4 0h1m5 0h2m10 0h1m12 0h1m1 0h1m2 0h1m1 0h1m20 0h1m2 0h1m8 0h1m3 0h3m2 0h1m2 0h2m2 0h1m1 0h1m1 0h1m2 0h1m3 0h2m4 0h1m1 0h1m11 0h1m1 0h1m1 0h2M2 12.5h1m5 0h2m5 0h1m5 0h1m2 0h1m4 0h2m3 0h1m3 0h1m4 0h2m1 0h1m2 0h3m13 0h1m4 0h1m1 0h1m1 0h1m2 0h2m1 0h1m11 0h1m10 0h1m2 0h3m1 0h1m2 0h1m4 0h2m7 0h1m4 0h1m2 0h4m1 0h1m1 0h1m4 0h1m2 0h1m2 0h1m8 0h1m3 0h5m6 0h1m3 0h1m14 0h2m3 0h1m4 0h1m8 0h2m3 0h1m2 0h2m4 0h1m7 0h1m1 0h1m3 0h2m2 0h1m4 0h3m6 0h1m3 0h2m9 0h2m1 0h1m2 0h1m1 0h2m2 0h1m4 0h1m1 0h1m1 0h1m5 0h2m1 0h1m7 0h1m1 0h2m12 0h1m2 0h1m9 0h1m2 0h1m6 0h1m13 0h1m10 0h2m4 0h1m1 0h1m1 0h1m1 0h1m2 0h1m11 0h1m5 0h1m13 0h1m3 0h1m3 0h1m3 0h1m3 0h2m7 0h1m2 0h1m4 0h1m1 0h1m5 0h2m6 0h1m1 0h3m1 0h2m2 0h1m6 0h2m3 0h1m4 0h1m5 0h1m1 0h1m2 0h1m4 0h1m3 0h1m1 0h2m1 0h2m2 0h1m3 0h2m3 0h2m6 0h1m11 0h1m1 0h1m6 0h1m2 0h3m4 0h1m9 0h1m8 0h2m2 0h1m3 0h1m3 0h1m4 0h1m1 0h1m1 0h1m6 0h1m2 0h1m2 0h1m3 0h2m15 0h1m1 0h1m2 0h1m2 0h1m5 0h2m1 0h1m3 0h1m2 0h1m18 0h1m13 0h1m1 0h1m4 0h1m3 0h1m3 0h1m2 0h1m1 0h1m4 0h3m2 0h5m2 0h1m1 0h1m3 0h4m3 0h1m1 0h1m5 0h1m6 0h4m3 0h2m1 0h1m1 0h1m4 0h1m29 0h1m6 0h1m7 0h2m5 0h2m6 0h1m5 0h1m2 0h3m3 0h1m3 0h1m6 0h1m5 0h2m4 0h2m3 0h1m3 0h1m1 0h1m2 0h1m1 0h2m4 0h2m4 0h2m4 0h1m2 0h1m1 0h1m1 0h1m5 0h1m3 0h1m5 0h1m2 0h2m9 0h1m3 0h1m3 0h2m1 0h1m1 0h2m3 0h2m4 0h1m2 0h3m4 0h2m5 0h1m7 0h2m12 0h1m10 0h1m8 0h1m3 0h1m6 0h1m7 0h1m1 0h1m1 0h1m2 0h1m8 0h1m1 0h1m2 0h1m1 0h1m3 0h1M3 13.5h1m2 0h2m2 0h1m1 0h2m7 0h1m6 0h1m1 0h1m8 0h2m6 0h2m1 0h1m11 0h1m1 0h1m1 0h1m2 0h1m2 0h1m4 0h1m3 0h1m2 0h1m5 0h1m7 0h2m1 0h1m5 0h1m1 0h1m1 0h1m5 0h1m7 0h1m2 0h1m3 0h1m4 0h1m4 0h1m5 0h4m1 0h1m3 0h1m19 0h1m7 0h1m9 0h1m1 0h1m1 0h1m5 0h3m3 0h1m3 0h1m3 0h2m2 0h5m3 0h1m13 0h1m11 0h2m5 0h4m2 0h1m7 0h1m2 0h1m1 0h1m2 0h1m19 0h1m1 0h1m3 0h1m2 0h1m1 0h1m2 0h1m6 0h1m7 0h1m1 0h1m6 0h1m7 0h2m5 0h1m4 0h1m1 0h1m14 0h1m2 0h1m2 0h3m3 0h1m2 0h1m3 0h1m1 0h3m4 0h1m6 0h1m2 0h1m7 0h1m1 0h2m3 0h1m1 0h1m11 0h1m1 0h1m12 0h1m14 0h1m1 0h1m5 0h1m6 0h1m1 0h1m1 0h1m5 0h1m5 0h1m13 0h2m7 0h1m7 0h3m2 0h2m1 0h1m1 0h1m1 0h1m1 0h1m1 0h1m8 0h1m6 0h2m10 0h2m3 0h3m4 0h1m2 0h1m12 0h1m2 0h1m5 0h1m1 0h1m6 0h2m5 0h1m4 0h1m18 0h1m1 0h2m2 0h1m3 0h1m1 0h1m1 0h2m2 0h2m4 0h1m3 0h1m1 0h1m2 0h1m1 0h1m2 0h1m8 0h1m6 0h1m13 0h1m5 0h1m2 0h3m7 0h1m6 0h1m3 0h1m3 0h1m10 0h2m1 0h1m3 0h1m6 0h1m8 0h2m9 0h1m1 0h1m4 0h1m1 0h2m2 0h1m1 0h2m2 0h1m2 0h1m2 0h1m2 0h1m1 0h1m1 0h1m1 0h1m1 0h1m1 0h1m4 0h1m6 0h1m2 0h2m5 0h2m1 0h1m3 0h1m1 0h1m1 0h2m1 0h1m8 0h2m3 0h1m1 0h2m5 0h1m3 0h1m3 0h1m1 0h2m9 0h1m13 0h1m4 0h1m2 0h1m2 0h2m1 0h1m6 0h1m4 0h2m5 0h3m2 0h1m4 0h1m1 0h1m15 0h1m3 0h1m1 0h1m4 0h2m6 0h2m2 0h1m1 0h3m11 0h1m7 0h2m3 0h1m14 0h2m12 0h1m8 0h3M1 14.5h1m23 0h1m3 0h1m2 0h1m4 0h1m2 0h1m3 0h1m4 0h2m2 0h3m12 0h2m7 0h2m3 0h3m1 0h2m1 0h2m1 0h1m13 0h4m2 0h2m2 0h1m2 0h1m9 0h6m1 0h1m1 0h1m12 0h2m4 0h1m1 0h1m10 0h1m5 0h1m5 0h1m1 0h2m5 0h1m8 0h1m4 0h1m4 0h2m9 0h3m1 0h1m4 0h1m7 0h1m16 0h1m8 0h1m1 0h2m11 0h1m1 0h1m15 0h2m5 0h1m1 0h1m1 0h1m4 0h1m1 0h1m2 0h3m2 0h2m9 0h1m4 0h1m1 0h1m1 0h1m2 0h3m12 0h1m2 0h2m1 0h1m9 0h1m2 0h1m3 0h1m4 0h1m4 0h1m14 0h1m4 0h1m5 0h1m1 0h1m4 0h1m2 0h1m2 0h1m8 0h1m5 0h1m3 0h1m2 0h2m5 0h1m3 0h1m2 0h2m4 0h1m3 0h1m1 0h2m1 0h1m3 0h3m1 0h1m1 0h1m1 0h3m1 0h3m5 0h1m1 0h1m5 0h3m4 0h2m2 0h1m5 0h1m5 0h1m4 0h2m5 0h1m1 0h1m1 0h2m3 0h1m3 0h2m7 0h1m2 0h1m3 0h1m4 0h1m5 0h1m2 0h2m1 0h1m1 0h1m9 0h1m5 0h1m8 0h2m5 0h1m3 0h1m21 0h1m2 0h1m2 0h1m7 0h2m4 0h1m1 0h1m1 0h3m5 0h1m4 0h1m3 0h2m7 0h1m3 0h1m1 0h1m3 0h1m1 0h3m1 0h1m11 0h1m6 0h1m1 0h1m26 0h1m7 0h1m4 0h1m6 0h1m1 0h1m1 0h1m1 0h1m4 0h1m2 0h1m4 0h1m1 0h1m4 0h1M2 15.5h1m1 0h1m3 0h1m4 0h2m2 0h1m7 0h1m1 0h1m2 0h2m5 0h1m4 0h1m3 0h1m3 0h1m2 0h1m1 0h4m1 0h2m13 0h1m1 0h1m4 0h1m10 0h1m4 0h1m4 0h2m2 0h1m10 0h1m2 0h3m8 0h1m2 0h3m2 0h1m10 0h1m10 0h1m18 0h1m1 0h1m2 0h1m1 0h1m4 0h1m2 0h1m17 0h1m1 0h1m43 0h2m10 0h1m1 0h1m1 0h2m15 0h1m1 0h1m1 0h1m10 0h2m5 0h1m8 0h1m5 0h1m3 0h1m4 0h1m1 0h3m2 0h1m1 0h1m6 0h1m3 0h1m2 0h1m6 0h1m5 0h3m3 0h3m1 0h1m8 0h1m3 0h1m1 0h1m1 0h1m3 0h2m3 0h1m1 0h1m2 0h1m2 0h2m2 0h1m1 0h1m6 0h1m4 0h1m4 0h1m1 0h1m5 0h1m3 0h1m1 0h1m8 0h1m6 0h1m1 0h1m13 0h2m5 0h1m1 0h1m4 0h2m4 0h1m10 0h1m1 0h1m1 0h1m17 0h1m1 0h1m3 0h3m4 0h1m1 0h1m2 0h1m10 0h1m2 0h1m1 0h1m4 0h1m5 0h1m2 0h1m1 0h1m7 0h1m1 0h1m2 0h1m1 0h1m1 0h2m2 0h2m7 0h1m3 0h1m8 0h3m1 0h1m4 0h1m2 0h2m4 0h1m3 0h1m2 0h2m2 0h2m3 0h2m6 0h1m2 0h2m3 0h1m1 0h2m6 0h1m6 0h1m2 0h1m5 0h1m2 0h1m1 0h1m2 0h1m1 0h1m11 0h1m1 0h1m3 0h1m1 0h1m12 0h1m8 0h1m1 0h1m1 0h1m11 0h1m1 0h1m1 0h1m3 0h1m8 0h1m3 0h1m6 0h1m2 0h1m6 0h1m5 0h1m3 0h1m11 0h4m2 0h1m27 0h1m2 0h1m21 0h1m4 0h1m8 0h1m7 0h1m6 0h2m1 0h1m9 0h1m4 0h1m13 0h1m39 0h1m9 0h1m1 0h1m45 0h1m8 0h1m21 0h1M145 16.5h2m4 0h1m6 0h1m1 0h1m10 0h1m1 0h2m7 0h1m12 0h2m7 0h1m2 0h1m11 0h2m2 0h1m1 0h1m9 0h1m3 0h1m7 0h2m3 0h1m16 0h1m2 0h1m14 0h4m1 0h1m7 0h1m5 0h1m1 0h1m2 0h2m1 0h1m1 0h1m5 0h1m7 0h1m3 0h1m7 0h2m5 0h1m5 0h1m1 0h1m1 0h1m7 0h1m9 0h1m4 0h1m2 0h1m63 0h1m2 0h1m2 0h1m16 0h1m5 0h1m1 0h1m19 0h1m3 0h1m7 0h1m6 0h1m2 0h1m12 0h1m5 0h1m8 0h1m6 0h2m5 0h1m2 0h1m8 0h1m3 0h1m3 0h1m3 0h1m1 0h2m5 0h1m1 0h1m2 0h1m1 0h2m2 0h1m18 0h4m3 0h1m2 0h1m1 0h1m8 0h1m34 0h1m12 0h1m6 0h1m57 0h1m1 0h1m3 0h1m5 0h1m2 0h1m1 0h1m3 0h1m2 0h2m2 0h1m35 0h1m4 0h3M25 17.5h1m5 0h1m12 0h1m13 0h1m12 0h1m32 0h1m2 0h1m1 0h1m2 0h2m4 0h2m4 0h1m1 0h5m6 0h1m18 0h1m13 0h1m2 0h1m1 0h2m2 0h1m1 0h1m3 0h2m11 0h1m9 0h1m1 0h1m1 0h1m2 0h1m4 0h1m4 0h1m14 0h2m1 0h2m4 0h1m1 0h2m3 0h1m2 0h1m11 0h1m2 0h2m1 0h2m2 0h2m6 0h1m2 0h2m1 0h1m18 0h1m2 0h1m2 0h1m2 0h2m4 0h1m3 0h2m7 0h2m5 0h3m2 0h3m1 0h1m2 0h1m6 0h1m6 0h1m12 0h1m4 0h1m4 0h1m4 0h2m16 0h1m3 0h1m3 0h1m1 0h4m1 0h1m2 0h1m3 0h2m5 0h2m3 0h1m1 0h1m8 0h2m5 0h1m22 0h1m2 0h1m9 0h1m2 0h1m4 0h3m4 0h2m2 0h1m2 0h1m13 0h3m4 0h1m8 0h1m4 0h2m3 0h1m1 0h2m1 0h1m2 0h2m3 0h1m7 0h1m2 0h2m2 0h1m7 0h1m15 0h1m1 0h2m4 0h1m6 0h3m17 0h1m10 0h2m15 0h1m1 0h1m3 0h2m2 0h1m1 0h2m2 0h1m1 0h1m1 0h1m4 0h1m1 0h1m6 0h1m5 0h1m1 0h2m47 0h1m8 0h2m37 0h1M84 18.5h1m12 0h2m1 0h1m10 0h1m4 0h1m20 0h1m2 0h1m6 0h1m3 0h1m9 0h1m1 0h1m3 0h1m2 0h1m6 0h2m14 0h1m9 0h1m1 0h1m3 0h2m3 0h1m1 0h2m5 0h1m3 0h1m9 0h1m10 0h1m2 0h1m2 0h1m12 0h2m8 0h1m2 0h1m9 0h1m4 0h1m16 0h1m2 0h1m9 0h3m16 0h1m6 0h1m1 0h1m5 0h1m1 0h1m12 0h1m3 0h3m2 0h3m2 0h1m6 0h1m2 0h1m5 0h2m2 0h1m1 0h1m3 0h1m5 0h1m5 0h1m1 0h1m2 0h5m2 0h1m4 0h1m4 0h1m2 0h1m3 0h1m3 0h2m1 0h1m5 0h2m4 0h1m1 0h2m5 0h1m2 0h1m7 0h3m2 0h1m3 0h1m1 0h1m2 0h1m2 0h1m7 0h1m5 0h1m1 0h1m15 0h1m1 0h1m4 0h3m2 0h2m6 0h1m1 0h2m1 0h3m9 0h1m7 0h1m6 0h1m10 0h2m4 0h1m12 0h2m3 0h1m3 0h2m6 0h2m3 0h2m22 0h1m1 0h2m7 0h1m49 0h1m15 0h2m1 0h1m13 0h1m2 0h1m26 0h2m5 0h1m2 0h1m104 0h1m31 0h1M0 19.5h1m2 0h1m1 0h1m1 0h1m6 0h2m1 0h1m7 0h1m2 0h3m5 0h1m3 0h1m1 0h1m2 0h1m3 0h1m2 0h1m2 0h1m3 0h1m3 0h2m1 0h1m8 0h1m3 0h1m1 0h1m16 0h1m10 0h3m2 0h2m3 0h2m8 0h1m10 0h1m2 0h3m9 0h1m1 0h1m9 0h2m14 0h1m1 0h1m18 0h1m2 0h1m1 0h1m8 0h1m3 0h1m4 0h1m2 0h2m11 0h1m3 0h3m1 0h1m7 0h2m5 0h1m13 0h1m3 0h1m2 0h1m2 0h1m13 0h1m11 0h3m1 0h2m4 0h2m2 0h1m1 0h2m1 0h2m1 0h1m5 0h1m7 0h1m2 0h2m4 0h1m20 0h1m3 0h2m2 0h1m2 0h2m4 0h1m2 0h2m2 0h1m3 0h2m4 0h1m2 0h1m12 0h2m2 0h1m16 0h1m5 0h1m5 0h1m1 0h1m10 0h2m2 0h1m3 0h1m6 0h2m2 0h1m3 0h1m1 0h2m3 0h1m8 0h1m3 0h1m4 0h2m2 0h1m16 0h1m62 0h1m6 0h1m1 0h1m4 0h1m11 0h2m1 0h1m2 0h1m2 0h1m10 0h2m2 0h1m2 0h1m2 0h1m9 0h1m6 0h3m11 0h1m7 0h1m1 0h1m1 0h1m4 0h1m9 0h1m3 0h1m1 0h1m3 0h1m6 0h3m6 0h1m2 0h1m75 0h1m3 0h1m23 0h1m7 0h1m12 0h1m10 0h1m10 0h1m8 0h1m7 0h2m37 0h1m3 0h1m35 0h1m16 0h1M24 20.5h1m15 0h1m5 0h4m5 0h1m2 0h1m1 0h1m3 0h1m21 0h2m16 0h1m1 0h1m2 0h1m4 0h1m14 0h1m8 0h1m20 0h3m8 0h1m4 0h1m8 0h1m6 0h1m43 0h1m15 0h1m7 0h1m7 0h1m14 0h1m12 0h1m2 0h1m6 0h1m1 0h1m4 0h1m5 0h1m12 0h1m7 0h1m3 0h1m13 0h1m17 0h3m9 0h1m1 0h1m5 0h1m3 0h1m1 0h1m15 0h1m10 0h1m11 0h1m1 0h2m5 0h1m1 0h1m8 0h1m1 0h1m1 0h1m1 0h1m2 0h2m1 0h1m5 0h2m11 0h1m5 0h1m1 0h2m4 0h1m5 0h1m8 0h2m5 0h2m19 0h1m5 0h1m13 0h1m16 0h2m7 0h1m3 0h1m3 0h1m7 0h1m1 0h1m2 0h1m4 0h1m8 0h1m1 0h1m1 0h1m6 0h1m6 0h1m12 0h1m9 0h1m1 0h1m8 0h1m5 0h1m5 0h1m2 0h1m2 0h1m3 0h2m9 0h1m4 0h1m3 0h4m2 0h2m3 0h1m1 0h1m1 0h1m4 0h1m1 0h1m2 0h1m5 0h1m3 0h1m5 0h1m14 0h1m1 0h1m4 0h1m3 0h1m1 0h1m2 0h1m1 0h2m7 0h3m1 0h1m5 0h3m6 0h2M43 21.5h1m2 0h1m5 0h1m6 0h1m9 0h1m10 0h1m3 0h1m34 0h1m21 0h1m36 0h1m5 0h1m12 0h1m7 0h2m47 0h2m12 0h1m4 0h1m1 0h1m4 0h1m4 0h1m2 0h1m7 0h1m2 0h1m8 0h2m14 0h1m1 0h1m5 0h1m2 0h1m4 0h1m2 0h1m14 0h1m5 0h1m12 0h2m1 0h1m9 0h1m6 0h1m1 0h2m2 0h1m22 0h1m9 0h1m2 0h2m3 0h1m6 0h1m3 0h1m3 0h1m5 0h1m6 0h1m1 0h1m3 0h1m2 0h1m9 0h1m6 0h1m4 0h1m37 0h1m45 0h1m100 0h2m17 0h1m20 0h1m22 0h2m46 0h1m1 0h1m5 0h1m6 0h2m3 0h1M143 22.5h1m3 0h1m4 0h1m3 0h3m9 0h2m24 0h1m6 0h2m1 0h2m4 0h1m7 0h1m8 0h1m17 0h1m5 0h1m2 0h1m4 0h1m26 0h1m2 0h1m2 0h1m6 0h1m4 0h1m5 0h1m10 0h2m2 0h2m4 0h1m6 0h1m6 0h1m3 0h1m1 0h1m9 0h1m1 0h1m1 0h3m17 0h1m7 0h1m1 0h1m6 0h2m16 0h1m12 0h1m8 0h1m370 0h1M0 23.5h1m7 0h1m5 0h2m2 0h1m1 0h1m6 0h1m2 0h1m4 0h1m4 0h1m1 0h1m5 0h1m3 0h1m3 0h2m8 0h3m5 0h2m1 0h1m1 0h1m6 0h1m3 0h2m1 0h2m2 0h1m2 0h1m12 0h1m4 0h1m5 0h1m4 0h2m2 0h1m3 0h1m1 0h1m1 0h1m3 0h1m8 0h1m4 0h1m1 0h1m4 0h1m3 0h2m1 0h2m7 0h1m3 0h4m3 0h1m1 0h1m4 0h4m2 0h1m9 0h2m6 0h1m4 0h1m1 0h1m9 0h1m7 0h1m1 0h1m4 0h4m1 0h1m4 0h1m1 0h1m6 0h1m6 0h1m1 0h1m3 0h1m2 0h2m4 0h3m10 0h2m16 0h1m3 0h1m1 0h1m1 0h1m6 0h1m8 0h1m5 0h2m6 0h4m4 0h1m2 0h1m12 0h3m7 0h1m3 0h2m4 0h2m7 0h1m1 0h1m4 0h3m1 0h1m1 0h1m4 0h2m3 0h2m4 0h2m5 0h2m7 0h2m1 0h1m4 0h2m2 0h1m9 0h1m20 0h2m13 0h1m12 0h1m1 0h1m9 0h1m5 0h1m3 0h1m5 0h1m2 0h1m4 0h2m1 0h3m8 0h1m4 0h1m1 0h1m15 0h1m9 0h1m10 0h1m17 0h1m8 0h1m8 0h1m1 0h1m5 0h1m2 0h1m10 0h1m4 0h1m3 0h1m5 0h1m1 0h1m13 0h1m16 0h1m2 0h4m7 0h2m10 0h1m3 0h1m6 0h1m3 0h1m2 0h1m23 0h1m14 0h1m21 0h1m9 0h2m3 0h1m1 0h1m11 0h1m26 0h3m7 0h2m3 0h1m7 0h1m34 0h2m7 0h1m2 0h1m10 0h1m4 0h2m2 0h1m6 0h1m5 0h1m2 0h3m4 0h1m1 0h2m5 0h2m6 0h1m3 0h1m15 0h1m7 0h1m1 0h1m6 0h1m3 0h1m3 0h1m12 0h1m4 0h1M3 24.5h2m1 0h1m1 0h1m4 0h1m13 0h1m1 0h1m2 0h2m11 0h2m6 0h1m1 0h1m3 0h1m6 0h1m5 0h1m6 0h1m1 0h1m6 0h2m1 0h3m7 0h1m2 0h1m3 0h2m4 0h1m4 0h2m4 0h2m2 0h2m1 0h1m1 0h1m11 0h1m3 0h1m1 0h1m4 0h1m2 0h1m8 0h1m1 0h1m1 0h3m6 0h1m3 0h2m1 0h1m3 0h3m10 0h1m3 0h1m2 0h1m1 0h2m8 0h1m4 0h1m4 0h1m3 0h1m4 0h1m1 0h1m2 0h1m4 0h1m11 0h2m3 0h1m3 0h1m4 0h1m2 0h1m7 0h1m2 0h1m2 0h2m7 0h1m7 0h1m3 0h1m1 0h2m4 0h1m5 0h1m8 0h1m8 0h1m3 0h1m12 0h1m16 0h1m2 0h1m2 0h1m3 0h1m1 0h1m4 0h1m2 0h1m1 0h1m5 0h1m5 0h1m5 0h1m1 0h1m1 0h1m9 0h3m9 0h1m7 0h3m1 0h1m9 0h1m3 0h1m5 0h1m7 0h1m4 0h1m7 0h1m7 0h1m13 0h1m1 0h1m3 0h1m4 0h1m8 0h1m3 0h1m1 0h2m5 0h2m2 0h1m2 0h1m2 0h1m1 0h2m5 0h1m8 0h1m1 0h1m5 0h2m6 0h1m2 0h1m2 0h1m9 0h1m2 0h1m14 0h1m3 0h1m1 0h1m1 0h2m2 0h1m4 0h1m7 0h1m1 0h1m1 0h2m2 0h1m17 0h2m12 0h1m1 0h1m3 0h1m1 0h1m1 0h2m4 0h1m5 0h1m1 0h1m1 0h1m2 0h1m2 0h1m4 0h1m11 0h1m2 0h1m39 0h1m2 0h4m1 0h1m3 0h1m1 0h1m1 0h1m1 0h1m3 0h1m38 0h1m5 0h1m107 0h1m12 0h1m11 0h1m57 0h1m3 0h1m5 0h1m22 0h1M9 25.5h1m2 0h1m41 0h1m4 0h1m19 0h2m5 0h1m6 0h2m28 0h1m12 0h2m28 0h1m10 0h1m11 0h2m10 0h1m4 0h1m7 0h1m6 0h3m38 0h3m3 0h1m3 0h1m1 0h1m28 0h2m9 0h1m2 0h1m11 0h1m4 0h1m3 0h1m2 0h1m1 0h1m5 0h1m4 0h1m3 0h1m1 0h1m3 0h1m96 0h1m4 0h1m9 0h1m25 0h1m3 0h1m12 0h2m2 0h1m1 0h1m1 0h1m2 0h2m6 0h1m17 0h1m2 0h1m6 0h1m3 0h1m5 0h1m1 0h1m8 0h1m6 0h2m10 0h2m4 0h2m1 0h1m3 0h1m41 0h1m10 0h1m20 0h1m10 0h1m22 0h1m2 0h1m7 0h1m16 0h1m4 0h1m36 0h1m76 0h1m98 0h1m27 0h1m7 0h1m17 0h1m40 0h1M2 26.5h1m29 0h1m30 0h1m16 0h1m30 0h1m3 0h1m16 0h1m7 0h1m18 0h1m6 0h3m2 0h1m9 0h1m1 0h1m1 0h1m1 0h1m1 0h1m13 0h1m1 0h2m2 0h1m8 0h1m1 0h1m2 0h1m6 0h1m4 0h1m5 0h1m2 0h3m1 0h2m7 0h2m1 0h1m6 0h1m10 0h1m9 0h1m11 0h1m2 0h1m5 0h2m8 0h1m1 0h2m10 0h2m1 0h1m2 0h1m1 0h2m5 0h1m9 0h1m3 0h1m5 0h1m1 0h1m5 0h1m1 0h1m8 0h1m2 0h1m9 0h1m4 0h1m1 0h1m2 0h3m2 0h1m2 0h2m1 0h4m7 0h1m4 0h1m18 0h1m1 0h1m4 0h3m2 0h1m3 0h4m3 0h1m8 0h1m3 0h1m1 0h1m1 0h1m7 0h1m12 0h1m16 0h1m7 0h1m6 0h1m2 0h2m1 0h1m1 0h1m1 0h2m19 0h1m5 0h1m1 0h1m3 0h3m1 0h1m1 0h1m2 0h1m17 0h2m1 0h1m5 0h1m6 0h1m3 0h1m3 0h2m10 0h1m3 0h2m6 0h1m6 0h1m13 0h1m2 0h1m4 0h1m26 0h1m2 0h1m2 0h1m4 0h1m12 0h2m11 0h2m28 0h1m2 0h1m11 0h1m131 0h1M6 27.5h2m2 0h1m2 0h1m19 0h3m23 0h1m1 0h2m4 0h1m5 0h1m2 0h1m25 0h1m5 0h1m3 0h2m11 0h1m4 0h1m12 0h3m10 0h1m11 0h1m1 0h1m1 0h1m6 0h3m20 0h2m17 0h2m2 0h1m3 0h1m15 0h1m10 0h1m3 0h1m7 0h1m5 0h3m3 0h1m2 0h3m3 0h4m1 0h2m2 0h3m4 0h1m2 0h1m3 0h1m2 0h2m4 0h1m3 0h1m7 0h1m6 0h1m10 0h1m13 0h1m2 0h2m8 0h1m5 0h1m4 0h1m5 0h1m1 0h1m1 0h1m1 0h1m1 0h2m5 0h1m3 0h2m4 0h1m5 0h3m3 0h1m2 0h1m13 0h1m11 0h1m3 0h2m8 0h1m11 0h2m3 0h1m2 0h1m3 0h1m18 0h1m15 0h1m13 0h1m8 0h1m2 0h1m7 0h1m4 0h2m1 0h1m10 0h3m2 0h1m1 0h1m2 0h1m5 0h1m6 0h1m2 0h2m1 0h1m2 0h1m1 0h2m4 0h1m1 0h1m16 0h1m9 0h2m7 0h1m3 0h1m5 0h1m2 0h1m11 0h1m1 0h1m1 0h1m2 0h1m4 0h2m5 0h1m1 0h2m2 0h1m6 0h1m4 0h1m3 0h2m2 0h1m2 0h1m9 0h1m5 0h1m7 0h1m14 0h1m4 0h1m13 0h1m6 0h1m1 0h1m5 0h1m3 0h1m9 0h1M5 28.5h1m6 0h1m12 0h1m15 0h1m1 0h1m11 0h1m2 0h1m7 0h1m8 0h1m4 0h1m4 0h1m1 0h1m1 0h1m3 0h2m16 0h1m4 0h1m2 0h1m6 0h3m3 0h1m15 0h1m1 0h1m2 0h1m1 0h1m15 0h1m1 0h1m11 0h1m9 0h1m5 0h1m15 0h1m10 0h1m1 0h1m10 0h1m3 0h1m4 0h2m3 0h1m12 0h1m11 0h1m12 0h2m22 0h1m5 0h1m2 0h1m1 0h2m1 0h1m5 0h1m3 0h1m2 0h1m7 0h1m1 0h1m34 0h2m3 0h1m1 0h1m1 0h3m3 0h1m1 0h1m3 0h1m16 0h1m2 0h2m17 0h1m4 0h1m31 0h2m7 0h1m4 0h1m3 0h1m2 0h1m10 0h2m15 0h1m4 0h2m16 0h1m2 0h1m13 0h1m2 0h1m5 0h1m1 0h1m8 0h1m1 0h2m3 0h1m2 0h1m1 0h1m9 0h2m4 0h2m2 0h1m6 0h1m4 0h1m14 0h2m23 0h1m15 0h1m14 0h1m8 0h1m16 0h1m6 0h1m3 0h4m4 0h1m3 0h1m1 0h1m32 0h1m10 0h1m3 0h1m7 0h1M3 29.5h1m7 0h1m2 0h1m3 0h1m8 0h1m2 0h1m12 0h1m2 0h1m1 0h1m3 0h3m8 0h1m6 0h1m1 0h2m1 0h1m1 0h1m11 0h1m2 0h2m7 0h1m1 0h1m3 0h1m3 0h1m1 0h1m1 0h1m1 0h1m3 0h1m4 0h1m5 0h2m1 0h1m1 0h1m1 0h1m3 0h2m5 0h1m2 0h2m2 0h1m1 0h1m2 0h2m3 0h2m1 0h1m4 0h2m6 0h2m7 0h1m2 0h2m5 0h1m2 0h2m3 0h2m1 0h1m3 0h1m17 0h1m1 0h2m1 0h1m2 0h1m2 0h1m2 0h2m3 0h3m2 0h1m1 0h1m2 0h1m5 0h1m3 0h1m2 0h1m3 0h1m11 0h2m10 0h1m1 0h1m8 0h1m14 0h1m7 0h1m2 0h1m1 0h2m5 0h4m48 0h1m12 0h1m13 0h1m3 0h1m20 0h1m1 0h2m16 0h1m2 0h1m2 0h1m2 0h1m3 0h1m8 0h1m3 0h1m2 0h1m19 0h1m7 0h3m2 0h1m20 0h1m3 0h1m5 0h1m3 0h1m1 0h1m5 0h1m7 0h1m12 0h1m6 0h1m5 0h1m2 0h1m1 0h1m5 0h1m13 0h1m4 0h2m13 0h1m27 0h1m2 0h1m3 0h1m4 0h1m1 0h2m6 0h1m2 0h2m4 0h1m9 0h1m3 0h1m12 0h1m32 0h2m7 0h1m28 0h1M11 30.5h1m1 0h1m1 0h1m8 0h1m10 0h1m6 0h1m2 0h1m7 0h1m2 0h1m11 0h2m27 0h1m5 0h1m3 0h1m5 0h2m3 0h3m1 0h1m5 0h1m5 0h1m5 0h1m39 0h1m3 0h1m4 0h1m3 0h1m8 0h2m1 0h1m4 0h1m4 0h1m4 0h1m7 0h2m1 0h1m16 0h1m9 0h1m3 0h1m1 0h1m3 0h1m11 0h4m5 0h1m5 0h1m1 0h1m10 0h1m1 0h1m21 0h1m3 0h1m1 0h1m3 0h1m2 0h1m6 0h1m6 0h1m3 0h1m1 0h2m11 0h1m2 0h2m2 0h1m4 0h1m2 0h1m3 0h1m10 0h1m10 0h1m4 0h1m4 0h1m1 0h1m2 0h1m1 0h1m1 0h2m2 0h1m10 0h1m3 0h1m5 0h1m7 0h1m1 0h1m2 0h1m1 0h1m6 0h2m2 0h2m5 0h1m5 0h1m5 0h1m10 0h1m2 0h1m2 0h1m3 0h1m1 0h1m7 0h2m2 0h1m4 0h1m1 0h1m5 0h2m2 0h1m3 0h1m4 0h1m2 0h1m1 0h1m1 0h2m6 0h1m2 0h1m1 0h1m2 0h1m1 0h1m1 0h1m3 0h1m3 0h1m2 0h1m7 0h1m2 0h1m2 0h1m3 0h1m1 0h1m1 0h2m3 0h3m7 0h1m2 0h1m4 0h2m2 0h1m2 0h1m9 0h1m14 0h2m4 0h1m2 0h3m5 0h2m2 0h1m2 0h1m1 0h1m10 0h1m8 0h1m3 0h2m1 0h1m1 0h1m5 0h1m51 0h1m9 0h1m3 0h1m6 0h1m96 0h1m34 0h1m121 0h1m9 0h1M0 31.5h1m3 0h1m7 0h1m7 0h2m2 0h1m2 0h1m1 0h1m11 0h2m3 0h1m1 0h1m1 0h1m12 0h1m11 0h2m1 0h1m7 0h1m1 0h1m12 0h1m2 0h2m4 0h1m5 0h2m3 0h1m3 0h1m7 0h1m7 0h2m3 0h1m6 0h1m4 0h1m3 0h1m3 0h1m4 0h1m2 0h1m14 0h1m3 0h1m17 0h1m11 0h1m1 0h1m3 0h1m7 0h2m3 0h3m1 0h1m5 0h1m1 0h2m26 0h1m1 0h2m18 0h1m5 0h1m5 0h1m8 0h2m3 0h1m8 0h1m3 0h4m2 0h1m16 0h1m1 0h3m7 0h1m9 0h1m1 0h1m3 0h1m8 0h1m1 0h1m1 0h1m5 0h2m4 0h1m11 0h1m7 0h1m13 0h2m4 0h1m3 0h1m6 0h1m3 0h1m5 0h1m8 0h1m5 0h3m8 0h2m4 0h1m4 0h1m5 0h1m1 0h2m2 0h1m2 0h1m3 0h1m5 0h1m9 0h1m6 0h2m3 0h1m1 0h1m2 0h2m4 0h3m1 0h1m4 0h1m3 0h1m3 0h1m8 0h1m11 0h2m2 0h1m2 0h1m5 0h1m8 0h1m1 0h2m23 0h2m10 0h3m2 0h3m4 0h2m6 0h3m1 0h1m4 0h1m2 0h1m12 0h1m11 0h1m7 0h2m2 0h1m2 0h1m2 0h1m13 0h1m31 0h2m4 0h3m4 0h1m15 0h1m8 0h1m5 0h3m8 0h1m4 0h1m1 0h2m4 0h1m4 0h4m6 0h1m1 0h1m9 0h3m1 0h1m3 0h2m9 0h1m3 0h1m1 0h3m2 0h2m7 0h2m4 0h1m22 0h1m6 0h1m3 0h1m3 0h2m2 0h2m13 0h1m11 0h1m6 0h2m5 0h1m6 0h1m4 0h1m8 0h1m11 0h1m3 0h1m1 0h1m7 0h4m15 0h1m7 0h1M1 32.5h1m12 0h2m1 0h1m11 0h1m5 0h1m6 0h1m29 0h1m15 0h1m14 0h1m5 0h1m2 0h1m2 0h2m21 0h1m6 0h1m3 0h1m1 0h1m2 0h1m15 0h1m3 0h2m1 0h1m2 0h2m4 0h1m4 0h1m4 0h1m13 0h1m3 0h1m1 0h1m3 0h1m3 0h1m18 0h1m2 0h1m3 0h2m4 0h1m6 0h1m3 0h1m7 0h2m4 0h1m10 0h1m3 0h1m2 0h1m3 0h2m2 0h1m4 0h1m8 0h2m3 0h1m16 0h1m2 0h1m4 0h2m1 0h1m5 0h1m4 0h1m1 0h4m13 0h2m3 0h1m2 0h1m3 0h1m1 0h2m1 0h1m5 0h1m3 0h1m5 0h1m10 0h1m13 0h1m13 0h1m6 0h1m2 0h1m4 0h1m1 0h1m2 0h2m1 0h3m1 0h1m11 0h1m1 0h1m6 0h1m1 0h1m4 0h2m6 0h1m4 0h1m1 0h3m1 0h1m4 0h2m15 0h1m4 0h1m3 0h1m4 0h3m1 0h3m4 0h1m2 0h1m4 0h1m1 0h2m11 0h2m7 0h1m1 0h1m2 0h1m1 0h2m2 0h1m3 0h1m1 0h1m2 0h1m3 0h1m9 0h2m11 0h1m2 0h1m2 0h1m2 0h2m2 0h1m4 0h1m1 0h1m3 0h2m7 0h1m64 0h1m3 0h1m9 0h2m23 0h1m39 0h1m4 0h1M11 33.5h2m5 0h1m6 0h1m3 0h1m3 0h3m2 0h2m6 0h1m1 0h1m6 0h1m1 0h1m1 0h2m13 0h1m1 0h1m1 0h1m6 0h2m6 0h1m8 0h1m10 0h2m1 0h1m6 0h2m8 0h3m8 0h1m4 0h1m9 0h1m7 0h1m3 0h1m1 0h1m3 0h1m1 0h2m1 0h1m4 0h1m2 0h2m11 0h1m9 0h1m2 0h1m7 0h1m5 0h1m7 0h1m4 0h1m3 0h1m3 0h1m1 0h1m1 0h2m2 0h3m9 0h1m1 0h5m2 0h2m2 0h1m5 0h1m2 0h1m3 0h2m4 0h1m9 0h1m4 0h1m2 0h1m1 0h1m18 0h1m4 0h1m3 0h1m5 0h1m1 0h1m2 0h1m17 0h1m2 0h1m2 0h5m1 0h1m3 0h2m1 0h1m3 0h1m29 0h1m15 0h1m18 0h1m1 0h1m9 0h1m13 0h1m1 0h1m13 0h1m5 0h1m1 0h2m2 0h2m7 0h1m2 0h1m3 0h1m5 0h1m5 0h1m1 0h1m1 0h3m2 0h2m1 0h1m4 0h1m5 0h1m20 0h1m2 0h1m2 0h2m1 0h1m2 0h2m8 0h1m2 0h2m4 0h1m8 0h1m5 0h1m5 0h1m10 0h1m1 0h2m21 0h1m8 0h1m6 0h1m14 0h1m7 0h1m2 0h1m2 0h1m36 0h2m28 0h2m3 0h1m6 0h1m32 0h1m17 0h1m1 0h1m2 0h1m1 0h1m19 0h4m3 0h1m15 0h1m1 0h1m4 0h1m2 0h1m2 0h1m1 0h1m6 0h1m9 0h1m3 0h1m10 0h2m2 0h1m4 0h2m1 0h1m1 0h1m1 0h1m1 0h1m1 0h1m4 0h1m2 0h1m3 0h1m3 0h1m7 0h1m4 0h1m1 0h1m5 0h1m3 0h1m1 0h1m7 0h1m8 0h1m4 0h2m1 0h1m4 0h1m1 0h1m26 0h2m1 0h1m3 0h4m3 0h1m2 0h1m1 0h1M0 34.5h1m2 0h1m10 0h1m10 0h1m2 0h3m10 0h1m6 0h1m1 0h2m6 0h1m7 0h1m6 0h4m12 0h2m9 0h1m11 0h2m6 0h1m4 0h1m1 0h2m3 0h1m2 0h1m27 0h1m9 0h2m8 0h1m14 0h1m13 0h1m7 0h3m16 0h1m10 0h1m3 0h1m1 0h1m3 0h1m3 0h1m5 0h1m1 0h1m1 0h1m4 0h1m4 0h1m2 0h1m10 0h1m1 0h1m7 0h1m1 0h1m2 0h1m20 0h1m1 0h1m6 0h1m20 0h2m8 0h1m1 0h2m1 0h1m1 0h1m10 0h1m2 0h1m3 0h1m2 0h1m2 0h1m2 0h1m3 0h2m1 0h2m2 0h2m1 0h1m3 0h1m1 0h3m3 0h1m31 0h1m4 0h1m2 0h2m1 0h1m1 0h1m4 0h1m2 0h1m1 0h1m1 0h1m2 0h1m1 0h1m2 0h1m6 0h1m4 0h1m14 0h1m1 0h1m11 0h1m3 0h1m5 0h1m5 0h1m1 0h1m6 0h1m9 0h1m2 0h1m18 0h1m4 0h1m4 0h1m5 0h1m1 0h2m4 0h1m15 0h1m10 0h1m8 0h1m9 0h1m3 0h1m12 0h2m9 0h1m8 0h1m4 0h1m18 0h1m5 0h1m5 0h1m4 0h1m45 0h1m5 0h1m2 0h1m2 0h1m6 0h2m8 0h2m13 0h2m9 0h1m5 0h1m10 0h1m1 0h1m6 0h1m4 0h1m59 0h1m6 0h1m2 0h1m1 0h1m1 0h1m15 0h1m9 0h1m13 0h2m4 0h1m8 0h1m36 0h1m8 0h1m2 0h1m3 0h1m23 0h1M20 35.5h1m8 0h1m1 0h4m14 0h1m4 0h1m1 0h1m1 0h1m1 0h1m6 0h1m2 0h4m13 0h1m2 0h1m11 0h2m3 0h1m1 0h1m4 0h1m8 0h2m20 0h1m8 0h1m35 0h1m45 0h1m3 0h2m1 0h1m1 0h1m1 0h1m3 0h1m3 0h1m11 0h1m10 0h1m7 0h1m4 0h1m19 0h1m3 0h1m2 0h1m5 0h1m22 0h1m1 0h2m2 0h1m12 0h1m7 0h1m7 0h1m17 0h2m2 0h2m5 0h1m7 0h1m4 0h1m11 0h1m2 0h1m1 0h1m7 0h1m3 0h1m6 0h2m5 0h2m5 0h1m29 0h1m25 0h1m15 0h1m11 0h1m55 0h1m14 0h1m7 0h1m16 0h1m15 0h1m1 0h1m12 0h1m2 0h1m1 0h3m4 0h1m3 0h1m2 0h1m2 0h1m1 0h2m3 0h2m3 0h1m4 0h1m4 0h1m3 0h1m1 0h1m2 0h1m3 0h1m2 0h1m7 0h3M2 36.5h1m5 0h2m10 0h1m20 0h2m36 0h1m11 0h1m7 0h2m1 0h1m12 0h1m1 0h1m1 0h2m1 0h1m33 0h1m1 0h1m7 0h1m1 0h1m1 0h1m3 0h1m14 0h1m6 0h2m10 0h2m2 0h1m23 0h1m1 0h1m3 0h1m6 0h2m7 0h1m8 0h1m6 0h1m8 0h1m1 0h1m2 0h1m1 0h2m1 0h2m4 0h2m2 0h2m3 0h3m2 0h1m1 0h2m6 0h1m7 0h1m4 0h1m6 0h1m6 0h3m1 0h1m2 0h1m1 0h1m7 0h1m1 0h1m6 0h1m79 0h1m14 0h1m1 0h2m16 0h1m10 0h1m16 0h1m2 0h2m1 0h1m3 0h2m1 0h1m6 0h2m3 0h1m3 0h1m1 0h1m6 0h2m8 0h1m2 0h1m4 0h1m1 0h1m7 0h1m1 0h5m4 0h1m2 0h1m7 0h2m1 0h2m4 0h1m1 0h1m3 0h2m4 0h1m6 0h1m2 0h1m3 0h2m1 0h1m7 0h1m1 0h1m3 0h1m1 0h1m3 0h1m1 0h1m12 0h1m2 0h2m12 0h1m3 0h1m5 0h1m2 0h1m4 0h2m1 0h1m1 0h6m1 0h1m4 0h1m1 0h1m8 0h2m3 0h2m2 0h1m2 0h1m17 0h1m3 0h1m20 0h1m3 0h1m7 0h1m2 0h1m12 0h1M13 37.5h1m5 0h1m1 0h1m24 0h1m10 0h1m5 0h2m2 0h1m9 0h2m8 0h1m3 0h1m2 0h1m2 0h1m1 0h2m3 0h2m3 0h1m8 0h2m4 0h1m5 0h2m1 0h1m4 0h1m1 0h1m1 0h1m4 0h1m2 0h1m4 0h1m7 0h1m2 0h1m6 0h1m3 0h1m1 0h2m3 0h1m2 0h1m2 0h1m4 0h1m2 0h1m9 0h2m2 0h1m3 0h1m12 0h1m1 0h1m9 0h2m11 0h2m4 0h1m6 0h1m11 0h2m1 0h1m1 0h2m2 0h1m1 0h1m5 0h2m7 0h1m2 0h2m2 0h2m6 0h1m3 0h2m2 0h2m5 0h1m10 0h1m1 0h4m7 0h1m4 0h1m4 0h1m5 0h1m12 0h2m3 0h1m5 0h2m3 0h1m1 0h3m4 0h1m3 0h1m4 0h1m10 0h1m5 0h2m1 0h1m1 0h1m10 0h3m1 0h1m1 0h1m8 0h2m1 0h1m1 0h1m4 0h1m4 0h1m6 0h1m1 0h2m2 0h1m3 0h1m2 0h3m3 0h2m5 0h1m5 0h2m9 0h1m1 0h1m6 0h1m2 0h1m8 0h1m2 0h1m4 0h1m1 0h1m9 0h1m2 0h1m10 0h1m1 0h1m2 0h7m3 0h1m3 0h1m5 0h1m4 0h1m1 0h1m1 0h3m27 0h2m1 0h1m13 0h1m11 0h1m4 0h2m2 0h1m3 0h1m2 0h1m14 0h1m3 0h1m4 0h1m2 0h2m5 0h1m4 0h1m10 0h1m1 0h2m5 0h1m6 0h1m2 0h1m2 0h1m17 0h1m2 0h1m10 0h1m3 0h1m4 0h1m5 0h1m3 0h1m2 0h1M117 38.5h1m1 0h1m4 0h1m25 0h1m1 0h1m3 0h1m2 0h4m15 0h2m4 0h1m2 0h2m5 0h1m3 0h1m3 0h1m5 0h1m2 0h2m4 0h1m6 0h1m10 0h1m5 0h1m21 0h1m20 0h1m1 0h1m1 0h1m5 0h2m14 0h1m3 0h1m5 0h1m6 0h2m1 0h1m7 0h1m2 0h1m1 0h1m2 0h1m2 0h1m10 0h1m3 0h3m7 0h1m2 0h2m1 0h2m12 0h2m37 0h2m5 0h1m8 0h1m1 0h1m10 0h1m9 0h2m6 0h1m2 0h1m2 0h2m4 0h3m5 0h1m2 0h1m4 0h1m2 0h2m3 0h1m1 0h2m8 0h1m4 0h1m1 0h2m5 0h1m6 0h1m11 0h1m9 0h1m4 0h1m10 0h1m2 0h1m7 0h1m2 0h1m1 0h2m2 0h1m1 0h1m7 0h1m1 0h4m8 0h1m5 0h1m3 0h1m3 0h1m2 0h1m3 0h1m4 0h1m10 0h1m14 0h1m19 0h1m11 0h1m1 0h1m12 0h1m4 0h1m10 0h1m46 0h1m7 0h2m1 0h1m11 0h1M9 39.5h1m1 0h1m1 0h1m10 0h1m6 0h1m5 0h1m4 0h1m1 0h1m12 0h1m14 0h1m1 0h2m10 0h1m7 0h1m3 0h1m1 0h1m4 0h1m7 0h1m6 0h1m9 0h1m2 0h1m2 0h1m4 0h1m1 0h1m9 0h2m13 0h1m13 0h1m1 0h2m2 0h1m1 0h1m14 0h2m3 0h1m4 0h2m2 0h1m2 0h1m14 0h1m1 0h1m2 0h3m4 0h1m3 0h1m1 0h1m4 0h1m1 0h1m1 0h1m2 0h2m13 0h1m23 0h2m17 0h1m11 0h2m6 0h1m1 0h1m6 0h1m2 0h2m1 0h2m6 0h3m32 0h1m7 0h2m42 0h1m3 0h1m3 0h2m6 0h1m2 0h3m8 0h2m1 0h1m6 0h1m2 0h1m1 0h1m3 0h1m3 0h1m3 0h1m10 0h1m7 0h1m4 0h1m5 0h2m7 0h1m2 0h2m1 0h1m8 0h1m6 0h1m1 0h2m3 0h1m5 0h1m5 0h1m11 0h1m7 0h1m5 0h2m8 0h2m6 0h1m2 0h1m2 0h1m3 0h1m7 0h1m3 0h3m19 0h2m2 0h1m1 0h2m4 0h2m4 0h2m1 0h1m2 0h2m4 0h1m5 0h1m13 0h1m3 0h1m4 0h1m2 0h3m4 0h2m3 0h1m6 0h1m1 0h1m8 0h1m20 0h2m9 0h3m2 0h1M0 40.5h1m33 0h1m2 0h1m18 0h1m4 0h1m4 0h1m4 0h1m7 0h1m2 0h1m4 0h1m9 0h1m5 0h1m10 0h1m25 0h1m4 0h1m8 0h1m12 0h1m6 0h1m1 0h1m12 0h1m10 0h2m5 0h1m13 0h1m3 0h1m4 0h1m11 0h1m8 0h2m12 0h1m2 0h1m3 0h1m1 0h3m10 0h2m2 0h1m1 0h2m2 0h1m1 0h1m6 0h1m2 0h1m1 0h2m1 0h1m5 0h1m7 0h1m7 0h2m2 0h1m13 0h1m2 0h1m16 0h1m1 0h1m4 0h1m18 0h1m3 0h1m5 0h1m9 0h1m8 0h3m3 0h1m13 0h1m6 0h1m2 0h1m2 0h1m2 0h1m6 0h1m7 0h1m1 0h3m4 0h1m1 0h1m2 0h1m3 0h1m7 0h2m3 0h1m9 0h1m4 0h1m13 0h1m9 0h2m2 0h1m2 0h1m15 0h1m1 0h1m19 0h1m3 0h1m4 0h1m8 0h2m1 0h1m3 0h1m1 0h1m13 0h1m5 0h2m2 0h1m5 0h1m4 0h2m18 0h1m8 0h2m3 0h1m2 0h1m19 0h1m1 0h2m1 0h1m2 0h1m1 0h1m5 0h2m11 0h1m1 0h1m3 0h2m3 0h2m2 0h1m16 0h2m10 0h1m5 0h1m18 0h1m136 0h1M0 41.5h1m2 0h2m8 0h1m4 0h1m16 0h1m4 0h1m4 0h1m1 0h1m7 0h1m1 0h3m7 0h1m16 0h1m4 0h1m1 0h2m9 0h2m1 0h1m5 0h1m6 0h2m2 0h2m6 0h1m1 0h1m2 0h1m8 0h1m13 0h1m16 0h1m20 0h2m6 0h1m5 0h1m1 0h1m8 0h2m1 0h2m1 0h1m11 0h1m2 0h1m4 0h1m3 0h2m1 0h1m11 0h1m3 0h1m1 0h2m1 0h1m13 0h1m1 0h1m8 0h1m14 0h1m4 0h3m4 0h2m1 0h2m6 0h1m2 0h1m1 0h1m11 0h1m6 0h2m5 0h1m6 0h2m3 0h1m4 0h1m2 0h2m1 0h1m2 0h2m3 0h1m2 0h1m2 0h1m9 0h1m1 0h1m1 0h1m33 0h1m7 0h1m26 0h1m1 0h2m5 0h1m12 0h1m8 0h3m6 0h1m3 0h1m2 0h2m2 0h2m2 0h2m1 0h1m1 0h1m8 0h2m3 0h1m1 0h1m4 0h1m8 0h1m4 0h2m1 0h1m1 0h1m5 0h1m11 0h3m4 0h1m9 0h2m1 0h1m14 0h1m9 0h1m2 0h1m1 0h1m4 0h1m11 0h1m4 0h1m1 0h1m2 0h1m8 0h1m2 0h1m1 0h1m2 0h1m5 0h1m120 0h1m9 0h2m2 0h1m2 0h1m5 0h1m1 0h1m2 0h4m4 0h2m4 0h3m8 0h1m2 0h1m9 0h2m3 0h3m6 0h2m1 0h1m6 0h1m1 0h1m1 0h2m1 0h1m3 0h1m3 0h2m1 0h1m2 0h1m2 0h1m7 0h1m7 0h2m6 0h1m11 0h1m1 0h1m6 0h1m4 0h1m3 0h1m2 0h1m4 0h1m1 0h1m16 0h1m3 0h2m2 0h1m10 0h1m2 0h2m3 0h1m7 0h1m1 0h1m1 0h1m1 0h1m4 0h1m1 0h1m5 0h1m6 0h1m1 0h3m5 0h1M3 42.5h1m5 0h1m14 0h1m2 0h1m2 0h2m4 0h1m6 0h1m2 0h2m10 0h2m5 0h1m3 0h1m2 0h1m3 0h1m5 0h1m1 0h2m4 0h1m6 0h2m4 0h1m1 0h1m6 0h1m4 0h1m1 0h4m5 0h1m1 0h1m1 0h1m2 0h1m19 0h2m3 0h1m10 0h1m1 0h1m1 0h1m2 0h1m3 0h1m4 0h2m6 0h1m2 0h1m5 0h1m11 0h1m8 0h1m9 0h1m5 0h2m5 0h1m1 0h2m1 0h1m1 0h1m1 0h1m1 0h1m1 0h1m2 0h4m2 0h1m1 0h1m1 0h1m19 0h1m1 0h1m7 0h1m4 0h1m4 0h2m5 0h2m2 0h1m4 0h1m1 0h1m14 0h1m6 0h1m2 0h1m1 0h1m1 0h1m2 0h1m48 0h1m22 0h1m1 0h1m27 0h1m1 0h1m1 0h1m1 0h1m12 0h1m15 0h1m26 0h1m7 0h1m3 0h1m11 0h3m3 0h1m1 0h1m2 0h1m4 0h1m1 0h1m4 0h3m1 0h1m4 0h1m2 0h1m3 0h2m1 0h1m1 0h1m6 0h1m18 0h1m6 0h1m1 0h1m1 0h2m1 0h1m3 0h1m2 0h1m2 0h1m1 0h1m4 0h1m7 0h1m5 0h1m3 0h1m2 0h1m6 0h1m4 0h1m1 0h2m1 0h1m14 0h1m1 0h1m9 0h1m57 0h1m1 0h1m4 0h1m15 0h1m2 0h1m60 0h1m170 0h1m4 0h1M5 43.5h1m1 0h1m1 0h1m1 0h1m1 0h1m2 0h1m9 0h1m5 0h1m5 0h1m2 0h1m4 0h1m11 0h1m8 0h1m5 0h1m8 0h2m2 0h1m5 0h2m4 0h1m12 0h1m3 0h1m2 0h1m34 0h1m4 0h1m44 0h1m16 0h1m10 0h1m11 0h1m8 0h1m3 0h2m24 0h1m5 0h1m2 0h1m14 0h1m9 0h1m5 0h1m6 0h1m4 0h1m2 0h1m10 0h2m48 0h1m11 0h1m9 0h1m32 0h1m2 0h1m3 0h2m6 0h2m3 0h1m23 0h1m1 0h2m10 0h1m6 0h1m7 0h1m10 0h1m37 0h1m30 0h1m12 0h1m5 0h1m5 0h1m2 0h1m26 0h1m28 0h1m22 0h1m8 0h1m7 0h1m2 0h1m4 0h1m2 0h1m18 0h1m4 0h2m4 0h1m1 0h3m2 0h1m16 0h1m1 0h1m1 0h1m3 0h1m5 0h1m1 0h1m8 0h1m1 0h1m4 0h1M1 44.5h1m10 0h1m34 0h2m9 0h1m81 0h1m4 0h1m4 0h1m10 0h1m58 0h1m17 0h1m7 0h1m14 0h1m14 0h1m18 0h1m22 0h2m7 0h1m27 0h1m44 0h2m3 0h1m2 0h2m1 0h2m3 0h2m15 0h3m5 0h1m1 0h1m6 0h1m8 0h1m8 0h1m17 0h1m6 0h1m2 0h1m2 0h1m1 0h1m9 0h1m34 0h1m5 0h2m2 0h4m9 0h1m3 0h2m1 0h1m3 0h1m5 0h2m1 0h1m4 0h1m6 0h1m6 0h1m4 0h1m5 0h2m1 0h1m6 0h1m1 0h1m3 0h1m17 0h1m13 0h1m3 0h1m2 0h1m3 0h1m6 0h1m16 0h1m15 0h1m75 0h1m20 0h1M1 45.5h1m4 0h3m2 0h2m6 0h1m7 0h1m8 0h2m8 0h1m3 0h1m16 0h1m5 0h1m2 0h2m1 0h1m1 0h1m6 0h1m9 0h1m2 0h1m9 0h1m9 0h1m1 0h1m1 0h1m7 0h2m1 0h1m5 0h1m7 0h1m11 0h1m5 0h1m2 0h1m4 0h1m3 0h2m7 0h3m3 0h1m1 0h1m11 0h1m2 0h2m24 0h2m4 0h1m6 0h1m1 0h1m23 0h1m3 0h1m2 0h1m2 0h1m3 0h1m12 0h1m14 0h1m1 0h1m19 0h1m2 0h2m35 0h1m11 0h1m2 0h1m6 0h1m4 0h1m3 0h1m3 0h1m9 0h2m11 0h1m15 0h1m1 0h1m6 0h1m3 0h1m3 0h1m3 0h2m6 0h1m3 0h2m3 0h1m13 0h1m14 0h1m10 0h1m1 0h1m1 0h1m3 0h1m2 0h3m1 0h1m5 0h3m6 0h1m2 0h1m6 0h1m6 0h1m12 0h1m3 0h1m3 0h2m6 0h1m11 0h1m2 0h2m1 0h1m19 0h1m12 0h2m3 0h1m2 0h1m2 0h2m13 0h1m2 0h2m6 0h1m3 0h1m3 0h1m12 0h1m7 0h1m3 0h2m23 0h1m22 0h1m24 0h1m3 0h1m5 0h1m1 0h1m2 0h1m15 0h2m1 0h1m8 0h1m11 0h1m3 0h1m5 0h1m3 0h2m7 0h1m1 0h1m18 0h1m6 0h1m2 0h1m2 0h2m6 0h1m2 0h1m9 0h1m3 0h1m8 0h1m7 0h1m3 0h1m4 0h1m7 0h2m3 0h1m6 0h2m5 0h1m2 0h1m2 0h3m5 0h1m2 0h1m2 0h2m1 0h1m8 0h2m4 0h1m8 0h1m11 0h1m3 0h2m6 0h1m1 0h1m6 0h1m2 0h1m5 0h1m2 0h1m5 0h1m2 0h2M3 46.5h1m2 0h1m1 0h1m2 0h1m4 0h3m1 0h1m6 0h2m3 0h1m4 0h3m1 0h1m5 0h3m1 0h1m5 0h1m3 0h1m5 0h1m2 0h1m2 0h1m1 0h1m2 0h2m2 0h1m19 0h2m10 0h1m1 0h2m2 0h1m4 0h1m6 0h1m3 0h1m6 0h2m3 0h1m4 0h1m1 0h1m4 0h1m1 0h1m4 0h1m11 0h1m7 0h3m4 0h1m5 0h1m3 0h1m15 0h1m15 0h1m1 0h1m43 0h2m5 0h1m3 0h1m1 0h1m9 0h2m7 0h1m20 0h1m6 0h1m5 0h1m26 0h1m2 0h1m3 0h1m7 0h2m5 0h1m2 0h1m5 0h2m25 0h1m7 0h2m5 0h1m6 0h1m3 0h2m5 0h1m2 0h1m4 0h1m2 0h1m6 0h1m1 0h1m5 0h1m3 0h2m20 0h1m9 0h1m3 0h1m5 0h1m2 0h1m15 0h1m1 0h1m5 0h1m1 0h1m5 0h1m1 0h1m1 0h2m5 0h1m4 0h1m8 0h2m5 0h1m7 0h1m2 0h2m3 0h2m3 0h1m3 0h1m3 0h1m3 0h1m3 0h1m2 0h1m8 0h1m5 0h1m7 0h2m1 0h1m18 0h1m5 0h1m4 0h1m5 0h1m5 0h2m3 0h2m5 0h1m6 0h2m1 0h3m3 0h2m3 0h1m6 0h1m64 0h1M4 47.5h1m1 0h1m2 0h1m2 0h1m28 0h2m3 0h1m4 0h2m22 0h1m18 0h1m5 0h3m5 0h2m6 0h1m7 0h1m2 0h2m1 0h2m2 0h1m2 0h3m1 0h1m7 0h2m4 0h1m7 0h1m2 0h1m3 0h1m1 0h1m5 0h4m8 0h1m10 0h1m6 0h2m3 0h1m8 0h2m12 0h1m1 0h4m1 0h1m5 0h1m2 0h1m4 0h1m1 0h1m4 0h1m3 0h1m6 0h1m13 0h1m1 0h1m4 0h2m7 0h1m11 0h2m1 0h1m5 0h1m2 0h1m1 0h1m1 0h3m2 0h1m1 0h3m1 0h1m2 0h1m6 0h1m3 0h1m5 0h2m10 0h2m4 0h1m12 0h1m1 0h1m4 0h1m3 0h1m24 0h2m1 0h1m1 0h1m16 0h1m1 0h2m2 0h1m1 0h1m2 0h1m3 0h1m3 0h1m5 0h1m2 0h1m1 0h1m11 0h1m8 0h2m10 0h1m6 0h1m5 0h1m8 0h1m3 0h1m2 0h1m9 0h1m14 0h1m4 0h1m4 0h1m3 0h1m2 0h1m2 0h2m1 0h1m1 0h2m10 0h1m4 0h1m1 0h1m7 0h1m3 0h1m1 0h1m5 0h1m3 0h2m2 0h1m1 0h1m1 0h1m5 0h1m1 0h1m1 0h1m9 0h1m4 0h2m13 0h2m7 0h2m2 0h1m5 0h1m4 0h3m5 0h2m11 0h1m2 0h1m6 0h2m2 0h3m1 0h1m66 0h1M10 48.5h2m1 0h1m3 0h1m18 0h2m3 0h1m1 0h1m1 0h1m9 0h1m5 0h1m4 0h1m4 0h1m1 0h1m2 0h3m2 0h1m6 0h1m3 0h1m4 0h1m15 0h1m1 0h2m4 0h1m1 0h1m5 0h1m1 0h1m5 0h1m1 0h1m8 0h1m23 0h1m1 0h2m4 0h2m8 0h4m3 0h1m20 0h1m11 0h1m9 0h1m3 0h1m7 0h1m2 0h1m1 0h1m6 0h1m12 0h1m12 0h3m4 0h1m5 0h1m5 0h2m3 0h1m3 0h1m16 0h1m1 0h1m1 0h1m4 0h3m3 0h1m1 0h1m3 0h3m4 0h1m4 0h1m9 0h1m3 0h1m3 0h1m5 0h1m4 0h1m6 0h1m4 0h1m11 0h1m7 0h1m3 0h2m1 0h2m16 0h2m15 0h1m2 0h1m3 0h2m9 0h5m2 0h1m1 0h1m13 0h1m3 0h2m1 0h2m26 0h1m4 0h3m7 0h2m5 0h2m3 0h1m2 0h1m2 0h1m3 0h1m1 0h3m1 0h1m2 0h1m4 0h1m2 0h1m1 0h1m3 0h2m2 0h2m8 0h1m8 0h2m1 0h1m3 0h1m2 0h1m1 0h2m2 0h1m1 0h1m4 0h2m1 0h1m2 0h2m8 0h1m4 0h1m9 0h1m2 0h1m3 0h2m13 0h1m1 0h1m1 0h1m3 0h2m7 0h1m1 0h1m5 0h1m9 0h1m1 0h2m2 0h1m7 0h1m4 0h3m48 0h1m4 0h1m177 0h1m16 0h1m22 0h1M12 49.5h1m15 0h1m10 0h1m5 0h2m1 0h1m1 0h1m35 0h1m18 0h1m11 0h1m9 0h1m5 0h1m6 0h1m4 0h1m14 0h1m1 0h1m3 0h1m40 0h1m6 0h1m10 0h1m4 0h1m5 0h2m1 0h1m4 0h1m3 0h1m2 0h1m4 0h1m3 0h2m6 0h1m6 0h1m6 0h1m4 0h1m5 0h1m9 0h1m8 0h1m2 0h4m1 0h2m11 0h1m6 0h1m2 0h1m6 0h1m2 0h1m2 0h1m13 0h1m5 0h1m9 0h1m14 0h1m8 0h1m2 0h1m1 0h1m28 0h1m7 0h1m3 0h1m1 0h2m2 0h1m14 0h1m3 0h1m1 0h1m3 0h1m12 0h1m4 0h1m3 0h1m1 0h1m6 0h2m4 0h1m1 0h1m3 0h2m4 0h1m3 0h1m5 0h1m28 0h1m11 0h1m3 0h1m14 0h1m5 0h1m5 0h1m2 0h1m4 0h1m4 0h1m1 0h2m6 0h1m11 0h1m23 0h1m1 0h1m5 0h1m1 0h1m13 0h1m8 0h1m10 0h1m6 0h1m4 0h2m6 0h1m16 0h1m7 0h1m2 0h1m7 0h1m23 0h1m3 0h1m2 0h1m2 0h1m5 0h2m14 0h1m1 0h2m3 0h2m2 0h3m5 0h1m4 0h4m3 0h2m5 0h1m4 0h1m5 0h2m2 0h2m3 0h1m2 0h1m1 0h5m1 0h1m1 0h1m7 0h1m5 0h2m5 0h1m1 0h1m6 0h1m1 0h2m1 0h1m1 0h2m11 0h1m8 0h1m4 0h1m4 0h3m4 0h1m20 0h2m3 0h1m6 0h1m1 0h2m2 0h1m3 0h1m8 0h1m1 0h2m6 0h1m1 0h1m6 0h1m6 0h1m4 0h2m9 0h2m1 0h3m3 0h2m2 0h1M6 50.5h1m22 0h1m5 0h1m2 0h1m1 0h1m1 0h1m8 0h1m13 0h1m5 0h1m8 0h1m51 0h2m42 0h1m15 0h1m9 0h1m4 0h1m23 0h1m27 0h1m6 0h2m30 0h2m6 0h1m2 0h1m15 0h1m19 0h1m12 0h1m2 0h1m26 0h3m11 0h1m9 0h1m1 0h1m2 0h2m2 0h1m12 0h1m17 0h1m16 0h1m6 0h1m5 0h1m1 0h1m3 0h1m11 0h1m7 0h1m1 0h2m4 0h2m1 0h1m1 0h1m22 0h1m13 0h1m2 0h1m7 0h1m22 0h1m1 0h1m19 0h1m4 0h1m6 0h1m8 0h2m2 0h1m1 0h1m14 0h1m6 0h1m1 0h1m1 0h1m1 0h3m4 0h1m3 0h2m1 0h1m3 0h1m1 0h1m1 0h1m3 0h1m1 0h2m3 0h3m2 0h5m5 0h1m6 0h1m1 0h2m3 0h1m3 0h1m5 0h1m2 0h1m4 0h1m40 0h1m8 0h1m3 0h1m6 0h1m4 0h1m8 0h1m92 0h1M12 51.5h1m11 0h2m4 0h1m13 0h1m6 0h1m13 0h1m8 0h1m18 0h1m5 0h1m13 0h1m3 0h1m4 0h1m16 0h1m13 0h1m2 0h1m6 0h1m4 0h1m20 0h1m27 0h1m2 0h1m23 0h1m13 0h1m13 0h1m11 0h1m2 0h1m2 0h1m14 0h1m12 0h1m4 0h1m12 0h1m5 0h1m1 0h1m11 0h1m6 0h1m32 0h1m32 0h1m8 0h1m3 0h2m4 0h1m3 0h1m9 0h1m5 0h1m9 0h1m1 0h1m27 0h1m8 0h3m11 0h1m9 0h2m5 0h2m2 0h1m8 0h1m8 0h1m4 0h1m42 0h1m3 0h1m4 0h1m2 0h1m3 0h1m5 0h1m1 0h1m17 0h1m10 0h1m18 0h1m4 0h1m1 0h1m8 0h2m26 0h1m1 0h2m5 0h1m3 0h2m5 0h1m44 0h1m10 0h2m4 0h1M0 52.5h1m4 0h2m6 0h1m5 0h1m4 0h1m1 0h2m7 0h2m1 0h2m2 0h2m2 0h3m2 0h1m12 0h1m1 0h2m4 0h1m9 0h1m1 0h1m2 0h1m9 0h1m2 0h2m16 0h1m1 0h1m1 0h1m1 0h1m2 0h2m2 0h1m4 0h1m5 0h1m2 0h1m4 0h2m16 0h1m4 0h1m5 0h1m20 0h1m1 0h1m2 0h1m6 0h1m4 0h2m3 0h1m1 0h1m2 0h2m10 0h2m7 0h2m1 0h1m1 0h1m2 0h1m22 0h1m1 0h1m3 0h1m3 0h1m1 0h1m2 0h1m2 0h1m1 0h1m8 0h1m7 0h1m5 0h2m1 0h1m3 0h1m1 0h1m2 0h1m2 0h1m6 0h1m5 0h1m1 0h1m9 0h2m2 0h1m7 0h1m14 0h1m1 0h1m7 0h2m1 0h1m16 0h3m3 0h1m1 0h1m4 0h1m4 0h1m26 0h2m5 0h1m2 0h1m2 0h1m1 0h1m3 0h1m3 0h1m7 0h1m11 0h1m3 0h1m4 0h1m2 0h1m5 0h2m7 0h1m12 0h1m2 0h1m6 0h1m18 0h1m1 0h1m6 0h1m21 0h1m6 0h2m5 0h1m1 0h1m3 0h1m16 0h1m9 0h1m18 0h1m8 0h1m9 0h1m3 0h1m1 0h1m8 0h1m2 0h1m1 0h1m2 0h1m10 0h1m14 0h1m3 0h1m4 0h1m4 0h1m8 0h1m2 0h1m8 0h1m1 0h1m1 0h1m5 0h1m6 0h1m1 0h1m17 0h1m2 0h1m2 0h1M6 53.5h2m10 0h1m16 0h1m12 0h1m1 0h1m6 0h1m10 0h1m2 0h1m7 0h1m5 0h1m1 0h1m16 0h1m5 0h1m12 0h1m2 0h1m25 0h1m3 0h2m5 0h1m7 0h1m2 0h2m5 0h1m14 0h1m2 0h1m3 0h1m1 0h2m37 0h1m8 0h1m4 0h2m9 0h1m3 0h1m8 0h1m4 0h2m1 0h1m2 0h1m11 0h1m4 0h1m34 0h1m13 0h1m16 0h1m12 0h1m5 0h1m2 0h1m3 0h1m3 0h1m6 0h1m2 0h1m12 0h1m1 0h2m6 0h1m4 0h1m18 0h1m10 0h1m3 0h2m1 0h1m7 0h2m3 0h1m71 0h1m2 0h1m4 0h3m10 0h1m1 0h1m14 0h2m1 0h1m1 0h1m17 0h1m9 0h1m1 0h1m6 0h1m7 0h1m25 0h1m4 0h1m4 0h1m5 0h1m2 0h1m2 0h2m3 0h1m2 0h1m1 0h2m3 0h1m4 0h1m2 0h1m19 0h1m2 0h1m9 0h1m70 0h3m1 0h1m5 0h1m1 0h1m9 0h1m17 0h4m1 0h1m2 0h2m5 0h2m3 0h2m2 0h1m1 0h1m3 0h2m13 0h1m8 0h2m6 0h1m2 0h3m13 0h1m18 0h1m4 0h1m6 0h1m6 0h2m2 0h1m2 0h2m7 0h1m4 0h1m2 0h1m8 0h1m2 0h1m6 0h1m3 0h1m4 0h1m2 0h1m1 0h1m1 0h1m2 0h1m5 0h1m4 0h2m7 0h1m11 0h1"/>
<path stroke="#9fff60" d="M38 0.5h1m1 0h1m4 0h1m5 0h2m4 0h1m4 0h1m2 0h1m25 0h2m30 0h1m38 0h1m15 0h1m84 0h1m3 0h2m1 0h1m47 0h1m8 0h1m35 0h1m17 0h1m8 0h1m16 0h1m10 0h1m50 0h1m14 0h1m5 0h1m7 0h1m18 0h1m10 0h1m16 0h1m29 0h1m4 0h1m28 0h1m7 0h1m8 0h1m6 0h1m6 0h1m77 0h1m33 0h3m21 0h1m5 0h1m5 0h1m9 0h1m255 0h1m32 0h1M7 1.5h1m30 0h1m109 0h1m9 0h1m4 0h1m6 0h4m3 0h1m8 0h1m2 0h2m2 0h1m3 0h1m1 0h2m9 0h2m10 0h1m2 0h1m13 0h2m1 0h2m2 0h1m8 0h1m8 0h2m3 0h2m1 0h1m5 0h2m5 0h1m2 0h1m2 0h1m2 0h1m3 0h1m10 0h1m8 0h1m12 0h1m4 0h1m4 0h1m16 0h1m5 0h1m49 0h1m1 0h1m37 0h1m3 0h2m3 0h1m2 0h1m2 0h2m6 0h1m4 0h1m1 0h2m2 0h1m1 0h1m5 0h2m2 0h1m1 0h1m1 0h1m1 0h1m2 0h1m6 0h1m43 0h1m2 0h1m1 0h1m2 0h1m1 0h1m2 0h1m1 0h1m9 0h1m13 0h1m3 0h1m5 0h1m3 0h1m15 0h1m7 0h1m1 0h1m6 0h1m133 0h1m61 0h1m8 0h3m4 0h1m1 0h3m3 0h1m2 0h1m3 0h1m1 0h1m6 0h1m2 0h1m7 0h2m1 0h3m1 0h1m15 0h2m6 0h1m1 0h3m5 0h1m2 0h1m1 0h1m4 0h2m3 0h2m1 0h1m17 0h2m1 0h4m1 0h1m2 0h1m2 0h3m3 0h1m2 0h1m1 0h2m2 0h1m6 0h1m8 0h4m3 0h1m1 0h2m3 0h1m12 0h1m10 0h2m2 0h1m1 0h2m1 0h1m1 0h1m5 0h1m2 0h3m5 0h1m1 0h2m3 0h1m3 0h1m2 0h1M28 2.5h1m4 0h1m4 0h1m5 0h1m1 0h1m31 0h1m11 0h1m11 0h2m1 0h1m17 0h2m2 0h1m1 0h1m1 0h1m1 0h1m2 0h1m1 0h1m8 0h1m10 0h1m1 0h1m1 0h2m56 0h1m133 0h1m4 0h1m2 0h3m2 0h1m176 0h1m11 0h1m55 0h1m9 0h1m25 0h1m10 0h1m3 0h3m3 0h3m2 0h1m7 0h1m3 0h1m2 0h1m3 0h1m4 0h1m17 0h1m34 0h2m50 0h1m3 0h1m3 0h1m4 0h2m1 0h1m15 0h1m1 0h1m1 0h2m5 0h1m24 0h4m2 0h2m3 0h2m1 0h1m1 0h1m2 0h1m1 0h1m1 0h1m1 0h1m5 0h1m3 0h2m16 0h2m15 0h2m1 0h2m2 0h1m12 0h1m1 0h2m2 0h2m20 0h1m6 0h1m7 0h2m3 0h3m6 0h1m3 0h1m4 0h1m3 0h5m4 0h2m3 0h2m1 0h1m3 0h1m4 0h1m1 0h1m3 0h3m4 0h1m1 0h2m17 0h1M0 3.5h1m10 0h1m12 0h1m9 0h1m10 0h1m8 0h1m6 0h1m6 0h1m30 0h1m15 0h1m3 0h1m1 0h1m7 0h3m30 0h1m295 0h1m50 0h1m16 0h1m29 0h1m8 0h1m21 0h1m13 0h2m2 0h1m20 0h2m1 0h2m11 0h1m1 0h2m6 0h1m5 0h1m17 0h1m2 0h1m4 0h3m5 0h1m1 0h2m6 0h1m1 0h1m4 0h1m30 0h1m35 0h1m39 0h1m12 0h1m21 0h1m59 0h1m4 0h1m26 0h1m115 0h1m7 0h1m9 0h1M11 4.5h1m2 0h1m31 0h1m50 0h1m14 0h1m23 0h1m1 0h1m1 0h2m2 0h1m3 0h1m1 0h1m3 0h1m23 0h1m94 0h1m90 0h1m86 0h1m114 0h1m60 0h1m5 0h1m9 0h1m12 0h1m17 0h1m3 0h1m4 0h1m6 0h1m17 0h1m10 0h1m3 0h1m5 0h1m6 0h2m6 0h1m8 0h1m9 0h1m24 0h2m9 0h1m4 0h2m3 0h1m1 0h1m3 0h2m5 0h1M4 5.5h1m94 0h1m1 0h1m1 0h1m1 0h1m3 0h1m4 0h2m3 0h1m1 0h1m4 0h1m1 0h1m4 0h1m2 0h1m11 0h1m6 0h1m5 0h1m60 0h1m82 0h1m54 0h1m21 0h2m13 0h1m9 0h1m2 0h1m1 0h1m2 0h1m4 0h2m2 0h1m6 0h2m2 0h1m1 0h1m2 0h1m3 0h1m10 0h2m10 0h1m10 0h1m8 0h1m1 0h1m5 0h1m7 0h1m4 0h1m9 0h1m5 0h3m5 0h2m2 0h1m1 0h4m5 0h1m8 0h1m2 0h1m2 0h1m3 0h4m1 0h1m14 0h1m4 0h1m6 0h1m13 0h2m7 0h1m2 0h1m6 0h1m15 0h1m20 0h1m2 0h2m2 0h1m3 0h1m2 0h1m11 0h2m2 0h1m11 0h1m18 0h1m28 0h2m1 0h1m29 0h2m4 0h1m3 0h1m13 0h1M12 6.5h1m3 0h2m3 0h1m5 0h1m6 0h1m2 0h1m2 0h1m1 0h2m10 0h1m1 0h1m6 0h3m5 0h2m4 0h1m2 0h1m1 0h2m1 0h1m6 0h1m5 0h1m3 0h2m5 0h2m3 0h2m2 0h1m2 0h1m4 0h1m2 0h1m4 0h1m12 0h2m1 0h1m5 0h1m11 0h1m1 0h1m1 0h1m1 0h1m3 0h2m1 0h2m5 0h1m5 0h1m6 0h2m5 0h1m22 0h1m3 0h1m5 0h2m15 0h1m7 0h1m14 0h1m6 0h1m16 0h1m1 0h2m3 0h2m1 0h2m3 0h2m1 0h1m4 0h1m3 0h1m10 0h1m1 0h1m2 0h2m3 0h4m3 0h1m4 0h1m10 0h2m8 0h1m6 0h3m8 0h1m5 0h2m16 0h1m4 0h1m3 0h1m1 0h1m32 0h1m11 0h2m3 0h1m3 0h1m8 0h1m2 0h1m3 0h1m1 0h1m4 0h1m12 0h1m12 0h1m3 0h1m9 0h1m1 0h1m2 0h1m6 0h1m8 0h1m6 0h1m7 0h1m1 0h1m1 0h2m16 0h1m7 0h1m4 0h1m8 0h2m3 0h1m27 0h1m6 0h3m6 0h1m1 0h1m2 0h2m5 0h1m11 0h1m10 0h1m5 0h1m1 0h1m3 0h1m2 0h1m4 0h1m1 0h1m3 0h4m3 0h1m42 0h1m2 0h1m4 0h2m6 0h1M6 7.5h1m7 0h1m1 0h2m15 0h2m9 0h1m4 0h1m1 0h1m3 0h1m1 0h1m4 0h1m2 0h1m2 0h1m2 0h1m25 0h1m3 0h1m1 0h1m11 0h2m4 0h2m2 0h1m2 0h2m5 0h1m2 0h1m4 0h1m11 0h1m10 0h1m6 0h1m12 0h1m3 0h3m8 0h2m1 0h1m3 0h1m1 0h1m3 0h1m2 0h1m2 0h1m1 0h1m1 0h1m1 0h3m8 0h3m3 0h1m1 0h1m1 0h1m7 0h1m6 0h1m1 0h1m7 0h1m8 0h1m5 0h1m2 0h1m1 0h2m6 0h1m9 0h3m1 0h3m1 0h1m2 0h3m3 0h1m2 0h1m1 0h1m1 0h1m8 0h1m3 0h2m1 0h2m3 0h1m2 0h1m4 0h1m1 0h1m2 0h2m17 0h2m1 0h1m12 0h1m5 0h2m1 0h1m6 0h1m5 0h1m1 0h1m6 0h1m2 0h1m10 0h1m4 0h1m5 0h2m7 0h2m1 0h2m1 0h1m2 0h1m4 0h1m7 0h1m8 0h1m1 0h2m19 0h2m1 0h1m3 0h1m2 0h1m5 0h1m8 0h1m3 0h1m10 0h1m2 0h1m4 0h2m1 0h1m5 0h2m4 0h1m12 0h2m1 0h2m5 0h3m12 0h1m2 0h4m6 0h2m5 0h1m10 0h1m2 0h1m16 0h2m2 0h1m3 0h1m2 0h2m24 0h1m4 0h1m1 0h1m4 0h2m5 0h1m58 0h1m6 0h1m2 0h1m4 0h1m3 0h1m3 0h1m4 0h1m4 0h1m1 0h1m15 0h1M53 8.5h1m86 0h2m11 0h1m3 0h1m11 0h1m3 0h2m1 0h1m17 0h1m13 0h1m2 0h1m25 0h1m8 0h1m3 0h1m9 0h1m1 0h1m2 0h1m10 0h1m1 0h1m3 0h1m9 0h1m10 0h1m7 0h3m69 0h1m2 0h1m45 0h1m26 0h1m2 0h1m7 0h3m1 0h1m9 0h1m3 0h1m3 0h1m12 0h1m20 0h2m2 0h1m7 0h2m2 0h1m7 0h1m3 0h4m1 0h1m7 0h1m18 0h1m8 0h1m49 0h1m97 0h1m96 0h1m4 0h2m29 0h1m3 0h1m1 0h1m6 0h1m6 0h1m6 0h1m2 0h1m3 0h2m9 0h1m1 0h1m2 0h1m6 0h1m23 0h1m26 0h1m26 0h1m3 0h2m9 0h1m15 0h1m33 0h1m2 0h1m14 0h1M2 9.5h1m30 0h3m6 0h2m11 0h1m1 0h1m3 0h1m12 0h1m7 0h1m4 0h1m10 0h1m13 0h2m20 0h2m3 0h1m4 0h1m3 0h4m4 0h2m1 0h1m2 0h1m5 0h1m26 0h1m20 0h3m12 0h1m4 0h1m20 0h1m2 0h1m7 0h1m3 0h1m2 0h1m9 0h1m2 0h1m1 0h1m3 0h1m1 0h1m1 0h1m1 0h1m4 0h1m2 0h1m1 0h1m5 0h1m37 0h1m15 0h1m6 0h1m1 0h1m2 0h1m1 0h2m8 0h1m4 0h4m7 0h1m4 0h2m1 0h1m11 0h3m4 0h1m3 0h1m6 0h1m5 0h1m1 0h1m1 0h1m3 0h1m5 0h2m1 0h2m3 0h1m9 0h1m12 0h2m3 0h1m5 0h3m4 0h3m11 0h1m3 0h1m1 0h1m1 0h1m3 0h1m1 0h1m1 0h1m20 0h1m4 0h1m1 0h3m7 0h2m1 0h1m2 0h1m8 0h2m14 0h1m2 0h1m1 0h3m2 0h1m6 0h1m3 0h1m2 0h1m2 0h3m1 0h2m3 0h1m1 0h1m4 0h1m1 0h1m3 0h2m22 0h4m2 0h3m3 0h1m14 0h1m5 0h1m2 0h3m5 0h1m4 0h2m2 0h1m4 0h2m3 0h2m73 0h1m12 0h1m15 0h1m199 0h1m14 0h1m10 0h1M0 10.5h2m3 0h2m2 0h1m11 0h1m3 0h1m2 0h3m3 0h1m1 0h1m10 0h2m1 0h1m1 0h1m5 0h1m1 0h1m2 0h1m12 0h2m1 0h2m3 0h1m1 0h1m2 0h1m1 0h1m1 0h1m6 0h2m6 0h1m8 0h1m4 0h2m12 0h2m19 0h1m14 0h1m6 0h2m1 0h1m5 0h1m5 0h1m2 0h2m6 0h1m2 0h1m2 0h1m2 0h1m6 0h2m1 0h1m4 0h1m15 0h1m2 0h1m4 0h1m5 0h1m2 0h1m3 0h1m9 0h1m1 0h1m1 0h2m27 0h2m11 0h1m8 0h1m1 0h1m12 0h1m4 0h1m3 0h1m12 0h2m8 0h1m13 0h2m15 0h2m2 0h1m1 0h3m7 0h1m1 0h1m1 0h1m8 0h1m3 0h1m5 0h1m2 0h1m2 0h1m3 0h2m2 0h2m2 0h1m7 0h1m2 0h1m4 0h1m2 0h1m12 0h1m19 0h1m9 0h2m5 0h1m1 0h2m4 0h1m1 0h1m4 0h1m9 0h1m5 0h1m2 0h3m1 0h1m10 0h1m42 0h1m8 0h1m1 0h1m2 0h2m5 0h1m22 0h5m15 0h1m1 0h1m3 0h1m19 0h1m3 0h2m3 0h1m8 0h1m26 0h1m2 0h1m3 0h3m12 0h1m9 0h1m11 0h2m5 0h5m3 0h1m2 0h1m128 0h1m41 0h1M3 11.5h3m12 0h1m5 0h1m13 0h1m2 0h1m1 0h1m2 0h1m1 0h3m4 0h1m8 0h1m1 0h1m1 0h1m5 0h1m1 0h1m1 0h1m1 0h1m5 0h1m3 0h1m1 0h1m4 0h3m3 0h1m7 0h1m3 0h2m11 0h1m2 0h1m2 0h1m5 0h1m1 0h1m5 0h1m40 0h1m118 0h1m18 0h2m28 0h1m11 0h1m6 0h1m9 0h3m1 0h1m8 0h1m5 0h1m1 0h2m1 0h2m3 0h1m2 0h1m1 0h3m4 0h1m1 0h1m1 0h1m1 0h1m2 0h1m14 0h1m3 0h1m3 0h1m8 0h1m18 0h2m14 0h1m1 0h2m3 0h1m1 0h1m13 0h1m11 0h1m3 0h1m2 0h2m57 0h2m2 0h1m2 0h1m5 0h1m5 0h1m42 0h1m13 0h1m23 0h1m22 0h1m9 0h1m20 0h1m10 0h1m4 0h1m16 0h1m5 0h2m13 0h3m3 0h1m1 0h1m4 0h2m7 0h3m2 0h1m6 0h1m5 0h2m15 0h1m2 0h1m25 0h2m5 0h2m4 0h1m3 0h1m4 0h1m3 0h2m5 0h1m2 0h1m3 0h1m4 0h1m3 0h1m8 0h1m4 0h1m3 0h1m8 0h1m5 0h1m17 0h1m1 0h1m12 0h1m2 0h1m3 0h2m7 0h1m1 0h2m1 0h2m3 0h1m3 0h1m6 0h1m1 0h2m3 0h1m3 0h1m5 0h1m6 0h1m1 0h1m2 0h1m4 0h1m3 0h1M11 12.5h3m2 0h2m2 0h1m5 0h3m3 0h1m3 0h2m3 0h1m3 0h1m1 0h1m10 0h1m7 0h1m12 0h1m3 0h1m3 0h3m9 0h2m16 0h1m3 0h5m2 0h1m1 0h1m8 0h1m3 0h2m11 0h1m18 0h1m3 0h1m10 0h1m11 0h1m24 0h1m8 0h1m1 0h1m9 0h1m2 0h1m6 0h1m3 0h2m6 0h1m1 0h1m7 0h1m8 0h1m6 0h1m1 0h1m25 0h1m7 0h1m4 0h1m3 0h1m9 0h1m2 0h1m2 0h1m1 0h1m20 0h3m9 0h1m2 0h1m1 0h1m3 0h1m4 0h1m2 0h1m2 0h1m2 0h1m10 0h1m9 0h1m6 0h1m10 0h1m9 0h2m3 0h1m3 0h1m14 0h1m16 0h1m19 0h1m3 0h1m3 0h1m4 0h1m4 0h1m14 0h1m16 0h1m1 0h1m2 0h1m8 0h1m1 0h1m1 0h1m1 0h1m6 0h2m2 0h1m1 0h1m6 0h1m3 0h1m3 0h1m2 0h1m12 0h1m43 0h1m1 0h1m13 0h1m5 0h1m16 0h1m21 0h2m12 0h1m3 0h2m5 0h1m9 0h1m13 0h1m1 0h1m44 0h3m7 0h1m7 0h1m10 0h1m2 0h1m3 0h1m2 0h2m6 0h1m5 0h1m3 0h1m10 0h1m6 0h1m6 0h1m1 0h2m18 0h1m2 0h1m11 0h1m15 0h2m8 0h1m5 0h1m5 0h1m6 0h1m1 0h2m4 0h1m3 0h2m1 0h1m8 0h2m1 0h1m1 0h1m6 0h1m7 0h1m4 0h1m4 0h1m8 0h1m11 0h1m8 0h1M2 13.5h1m2 0h1m3 0h1m6 0h1m10 0h1m16 0h1m1 0h1m2 0h1m24 0h1m4 0h2m1 0h2m1 0h2m6 0h2m46 0h1m1 0h1m1 0h1m1 0h1m4 0h1m2 0h2m2 0h2m5 0h2m12 0h1m2 0h1m3 0h1m2 0h1m1 0h1m1 0h1m8 0h1m6 0h1m6 0h1m18 0h2m9 0h2m2 0h1m7 0h1m11 0h1m8 0h1m1 0h1m1 0h1m8 0h2m2 0h1m1 0h1m3 0h1m5 0h2m12 0h1m4 0h2m1 0h1m4 0h1m2 0h1m6 0h1m1 0h1m1 0h1m11 0h1m4 0h2m1 0h1m4 0h2m2 0h2m4 0h1m4 0h1m10 0h1m4 0h1m5 0h1m7 0h1m4 0h1m6 0h1m5 0h1m16 0h1m6 0h1m5 0h3m2 0h1m5 0h1m4 0h1m6 0h1m8 0h2m9 0h2m12 0h1m7 0h1m2 0h1m25 0h1m3 0h2m1 0h2m4 0h1m11 0h2m24 0h1m3 0h2m1 0h1m7 0h1m7 0h1m2 0h1m4 0h1m8 0h1m3 0h2m6 0h1m2 0h1m24 0h1m4 0h1m2 0h1m2 0h1m8 0h2m5 0h3m1 0h1m1 0h3m1 0h3m3 0h1m7 0h1m1 0h1m6 0h1m8 0h1m4 0h1m3 0h1m1 0h1m20 0h1m1 0h1m12 0h1m10 0h1m1 0h1m2 0h1m2 0h1m6 0h1m19 0h1m8 0h2m8 0h1m3 0h1m6 0h1m22 0h1m1 0h1m11 0h1m4 0h2m10 0h1m20 0h1m3 0h1m5 0h1m10 0h1m2 0h1m5 0h1m1 0h1m3 0h1m17 0h1m14 0h2m1 0h1m9 0h1m2 0h1m4 0h1m1 0h1m2 0h1m2 0h1m4 0h1m1 0h1m6 0h2m1 0h1m4 0h1m4 0h1m8 0h1M0 14.5h1m2 0h2m1 0h1m1 0h1m2 0h1m5 0h1m9 0h1m2 0h2m1 0h1m2 0h1m2 0h1m1 0h1m9 0h1m6 0h1m4 0h3m5 0h1m8 0h1m7 0h1m10 0h2m1 0h4m4 0h1m13 0h1m3 0h1m8 0h1m2 0h1m3 0h1m5 0h1m3 0h1m8 0h1m9 0h1m5 0h2m5 0h1m11 0h1m3 0h2m2 0h4m3 0h1m2 0h2m8 0h1m4 0h1m5 0h1m5 0h2m1 0h1m3 0h1m1 0h1m4 0h2m1 0h2m6 0h1m2 0h1m2 0h2m10 0h1m1 0h1m2 0h2m2 0h1m9 0h1m1 0h1m2 0h2m5 0h1m4 0h1m5 0h1m3 0h1m5 0h1m1 0h1m4 0h1m5 0h1m2 0h1m5 0h1m2 0h1m5 0h1m4 0h1m8 0h1m1 0h2m1 0h1m3 0h1m4 0h1m5 0h1m1 0h3m2 0h1m1 0h1m4 0h2m2 0h1m2 0h3m5 0h1m3 0h1m6 0h1m5 0h2m3 0h1m2 0h1m1 0h1m1 0h1m3 0h1m6 0h3m1 0h1m1 0h1m4 0h1m2 0h1m12 0h1m9 0h1m10 0h3m2 0h1m2 0h1m7 0h1m1 0h1m3 0h1m3 0h3m8 0h3m1 0h1m5 0h2m10 0h1m4 0h1m4 0h1m2 0h1m3 0h1m13 0h1m2 0h1m2 0h1m3 0h3m7 0h1m6 0h1m3 0h4m9 0h2m12 0h2m6 0h1m9 0h1m5 0h2m3 0h1m11 0h1m12 0h1m2 0h1m4 0h1m28 0h1m9 0h1m3 0h1m6 0h1m2 0h1m4 0h1m14 0h2m2 0h1m3 0h1m9 0h1m180 0h1M0 15.5h1m2 0h1m2 0h1m4 0h1m16 0h1m15 0h1m4 0h1m1 0h1m17 0h1m6 0h1m1 0h1m2 0h1m1 0h2m6 0h2m7 0h1m9 0h2m2 0h1m9 0h1m1 0h1m3 0h2m2 0h1m8 0h1m10 0h1m2 0h1m2 0h2m11 0h1m2 0h1m10 0h1m1 0h1m10 0h1m3 0h1m2 0h1m9 0h1m6 0h2m12 0h2m14 0h1m7 0h1m1 0h1m18 0h2m2 0h1m4 0h1m10 0h2m11 0h1m1 0h1m8 0h1m1 0h1m7 0h1m20 0h1m2 0h1m2 0h2m22 0h1m7 0h2m1 0h1m3 0h1m5 0h1m5 0h1m10 0h2m6 0h1m13 0h1m8 0h1m1 0h1m11 0h1m3 0h1m1 0h2m1 0h1m1 0h1m1 0h1m2 0h1m8 0h1m3 0h1m21 0h1m3 0h1m6 0h1m2 0h2m8 0h1m13 0h1m1 0h1m5 0h1m15 0h1m9 0h2m18 0h1m8 0h2m12 0h1m1 0h2m1 0h1m2 0h1m2 0h1m13 0h1m2 0h1m4 0h1m3 0h2m1 0h1m3 0h1m1 0h1m4 0h1m2 0h3m2 0h1m1 0h1m3 0h1m9 0h1m6 0h1m6 0h1m2 0h1m1 0h1m3 0h1m15 0h2m1 0h1m4 0h1m8 0h1m3 0h1m4 0h1m3 0h1m38 0h1m12 0h1m1 0h1m1 0h1m4 0h1m2 0h1m11 0h1m36 0h1m5 0h1m93 0h1m71 0h1m4 0h1m19 0h1M149 16.5h2m10 0h1m4 0h1m1 0h2m8 0h1m12 0h1m5 0h1m1 0h2m7 0h1m3 0h1m4 0h1m6 0h1m11 0h1m3 0h2m7 0h1m26 0h1m2 0h1m5 0h1m13 0h1m3 0h3m3 0h1m5 0h1m4 0h2m9 0h1m3 0h2m1 0h1m7 0h1m3 0h1m3 0h1m1 0h1m1 0h1m1 0h1m2 0h1m16 0h1m8 0h1m32 0h1m16 0h1m49 0h1m18 0h1m34 0h1m41 0h1m9 0h2m1 0h1m2 0h1m4 0h1m15 0h1m12 0h1m5 0h2m2 0h2m115 0h1m1 0h1m6 0h1m2 0h1m5 0h1m2 0h2m2 0h2m39 0h1M82 17.5h1m33 0h1m24 0h1m24 0h1m2 0h1m1 0h1m16 0h1m7 0h1m4 0h1m2 0h2m1 0h1m1 0h1m12 0h2m4 0h4m5 0h2m3 0h1m2 0h1m1 0h2m1 0h1m6 0h2m1 0h1m3 0h1m1 0h1m3 0h1m1 0h2m5 0h2m15 0h1m7 0h2m2 0h1m23 0h1m3 0h2m7 0h2m1 0h1m14 0h1m2 0h1m2 0h1m30 0h1m1 0h1m15 0h1m4 0h1m2 0h2m2 0h1m9 0h1m17 0h1m4 0h2m13 0h1m16 0h1m12 0h1m31 0h3m8 0h1m4 0h2m11 0h1m2 0h1m15 0h1m12 0h1m7 0h1m7 0h1m1 0h1m14 0h2m6 0h1m42 0h1m39 0h1m4 0h2m1 0h2m19 0h1M85 18.5h1m15 0h2m7 0h1m1 0h1m4 0h1m4 0h1m6 0h1m8 0h2m2 0h1m13 0h1m49 0h2m3 0h1m1 0h1m1 0h1m12 0h1m7 0h1m4 0h1m5 0h1m14 0h1m15 0h1m4 0h1m1 0h1m3 0h1m8 0h2m5 0h1m2 0h1m25 0h1m8 0h1m6 0h1m9 0h1m28 0h1m6 0h2m14 0h1m2 0h3m3 0h1m8 0h1m5 0h2m16 0h1m1 0h2m6 0h1m5 0h1m1 0h1m5 0h2m18 0h1m3 0h1m7 0h1m1 0h1m3 0h1m6 0h1m6 0h1m8 0h1m4 0h1m4 0h1m7 0h1m9 0h1m28 0h1m4 0h3m5 0h1m9 0h1m1 0h1m11 0h1m4 0h1m37 0h3m57 0h1m34 0h1m10 0h1m6 0h1m166 0h1M18 19.5h2m13 0h1m1 0h1m10 0h1m1 0h1m1 0h1m7 0h1m3 0h1m13 0h1m1 0h1m7 0h1m2 0h3m7 0h2m1 0h1m9 0h2m16 0h2m4 0h1m4 0h2m11 0h1m7 0h2m59 0h1m2 0h1m8 0h1m2 0h2m2 0h1m1 0h2m9 0h2m4 0h1m1 0h1m6 0h1m34 0h1m2 0h1m10 0h1m19 0h1m3 0h1m1 0h1m2 0h1m5 0h1m5 0h1m2 0h1m3 0h1m10 0h1m1 0h1m2 0h2m4 0h1m17 0h2m8 0h1m3 0h1m17 0h2m7 0h3m1 0h1m2 0h4m1 0h1m2 0h1m2 0h1m21 0h1m1 0h2m8 0h1m1 0h1m6 0h1m1 0h1m7 0h1m3 0h2m4 0h1m1 0h1m14 0h1m29 0h1m9 0h1m3 0h3m9 0h2m2 0h1m14 0h2m8 0h1m16 0h1m6 0h1m3 0h1m5 0h1m1 0h1m4 0h2m38 0h1m6 0h1m2 0h1m26 0h1m5 0h1m89 0h1m4 0h1m2 0h2m6 0h1m18 0h1m15 0h1m2 0h1m4 0h2m1 0h1m2 0h1m12 0h1m7 0h1m6 0h1m3 0h1m2 0h1m9 0h1m12 0h1m11 0h1m12 0h2m10 0h1m2 0h1m2 0h1m2 0h2m2 0h1m7 0h1m25 0h1m7 0h1m10 0h1m1 0h1m3 0h2m2 0h1M7 20.5h1m4 0h1m5 0h2m6 0h2m1 0h1m1 0h1m1 0h3m7 0h1m6 0h1m2 0h1m9 0h1m4 0h1m2 0h2m9 0h3m7 0h3m4 0h1m10 0h2m25 0h1m1 0h1m4 0h2m3 0h2m6 0h1m5 0h1m2 0h1m2 0h1m10 0h1m4 0h1m6 0h1m1 0h1m9 0h1m35 0h1m2 0h1m5 0h1m8 0h1m3 0h2m4 0h1m4 0h1m26 0h1m2 0h1m4 0h1m2 0h1m3 0h1m3 0h1m4 0h2m3 0h1m12 0h1m4 0h1m2 0h1m2 0h3m7 0h1m6 0h1m3 0h1m10 0h2m1 0h1m2 0h3m2 0h2m2 0h1m1 0h1m8 0h1m2 0h1m5 0h1m12 0h1m3 0h1m10 0h1m1 0h1m1 0h1m2 0h2m1 0h1m4 0h1m1 0h1m10 0h1m7 0h3m1 0h2m3 0h1m1 0h2m1 0h1m2 0h3m2 0h1m1 0h2m7 0h1m1 0h1m2 0h1m2 0h2m3 0h1m1 0h4m3 0h1m2 0h1m9 0h1m6 0h1m3 0h1m2 0h1m3 0h1m1 0h3m5 0h1m9 0h1m2 0h1m11 0h2m1 0h1m5 0h1m1 0h1m1 0h1m7 0h3m16 0h2m5 0h1m3 0h1m2 0h1m1 0h1m2 0h1m4 0h1m4 0h1m2 0h1m6 0h1m6 0h2m4 0h1m12 0h2m4 0h1m3 0h1m1 0h1m4 0h2m18 0h1m13 0h1m13 0h1m2 0h1m5 0h1m8 0h1m6 0h1m1 0h2m19 0h1m5 0h1M183 21.5h1m83 0h1m43 0h1m19 0h1m4 0h1m13 0h1m23 0h1m8 0h2m4 0h1m1 0h1m9 0h2m7 0h1m1 0h1m5 0h1m3 0h1m1 0h1m2 0h1m3 0h1m5 0h1m25 0h1m7 0h1m3 0h1m6 0h1m7 0h1m20 0h1m205 0h1m40 0h1m1 0h3m37 0h1m1 0h1m2 0h1m7 0h1m2 0h2M154 22.5h1m4 0h1m7 0h1m6 0h5m1 0h1m7 0h1m4 0h1m3 0h1m1 0h1m3 0h1m5 0h1m1 0h2m6 0h1m3 0h4m2 0h1m27 0h1m55 0h1m13 0h1m13 0h1m1 0h2m10 0h1m45 0h1m6 0h2m13 0h1m3 0h1m10 0h1m5 0h1m314 0h2m1 0h1M4 23.5h1m8 0h1m12 0h1m10 0h2m2 0h1m3 0h1m1 0h1m2 0h1m3 0h2m4 0h2m3 0h1m3 0h1m2 0h1m5 0h1m2 0h2m1 0h2m3 0h1m9 0h1m5 0h1m5 0h1m2 0h1m1 0h2m1 0h1m1 0h1m1 0h1m2 0h1m5 0h1m2 0h1m6 0h3m6 0h1m3 0h1m4 0h1m1 0h2m4 0h2m8 0h1m4 0h2m5 0h2m2 0h1m3 0h2m5 0h1m1 0h1m6 0h1m8 0h1m3 0h1m7 0h2m6 0h1m3 0h1m29 0h1m11 0h1m5 0h1m7 0h1m10 0h1m4 0h1m3 0h1m3 0h1m5 0h1m4 0h2m7 0h1m3 0h1m3 0h1m1 0h1m3 0h1m22 0h1m2 0h1m8 0h1m5 0h1m4 0h1m1 0h1m2 0h1m1 0h1m1 0h3m6 0h1m5 0h1m2 0h3m3 0h1m10 0h2m1 0h1m2 0h2m1 0h1m2 0h1m2 0h1m3 0h1m6 0h1m4 0h2m1 0h1m1 0h2m3 0h1m2 0h3m1 0h2m5 0h1m2 0h3m4 0h1m3 0h2m1 0h1m7 0h1m6 0h1m1 0h2m2 0h1m4 0h1m11 0h1m2 0h2m1 0h1m2 0h1m9 0h1m7 0h1m8 0h2m2 0h1m1 0h1m11 0h1m8 0h2m10 0h2m2 0h1m1 0h1m3 0h1m8 0h1m12 0h2m1 0h2m1 0h1m2 0h1m5 0h1m7 0h1m1 0h1m7 0h1m5 0h1m4 0h1m4 0h1m4 0h2m3 0h2m1 0h1m15 0h2m5 0h1m1 0h1m2 0h1m5 0h1m4 0h1m7 0h1m2 0h1m12 0h2m2 0h1m1 0h2m10 0h6m3 0h1m2 0h1m1 0h1m3 0h2m6 0h1m3 0h1m12 0h1m10 0h3m5 0h1m2 0h1m3 0h1m2 0h3m4 0h1m2 0h1m1 0h1m6 0h1m1 0h2m4 0h1m9 0h1m3 0h1m5 0h4m1 0h1m3 0h2m1 0h1m6 0h1m2 0h1m5 0h1m8 0h1m2 0h1m2 0h2m3 0h2m4 0h1m11 0h1m1 0h1m1 0h1m9 0h1m5 0h1m5 0h1m1 0h2m1 0h1m1 0h1m1 0h1m1 0h1m14 0h1m2 0h2m8 0h1m10 0h1m1 0h1m2 0h1m2 0h1m1 0h1m9 0h1m1 0h1M12 24.5h1m1 0h2m1 0h1m1 0h1m5 0h1m2 0h1m2 0h1m2 0h1m5 0h1m17 0h1m3 0h1m13 0h2m2 0h1m3 0h1m2 0h1m2 0h1m3 0h1m2 0h1m4 0h1m4 0h1m2 0h1m1 0h2m2 0h1m1 0h1m2 0h2m5 0h1m2 0h1m4 0h1m6 0h1m5 0h1m3 0h1m2 0h1m9 0h1m1 0h1m3 0h1m4 0h1m25 0h1m7 0h1m2 0h1m3 0h1m4 0h2m4 0h1m23 0h1m2 0h3m11 0h1m6 0h1m4 0h1m3 0h1m2 0h1m2 0h1m6 0h2m2 0h1m1 0h1m1 0h1m4 0h1m2 0h2m17 0h1m2 0h1m5 0h1m13 0h1m12 0h1m11 0h1m6 0h1m1 0h1m5 0h1m4 0h1m2 0h1m5 0h1m4 0h1m3 0h3m6 0h1m5 0h1m1 0h1m4 0h1m12 0h1m1 0h1m5 0h1m3 0h1m2 0h1m20 0h2m1 0h1m2 0h1m6 0h1m17 0h2m5 0h2m11 0h1m5 0h1m8 0h1m5 0h1m2 0h1m2 0h1m2 0h1m1 0h2m23 0h1m3 0h2m2 0h1m1 0h1m6 0h1m3 0h1m2 0h1m2 0h1m8 0h1m2 0h1m2 0h1m13 0h1m1 0h2m1 0h1m10 0h2m5 0h1m6 0h1m12 0h2m4 0h1m3 0h1m1 0h1m10 0h2m8 0h2m1 0h1m4 0h1m1 0h2m1 0h1m3 0h1m3 0h1m42 0h1m8 0h1m12 0h2m126 0h1m94 0h1M0 25.5h1m6 0h2m4 0h2m2 0h2m7 0h1m3 0h1m6 0h1m9 0h1m13 0h1m5 0h1m1 0h1m1 0h1m1 0h2m13 0h1m1 0h1m13 0h1m2 0h2m2 0h2m3 0h1m2 0h2m6 0h1m4 0h1m14 0h1m1 0h2m1 0h1m15 0h1m19 0h1m2 0h3m11 0h1m4 0h1m4 0h1m2 0h2m9 0h1m11 0h1m6 0h1m1 0h1m4 0h1m2 0h4m14 0h1m2 0h1m4 0h1m2 0h1m6 0h1m10 0h1m4 0h1m1 0h1m7 0h2m9 0h1m1 0h1m5 0h2m9 0h1m4 0h1m9 0h2m2 0h2m99 0h1m45 0h2m6 0h1m17 0h1m4 0h1m3 0h1m1 0h1m3 0h1m2 0h1m2 0h1m4 0h2m2 0h1m4 0h1m1 0h2m5 0h1m6 0h1m3 0h2m17 0h3m16 0h2m23 0h1m1 0h1m17 0h1m16 0h1m3 0h1m6 0h1m5 0h1m11 0h1m2 0h1m7 0h1m5 0h1m3 0h1m5 0h2m26 0h1m6 0h1m4 0h2m13 0h1m2 0h1m51 0h1m19 0h1m156 0h1m26 0h1m8 0h1M1 26.5h1m27 0h1m51 0h1m6 0h1m10 0h1m12 0h1m48 0h1m13 0h1m3 0h1m6 0h1m3 0h2m10 0h1m18 0h2m16 0h1m3 0h1m3 0h1m4 0h2m16 0h2m11 0h1m6 0h1m3 0h1m1 0h1m8 0h1m7 0h1m2 0h1m3 0h1m2 0h1m3 0h1m7 0h1m13 0h2m23 0h1m5 0h1m5 0h1m4 0h2m10 0h1m23 0h3m19 0h1m2 0h1m4 0h1m3 0h1m15 0h2m3 0h1m12 0h1m5 0h1m16 0h1m3 0h1m4 0h1m11 0h1m1 0h1m9 0h1m20 0h1m14 0h1m11 0h1m10 0h1m5 0h3m2 0h1m4 0h1m2 0h3m2 0h1m5 0h3m5 0h1m36 0h1m39 0h1m18 0h1m13 0h1m7 0h1m2 0h1m32 0h1m11 0h1M3 27.5h1m4 0h2m2 0h1m3 0h2m2 0h2m3 0h1m1 0h1m3 0h1m7 0h2m7 0h1m5 0h1m1 0h2m7 0h1m2 0h1m2 0h2m1 0h1m2 0h1m2 0h1m5 0h1m10 0h3m5 0h1m9 0h1m6 0h1m8 0h2m1 0h1m7 0h1m4 0h1m1 0h1m3 0h1m1 0h1m10 0h2m3 0h1m4 0h1m1 0h1m5 0h1m2 0h1m5 0h1m5 0h1m1 0h1m2 0h1m5 0h1m3 0h1m11 0h1m14 0h1m1 0h1m3 0h2m12 0h1m3 0h1m1 0h1m3 0h1m9 0h1m14 0h1m7 0h1m4 0h1m1 0h1m1 0h1m3 0h1m1 0h2m3 0h1m7 0h1m1 0h1m2 0h3m3 0h1m3 0h1m2 0h1m2 0h1m7 0h1m8 0h1m10 0h1m3 0h1m6 0h2m4 0h1m1 0h1m1 0h1m2 0h4m7 0h1m1 0h2m4 0h2m4 0h1m2 0h1m4 0h1m4 0h1m9 0h1m6 0h1m1 0h1m1 0h1m2 0h1m3 0h1m4 0h1m7 0h1m5 0h1m10 0h2m1 0h2m10 0h1m2 0h1m1 0h1m4 0h1m4 0h1m1 0h1m10 0h1m4 0h1m4 0h1m7 0h1m8 0h1m8 0h1m3 0h1m8 0h1m7 0h1m2 0h1m7 0h1m10 0h1m11 0h1m8 0h1m2 0h1m4 0h1m1 0h1m4 0h2m1 0h1m4 0h1m2 0h2m1 0h1m3 0h1m3 0h1m1 0h4m1 0h1m2 0h1m6 0h1m9 0h1m4 0h1m2 0h1m1 0h1m1 0h2m3 0h1m7 0h1m3 0h1m1 0h1m1 0h3m2 0h2m37 0h1m3 0h1m59 0h1m186 0h1M3 28.5h1m3 0h1m5 0h1m4 0h1m5 0h1m6 0h3m1 0h1m12 0h1m2 0h3m2 0h1m8 0h1m1 0h1m18 0h1m4 0h1m5 0h1m3 0h1m11 0h3m2 0h1m1 0h1m2 0h1m6 0h1m8 0h3m2 0h3m4 0h1m16 0h1m13 0h1m6 0h2m5 0h1m9 0h1m5 0h1m2 0h1m10 0h1m4 0h1m3 0h1m4 0h1m5 0h1m5 0h2m2 0h1m2 0h1m21 0h1m13 0h1m3 0h1m6 0h1m2 0h1m1 0h1m4 0h1m1 0h1m1 0h1m1 0h1m1 0h1m9 0h1m1 0h1m1 0h1m1 0h1m1 0h2m9 0h1m1 0h1m3 0h1m3 0h1m1 0h1m1 0h1m8 0h2m1 0h2m4 0h1m1 0h1m5 0h1m1 0h1m5 0h1m11 0h2m2 0h1m1 0h1m3 0h2m4 0h1m2 0h2m14 0h1m4 0h1m1 0h1m7 0h1m7 0h1m3 0h1m9 0h1m2 0h1m9 0h1m9 0h1m23 0h1m9 0h1m7 0h3m27 0h1m7 0h1m2 0h1m2 0h1m1 0h1m11 0h1m1 0h3m6 0h1m6 0h1m1 0h1m4 0h1m3 0h1m6 0h1m1 0h1m13 0h1m15 0h1m4 0h1m2 0h2m7 0h1m3 0h1m1 0h1m6 0h1m11 0h1m1 0h1m5 0h1m1 0h1m3 0h1m1 0h1m10 0h2m4 0h2m7 0h1m58 0h1M2 29.5h1m2 0h1m3 0h1m15 0h1m5 0h2m7 0h1m1 0h1m4 0h1m3 0h1m7 0h2m36 0h4m5 0h1m9 0h1m5 0h1m5 0h1m9 0h1m12 0h2m2 0h2m4 0h1m9 0h1m8 0h1m19 0h2m2 0h1m7 0h1m1 0h1m1 0h1m2 0h1m42 0h1m3 0h1m18 0h1m13 0h2m8 0h2m4 0h1m8 0h1m1 0h1m5 0h1m2 0h3m2 0h1m2 0h1m5 0h1m15 0h1m30 0h1m32 0h1m8 0h1m14 0h1m9 0h3m4 0h1m11 0h1m4 0h1m3 0h1m6 0h1m26 0h1m4 0h1m9 0h1m3 0h1m1 0h1m1 0h2m2 0h1m1 0h1m5 0h1m15 0h1m15 0h1m4 0h1m4 0h1m1 0h1m4 0h1m8 0h1m1 0h2m1 0h1m3 0h1m5 0h1m2 0h2m2 0h1m88 0h1m6 0h1m3 0h1m6 0h1m15 0h1m8 0h1m10 0h3m3 0h1m1 0h2m4 0h1m1 0h1m15 0h1m121 0h1M29 30.5h1m14 0h1m63 0h1m3 0h1m4 0h1m23 0h1m4 0h2m22 0h1m6 0h1m14 0h1m8 0h1m6 0h2m12 0h1m3 0h1m36 0h1m30 0h1m5 0h1m17 0h1m4 0h1m9 0h1m5 0h1m4 0h1m6 0h1m16 0h1m30 0h1m1 0h1m4 0h1m3 0h1m6 0h1m15 0h1m1 0h1m4 0h1m2 0h2m5 0h1m3 0h1m6 0h2m4 0h1m1 0h1m9 0h2m22 0h1m2 0h1m2 0h1m8 0h1m9 0h1m9 0h1m5 0h1m7 0h1m12 0h1m9 0h1m3 0h2m16 0h2m11 0h1m2 0h1m14 0h1m2 0h1m6 0h1m15 0h1m6 0h2m1 0h1m1 0h3m4 0h1m1 0h2m1 0h2m1 0h1m7 0h1m2 0h1m10 0h1m2 0h1m21 0h1m4 0h1m2 0h1m1 0h1m1 0h1m6 0h2m2 0h2m10 0h1m72 0h2m3 0h1m4 0h1m22 0h1m23 0h1m49 0h1m2 0h1m1 0h1m2 0h1m13 0h1m23 0h2m21 0h2m6 0h1m7 0h1m10 0h1m29 0h1m18 0h1M5 31.5h1m1 0h1m9 0h1m10 0h1m5 0h1m10 0h1m3 0h1m2 0h3m15 0h2m1 0h1m6 0h1m1 0h2m1 0h1m3 0h1m3 0h1m6 0h1m5 0h2m3 0h1m7 0h2m2 0h1m11 0h2m13 0h1m1 0h1m1 0h1m18 0h1m17 0h1m28 0h1m1 0h1m3 0h1m4 0h1m15 0h1m2 0h1m9 0h2m6 0h1m1 0h1m2 0h1m1 0h1m1 0h2m18 0h2m7 0h1m12 0h2m1 0h2m43 0h1m11 0h1m20 0h1m9 0h1m6 0h2m1 0h2m1 0h1m9 0h2m1 0h1m3 0h1m3 0h1m4 0h2m1 0h1m4 0h1m4 0h1m1 0h1m2 0h3m3 0h1m1 0h2m5 0h1m17 0h2m3 0h1m4 0h2m4 0h1m1 0h1m8 0h1m6 0h1m2 0h1m7 0h1m3 0h1m6 0h1m5 0h1m2 0h1m5 0h1m1 0h2m11 0h2m5 0h2m1 0h1m6 0h1m4 0h3m4 0h1m2 0h1m2 0h3m1 0h1m10 0h1m5 0h1m25 0h2m20 0h1m25 0h1m43 0h1m1 0h1m35 0h1m1 0h1m3 0h1m6 0h2m1 0h3m1 0h1m4 0h1m3 0h2m2 0h1m10 0h2m7 0h1m4 0h1m2 0h1m1 0h1m4 0h1m6 0h1m2 0h1m4 0h1m2 0h2m10 0h2m2 0h2m2 0h2m2 0h1m1 0h1m7 0h2m5 0h2m7 0h1m2 0h1m12 0h1m1 0h1m7 0h1m3 0h1m11 0h1m3 0h1m5 0h2m2 0h1m2 0h3m2 0h1m3 0h1m3 0h1m2 0h2m2 0h1m1 0h1m15 0h1m1 0h1m6 0h1m3 0h3m11 0h1m1 0h1m2 0h1m15 0h1m1 0h1m1 0h1m10 0h1M4 32.5h1m8 0h1m5 0h1m1 0h1m3 0h1m2 0h1m7 0h1m1 0h1m2 0h1m5 0h1m2 0h1m3 0h1m2 0h2m5 0h3m7 0h2m5 0h1m2 0h1m1 0h1m10 0h2m1 0h3m2 0h2m3 0h2m2 0h1m3 0h1m2 0h1m18 0h1m5 0h1m1 0h1m4 0h1m4 0h1m9 0h1m3 0h1m9 0h1m5 0h1m5 0h1m4 0h1m3 0h1m2 0h1m10 0h1m9 0h1m1 0h1m6 0h1m1 0h1m2 0h1m16 0h1m2 0h1m3 0h1m4 0h1m6 0h1m1 0h1m2 0h1m8 0h1m5 0h1m2 0h1m5 0h1m9 0h3m1 0h1m6 0h1m11 0h1m9 0h1m5 0h1m5 0h1m1 0h1m13 0h2m3 0h2m7 0h1m8 0h1m5 0h1m2 0h1m2 0h1m2 0h2m5 0h1m13 0h2m1 0h1m1 0h1m2 0h1m6 0h1m2 0h1m2 0h1m3 0h1m3 0h1m3 0h2m4 0h1m6 0h1m3 0h1m3 0h1m5 0h1m2 0h5m1 0h1m1 0h2m7 0h1m6 0h1m8 0h2m4 0h1m3 0h1m3 0h1m1 0h2m1 0h1m2 0h1m4 0h1m19 0h1m4 0h1m7 0h1m1 0h1m1 0h3m9 0h1m1 0h1m2 0h1m8 0h1m5 0h1m6 0h1m2 0h4m4 0h1m5 0h1m1 0h1m15 0h1m1 0h1m12 0h1m8 0h4m14 0h1m18 0h1m23 0h1m3 0h1m11 0h1m2 0h1m1 0h2m22 0h1m6 0h1m8 0h1m3 0h2m2 0h1M17 33.5h1m6 0h1m1 0h3m1 0h1m5 0h1m5 0h1m8 0h1m4 0h1m1 0h1m5 0h2m6 0h2m7 0h3m3 0h1m3 0h2m10 0h1m3 0h2m1 0h1m1 0h1m2 0h1m1 0h1m4 0h1m9 0h1m3 0h1m5 0h1m3 0h1m4 0h1m1 0h1m1 0h4m1 0h2m12 0h1m11 0h1m2 0h1m5 0h2m1 0h1m2 0h2m2 0h2m1 0h2m7 0h2m1 0h4m1 0h1m13 0h1m4 0h2m2 0h3m3 0h1m8 0h1m1 0h1m2 0h2m9 0h1m5 0h1m3 0h1m1 0h1m3 0h1m13 0h1m4 0h2m1 0h1m4 0h1m3 0h1m7 0h2m1 0h1m3 0h1m1 0h1m4 0h1m7 0h1m1 0h1m1 0h2m2 0h1m1 0h1m11 0h1m27 0h1m2 0h1m11 0h1m1 0h1m5 0h1m7 0h1m10 0h1m68 0h1m7 0h1m1 0h1m1 0h1m2 0h2m1 0h2m8 0h1m1 0h1m20 0h2m1 0h2m1 0h1m1 0h1m2 0h1m5 0h1m12 0h1m11 0h1m3 0h1m8 0h2m8 0h1m19 0h1m12 0h1m1 0h1m2 0h1m5 0h1m7 0h1m4 0h1m2 0h1m3 0h1m6 0h1m1 0h1m2 0h2m3 0h1m3 0h2m3 0h1m5 0h2m11 0h1m12 0h1m4 0h1m10 0h1m28 0h1m7 0h1m11 0h1m9 0h3m28 0h1m46 0h1m12 0h1m10 0h1m8 0h1m18 0h1m1 0h1m15 0h1m5 0h2m3 0h1m1 0h1m4 0h1m9 0h1m13 0h1m2 0h1m8 0h1m2 0h1m7 0h1m20 0h1m1 0h2m3 0h1m19 0h1M7 34.5h1m23 0h1m2 0h1m1 0h1m1 0h1m76 0h1m7 0h1m2 0h1m3 0h1m16 0h2m9 0h1m7 0h1m2 0h1m1 0h1m4 0h2m6 0h1m2 0h3m5 0h2m10 0h1m3 0h1m2 0h1m3 0h2m9 0h2m4 0h2m4 0h1m3 0h1m1 0h1m4 0h1m2 0h1m5 0h1m16 0h1m6 0h1m2 0h1m2 0h1m2 0h1m10 0h1m1 0h1m1 0h1m4 0h3m10 0h1m7 0h1m2 0h1m2 0h1m4 0h1m1 0h1m3 0h1m2 0h2m3 0h1m1 0h1m6 0h1m8 0h1m3 0h1m1 0h1m1 0h1m2 0h2m2 0h1m4 0h1m2 0h1m4 0h1m4 0h1m6 0h1m4 0h1m11 0h1m1 0h1m2 0h2m1 0h2m9 0h1m3 0h1m3 0h2m1 0h1m6 0h2m2 0h1m4 0h1m6 0h1m9 0h1m2 0h2m14 0h2m4 0h1m7 0h1m3 0h1m1 0h1m7 0h2m1 0h1m8 0h1m2 0h1m27 0h1m1 0h2m9 0h1m1 0h1m4 0h1m9 0h2m3 0h2m3 0h2m1 0h1m1 0h1m2 0h1m3 0h2m4 0h1m13 0h1m1 0h1m7 0h1m3 0h1m3 0h1m3 0h2m3 0h1m3 0h1m2 0h1m1 0h1m13 0h1m1 0h4m6 0h1m1 0h2m1 0h1m3 0h1m14 0h1m3 0h1m1 0h1m1 0h1m54 0h1m2 0h1m25 0h1m4 0h1m1 0h1m88 0h1m54 0h1m18 0h2M62 35.5h1m41 0h1m23 0h1m2 0h1m1 0h1m3 0h2m8 0h2m14 0h1m8 0h1m7 0h2m17 0h1m6 0h1m30 0h1m16 0h1m4 0h2m1 0h1m1 0h2m5 0h5m3 0h1m2 0h2m1 0h1m6 0h1m1 0h1m3 0h1m4 0h1m8 0h3m2 0h1m5 0h1m5 0h1m2 0h3m9 0h1m9 0h1m3 0h1m1 0h1m1 0h1m2 0h1m23 0h1m17 0h1m1 0h1m6 0h1m3 0h3m5 0h1m19 0h1m10 0h1m4 0h2m12 0h1m14 0h1m3 0h1m1 0h1m6 0h1m4 0h1m4 0h1m19 0h1m5 0h1m4 0h2m1 0h1m4 0h1m4 0h1m11 0h1m1 0h1m53 0h1m4 0h1m33 0h1m9 0h1m2 0h1m3 0h1m4 0h1m3 0h1m1 0h1m3 0h1m8 0h1m4 0h1m16 0h1M45 36.5h1m1 0h1m39 0h1m22 0h1m5 0h1m45 0h2m7 0h1m1 0h1m1 0h1m1 0h2m6 0h2m3 0h2m1 0h2m5 0h2m2 0h1m1 0h1m3 0h2m6 0h3m3 0h1m4 0h1m13 0h3m6 0h1m10 0h1m14 0h1m16 0h1m15 0h1m2 0h1m4 0h1m2 0h1m1 0h1m4 0h2m3 0h2m1 0h1m1 0h1m2 0h1m3 0h1m8 0h1m6 0h1m2 0h1m9 0h1m19 0h1m4 0h1m3 0h1m4 0h1m9 0h2m2 0h1m4 0h1m10 0h1m2 0h1m8 0h1m5 0h1m3 0h2m1 0h1m16 0h1m1 0h2m4 0h2m9 0h1m4 0h1m6 0h1m11 0h1m2 0h2m5 0h1m1 0h1m1 0h1m3 0h1m4 0h1m4 0h1m3 0h1m5 0h2m2 0h1m2 0h1m4 0h1m4 0h2m11 0h1m12 0h2m2 0h1m2 0h2m7 0h1m3 0h1m3 0h1m3 0h1m5 0h2m15 0h1m7 0h1m6 0h1m3 0h1m10 0h1m7 0h1m3 0h1m7 0h1m1 0h1m5 0h1m2 0h1m10 0h1m1 0h2m8 0h2m8 0h1m2 0h1m31 0h1m1 0h1m34 0h1M0 37.5h1m3 0h1m5 0h2m5 0h1m15 0h1m6 0h2m1 0h2m2 0h1m8 0h1m1 0h1m2 0h2m6 0h1m4 0h1m4 0h1m4 0h1m3 0h1m3 0h1m8 0h2m10 0h1m13 0h1m6 0h2m1 0h1m6 0h1m6 0h1m5 0h2m2 0h1m7 0h1m2 0h1m13 0h1m4 0h1m4 0h1m17 0h1m2 0h1m4 0h1m14 0h1m2 0h1m4 0h1m1 0h2m1 0h2m6 0h2m5 0h1m3 0h1m4 0h1m1 0h2m5 0h1m7 0h1m3 0h1m14 0h1m12 0h1m3 0h1m14 0h1m9 0h2m4 0h1m4 0h1m13 0h1m2 0h1m1 0h1m3 0h1m4 0h2m3 0h3m13 0h1m3 0h1m14 0h2m3 0h1m1 0h1m4 0h1m7 0h1m11 0h1m1 0h1m3 0h1m7 0h2m7 0h4m7 0h1m1 0h1m4 0h1m11 0h1m6 0h1m3 0h1m1 0h1m15 0h1m6 0h1m4 0h1m3 0h1m5 0h1m5 0h2m33 0h1m4 0h1m4 0h2m3 0h1m4 0h2m6 0h2m20 0h2m2 0h3m4 0h1m14 0h1m5 0h1m4 0h1m2 0h1m3 0h1m7 0h1m10 0h1m8 0h2m4 0h1m5 0h1m3 0h1m8 0h1m13 0h1m4 0h1m6 0h1m15 0h1m25 0h1M5 38.5h1m21 0h1m4 0h1m1 0h1m7 0h1m2 0h1m18 0h1m28 0h1m4 0h1m3 0h1m2 0h1m1 0h1m13 0h1m11 0h1m1 0h1m7 0h1m2 0h3m17 0h1m3 0h1m1 0h2m11 0h2m12 0h1m7 0h1m17 0h1m27 0h1m11 0h1m26 0h1m19 0h1m8 0h1m9 0h1m8 0h1m12 0h1m4 0h1m2 0h1m22 0h2m3 0h1m12 0h1m13 0h1m2 0h1m2 0h2m1 0h1m3 0h1m6 0h1m4 0h1m1 0h2m3 0h1m1 0h1m1 0h1m2 0h1m11 0h1m9 0h1m1 0h1m2 0h1m6 0h1m1 0h1m6 0h2m2 0h1m2 0h1m1 0h1m2 0h1m6 0h1m7 0h1m4 0h2m5 0h1m5 0h3m6 0h2m6 0h1m9 0h1m23 0h1m30 0h6m7 0h1m17 0h1m1 0h1m4 0h2m4 0h4m4 0h1m4 0h1m5 0h1m2 0h1m12 0h1m5 0h1m2 0h1m2 0h1m11 0h1m2 0h3m2 0h1m8 0h1m15 0h3m28 0h1m22 0h1m1 0h1M0 39.5h1m5 0h3m5 0h1m1 0h1m3 0h2m6 0h3m1 0h1m3 0h1m8 0h1m1 0h1m1 0h1m4 0h2m4 0h1m4 0h1m1 0h1m3 0h1m5 0h1m12 0h2m7 0h1m1 0h2m4 0h1m3 0h2m1 0h1m3 0h1m13 0h1m1 0h1m14 0h1m1 0h1m5 0h1m1 0h1m6 0h2m2 0h2m3 0h1m10 0h1m11 0h1m5 0h1m3 0h1m4 0h1m9 0h1m4 0h1m2 0h1m6 0h1m2 0h1m4 0h1m5 0h1m16 0h2m1 0h1m5 0h1m4 0h1m5 0h2m3 0h2m2 0h2m3 0h1m4 0h2m1 0h1m2 0h2m1 0h1m3 0h1m1 0h1m4 0h1m1 0h1m8 0h3m1 0h1m21 0h1m9 0h1m5 0h1m5 0h2m2 0h1m5 0h1m9 0h1m2 0h1m8 0h1m3 0h1m3 0h1m2 0h1m3 0h1m1 0h1m3 0h1m1 0h2m4 0h3m1 0h1m7 0h2m4 0h1m1 0h1m4 0h1m9 0h1m13 0h1m8 0h1m2 0h2m19 0h1m2 0h1m5 0h2m3 0h1m11 0h1m1 0h1m1 0h1m2 0h1m15 0h1m7 0h1m3 0h1m2 0h2m1 0h1m11 0h1m12 0h1m8 0h1m1 0h1m3 0h1m2 0h1m11 0h2m7 0h1m1 0h2m12 0h1m4 0h2m5 0h1m1 0h1m3 0h3m5 0h1m2 0h2m1 0h1m1 0h2m5 0h2m2 0h2m12 0h1m1 0h1m20 0h1m7 0h2m1 0h1m2 0h1m9 0h1m1 0h2m1 0h2m1 0h2m4 0h3m2 0h1m5 0h1m4 0h2m4 0h1m4 0h1M1 40.5h1m27 0h1m63 0h2m24 0h3m4 0h1m15 0h1m1 0h1m1 0h2m2 0h1m34 0h2m4 0h1m3 0h1m3 0h1m20 0h1m7 0h1m10 0h2m2 0h1m1 0h2m1 0h2m3 0h1m10 0h1m4 0h2m2 0h1m3 0h1m1 0h1m3 0h1m2 0h1m13 0h1m18 0h1m4 0h2m3 0h3m24 0h1m2 0h1m20 0h1m22 0h1m8 0h1m25 0h1m9 0h1m6 0h1m4 0h2m12 0h2m14 0h1m4 0h1m14 0h1m24 0h2m1 0h1m3 0h1m6 0h1m27 0h2m5 0h1m8 0h1m9 0h1m8 0h1m2 0h1m10 0h1m10 0h1m21 0h1m5 0h1m5 0h1m4 0h1m6 0h1m4 0h1m14 0h1m1 0h2m11 0h1m4 0h1m10 0h4m25 0h1m1 0h1m1 0h1m2 0h2m1 0h1m3 0h1m1 0h1m4 0h1m10 0h1m11 0h1m1 0h1m8 0h1M2 41.5h1m2 0h1m2 0h1m1 0h2m5 0h1m2 0h1m7 0h1m3 0h2m8 0h2m2 0h1m4 0h1m4 0h1m5 0h1m1 0h2m4 0h1m11 0h1m14 0h2m2 0h1m6 0h3m10 0h1m5 0h1m1 0h1m9 0h1m5 0h1m2 0h1m2 0h1m9 0h1m14 0h1m13 0h1m11 0h2m11 0h2m6 0h1m2 0h1m2 0h2m5 0h1m4 0h1m22 0h1m6 0h1m2 0h1m3 0h1m20 0h1m12 0h1m11 0h3m10 0h1m7 0h2m5 0h1m6 0h2m4 0h1m4 0h1m4 0h1m4 0h1m1 0h1m2 0h1m2 0h1m12 0h1m33 0h1m19 0h1m67 0h1m27 0h1m4 0h1m5 0h1m3 0h2m1 0h1m1 0h2m1 0h1m2 0h1m18 0h1m19 0h1m9 0h1m26 0h1m26 0h1m7 0h1m22 0h1m13 0h1m3 0h1m7 0h1m11 0h1m16 0h1m74 0h1m1 0h2m7 0h1m7 0h1m1 0h1m6 0h1m3 0h2m3 0h1m4 0h1m5 0h1m13 0h2m9 0h1m4 0h1m4 0h1m1 0h1m1 0h1m6 0h1m12 0h1m4 0h1m1 0h1m1 0h1m5 0h1m9 0h1m8 0h1m15 0h1m3 0h1m6 0h1m8 0h1m7 0h1m6 0h1m5 0h3m10 0h1m2 0h1m1 0h1m5 0h1m1 0h1m10 0h1m2 0h1m1 0h1m10 0h2M2 42.5h1m10 0h1m1 0h1m4 0h1m5 0h1m2 0h1m4 0h1m7 0h1m1 0h1m3 0h1m2 0h1m1 0h2m6 0h1m2 0h1m1 0h1m4 0h1m6 0h2m1 0h1m5 0h2m22 0h1m3 0h2m7 0h1m1 0h1m10 0h1m11 0h1m4 0h1m22 0h1m2 0h1m11 0h1m21 0h1m4 0h1m1 0h1m2 0h1m2 0h2m2 0h1m20 0h1m9 0h1m10 0h1m2 0h1m5 0h2m1 0h1m7 0h1m12 0h1m21 0h1m6 0h3m5 0h1m4 0h1m2 0h3m2 0h1m1 0h1m4 0h1m2 0h2m110 0h2m9 0h1m8 0h1m30 0h1m13 0h1m15 0h1m5 0h2m4 0h1m13 0h1m14 0h1m34 0h1m2 0h1m3 0h1m16 0h2m1 0h1m7 0h1m2 0h1m11 0h1m4 0h1m14 0h1m5 0h1m9 0h1m9 0h1m18 0h1m2 0h1m6 0h1m5 0h1m1 0h2m3 0h1m6 0h1m3 0h1m3 0h1m5 0h2m35 0h1m140 0h1m102 0h1M12 43.5h1m14 0h1m14 0h1m60 0h3m50 0h2m2 0h1m5 0h1m1 0h1m17 0h1m24 0h1m3 0h1m21 0h1m79 0h1m77 0h1m56 0h1m6 0h1m41 0h1m7 0h1m112 0h1m3 0h1m2 0h1m23 0h1m6 0h1m17 0h1m16 0h2m13 0h1m1 0h1m4 0h1m6 0h1m12 0h1m20 0h1m3 0h1m6 0h1m7 0h1m1 0h1m6 0h2m2 0h1m3 0h1m5 0h1m6 0h1m2 0h1m2 0h1m10 0h1m110 0h1m16 0h1m37 0h1m11 0h1m84 0h1M43 44.5h1m22 0h1m82 0h1m34 0h1m13 0h1m68 0h1m88 0h1m27 0h1m17 0h2m3 0h1m7 0h1m84 0h1m2 0h1m4 0h1m3 0h1m4 0h1m27 0h1m5 0h1m9 0h1m5 0h1m4 0h1m2 0h1m1 0h1m52 0h1m11 0h1m9 0h1m1 0h1m6 0h1m14 0h2m12 0h1m17 0h2m3 0h1m1 0h1m8 0h1m34 0h1m8 0h1m21 0h1M0 45.5h1m13 0h2m12 0h1m15 0h1m29 0h1m10 0h1m7 0h2m7 0h2m6 0h1m8 0h1m6 0h2m9 0h1m6 0h1m4 0h1m5 0h1m5 0h1m1 0h1m19 0h1m19 0h1m19 0h1m1 0h7m3 0h1m16 0h1m19 0h1m10 0h1m5 0h1m38 0h1m17 0h1m29 0h1m17 0h1m6 0h1m4 0h2m84 0h1m7 0h1m7 0h1m21 0h1m5 0h1m30 0h1m28 0h1m20 0h1m11 0h1m1 0h1m13 0h2m11 0h1m4 0h1m16 0h1m1 0h2m1 0h1m5 0h1m22 0h1m1 0h1m8 0h1m3 0h1m5 0h1m2 0h1m11 0h1m11 0h2m22 0h1m1 0h1m10 0h1m8 0h4m9 0h1m23 0h1m4 0h1m2 0h1m3 0h1m1 0h1m4 0h1m1 0h1m7 0h1m3 0h1m6 0h1m3 0h2m2 0h2m6 0h1m5 0h1m3 0h1m5 0h1m1 0h1m19 0h1m4 0h3m4 0h1m1 0h1m8 0h1m1 0h2m2 0h1m7 0h1m3 0h1m4 0h1m2 0h1m2 0h1m2 0h1m2 0h1m5 0h1m2 0h1m12 0h1m1 0h2m4 0h1m2 0h1m2 0h2m9 0h1m1 0h2m6 0h1m3 0h1m1 0h1m1 0h2m7 0h1m5 0h2m2 0h1m2 0h1M2 46.5h1m11 0h1m6 0h1m2 0h1m1 0h1m6 0h1m16 0h1m20 0h2m45 0h2m7 0h1m2 0h2m3 0h1m39 0h3m3 0h2m1 0h2m6 0h1m3 0h1m2 0h1m5 0h1m6 0h1m14 0h2m14 0h2m13 0h1m11 0h1m7 0h1m15 0h1m1 0h2m11 0h1m6 0h1m2 0h1m4 0h1m11 0h1m2 0h1m3 0h1m1 0h2m7 0h5m5 0h1m1 0h1m2 0h1m6 0h2m6 0h1m9 0h1m6 0h3m5 0h1m1 0h1m14 0h2m3 0h2m5 0h3m2 0h1m17 0h1m2 0h2m1 0h1m4 0h2m16 0h1m2 0h2m5 0h1m1 0h1m5 0h1m1 0h1m6 0h1m5 0h1m2 0h1m7 0h1m1 0h1m2 0h2m2 0h1m2 0h1m1 0h1m1 0h1m1 0h1m1 0h1m5 0h1m1 0h1m5 0h1m5 0h1m4 0h1m10 0h1m4 0h3m16 0h1m8 0h1m7 0h1m3 0h1m3 0h1m12 0h2m7 0h2m4 0h1m4 0h1m5 0h1m5 0h1m3 0h1m2 0h1m1 0h1m1 0h1m2 0h1m5 0h1m15 0h2m12 0h1m12 0h1M5 47.5h1m5 0h1m6 0h1m5 0h1m3 0h2m1 0h2m1 0h1m1 0h1m2 0h1m7 0h1m2 0h1m6 0h1m4 0h2m3 0h1m3 0h1m2 0h1m2 0h2m5 0h1m3 0h2m8 0h1m6 0h1m7 0h2m5 0h1m5 0h1m6 0h1m1 0h2m5 0h2m2 0h1m5 0h1m3 0h1m1 0h1m8 0h1m1 0h1m12 0h1m9 0h2m2 0h1m1 0h1m1 0h1m4 0h3m7 0h1m1 0h2m9 0h1m1 0h1m11 0h1m2 0h1m2 0h1m4 0h1m4 0h1m4 0h1m5 0h1m2 0h2m5 0h1m1 0h2m7 0h1m1 0h1m6 0h1m3 0h1m4 0h4m7 0h1m1 0h1m5 0h1m4 0h1m3 0h2m1 0h1m6 0h1m2 0h2m4 0h3m4 0h1m6 0h2m7 0h2m3 0h1m14 0h1m16 0h1m1 0h1m9 0h1m13 0h1m8 0h1m1 0h1m1 0h1m3 0h1m3 0h2m1 0h1m7 0h1m11 0h1m5 0h2m1 0h1m1 0h1m1 0h1m2 0h1m4 0h1m2 0h1m7 0h1m2 0h1m6 0h1m9 0h1m5 0h1m5 0h1m1 0h1m2 0h1m4 0h2m1 0h1m2 0h1m3 0h1m3 0h2m2 0h1m8 0h1m2 0h1m4 0h1m8 0h1m11 0h2m6 0h2m5 0h1m6 0h1m5 0h1m3 0h1m14 0h1m10 0h1m1 0h1m1 0h2m2 0h1m1 0h1m5 0h3m11 0h2m2 0h1m6 0h2m8 0h1m3 0h1m8 0h1m2 0h1m9 0h2m95 0h1m190 0h1M0 48.5h3m2 0h4m3 0h1m7 0h1m4 0h1m1 0h3m2 0h2m4 0h1m1 0h1m9 0h1m1 0h2m2 0h1m5 0h1m2 0h1m2 0h1m6 0h1m8 0h1m9 0h1m6 0h2m3 0h1m2 0h1m2 0h1m9 0h1m1 0h2m20 0h1m2 0h1m2 0h1m3 0h2m3 0h2m4 0h3m3 0h1m5 0h1m16 0h1m4 0h1m1 0h1m3 0h1m8 0h1m5 0h1m12 0h2m2 0h1m6 0h1m4 0h1m7 0h1m2 0h2m9 0h2m7 0h2m2 0h3m4 0h1m10 0h1m3 0h1m10 0h3m1 0h1m4 0h1m1 0h1m2 0h2m5 0h1m1 0h1m8 0h1m9 0h1m3 0h2m3 0h1m3 0h1m1 0h1m4 0h1m5 0h3m6 0h1m2 0h1m2 0h2m1 0h1m2 0h1m11 0h1m3 0h1m5 0h1m1 0h1m5 0h2m4 0h1m11 0h1m5 0h2m3 0h3m2 0h1m4 0h1m2 0h1m2 0h1m2 0h1m10 0h1m2 0h2m1 0h1m5 0h1m14 0h4m1 0h2m7 0h2m6 0h1m2 0h2m5 0h2m1 0h1m15 0h2m8 0h1m9 0h1m6 0h1m6 0h1m12 0h1m1 0h1m2 0h1m7 0h2m15 0h1m4 0h1m3 0h1m2 0h1m5 0h2m1 0h1m1 0h2m3 0h1m5 0h1m17 0h1m15 0h1m1 0h1m1 0h1m1 0h1m8 0h1m2 0h1m3 0h1m5 0h3m8 0h1m3 0h1M38 49.5h1m74 0h1m63 0h1m28 0h1m3 0h1m36 0h1m11 0h1m6 0h1m14 0h1m17 0h1m10 0h1m20 0h1m28 0h1m22 0h1m15 0h1m2 0h2m3 0h1m3 0h1m10 0h1m3 0h1m11 0h1m2 0h1m9 0h1m3 0h1m10 0h1m18 0h1m5 0h1m1 0h1m4 0h1m26 0h1m15 0h1m7 0h2m17 0h2m19 0h1m13 0h1m16 0h1m3 0h1m10 0h1m32 0h1m14 0h1m8 0h1m13 0h1m19 0h1m40 0h2m5 0h1m1 0h1m1 0h2m4 0h2m9 0h2m7 0h1m4 0h2m2 0h1m1 0h1m21 0h1m4 0h1m8 0h1m4 0h1m4 0h1m4 0h1m2 0h1m3 0h1m1 0h1m4 0h1m3 0h1m5 0h1m12 0h1m2 0h1m1 0h4m4 0h2m10 0h1m1 0h2m3 0h1m9 0h1m2 0h1m8 0h1m3 0h1m2 0h2m13 0h1m1 0h1m1 0h2m9 0h2m3 0h2m2 0h2m3 0h1m3 0h1m5 0h1m5 0h2m1 0h1m18 0h2m1 0h2m2 0h1m2 0h2m3 0h1m11 0h1m2 0h1m3 0h3m2 0h1m2 0h1m5 0h1M27 50.5h1m8 0h1m53 0h1m58 0h1m46 0h1m42 0h1m10 0h1m67 0h1m24 0h1m15 0h1m14 0h1m22 0h1m3 0h1m3 0h1m30 0h1m3 0h1m12 0h1m4 0h1m15 0h1m14 0h1m3 0h1m7 0h1m20 0h1m3 0h1m2 0h2m14 0h1m7 0h1m18 0h1m35 0h1m15 0h1m3 0h1m11 0h1m11 0h1m5 0h1m1 0h2m2 0h1m27 0h2m7 0h1m11 0h1m7 0h1m1 0h1m15 0h2m1 0h1m8 0h3m1 0h1m32 0h1m6 0h1m13 0h1m6 0h1M37 51.5h1m5 0h1m22 0h1m48 0h1m12 0h1m12 0h1m9 0h1m6 0h1m29 0h1m30 0h1m19 0h1m1 0h1m27 0h2m37 0h1m144 0h1m17 0h1m74 0h1m8 0h1m67 0h1m15 0h1m53 0h1m33 0h1m10 0h1m6 0h1m54 0h2M7 52.5h1m8 0h3m2 0h1m7 0h2m19 0h1m3 0h1m7 0h1m5 0h1m2 0h1m2 0h2m2 0h2m5 0h1m4 0h1m2 0h1m11 0h1m1 0h2m2 0h1m3 0h1m9 0h1m4 0h1m4 0h1m2 0h1m1 0h1m7 0h1m3 0h1m4 0h1m12 0h1m1 0h1m1 0h1m1 0h2m4 0h2m1 0h5m2 0h1m1 0h2m2 0h1m2 0h1m5 0h1m3 0h1m3 0h1m7 0h1m1 0h2m4 0h1m3 0h1m5 0h1m5 0h1m6 0h2m5 0h2m13 0h1m3 0h1m1 0h2m3 0h2m3 0h1m2 0h1m4 0h1m3 0h3m3 0h1m2 0h1m1 0h1m2 0h4m11 0h1m2 0h1m1 0h1m1 0h2m6 0h1m5 0h1m2 0h1m1 0h2m8 0h1m16 0h1m1 0h1m3 0h1m4 0h1m8 0h2m3 0h1m6 0h1m4 0h2m3 0h1m2 0h1m2 0h1m1 0h1m1 0h1m2 0h1m2 0h1m6 0h1m3 0h1m2 0h1m3 0h1m7 0h1m4 0h2m1 0h1m1 0h1m4 0h1m11 0h3m1 0h1m1 0h2m3 0h1m1 0h1m1 0h1m4 0h1m12 0h1m8 0h2m4 0h1m2 0h1m7 0h1m5 0h2m3 0h1m7 0h1m4 0h1m3 0h1m4 0h1m2 0h1m2 0h1m14 0h1m1 0h1m9 0h1m8 0h1m21 0h1m5 0h2m4 0h1m6 0h1m2 0h1m2 0h1m7 0h3m1 0h2m5 0h1m6 0h1m8 0h1m2 0h1m2 0h3m3 0h1m4 0h1m2 0h2m4 0h1m3 0h1m2 0h1m1 0h1m3 0h1m6 0h2m8 0h1m14 0h2m23 0h2m10 0h1m2 0h1M21 53.5h1m14 0h1m8 0h1m15 0h1m10 0h1m13 0h1m19 0h1m10 0h1m35 0h1m6 0h1m58 0h1m42 0h1m31 0h1m1 0h1m41 0h1m7 0h1m28 0h1m2 0h1m17 0h2m1 0h1m4 0h1m3 0h2m44 0h1m43 0h1m7 0h1m5 0h1m6 0h1m3 0h2m37 0h1m8 0h1m13 0h2m9 0h1m1 0h1m53 0h1m3 0h1m3 0h1m25 0h1m18 0h1m53 0h3m1 0h1m60 0h1m11 0h1m5 0h1m3 0h1m9 0h1m3 0h3m4 0h2m4 0h1m13 0h2m3 0h1m5 0h1m2 0h1m2 0h2m6 0h2m1 0h1m1 0h1m3 0h1m3 0h1m4 0h1m6 0h1m7 0h1m3 0h1m3 0h1m14 0h1m1 0h1m1 0h1m2 0h1m3 0h2m12 0h1m7 0h1m4 0h1m3 0h1m2 0h1m6 0h1m4 0h2m3 0h1m10 0h1m2 0h1m10 0h1m1 0h2m8 0h1m1 0h1m1 0h1m1 0h1m1 0h1m7 0h2m9 0h2"/>
<path stroke="#afff50" d="M208 0.5h1m13 0h1m260 0h1m35 0h1m158 0h1m146 0h1m1 0h1m13 0h1m68 0h1m70 0h1m61 0h1M42 1.5h1m80 0h1m23 0h1m18 0h2m6 0h1m8 0h1m12 0h1m6 0h1m1 0h1m7 0h2m16 0h1m4 0h3m10 0h1m1 0h2m3 0h1m3 0h1m1 0h1m5 0h1m7 0h1m18 0h1m1 0h1m44 0h2m7 0h1m3 0h1m9 0h1m84 0h1m4 0h1m9 0h1m1 0h1m5 0h1m4 0h2m7 0h1m1 0h1m11 0h1m10 0h1m10 0h1m1 0h1m4 0h1m1 0h2m2 0h1m2 0h1m6 0h1m6 0h1m2 0h1m9 0h1m5 0h1m4 0h2m13 0h1m17 0h1m36 0h1m187 0h1m4 0h1m13 0h1m1 0h2m7 0h1m1 0h2m2 0h1m2 0h1m1 0h1m1 0h3m3 0h1m18 0h2m3 0h2m31 0h1m9 0h1m3 0h2m2 0h1m1 0h3m1 0h2m1 0h1m8 0h1m1 0h1m2 0h1m14 0h1m5 0h1m7 0h2m17 0h2m14 0h2m3 0h1m6 0h1m6 0h1m1 0h1m3 0h2m17 0h1m2 0h2M5 2.5h1m2 0h1m3 0h2m36 0h3m3 0h2m2 0h2m17 0h2m1 0h2m1 0h1m3 0h1m4 0h1m6 0h1m2 0h1m1 0h1m2 0h2m17 0h1m6 0h1m14 0h1m4 0h1m104 0h1m104 0h1m174 0h1m4 0h1m67 0h1m7 0h1m30 0h2m4 0h1m2 0h1m10 0h2m3 0h2m4 0h1m3 0h1m2 0h1m5 0h2m10 0h1m3 0h2m4 0h1m1 0h1m1 0h2m1 0h2m1 0h1m6 0h1m2 0h6m2 0h3m1 0h1m9 0h1m2 0h1m36 0h1m1 0h1m1 0h1m1 0h1m3 0h1m4 0h1m5 0h1m16 0h1m4 0h1m35 0h1m1 0h1m2 0h1m10 0h1m4 0h2m1 0h2m41 0h1m2 0h2m5 0h2m37 0h1m18 0h2m4 0h2m4 0h1m12 0h1m11 0h1m8 0h2m4 0h1m4 0h1M5 3.5h1m2 0h1m6 0h1m4 0h2m5 0h2m2 0h2m5 0h1m4 0h1m4 0h1m1 0h1m1 0h1m7 0h1m6 0h1m25 0h1m6 0h3m1 0h1m6 0h1m4 0h1m5 0h1m2 0h2m1 0h1m13 0h1m2 0h1m13 0h1m33 0h1m228 0h1m114 0h1m62 0h1m7 0h1m9 0h1m1 0h1m1 0h1m20 0h1m13 0h1m19 0h1m2 0h1m1 0h1m8 0h1m11 0h1m1 0h1m2 0h1m1 0h1m16 0h2m10 0h1m1 0h1m9 0h1m13 0h1m11 0h1m1 0h1m4 0h1m2 0h1m11 0h2m5 0h1m2 0h2m1 0h1m2 0h1M50 4.5h1m47 0h1m5 0h1m10 0h1m3 0h1m6 0h1m2 0h1m13 0h1m41 0h1m369 0h1m51 0h1m124 0h1m2 0h1m5 0h1m1 0h1m5 0h1m4 0h1m4 0h1m33 0h1m1 0h1m7 0h1m3 0h1M7 5.5h1m25 0h3m10 0h1m3 0h1m10 0h1m20 0h1m3 0h1m17 0h1m5 0h2m4 0h1m3 0h1m88 0h1m176 0h1m5 0h1m2 0h1m3 0h3m2 0h1m1 0h1m11 0h2m6 0h2m1 0h2m10 0h1m1 0h1m13 0h1m3 0h1m7 0h1m1 0h2m6 0h1m4 0h1m6 0h1m2 0h1m1 0h1m37 0h1m11 0h1m40 0h1m2 0h1m1 0h1m1 0h1m2 0h1m1 0h1m8 0h1m9 0h1m1 0h1m7 0h1m1 0h1m4 0h1m19 0h1m5 0h1m24 0h1m1 0h2m7 0h1m6 0h1m4 0h1m15 0h1m1 0h1m8 0h1m25 0h1m35 0h1m6 0h2m4 0h1m8 0h1m1 0h1m215 0h1M2 6.5h1m6 0h1m16 0h1m4 0h2m3 0h1m4 0h1m3 0h2m4 0h1m9 0h2m3 0h1m6 0h1m5 0h1m1 0h1m7 0h1m1 0h1m7 0h1m1 0h1m4 0h2m5 0h1m2 0h2m2 0h1m4 0h1m4 0h2m13 0h2m4 0h1m6 0h1m3 0h1m12 0h1m11 0h1m2 0h1m2 0h1m9 0h1m36 0h1m11 0h1m2 0h1m30 0h2m6 0h1m19 0h1m9 0h1m13 0h1m2 0h1m17 0h1m8 0h1m29 0h1m1 0h1m11 0h2m30 0h1m7 0h2m9 0h1m17 0h1m8 0h1m1 0h1m1 0h1m12 0h2m10 0h1m1 0h1m3 0h1m2 0h1m5 0h1m3 0h1m5 0h2m1 0h2m1 0h1m6 0h1m6 0h2m3 0h1m3 0h4m1 0h1m1 0h1m6 0h1m7 0h1m19 0h1m5 0h1m8 0h1m14 0h1m7 0h1m3 0h3m3 0h1m2 0h1m3 0h1m1 0h1m1 0h1m5 0h1m1 0h1m15 0h1m3 0h2m6 0h2m1 0h1m15 0h1m6 0h1m7 0h2m5 0h1m2 0h2m42 0h1m8 0h1m2 0h2m1 0h1M2 7.5h4m2 0h1m3 0h1m2 0h1m2 0h1m5 0h1m3 0h1m3 0h1m2 0h1m2 0h1m6 0h3m10 0h2m7 0h1m8 0h1m1 0h1m3 0h1m3 0h1m3 0h1m2 0h1m10 0h1m2 0h1m1 0h2m2 0h2m12 0h1m6 0h1m2 0h1m1 0h1m2 0h1m1 0h1m3 0h2m4 0h1m1 0h3m1 0h1m22 0h1m5 0h1m4 0h1m3 0h1m6 0h1m6 0h2m5 0h1m10 0h2m9 0h2m6 0h1m4 0h1m5 0h2m4 0h1m3 0h1m7 0h2m14 0h1m8 0h1m1 0h1m3 0h1m10 0h1m10 0h1m1 0h1m1 0h1m8 0h1m4 0h1m3 0h2m1 0h2m1 0h2m6 0h1m9 0h1m1 0h1m3 0h1m2 0h1m2 0h1m1 0h1m2 0h1m3 0h1m3 0h1m4 0h1m10 0h1m1 0h3m12 0h1m7 0h2m4 0h1m4 0h4m5 0h4m6 0h1m2 0h1m4 0h1m4 0h3m2 0h1m3 0h2m7 0h1m3 0h1m8 0h1m19 0h1m4 0h1m6 0h1m4 0h7m8 0h1m17 0h1m4 0h2m1 0h1m1 0h1m2 0h1m4 0h2m6 0h1m3 0h1m1 0h1m2 0h1m2 0h1m5 0h1m2 0h2m6 0h1m10 0h1m1 0h1m2 0h2m4 0h1m1 0h1m2 0h1m13 0h1m6 0h1m1 0h1m1 0h1m3 0h1m6 0h1m6 0h1m7 0h1m6 0h2m4 0h2m3 0h2m1 0h2m15 0h1m33 0h2m1 0h1m9 0h2m3 0h1m9 0h2m1 0h1M3 8.5h1m40 0h1m103 0h1m6 0h1m14 0h1m80 0h1m196 0h1m16 0h1m13 0h1m2 0h1m37 0h1m10 0h1m14 0h1m22 0h1m26 0h1m33 0h1m212 0h2m17 0h2m1 0h1m11 0h1m3 0h1m2 0h1m2 0h1m3 0h1m5 0h1m14 0h1m3 0h3m21 0h1m14 0h2m7 0h1m4 0h1m2 0h1m1 0h1m1 0h1m4 0h1m9 0h3m1 0h1m7 0h1m9 0h1m14 0h1m4 0h1m5 0h1m13 0h1m4 0h1m4 0h1m10 0h2m10 0h1M5 9.5h1m3 0h1m5 0h1m12 0h1m27 0h1m3 0h1m43 0h1m2 0h1m18 0h1m19 0h2m7 0h1m4 0h2m1 0h1m5 0h1m1 0h1m4 0h1m5 0h1m3 0h1m1 0h1m1 0h1m1 0h1m1 0h1m9 0h1m1 0h1m7 0h2m9 0h1m1 0h1m1 0h1m11 0h1m4 0h1m4 0h1m4 0h1m1 0h1m3 0h1m6 0h1m6 0h1m2 0h4m9 0h1m11 0h1m1 0h2m1 0h1m1 0h1m47 0h1m3 0h1m10 0h1m3 0h1m2 0h1m6 0h2m5 0h2m1 0h1m8 0h1m1 0h1m1 0h2m11 0h2m2 0h1m13 0h1m8 0h2m6 0h1m19 0h2m26 0h1m1 0h1m20 0h1m10 0h1m4 0h1m5 0h1m4 0h1m16 0h1m9 0h1m11 0h1m2 0h1m10 0h2m5 0h1m9 0h1m1 0h2m8 0h1m1 0h1m14 0h1m27 0h1m2 0h1m26 0h2m5 0h1m9 0h1m4 0h2m8 0h1m3 0h1m3 0h1m35 0h1m48 0h1m53 0h1M2 10.5h1m5 0h1m1 0h1m1 0h1m7 0h1m11 0h1m6 0h2m3 0h1m4 0h1m11 0h1m8 0h1m4 0h1m5 0h1m3 0h1m1 0h1m2 0h1m3 0h1m8 0h1m8 0h3m3 0h1m7 0h1m43 0h1m4 0h1m13 0h1m3 0h1m18 0h1m4 0h1m33 0h2m15 0h1m5 0h1m11 0h1m16 0h1m15 0h2m6 0h1m22 0h1m2 0h1m23 0h1m1 0h1m4 0h1m9 0h1m7 0h1m1 0h1m1 0h1m17 0h1m1 0h1m1 0h1m10 0h1m1 0h1m1 0h1m5 0h2m5 0h2m13 0h1m3 0h1m3 0h1m4 0h1m14 0h2m1 0h1m1 0h1m2 0h2m11 0h1m15 0h1m4 0h1m5 0h1m1 0h1m8 0h1m6 0h1m6 0h1m1 0h1m1 0h2m2 0h1m22 0h1m6 0h2m4 0h1m7 0h1m9 0h1m66 0h1m10 0h1m41 0h1m5 0h1m43 0h1m15 0h1m7 0h1M1 11.5h1m8 0h1m1 0h1m2 0h2m18 0h1m4 0h1m6 0h1m3 0h1m1 0h1m4 0h2m11 0h1m1 0h1m8 0h1m8 0h1m12 0h1m15 0h1m4 0h1m1 0h1m1 0h1m121 0h1m133 0h1m23 0h1m14 0h1m9 0h1m3 0h1m1 0h1m1 0h1m14 0h2m17 0h1m51 0h1m3 0h1m85 0h1m40 0h1m48 0h1m54 0h1m3 0h1m12 0h1m3 0h1m5 0h1m2 0h1m25 0h1m1 0h1m9 0h1m12 0h2m5 0h1m4 0h1m10 0h2m2 0h1m3 0h1m10 0h1m17 0h1m7 0h1m19 0h1m7 0h3m2 0h2m11 0h1m3 0h1m7 0h1m11 0h4m1 0h1m17 0h2m5 0h1m9 0h1m18 0h1m7 0h1m9 0h1m4 0h1m7 0h1m7 0h2m10 0h1M6 12.5h2m6 0h1m4 0h1m11 0h1m24 0h1m3 0h1m1 0h2m3 0h1m1 0h1m3 0h1m38 0h1m1 0h1m14 0h1m4 0h1m19 0h1m2 0h1m2 0h1m10 0h1m11 0h1m10 0h1m8 0h1m9 0h1m54 0h1m9 0h1m33 0h1m21 0h1m3 0h2m12 0h1m7 0h1m9 0h1m29 0h1m12 0h1m14 0h1m39 0h1m1 0h1m35 0h1m34 0h2m3 0h1m1 0h1m6 0h1m51 0h1m29 0h1m44 0h1m3 0h2m1 0h1m23 0h1m7 0h1m28 0h1m17 0h1m19 0h1m28 0h1m20 0h1m20 0h1m31 0h1m9 0h1m2 0h1m65 0h1m22 0h1m2 0h1m6 0h1m4 0h1m13 0h1m1 0h1m10 0h1m50 0h1m6 0h2M8 13.5h1m16 0h1m16 0h1m49 0h1m33 0h2m3 0h1m3 0h1m3 0h2m3 0h1m16 0h1m6 0h1m17 0h1m6 0h1m2 0h1m7 0h1m8 0h1m21 0h1m3 0h1m1 0h1m1 0h2m16 0h1m29 0h1m19 0h1m1 0h1m4 0h1m5 0h1m1 0h1m7 0h1m14 0h1m24 0h1m3 0h1m3 0h1m25 0h1m15 0h1m1 0h1m12 0h1m3 0h1m10 0h1m2 0h1m31 0h1m31 0h1m4 0h2m6 0h1m3 0h2m13 0h1m3 0h2m1 0h1m7 0h1m2 0h1m2 0h1m5 0h1m5 0h1m6 0h1m1 0h1m1 0h1m2 0h1m5 0h2m17 0h3m5 0h1m6 0h1m2 0h1m3 0h1m24 0h1m22 0h1m6 0h1m2 0h2m3 0h1m1 0h1m4 0h1m5 0h1m1 0h1m11 0h1m9 0h1m4 0h1m5 0h1m36 0h1m41 0h1m1 0h1m19 0h1m16 0h1m6 0h1m3 0h1m5 0h2m8 0h1m3 0h1m9 0h1m18 0h1m9 0h1m35 0h1m3 0h1m15 0h3m17 0h1m2 0h1m20 0h1m12 0h2m18 0h1m1 0h1M5 14.5h1m4 0h1m3 0h1m4 0h1m1 0h1m2 0h1m27 0h1m7 0h1m11 0h1m2 0h1m9 0h1m29 0h1m30 0h1m8 0h2m4 0h1m32 0h1m4 0h1m4 0h1m7 0h1m1 0h1m3 0h1m16 0h1m3 0h1m7 0h1m3 0h1m10 0h1m6 0h2m1 0h2m2 0h1m8 0h1m7 0h1m31 0h1m9 0h1m6 0h1m32 0h1m6 0h1m4 0h1m3 0h1m1 0h1m5 0h1m11 0h1m1 0h1m14 0h2m1 0h1m5 0h1m1 0h1m1 0h1m11 0h1m6 0h1m2 0h2m12 0h1m9 0h1m18 0h1m12 0h1m10 0h2m30 0h1m3 0h1m2 0h1m1 0h1m28 0h1m6 0h2m2 0h1m14 0h1m1 0h1m5 0h1m11 0h1m15 0h1m12 0h1m11 0h2m15 0h1m1 0h1m8 0h2m22 0h1m6 0h2m6 0h1m7 0h1m4 0h2m9 0h1m8 0h1m4 0h1m3 0h1m11 0h1M5 15.5h1m1 0h1m1 0h1m6 0h1m1 0h1m1 0h2m2 0h1m4 0h1m2 0h2m5 0h2m7 0h1m14 0h1m2 0h2m2 0h5m4 0h1m9 0h2m3 0h1m4 0h1m1 0h1m3 0h2m2 0h1m2 0h1m15 0h1m4 0h1m4 0h2m16 0h1m1 0h1m11 0h1m3 0h1m9 0h2m6 0h1m1 0h2m3 0h1m3 0h1m8 0h2m1 0h1m10 0h1m3 0h2m10 0h3m4 0h1m6 0h1m11 0h1m2 0h1m1 0h1m4 0h1m2 0h1m4 0h1m3 0h1m3 0h1m1 0h1m8 0h2m5 0h1m10 0h1m8 0h1m3 0h1m3 0h1m3 0h1m22 0h1m2 0h1m8 0h1m6 0h1m3 0h1m2 0h1m7 0h1m2 0h1m7 0h1m1 0h1m7 0h1m13 0h1m6 0h1m9 0h1m1 0h1m11 0h2m14 0h1m7 0h1m33 0h1m4 0h1m4 0h1m4 0h1m14 0h1m5 0h1m7 0h1m6 0h2m14 0h1m7 0h1m17 0h1m3 0h1m3 0h1m2 0h1m28 0h1m14 0h1m8 0h1m2 0h1m3 0h1m5 0h1m7 0h1m10 0h1m2 0h1m7 0h1m1 0h1m19 0h1m2 0h1m7 0h1m1 0h1m2 0h1m24 0h1m16 0h1m15 0h1m12 0h1M170 16.5h1m157 0h1m33 0h1m2 0h2m3 0h1m17 0h1m4 0h1m41 0h1m51 0h1m54 0h1m93 0h1m6 0h1m3 0h1m88 0h1m35 0h1m136 0h1m36 0h1m68 0h1M172 17.5h1m1 0h1m20 0h1m4 0h1m1 0h1m14 0h1m17 0h1m10 0h1m8 0h1m35 0h1m17 0h1m1 0h1m6 0h1m20 0h2m6 0h1m28 0h1m22 0h1m28 0h1m25 0h1m48 0h1m16 0h1m14 0h1m14 0h1m7 0h1m28 0h1m55 0h1m9 0h1m14 0h1m21 0h1m97 0h1m11 0h1M48 18.5h1m50 0h1m43 0h1m96 0h1m19 0h1m23 0h1m114 0h2m1 0h1m38 0h1m10 0h1m12 0h1m5 0h1m1 0h1m6 0h2m6 0h1m31 0h2m53 0h1m3 0h1m30 0h1m126 0h1m20 0h1m4 0h2m2 0h1m10 0h1m48 0h1m143 0h1m74 0h1M13 19.5h1m23 0h3m20 0h1m8 0h1m34 0h1m2 0h2m12 0h1m1 0h1m10 0h1m18 0h1m28 0h1m54 0h1m12 0h1m13 0h1m4 0h1m1 0h1m4 0h1m19 0h1m6 0h1m18 0h2m25 0h1m12 0h1m22 0h1m26 0h1m30 0h1m10 0h1m18 0h1m3 0h1m11 0h1m2 0h1m27 0h1m1 0h1m2 0h1m71 0h1m97 0h1m33 0h1m22 0h1m79 0h1m3 0h2m8 0h1m4 0h1m15 0h4m1 0h1m2 0h1m1 0h1m3 0h1m1 0h2m5 0h1m1 0h1m2 0h1m18 0h1m5 0h1m4 0h1m3 0h1m10 0h1m17 0h1m7 0h1m4 0h1m12 0h1m3 0h1m2 0h1m20 0h1m19 0h3m9 0h1m3 0h1m4 0h1m1 0h2m1 0h1m6 0h1m1 0h2m5 0h1m1 0h1m3 0h1m4 0h1m2 0h1M0 20.5h2m2 0h3m1 0h1m1 0h2m3 0h1m1 0h1m12 0h1m8 0h1m2 0h1m1 0h2m10 0h2m3 0h2m4 0h1m5 0h2m1 0h2m1 0h1m5 0h1m2 0h2m1 0h1m5 0h1m4 0h1m4 0h2m11 0h1m2 0h2m5 0h1m9 0h3m3 0h2m10 0h1m8 0h1m3 0h1m1 0h1m3 0h1m4 0h2m2 0h1m9 0h2m2 0h1m2 0h1m1 0h3m4 0h1m2 0h1m5 0h5m2 0h1m9 0h2m1 0h1m5 0h1m2 0h1m1 0h1m16 0h4m4 0h1m1 0h1m1 0h1m1 0h1m10 0h1m1 0h1m7 0h1m15 0h1m1 0h1m7 0h1m6 0h2m2 0h1m4 0h1m4 0h1m4 0h1m9 0h2m10 0h1m2 0h1m1 0h1m14 0h1m7 0h3m4 0h1m1 0h2m1 0h1m2 0h1m2 0h2m5 0h1m2 0h1m4 0h1m4 0h1m26 0h1m1 0h3m1 0h1m2 0h2m1 0h1m6 0h1m1 0h1m25 0h1m10 0h1m6 0h1m1 0h1m5 0h2m1 0h1m2 0h2m4 0h2m2 0h2m2 0h1m10 0h1m2 0h1m8 0h1m4 0h1m6 0h1m7 0h1m11 0h1m2 0h1m7 0h1m10 0h1m13 0h1m11 0h1m11 0h1m5 0h1m3 0h2m14 0h1m2 0h1m3 0h1m4 0h1m13 0h1m18 0h2m7 0h1m5 0h2m20 0h1m13 0h1m13 0h1m11 0h1M78 21.5h1m181 0h1m20 0h1m10 0h1m41 0h1m46 0h2m4 0h1m6 0h3m1 0h1m5 0h2m2 0h1m2 0h1m1 0h1m2 0h1m2 0h2m7 0h1m3 0h1m1 0h1m6 0h1m1 0h1m36 0h1m3 0h1m122 0h1m195 0h2m1 0h1m11 0h1m1 0h1M153 22.5h1m7 0h1m17 0h1m1 0h1m18 0h1m5 0h1m8 0h2m3 0h1m7 0h1m42 0h1m7 0h1m88 0h1m11 0h2m1 0h2m6 0h2m13 0h1m4 0h1m4 0h3m2 0h1m12 0h1m18 0h1m246 0h1m53 0h2m2 0h1m2 0h1m43 0h2m1 0h1m10 0h1M1 23.5h1m5 0h1m16 0h2m6 0h2m9 0h1m2 0h1m4 0h1m7 0h1m2 0h1m8 0h1m4 0h1m3 0h1m7 0h1m3 0h1m5 0h1m28 0h2m9 0h1m33 0h1m4 0h1m3 0h1m10 0h1m11 0h1m10 0h1m2 0h1m2 0h2m3 0h1m3 0h1m11 0h1m1 0h1m1 0h1m3 0h1m11 0h1m2 0h1m1 0h1m1 0h1m10 0h1m4 0h1m10 0h1m25 0h1m12 0h1m14 0h1m2 0h1m2 0h1m13 0h1m5 0h1m17 0h1m3 0h1m2 0h1m20 0h1m1 0h1m19 0h1m5 0h1m20 0h1m6 0h1m2 0h1m7 0h1m12 0h3m7 0h1m4 0h2m7 0h1m2 0h1m12 0h1m7 0h3m3 0h1m2 0h1m34 0h1m5 0h1m5 0h2m5 0h1m2 0h1m2 0h1m2 0h1m4 0h2m1 0h2m3 0h1m2 0h1m4 0h1m4 0h1m8 0h1m1 0h3m8 0h1m10 0h1m6 0h1m5 0h2m3 0h1m5 0h1m2 0h2m23 0h2m17 0h1m1 0h1m5 0h1m2 0h1m4 0h1m2 0h1m1 0h1m1 0h1m6 0h1m1 0h2m1 0h3m2 0h1m5 0h1m2 0h2m2 0h3m16 0h1m7 0h3m1 0h1m1 0h2m2 0h3m1 0h1m5 0h1m9 0h1m9 0h1m1 0h2m5 0h1m10 0h1m10 0h1m4 0h1m4 0h1m1 0h1m7 0h1m3 0h1m1 0h1m6 0h1m6 0h1m3 0h2m4 0h1m2 0h1m4 0h1m2 0h2m3 0h1m1 0h1m3 0h1m4 0h2m7 0h1m7 0h1m17 0h1m1 0h1m3 0h1m10 0h1m2 0h1m5 0h1m3 0h1m1 0h1m5 0h1m1 0h1m2 0h2m6 0h1m1 0h1m1 0h1m5 0h1m4 0h1m4 0h1m1 0h1m2 0h1m1 0h1M2 24.5h1m27 0h1m16 0h1m1 0h1m2 0h1m3 0h1m3 0h1m6 0h1m1 0h1m33 0h1m2 0h1m8 0h1m23 0h2m3 0h1m3 0h1m2 0h1m6 0h2m1 0h3m6 0h1m8 0h1m56 0h1m1 0h1m65 0h1m5 0h1m2 0h1m24 0h1m3 0h1m10 0h1m22 0h1m4 0h1m3 0h1m6 0h1m2 0h1m4 0h1m6 0h4m2 0h1m9 0h1m3 0h1m2 0h2m1 0h1m7 0h1m1 0h2m3 0h2m1 0h1m1 0h2m1 0h1m8 0h1m2 0h1m4 0h1m4 0h1m1 0h1m2 0h1m12 0h1m1 0h1m9 0h3m5 0h1m3 0h1m3 0h1m9 0h2m1 0h1m6 0h1m5 0h1m16 0h1m8 0h1m3 0h1m4 0h1m4 0h2m6 0h1m12 0h1m7 0h1m14 0h1m4 0h1m7 0h1m4 0h1m3 0h1m2 0h1m2 0h1m10 0h2m5 0h1m3 0h1m1 0h1m2 0h1m6 0h2m15 0h3m4 0h1m7 0h1m6 0h2m18 0h1m30 0h1M1 25.5h1m2 0h1m14 0h1m8 0h1m9 0h1m2 0h1m4 0h1m2 0h1m2 0h1m19 0h1m14 0h1m4 0h1m5 0h1m2 0h1m8 0h1m4 0h1m5 0h2m1 0h1m3 0h1m1 0h1m3 0h1m3 0h1m1 0h1m1 0h1m11 0h1m5 0h1m9 0h3m1 0h3m5 0h1m13 0h2m6 0h1m6 0h3m2 0h1m8 0h1m4 0h2m12 0h3m4 0h1m2 0h1m1 0h2m11 0h1m1 0h1m6 0h1m1 0h1m1 0h1m12 0h1m11 0h2m2 0h1m3 0h1m2 0h1m16 0h1m8 0h1m3 0h1m172 0h1m4 0h1m7 0h1m2 0h1m1 0h1m5 0h2m3 0h1m7 0h1m2 0h1m5 0h1m5 0h1m15 0h1m1 0h2m6 0h2m3 0h1m6 0h1m12 0h1m2 0h3m3 0h2m5 0h1m1 0h1m5 0h1m4 0h1m2 0h1m8 0h1m2 0h1m1 0h1m3 0h1m6 0h1m2 0h1m1 0h3m1 0h2m2 0h1m3 0h1m3 0h1m2 0h2m3 0h1m4 0h1m2 0h1m3 0h3m9 0h2m10 0h1m2 0h2m1 0h1m6 0h1m2 0h1m13 0h1m13 0h2m4 0h1m6 0h1m1 0h1m114 0h1M207 26.5h1m28 0h2m27 0h1m16 0h1m4 0h1m3 0h1m15 0h1m17 0h1m49 0h1m1 0h1m4 0h2m4 0h1m4 0h1m2 0h3m2 0h2m3 0h1m2 0h1m6 0h1m16 0h2m1 0h1m4 0h2m26 0h1m10 0h2m4 0h1m4 0h1m46 0h1m9 0h1m46 0h1m28 0h1m11 0h1m10 0h1m24 0h1m91 0h1m47 0h1m58 0h1m23 0h1m17 0h1m150 0h1m19 0h1M2 27.5h1m2 0h1m9 0h1m2 0h1m7 0h1m1 0h1m1 0h1m1 0h1m5 0h1m2 0h1m9 0h3m1 0h1m4 0h1m2 0h1m5 0h1m8 0h2m1 0h2m1 0h1m4 0h1m1 0h1m9 0h1m2 0h1m5 0h2m4 0h1m7 0h1m2 0h1m9 0h1m3 0h1m6 0h1m9 0h1m1 0h1m2 0h1m5 0h1m4 0h2m6 0h2m1 0h1m8 0h2m1 0h1m11 0h1m3 0h1m13 0h1m7 0h1m1 0h1m2 0h1m5 0h1m10 0h1m6 0h1m4 0h2m2 0h1m13 0h2m14 0h1m2 0h2m10 0h1m4 0h1m4 0h1m6 0h2m4 0h2m9 0h1m2 0h1m1 0h1m4 0h1m11 0h1m5 0h1m2 0h1m7 0h1m2 0h1m1 0h1m14 0h1m11 0h1m15 0h1m1 0h2m1 0h1m3 0h1m1 0h1m4 0h1m1 0h1m1 0h1m10 0h1m2 0h2m8 0h1m5 0h1m6 0h1m10 0h1m2 0h1m1 0h1m7 0h1m6 0h1m1 0h1m6 0h2m2 0h4m3 0h1m3 0h2m3 0h1m6 0h1m6 0h1m4 0h1m2 0h2m5 0h1m5 0h1m6 0h1m8 0h1m1 0h1m1 0h1m5 0h1m15 0h1m4 0h2m1 0h1m1 0h1m11 0h1m5 0h1m4 0h1m1 0h1m5 0h1m24 0h1m5 0h3m6 0h1m2 0h1m6 0h1m11 0h1m3 0h1m3 0h1m6 0h3m4 0h1m32 0h2m245 0h1M0 28.5h1m1 0h1m1 0h1m1 0h1m3 0h1m3 0h1m1 0h1m4 0h1m17 0h1m4 0h1m12 0h1m1 0h1m2 0h1m1 0h1m3 0h1m4 0h1m2 0h1m2 0h1m1 0h2m16 0h2m2 0h2m5 0h1m1 0h1m4 0h1m3 0h2m1 0h1m4 0h1m1 0h1m4 0h2m5 0h1m14 0h2m1 0h1m5 0h1m1 0h1m2 0h1m1 0h3m11 0h1m8 0h2m3 0h1m2 0h1m2 0h2m4 0h1m1 0h1m2 0h1m1 0h2m4 0h1m1 0h1m6 0h1m1 0h2m3 0h1m14 0h1m2 0h1m1 0h3m1 0h1m2 0h2m1 0h3m1 0h3m4 0h1m2 0h4m5 0h1m7 0h1m5 0h1m2 0h1m13 0h1m2 0h1m1 0h1m12 0h1m1 0h1m1 0h1m6 0h1m1 0h1m2 0h2m6 0h2m4 0h1m5 0h1m4 0h1m1 0h1m13 0h1m6 0h1m1 0h1m4 0h1m3 0h1m1 0h1m13 0h1m1 0h1m4 0h2m5 0h1m5 0h1m1 0h5m1 0h1m1 0h1m5 0h1m1 0h1m2 0h1m2 0h1m2 0h1m5 0h1m7 0h1m1 0h1m3 0h1m1 0h1m3 0h1m2 0h1m3 0h2m6 0h2m2 0h1m17 0h1m8 0h3m2 0h1m1 0h1m1 0h1m2 0h1m4 0h1m4 0h1m9 0h1m4 0h1m20 0h2m6 0h2m2 0h1m12 0h1m1 0h1m1 0h1m5 0h1m8 0h1m1 0h1m4 0h1m1 0h1m3 0h1m2 0h1m1 0h1m7 0h1m4 0h1m3 0h1m1 0h1m6 0h1m1 0h3m3 0h1m1 0h1m1 0h1m3 0h1m3 0h2m1 0h1m8 0h1m1 0h1m1 0h2m2 0h2m10 0h1M19 29.5h1m4 0h1m1 0h1m2 0h1m35 0h1m10 0h1m2 0h1m54 0h1m58 0h2m14 0h1m5 0h1m20 0h1m28 0h1m9 0h1m2 0h1m3 0h1m23 0h1m4 0h1m11 0h1m1 0h1m1 0h2m12 0h1m4 0h1m3 0h1m86 0h1m18 0h1m5 0h1m4 0h2m2 0h1m1 0h1m55 0h1m23 0h1m5 0h1m3 0h1m1 0h1m29 0h1m32 0h1m5 0h2m5 0h2m49 0h1m51 0h1m31 0h2m2 0h1m1 0h1m5 0h1m1 0h1m4 0h2m1 0h1m23 0h2m7 0h1M111 30.5h1m102 0h1m6 0h1m32 0h1m52 0h1m3 0h1m8 0h1m14 0h1m20 0h1m10 0h1m18 0h1m27 0h1m3 0h1m9 0h1m1 0h1m1 0h1m4 0h1m45 0h2m16 0h1m5 0h1m22 0h1m1 0h2m8 0h1m2 0h1m1 0h1m3 0h1m3 0h1m3 0h1m45 0h1m3 0h1m9 0h2m19 0h1m2 0h1m4 0h1m6 0h1m1 0h1m13 0h1m8 0h1m7 0h1m2 0h1m49 0h1m7 0h1m55 0h1m34 0h1m36 0h2m1 0h1m2 0h1m8 0h1m8 0h1m10 0h1m12 0h1m10 0h1m7 0h2m14 0h1m9 0h2m3 0h1m6 0h1m2 0h2m8 0h1m9 0h1m20 0h2m12 0h1m3 0h1m23 0h1M58 31.5h1m25 0h1m6 0h2m9 0h2m10 0h1m23 0h1m20 0h1m12 0h1m22 0h1m9 0h1m13 0h1m56 0h1m19 0h1m16 0h1m7 0h1m54 0h1m4 0h1m19 0h2m8 0h1m10 0h1m4 0h1m4 0h1m5 0h1m4 0h1m4 0h1m7 0h1m3 0h2m4 0h1m14 0h1m10 0h3m35 0h1m9 0h1m7 0h1m4 0h1m24 0h1m11 0h1m11 0h1m4 0h1m11 0h1m4 0h1m36 0h1m5 0h1m14 0h1m111 0h1m24 0h1m1 0h2m9 0h1m34 0h1m9 0h1m5 0h1m2 0h1m15 0h1m19 0h3m2 0h1m4 0h1m6 0h1m1 0h2m3 0h1m4 0h1m1 0h2m1 0h1m4 0h1m4 0h3m1 0h2m10 0h1m17 0h1m2 0h1m4 0h1m8 0h1m2 0h2m10 0h1m8 0h2m4 0h1m4 0h1m8 0h1m2 0h1m7 0h5m3 0h1m5 0h3M2 32.5h1m2 0h1m2 0h5m3 0h1m1 0h1m1 0h1m3 0h1m2 0h1m3 0h1m5 0h1m2 0h1m5 0h1m4 0h1m7 0h1m3 0h1m5 0h1m10 0h1m1 0h2m1 0h1m1 0h1m3 0h1m7 0h1m13 0h1m3 0h1m4 0h2m6 0h1m4 0h2m4 0h2m1 0h1m7 0h1m2 0h1m15 0h1m6 0h1m8 0h1m4 0h2m6 0h2m10 0h2m4 0h1m6 0h1m11 0h1m1 0h1m8 0h2m3 0h3m4 0h1m5 0h1m1 0h1m5 0h1m3 0h1m1 0h1m3 0h1m20 0h1m2 0h1m6 0h1m7 0h3m2 0h1m1 0h1m6 0h2m5 0h1m14 0h1m2 0h1m1 0h1m15 0h2m4 0h3m1 0h1m4 0h1m7 0h1m1 0h1m7 0h2m3 0h3m2 0h1m14 0h1m9 0h1m1 0h1m1 0h1m5 0h2m4 0h1m7 0h1m5 0h1m8 0h2m2 0h1m2 0h1m27 0h1m8 0h1m12 0h2m1 0h1m16 0h2m3 0h1m6 0h1m9 0h1m3 0h2m3 0h1m9 0h1m17 0h1m1 0h1m8 0h1m12 0h1m5 0h1m3 0h1m3 0h1m6 0h1m6 0h1m1 0h2m4 0h1m2 0h1m11 0h1m14 0h1m7 0h1m2 0h1m10 0h1m3 0h1m13 0h1m6 0h1m1 0h4m6 0h1m11 0h2m2 0h1m2 0h1m11 0h1m2 0h1m6 0h2m7 0h2m170 0h1M2 33.5h3m4 0h1m3 0h2m1 0h1m2 0h3m9 0h1m9 0h1m1 0h1m22 0h1m1 0h3m9 0h1m9 0h1m3 0h1m3 0h1m2 0h1m16 0h2m17 0h1m1 0h1m5 0h1m1 0h2m1 0h1m3 0h1m20 0h2m15 0h2m5 0h2m6 0h1m18 0h2m1 0h1m5 0h1m4 0h1m5 0h1m11 0h1m3 0h1m3 0h1m3 0h1m1 0h1m5 0h1m7 0h2m4 0h1m7 0h1m3 0h3m1 0h1m1 0h2m8 0h1m7 0h1m2 0h1m4 0h1m2 0h2m3 0h1m7 0h1m1 0h2m13 0h1m9 0h1m1 0h1m33 0h1m38 0h1m71 0h1m12 0h1m1 0h1m7 0h1m3 0h1m12 0h1m10 0h1m17 0h1m6 0h1m8 0h1m9 0h1m15 0h1m10 0h1m13 0h1m4 0h1m7 0h1m7 0h1m2 0h1m1 0h1m3 0h1m3 0h1m2 0h1m1 0h2m5 0h1m7 0h1m3 0h1m11 0h1m20 0h1m4 0h1m3 0h1m5 0h2m22 0h2m18 0h1m24 0h1m16 0h1m20 0h1m64 0h1m1 0h1m24 0h1m29 0h1m75 0h1m18 0h1M24 34.5h1m96 0h1m7 0h1m6 0h1m4 0h2m1 0h3m2 0h1m6 0h2m1 0h1m12 0h1m5 0h1m1 0h2m3 0h1m5 0h2m1 0h1m2 0h1m1 0h1m2 0h1m1 0h1m4 0h1m7 0h1m7 0h1m1 0h1m3 0h1m5 0h1m2 0h1m1 0h1m5 0h1m8 0h1m1 0h1m5 0h3m1 0h1m10 0h1m2 0h1m5 0h1m5 0h2m2 0h1m6 0h1m5 0h1m6 0h2m2 0h1m6 0h1m2 0h1m3 0h1m1 0h1m2 0h1m6 0h3m2 0h1m4 0h1m1 0h1m1 0h1m3 0h1m12 0h1m6 0h1m15 0h1m6 0h1m3 0h1m6 0h1m11 0h1m2 0h1m22 0h1m4 0h1m2 0h1m10 0h1m7 0h1m5 0h1m4 0h1m2 0h1m7 0h2m2 0h1m6 0h2m4 0h1m1 0h1m1 0h1m9 0h1m1 0h1m7 0h1m3 0h1m7 0h3m8 0h1m1 0h1m1 0h2m1 0h2m11 0h2m5 0h1m6 0h1m7 0h1m20 0h1m7 0h1m3 0h1m4 0h2m1 0h1m3 0h1m3 0h1m9 0h1m2 0h1m2 0h1m6 0h1m6 0h1m3 0h1m5 0h1m12 0h2m2 0h2m1 0h1m5 0h1m2 0h1m2 0h1m11 0h1m7 0h1m48 0h1M63 35.5h1m61 0h1m6 0h1m8 0h1m1 0h2m4 0h1m2 0h2m1 0h2m3 0h1m14 0h1m18 0h1m5 0h1m13 0h1m20 0h1m2 0h1m7 0h1m2 0h1m2 0h1m3 0h1m6 0h1m4 0h1m7 0h1m4 0h1m2 0h1m2 0h2m1 0h1m4 0h1m1 0h1m2 0h1m3 0h1m1 0h4m9 0h4m5 0h1m7 0h1m2 0h1m3 0h1m4 0h1m3 0h1m3 0h2m1 0h1m46 0h1m20 0h1m12 0h1m1 0h2m7 0h1m2 0h2m6 0h1m7 0h2m3 0h2m2 0h1m1 0h2m3 0h2m2 0h3m1 0h1m5 0h1m2 0h1m5 0h1m14 0h2m9 0h1m13 0h1m4 0h1m9 0h2m9 0h1m11 0h2m12 0h1m7 0h1m5 0h1m18 0h1m20 0h2m3 0h5m6 0h1m3 0h1m3 0h1m6 0h2m18 0h1m5 0h1m3 0h2m14 0h1m1 0h1m8 0h1m5 0h4M34 36.5h1m134 0h1m6 0h1m3 0h2m6 0h1m9 0h1m14 0h3m1 0h1m4 0h1m3 0h1m3 0h1m8 0h1m1 0h1m30 0h1m2 0h1m5 0h2m3 0h1m5 0h1m24 0h1m2 0h2m6 0h1m3 0h1m11 0h1m15 0h1m5 0h1m10 0h1m9 0h1m13 0h1m5 0h1m3 0h3m1 0h1m6 0h1m11 0h1m2 0h2m4 0h1m4 0h1m5 0h2m4 0h1m33 0h1m3 0h1m10 0h1m6 0h2m25 0h1m7 0h1m2 0h2m12 0h1m15 0h1m8 0h1m10 0h1m12 0h1m6 0h1m5 0h2m2 0h1m6 0h1m6 0h1m20 0h1m6 0h1m19 0h1m14 0h1m74 0h1m34 0h1M3 37.5h1m2 0h1m2 0h1m4 0h2m8 0h1m3 0h1m2 0h1m2 0h1m1 0h1m2 0h1m2 0h1m2 0h1m3 0h1m5 0h1m3 0h1m5 0h1m5 0h1m4 0h1m6 0h1m6 0h1m12 0h1m2 0h1m15 0h1m31 0h1m28 0h1m5 0h1m31 0h1m22 0h1m4 0h1m2 0h2m3 0h1m4 0h1m8 0h3m1 0h1m5 0h1m5 0h1m4 0h1m7 0h1m2 0h1m2 0h1m53 0h1m1 0h1m24 0h1m2 0h1m4 0h1m7 0h1m6 0h2m2 0h2m2 0h1m7 0h1m14 0h1m10 0h1m11 0h1m3 0h1m34 0h1m15 0h1m23 0h1m4 0h1m4 0h2m7 0h1m7 0h1m4 0h1m11 0h1m5 0h2m7 0h3m1 0h1m7 0h1m18 0h3m2 0h4m2 0h1m3 0h1m12 0h1m47 0h1m95 0h1m2 0h1M0 38.5h2m1 0h1m20 0h1m15 0h1m5 0h1m2 0h1m2 0h1m7 0h1m2 0h1m3 0h1m9 0h1m2 0h1m1 0h1m1 0h1m9 0h1m5 0h1m2 0h2m6 0h1m1 0h1m2 0h1m1 0h1m1 0h1m1 0h2m2 0h1m3 0h1m1 0h1m3 0h1m5 0h1m1 0h1m4 0h1m3 0h1m1 0h1m1 0h2m15 0h1m7 0h2m16 0h1m131 0h1m14 0h1m6 0h1m4 0h1m2 0h1m4 0h1m8 0h1m9 0h3m1 0h3m4 0h2m2 0h1m1 0h2m1 0h1m1 0h1m2 0h2m1 0h2m2 0h1m7 0h1m1 0h1m3 0h1m5 0h1m14 0h2m2 0h1m5 0h1m62 0h1m12 0h1m8 0h1m16 0h1m1 0h1m1 0h1m14 0h1m10 0h1m18 0h1m18 0h1m5 0h1m13 0h1m5 0h1m6 0h2m6 0h1m4 0h1m7 0h1m1 0h1m11 0h1m5 0h1m3 0h1m6 0h1m5 0h1m4 0h1m4 0h1m2 0h2m8 0h1m47 0h2m2 0h2m2 0h1m4 0h2m3 0h1M10 39.5h1m6 0h1m1 0h1m7 0h1m7 0h1m7 0h1m8 0h2m4 0h1m2 0h2m5 0h1m7 0h1m2 0h1m1 0h1m1 0h1m1 0h1m3 0h1m27 0h1m1 0h1m35 0h1m4 0h1m1 0h1m11 0h1m8 0h1m45 0h2m5 0h1m20 0h1m13 0h1m8 0h2m2 0h1m1 0h1m1 0h1m8 0h1m2 0h1m3 0h1m11 0h1m7 0h1m1 0h2m1 0h1m29 0h1m14 0h1m8 0h1m2 0h1m7 0h2m3 0h1m5 0h2m1 0h2m3 0h2m3 0h1m1 0h2m9 0h1m3 0h1m3 0h1m14 0h1m1 0h1m13 0h1m30 0h1m1 0h1m17 0h1m19 0h1m7 0h1m38 0h1m24 0h1m7 0h1m16 0h1m5 0h1m31 0h1m8 0h1m4 0h1m3 0h1m33 0h1m31 0h1m8 0h1m6 0h2m1 0h2m9 0h1m12 0h1m3 0h1m4 0h1m3 0h1m1 0h1m2 0h1m3 0h1M13 40.5h1m19 0h1m50 0h1m31 0h1m26 0h1m53 0h1m39 0h2m16 0h1m3 0h1m6 0h1m13 0h1m1 0h1m2 0h1m35 0h1m12 0h1m32 0h1m19 0h1m88 0h1m91 0h1m7 0h1m56 0h1m36 0h1m42 0h1m6 0h2m11 0h1m4 0h1m20 0h1m8 0h2m13 0h1m1 0h1m3 0h1m4 0h1m3 0h1m1 0h2m1 0h1m1 0h2m1 0h1m185 0h1M14 41.5h1m9 0h2m3 0h3m16 0h1m1 0h1m1 0h1m7 0h1m5 0h1m1 0h1m9 0h1m2 0h1m1 0h1m20 0h1m2 0h1m12 0h1m3 0h3m4 0h1m23 0h1m17 0h1m6 0h2m37 0h1m98 0h1m16 0h2m2 0h2m10 0h1m22 0h1m3 0h1m15 0h1m140 0h1m2 0h2m15 0h1m62 0h1m58 0h1m26 0h1m5 0h1m1 0h2m2 0h1m1 0h1m3 0h1m1 0h1m2 0h1m2 0h1m5 0h1m6 0h1m4 0h1m15 0h2m88 0h1m21 0h1m5 0h1m4 0h1m22 0h1m1 0h1m36 0h1m10 0h3m1 0h2m15 0h1m8 0h1m10 0h1m22 0h1m23 0h2m4 0h1m25 0h1m8 0h1m1 0h1M0 42.5h1m4 0h1m1 0h1m9 0h3m1 0h1m10 0h1m5 0h1m2 0h1m13 0h3m5 0h1m3 0h2m1 0h1m6 0h1m5 0h1m2 0h1m7 0h1m12 0h1m49 0h1m5 0h1m35 0h1m40 0h1m50 0h1m13 0h1m32 0h1m1 0h2m185 0h1m9 0h2m10 0h1m12 0h1m4 0h1m1 0h1m29 0h1m64 0h1m37 0h1m4 0h1m11 0h1m2 0h1m7 0h1m2 0h2m14 0h1m11 0h1m1 0h3m25 0h1m1 0h1m12 0h1m14 0h1m227 0h1M6 43.5h1m14 0h1m128 0h1m617 0h1m22 0h1m9 0h1m4 0h1m1 0h1m6 0h1m14 0h1m45 0h1m7 0h1m3 0h1m76 0h1m9 0h1m25 0h1m2 0h1m3 0h1m1 0h1m77 0h1M196 44.5h1m197 0h1m200 0h1m116 0h1m20 0h1m88 0h1M2 45.5h1m81 0h1m7 0h1m23 0h2m10 0h1m75 0h1m133 0h1m53 0h1m16 0h1m70 0h1m30 0h1m203 0h1m3 0h1m51 0h1m8 0h1m2 0h1m8 0h1m3 0h1m5 0h1m1 0h1m1 0h1m5 0h1m10 0h1m9 0h1m2 0h1m1 0h3m10 0h2m2 0h2m3 0h2m3 0h1m13 0h2m1 0h1m1 0h1m2 0h2m8 0h2m6 0h2m6 0h2m3 0h1m1 0h1m1 0h1m5 0h4m1 0h2m8 0h1m3 0h2m1 0h1m1 0h1m3 0h1m1 0h1m1 0h1m16 0h1m4 0h1m9 0h1m2 0h1m6 0h1m1 0h1m6 0h1m11 0h1m11 0h1m7 0h1m1 0h1m7 0h1m1 0h1m3 0h1m1 0h1m3 0h1m1 0h1m4 0h1m6 0h1m6 0h3M0 46.5h1m12 0h1m16 0h1m9 0h1m1 0h2m22 0h1m26 0h1m7 0h1m13 0h1m21 0h1m3 0h1m24 0h1m3 0h1m3 0h1m3 0h1m4 0h1m9 0h1m3 0h1m3 0h1m5 0h3m1 0h1m1 0h1m2 0h2m8 0h1m2 0h1m1 0h1m5 0h1m2 0h1m1 0h1m13 0h1m2 0h3m5 0h1m3 0h1m12 0h1m7 0h1m10 0h1m3 0h2m3 0h1m2 0h1m1 0h2m1 0h1m1 0h1m4 0h1m1 0h1m7 0h2m1 0h2m7 0h3m8 0h1m18 0h3m3 0h1m10 0h1m7 0h2m2 0h1m5 0h1m1 0h1m2 0h1m2 0h2m1 0h1m8 0h1m1 0h2m6 0h1m5 0h1m1 0h1m1 0h1m8 0h1m7 0h1m4 0h1m1 0h1m2 0h1m5 0h1m10 0h1m6 0h3m8 0h1m5 0h1m7 0h2m1 0h1m1 0h1m6 0h1m1 0h1m2 0h1m1 0h1m1 0h1m9 0h1m14 0h1m8 0h1m6 0h1m7 0h1m3 0h1m54 0h1m29 0h1m26 0h2m32 0h2m3 0h1M2 47.5h2m9 0h1m3 0h1m2 0h1m23 0h1m8 0h2m1 0h1m1 0h2m1 0h1m2 0h1m16 0h1m3 0h1m1 0h1m2 0h1m1 0h2m3 0h1m5 0h1m3 0h1m3 0h1m9 0h2m25 0h1m2 0h1m1 0h1m6 0h1m7 0h1m2 0h1m3 0h1m1 0h1m6 0h1m1 0h1m7 0h1m7 0h1m1 0h1m11 0h1m8 0h3m16 0h1m2 0h1m8 0h1m17 0h1m3 0h1m19 0h1m5 0h1m2 0h1m16 0h2m25 0h3m6 0h2m13 0h1m5 0h1m2 0h2m1 0h2m2 0h1m2 0h1m4 0h1m5 0h1m2 0h1m1 0h1m2 0h1m2 0h1m16 0h1m4 0h1m1 0h1m1 0h2m7 0h1m24 0h1m2 0h1m4 0h1m3 0h2m7 0h1m2 0h1m1 0h2m7 0h2m11 0h1m5 0h3m3 0h1m7 0h1m7 0h1m8 0h1m1 0h1m7 0h1m4 0h1m8 0h1m27 0h1m3 0h2m36 0h1m24 0h1m27 0h1m4 0h1m3 0h1m5 0h1m2 0h2m2 0h1m7 0h1m110 0h1M4 48.5h1m9 0h2m2 0h2m1 0h1m4 0h1m8 0h1m3 0h1m9 0h1m4 0h1m3 0h1m11 0h1m12 0h1m1 0h1m4 0h1m9 0h1m9 0h1m8 0h2m7 0h1m4 0h2m1 0h1m5 0h3m2 0h1m10 0h2m17 0h1m4 0h1m1 0h4m7 0h1m3 0h1m4 0h1m5 0h3m1 0h2m1 0h1m6 0h1m16 0h1m1 0h1m17 0h1m9 0h1m8 0h2m16 0h1m1 0h1m10 0h1m5 0h1m6 0h2m15 0h1m27 0h1m20 0h2m2 0h1m12 0h1m2 0h1m11 0h2m3 0h1m3 0h1m8 0h3m5 0h1m1 0h1m1 0h2m7 0h1m3 0h1m7 0h1m1 0h2m10 0h2m5 0h2m8 0h1m13 0h1m3 0h1m5 0h1m3 0h1m3 0h2m17 0h1m15 0h1m22 0h1m5 0h1m3 0h1m1 0h1m12 0h1m8 0h1m12 0h1m2 0h1m60 0h1m10 0h1m12 0h2m5 0h1m2 0h1m14 0h1m259 0h1M11 49.5h1m30 0h1m176 0h1m147 0h1m27 0h1m23 0h1m45 0h1m8 0h2m110 0h1m40 0h1m58 0h1m75 0h1m2 0h1m16 0h1m6 0h1m1 0h1m7 0h1m12 0h1m1 0h1m1 0h1m17 0h1m3 0h2m3 0h1m10 0h2m6 0h2m10 0h1m2 0h1m1 0h1m8 0h1m4 0h1m7 0h1m3 0h1m1 0h1m6 0h1m5 0h1m1 0h2m2 0h1m5 0h1m5 0h1m5 0h1m4 0h3m1 0h1m5 0h2m1 0h1m3 0h1m3 0h1m1 0h1m5 0h1m7 0h1m1 0h1m2 0h1m1 0h1m2 0h1m10 0h1m3 0h1m5 0h1m2 0h2m4 0h1m4 0h1m23 0h1m4 0h1m4 0h2m2 0h2m1 0h1m17 0h1m2 0h1m1 0h1M39 50.5h1m229 0h1m6 0h1m3 0h1m244 0h1m95 0h1m15 0h1m24 0h1m31 0h1m4 0h1m18 0h1m1 0h1m25 0h1m11 0h5m4 0h1m43 0h1M285 51.5h1m39 0h1m17 0h1m31 0h1m192 0h1m195 0h1m23 0h1m20 0h1m3 0h1M3 52.5h1m4 0h1m3 0h1m18 0h2m7 0h1m4 0h1m3 0h1m3 0h1m6 0h1m4 0h1m7 0h1m2 0h1m9 0h1m5 0h1m1 0h1m3 0h1m7 0h1m9 0h1m4 0h1m7 0h1m16 0h1m6 0h1m1 0h1m2 0h1m16 0h1m8 0h1m6 0h1m12 0h1m5 0h1m19 0h1m5 0h1m8 0h1m4 0h1m8 0h1m4 0h2m1 0h1m4 0h2m1 0h1m1 0h1m6 0h1m5 0h1m2 0h1m2 0h1m12 0h1m16 0h1m1 0h1m1 0h1m1 0h1m2 0h1m3 0h1m2 0h2m3 0h1m1 0h1m5 0h1m2 0h1m6 0h1m1 0h1m7 0h1m7 0h1m1 0h1m1 0h1m2 0h1m2 0h1m2 0h1m11 0h1m4 0h1m1 0h2m5 0h1m7 0h1m9 0h1m1 0h2m6 0h1m2 0h2m1 0h2m1 0h2m5 0h2m4 0h2m7 0h1m2 0h1m4 0h1m1 0h2m1 0h1m5 0h1m8 0h1m11 0h2m4 0h1m1 0h1m3 0h1m3 0h2m2 0h2m1 0h1m6 0h2m1 0h1m9 0h1m4 0h1m1 0h1m1 0h2m11 0h1m4 0h1m1 0h2m2 0h1m1 0h1m3 0h1m1 0h1m2 0h1m8 0h3m6 0h1m1 0h1m5 0h2m4 0h2m1 0h1m8 0h1m2 0h1m2 0h1m3 0h1m3 0h1m1 0h1m1 0h2m4 0h1m2 0h1m1 0h1m7 0h1m18 0h2m1 0h1m16 0h1m11 0h1m12 0h2m59 0h1M4 53.5h1m89 0h1m33 0h1m152 0h1m32 0h1m10 0h1m22 0h2m90 0h1m139 0h1m112 0h1m17 0h1m122 0h1m3 0h1m1 0h1m11 0h2m1 0h1m7 0h1m12 0h1m3 0h3m8 0h1m15 0h1m2 0h1m5 0h1m9 0h4m14 0h1m7 0h1m5 0h3m2 0h2m1 0h2m5 0h1m8 0h1m11 0h1m3 0h1m1 0h1m1 0h1m13 0h2m5 0h1m3 0h1m5 0h2m14 0h1m3 0h2m4 0h1m3 0h1m2 0h1m22 0h1"/>
<path stroke="#bfff40" d="M94 0.5h1m174 0h1m50 0h1m486 0h1m18 0h1m5 0h1m24 0h1m14 0h1m24 0h1m27 0h1m2 0h1m27 0h1m3 0h2m5 0h1m23 0h1m31 0h1m59 0h1M168 1.5h2m15 0h1m5 0h1m12 0h1m24 0h1m5 0h1m8 0h1m12 0h1m8 0h1m4 0h1m3 0h1m7 0h1m2 0h1m2 0h1m48 0h1m41 0h1m75 0h1m18 0h1m7 0h1m2 0h1m21 0h1m8 0h2m2 0h1m16 0h1m2 0h2m6 0h1m19 0h1m4 0h1m19 0h1m237 0h1m3 0h4m6 0h1m3 0h1m12 0h1m22 0h1m1 0h1m1 0h1m8 0h1m5 0h1m8 0h1m6 0h2m7 0h2m6 0h1m28 0h1m21 0h1m2 0h1m1 0h1m3 0h1m2 0h1m8 0h1m2 0h1m18 0h1m19 0h1m13 0h1m10 0h1m7 0h1m3 0h1M0 2.5h1m5 0h1m3 0h1m15 0h1m18 0h1m1 0h1m6 0h1m15 0h1m3 0h3m7 0h1m3 0h1m24 0h1m4 0h2m1 0h1m234 0h1m310 0h1m20 0h1m6 0h1m9 0h1m1 0h1m2 0h1m4 0h1m1 0h1m6 0h1m6 0h1m1 0h1m10 0h2m3 0h1m3 0h1m1 0h1m8 0h1m33 0h2m1 0h1m18 0h1m15 0h1m4 0h2m46 0h1m18 0h2m71 0h1M2 3.5h1m1 0h1m2 0h1m1 0h1m2 0h2m12 0h1m2 0h1m9 0h1m1 0h2m1 0h1m8 0h1m1 0h1m7 0h2m1 0h1m7 0h2m3 0h1m5 0h1m2 0h1m1 0h1m3 0h1m3 0h1m4 0h1m10 0h1m365 0h1m173 0h2m11 0h1m2 0h3m1 0h2m5 0h1m1 0h1m5 0h1m6 0h2m1 0h1m14 0h1m2 0h1m4 0h3m1 0h1m7 0h1m2 0h1m4 0h1m9 0h2m1 0h1m3 0h1m10 0h1m2 0h1m4 0h1m3 0h2m1 0h2m1 0h1m1 0h1m1 0h1m9 0h1m8 0h1m5 0h1m3 0h1m2 0h1m2 0h1m2 0h2M118 4.5h1m18 0h1m90 0h1m140 0h1m364 0h1m13 0h1m2 0h1m24 0h2m16 0h1m1 0h1m13 0h1m10 0h1m26 0h1M0 5.5h1m7 0h1m2 0h1m2 0h2m5 0h1m14 0h1m4 0h2m2 0h1m11 0h1m8 0h1m5 0h2m11 0h1m1 0h1m4 0h1m1 0h1m2 0h2m9 0h1m3 0h1m261 0h1m5 0h1m4 0h1m1 0h1m1 0h1m12 0h1m6 0h1m1 0h1m1 0h1m2 0h1m8 0h1m8 0h1m1 0h1m1 0h1m20 0h1m6 0h1m10 0h1m14 0h1m16 0h1m6 0h1m5 0h1m84 0h1m11 0h1m32 0h1m5 0h1m7 0h2m5 0h2m8 0h1m7 0h2m8 0h3m2 0h1m6 0h3m5 0h1m4 0h1m3 0h1m1 0h1m1 0h1m2 0h1m1 0h1m6 0h2m3 0h1m1 0h2m8 0h1m31 0h2m10 0h2m7 0h1m2 0h1M0 6.5h1m2 0h2m5 0h1m9 0h1m4 0h1m4 0h1m2 0h1m1 0h1m2 0h1m13 0h1m6 0h1m9 0h2m7 0h1m7 0h1m3 0h1m13 0h2m18 0h1m3 0h1m9 0h2m1 0h1m1 0h2m10 0h1m4 0h1m46 0h1m41 0h1m27 0h1m69 0h1m15 0h1m32 0h1m78 0h1m12 0h1m2 0h1m11 0h1m13 0h1m2 0h1m12 0h1m2 0h1m2 0h1m15 0h1m3 0h1m2 0h2m2 0h1m12 0h1m38 0h1m33 0h1m1 0h1m5 0h3m1 0h1m3 0h1m6 0h1m7 0h1m2 0h1m7 0h1m6 0h1m2 0h2m10 0h4m3 0h1m10 0h1m3 0h1m4 0h1m51 0h1m5 0h1m12 0h1M7 7.5h1m3 0h1m7 0h1m1 0h1m4 0h1m3 0h2m8 0h1m7 0h1m4 0h2m1 0h1m13 0h1m2 0h1m1 0h1m1 0h1m2 0h1m8 0h1m1 0h1m8 0h1m5 0h1m1 0h1m3 0h1m10 0h1m7 0h1m18 0h1m1 0h2m5 0h1m2 0h2m11 0h1m5 0h1m15 0h1m9 0h1m15 0h1m1 0h1m20 0h1m9 0h2m9 0h2m2 0h1m3 0h1m1 0h1m2 0h1m2 0h4m4 0h1m3 0h1m1 0h2m5 0h1m1 0h1m10 0h1m8 0h1m18 0h1m29 0h1m2 0h1m2 0h2m1 0h1m11 0h1m4 0h1m34 0h1m1 0h3m9 0h3m14 0h1m2 0h1m13 0h1m4 0h1m15 0h1m1 0h1m1 0h1m2 0h1m3 0h1m23 0h1m7 0h1m4 0h1m12 0h1m21 0h1m5 0h1m16 0h1m2 0h3m27 0h2m1 0h2m21 0h1m8 0h1m8 0h2m1 0h1m1 0h1m2 0h1m4 0h1m2 0h1m5 0h1m14 0h1m3 0h1m5 0h1m1 0h1m2 0h1m3 0h2m51 0h1m5 0h1m91 0h1M249 8.5h1m14 0h1m254 0h1m40 0h1m270 0h1m5 0h2m3 0h1m8 0h2m3 0h1m22 0h1m10 0h1m2 0h3m18 0h1m7 0h1m6 0h1m2 0h1m16 0h1m3 0h1m6 0h1m1 0h1m5 0h1m2 0h1m7 0h2m4 0h2m2 0h1m11 0h1m7 0h1m4 0h1m2 0h1m5 0h2m2 0h1m1 0h1m4 0h1m5 0h1m2 0h2m5 0h1m4 0h2m5 0h1m7 0h1m9 0h4m9 0h1M27 9.5h1m12 0h1m28 0h1m18 0h1m64 0h1m12 0h1m3 0h1m3 0h2m5 0h1m5 0h1m1 0h1m1 0h1m21 0h1m6 0h1m1 0h1m3 0h1m1 0h1m13 0h1m2 0h1m2 0h1m5 0h1m9 0h2m27 0h1m81 0h2m3 0h1m2 0h1m3 0h1m2 0h1m6 0h1m7 0h2m1 0h1m5 0h1m4 0h1m1 0h1m5 0h1m5 0h1m2 0h1m1 0h3m3 0h1m30 0h1m53 0h1m30 0h1m29 0h1m12 0h1m4 0h1m27 0h1m1 0h1m116 0h1M4 10.5h1m2 0h1m6 0h2m11 0h1m10 0h1m4 0h1m9 0h1m2 0h1m7 0h1m2 0h2m2 0h3m4 0h1m92 0h1m93 0h1m13 0h1m2 0h3m21 0h1m47 0h1m25 0h1m26 0h1m4 0h1m5 0h1m4 0h1m6 0h1m2 0h5m6 0h1m23 0h1m7 0h1m3 0h2m7 0h2m1 0h2m7 0h1m9 0h1m9 0h1m5 0h1m2 0h1m44 0h1m11 0h1m51 0h1m5 0h1m7 0h1m57 0h1m2 0h1m35 0h1m48 0h2M2 11.5h1m4 0h2m4 0h1m3 0h1m16 0h1m4 0h1m27 0h1m17 0h1m23 0h1m11 0h1m1 0h2m1 0h1m279 0h1m10 0h1m17 0h1m14 0h1m40 0h1m272 0h1m27 0h1m1 0h1m63 0h1m11 0h1m3 0h1m8 0h1m8 0h1m16 0h1m38 0h1m15 0h1m26 0h1m52 0h1m23 0h1M33 12.5h1m14 0h1m3 0h1m2 0h1m3 0h1m15 0h1m65 0h1m19 0h1m30 0h1m29 0h1m76 0h1m104 0h1m66 0h1m122 0h1m45 0h1m37 0h1m58 0h1m49 0h1m36 0h1m29 0h1m47 0h1m99 0h1m18 0h1m46 0h1M17 13.5h2m15 0h1m3 0h1m58 0h1m114 0h1m25 0h1m65 0h1m14 0h1m12 0h2m49 0h1m7 0h1m15 0h1m14 0h1m138 0h1m16 0h1m32 0h1m12 0h1m20 0h2m50 0h1m9 0h1m37 0h1m23 0h1m73 0h1m16 0h1m25 0h1m8 0h1m72 0h1m40 0h1m8 0h1m12 0h1M9 14.5h1m3 0h1m6 0h1m27 0h1m7 0h1m4 0h1m49 0h1m2 0h1m5 0h1m56 0h1m41 0h1m22 0h1m6 0h1m4 0h1m22 0h1m4 0h1m26 0h1m16 0h1m96 0h1m105 0h1m2 0h1m8 0h1m10 0h1m17 0h1m27 0h1m85 0h1m5 0h1m81 0h1m25 0h3m22 0h1M10 15.5h1m4 0h1m3 0h1m18 0h1m8 0h1m4 0h1m9 0h1m2 0h1m14 0h1m7 0h1m19 0h1m4 0h1m13 0h1m13 0h1m5 0h1m4 0h2m12 0h1m1 0h2m2 0h1m2 0h1m1 0h1m2 0h1m1 0h1m18 0h2m7 0h2m9 0h1m6 0h1m8 0h1m2 0h1m12 0h1m5 0h1m5 0h1m1 0h1m2 0h1m11 0h1m6 0h1m10 0h1m6 0h1m2 0h1m22 0h1m22 0h1m17 0h1m16 0h2m76 0h2m2 0h1m2 0h1m15 0h1m38 0h1m58 0h1m7 0h1m134 0h1m2 0h1m28 0h1m19 0h1M218 16.5h1m91 0h1m40 0h1m9 0h1m172 0h1m59 0h1m249 0h1m48 0h1m7 0h1M105 17.5h1m97 0h1m2 0h1m6 0h2m1 0h1m22 0h1m25 0h1m33 0h1m3 0h1m2 0h1m23 0h2m64 0h2m329 0h1m36 0h1m304 0h1M387 18.5h1m23 0h1m63 0h1m71 0h1m37 0h1m174 0h3m17 0h1m6 0h2m3 0h2m68 0h1m8 0h1m86 0h1m18 0h1m8 0h1m45 0h1m7 0h1M51 19.5h1m51 0h1m62 0h1m122 0h1m89 0h1m84 0h1m30 0h1m32 0h1m129 0h1m168 0h2m2 0h1m2 0h1m3 0h1m1 0h1m1 0h3m10 0h1m2 0h1m3 0h3m1 0h1m4 0h1m2 0h1m4 0h1m11 0h1m5 0h2m4 0h1m4 0h1m2 0h1m4 0h1m2 0h1m1 0h2m1 0h1m3 0h1m1 0h1m1 0h3m2 0h1m1 0h1m1 0h1m1 0h1m2 0h3m1 0h1m11 0h2m6 0h1m6 0h1m5 0h1m5 0h1m2 0h1m4 0h1m2 0h1m1 0h1m1 0h1m1 0h1m12 0h2m2 0h1m3 0h1m11 0h1m5 0h2m7 0h1m2 0h1m1 0h1m2 0h1m6 0h1m2 0h1m9 0h1m3 0h1M2 20.5h2m12 0h1m3 0h1m7 0h1m7 0h1m1 0h1m12 0h1m7 0h1m9 0h1m5 0h1m2 0h1m1 0h1m9 0h1m7 0h1m4 0h1m1 0h1m10 0h3m6 0h1m6 0h1m1 0h2m12 0h1m2 0h1m3 0h2m17 0h1m1 0h1m12 0h1m3 0h1m4 0h2m2 0h1m5 0h1m1 0h2m2 0h1m2 0h2m7 0h1m3 0h1m5 0h1m9 0h1m7 0h2m1 0h1m3 0h1m3 0h2m8 0h1m2 0h1m5 0h1m1 0h3m1 0h4m5 0h1m9 0h2m2 0h2m6 0h1m1 0h1m4 0h1m4 0h1m1 0h1m4 0h1m17 0h5m16 0h1m4 0h1m5 0h1m12 0h3m3 0h2m12 0h1m2 0h1m2 0h2m1 0h1m21 0h1m27 0h1m4 0h1m6 0h1m17 0h1m3 0h1m6 0h1m13 0h1m3 0h1m1 0h1m2 0h1m6 0h1m42 0h2m3 0h1m2 0h1m12 0h1m16 0h1m3 0h2m18 0h1m3 0h1m13 0h1m128 0h1M231 21.5h1m147 0h1m6 0h1m5 0h2m12 0h1m8 0h1m7 0h1m5 0h2m4 0h1m2 0h1m50 0h1m307 0h1m10 0h3M172 22.5h1m40 0h1m7 0h1m176 0h1m5 0h1m8 0h1m14 0h1m10 0h1m374 0h1M28 23.5h1m5 0h1m14 0h1m8 0h1m5 0h1m5 0h1m30 0h2m1 0h1m2 0h2m3 0h1m9 0h1m13 0h1m30 0h1m40 0h1m1 0h1m1 0h1m12 0h1m95 0h1m7 0h1m90 0h1m32 0h1m8 0h1m16 0h1m14 0h1m32 0h2m1 0h1m12 0h1m2 0h1m7 0h2m46 0h1m1 0h2m6 0h1m1 0h1m2 0h1m3 0h1m4 0h1m7 0h1m4 0h1m5 0h1m7 0h1m8 0h3m10 0h1m2 0h2m4 0h3m11 0h1m4 0h1m6 0h2m8 0h1m4 0h1m3 0h1m1 0h1m4 0h2m6 0h1m25 0h1m3 0h1m16 0h1m29 0h1m4 0h1m4 0h1m13 0h1m13 0h1m34 0h1m39 0h1m2 0h2m7 0h1m4 0h1m76 0h1m5 0h1m5 0h1m1 0h1m6 0h2m22 0h1m4 0h2m3 0h1m1 0h1m4 0h1m4 0h1M18 24.5h1m38 0h1m20 0h1m7 0h1m24 0h1m33 0h1m9 0h1m84 0h1m67 0h1m31 0h1m33 0h2m2 0h1m1 0h1m17 0h2m3 0h1m48 0h1m18 0h1m5 0h1m6 0h1m1 0h1m1 0h1m4 0h1m7 0h2m35 0h1m1 0h2m5 0h1m25 0h1m18 0h1m13 0h1m47 0h1m12 0h2m7 0h2m1 0h1m10 0h2m45 0h1m2 0h1m8 0h1m1 0h1m48 0h1M2 25.5h2m6 0h2m4 0h1m3 0h2m2 0h1m6 0h5m6 0h1m5 0h1m2 0h1m5 0h1m6 0h1m1 0h1m1 0h1m7 0h2m3 0h2m1 0h1m6 0h1m5 0h1m1 0h1m2 0h1m2 0h1m3 0h1m3 0h1m3 0h1m8 0h1m2 0h1m1 0h1m1 0h1m10 0h3m1 0h1m2 0h1m4 0h1m6 0h1m3 0h1m1 0h1m16 0h1m7 0h2m3 0h1m2 0h1m4 0h1m9 0h1m18 0h3m13 0h2m11 0h2m10 0h1m5 0h1m7 0h3m2 0h1m3 0h1m234 0h1m5 0h1m2 0h1m29 0h1m10 0h1m2 0h1m12 0h3m1 0h1m20 0h1m10 0h1m19 0h3m3 0h1m2 0h2m1 0h1m5 0h3m1 0h1m12 0h1m2 0h2m6 0h1m3 0h1m4 0h2m11 0h1m15 0h2m2 0h1m12 0h1m8 0h1m4 0h1m2 0h1m4 0h1m2 0h3m1 0h1m1 0h1m5 0h1m2 0h2m1 0h1m7 0h1m3 0h1m5 0h1M39 26.5h1m179 0h1m8 0h1m11 0h1m140 0h1m2 0h1m4 0h1m9 0h1m4 0h1m3 0h1m30 0h1m4 0h1m3 0h1m1 0h1m3 0h1m4 0h1m2 0h1m21 0h2m242 0h1m38 0h1m8 0h2m2 0h1m59 0h1m46 0h1m55 0h1m34 0h1m12 0h1m68 0h1M0 27.5h2m17 0h1m4 0h1m12 0h1m4 0h2m2 0h1m17 0h1m27 0h2m6 0h1m2 0h1m3 0h1m12 0h1m8 0h1m3 0h1m2 0h1m3 0h1m9 0h2m9 0h1m11 0h1m12 0h1m5 0h1m3 0h1m42 0h1m2 0h1m1 0h1m4 0h3m1 0h1m4 0h1m3 0h1m9 0h1m4 0h1m4 0h1m10 0h1m20 0h1m12 0h1m30 0h2m3 0h2m1 0h1m8 0h3m4 0h1m3 0h1m1 0h1m20 0h1m19 0h1m1 0h1m5 0h1m16 0h1m17 0h1m5 0h1m1 0h3m11 0h1m2 0h2m4 0h1m2 0h1m4 0h1m5 0h1m4 0h1m7 0h1m4 0h1m2 0h2m10 0h1m4 0h1m5 0h1m3 0h1m11 0h1m21 0h1m30 0h1m58 0h1m29 0h1m29 0h2m96 0h2m188 0h1M15 28.5h1m1 0h1m10 0h3m3 0h1m1 0h3m6 0h3m1 0h1m13 0h1m5 0h2m1 0h1m1 0h1m3 0h1m4 0h1m25 0h1m32 0h1m6 0h1m2 0h1m1 0h1m1 0h2m5 0h1m13 0h1m3 0h1m1 0h1m9 0h1m6 0h1m9 0h1m7 0h1m1 0h1m2 0h2m17 0h1m1 0h1m17 0h1m3 0h1m2 0h1m2 0h1m3 0h1m6 0h1m13 0h2m1 0h1m4 0h1m1 0h2m3 0h1m2 0h1m3 0h1m1 0h1m24 0h1m3 0h1m6 0h1m6 0h1m3 0h1m13 0h1m1 0h1m40 0h2m1 0h1m6 0h1m1 0h1m1 0h1m28 0h1m1 0h1m5 0h1m1 0h1m5 0h1m5 0h1m2 0h1m12 0h1m3 0h1m10 0h2m3 0h1m2 0h1m1 0h1m1 0h2m4 0h1m5 0h1m3 0h1m3 0h2m8 0h1m1 0h1m2 0h4m4 0h1m2 0h1m9 0h1m9 0h1m30 0h1m4 0h2m10 0h1m5 0h1m2 0h1m1 0h1m4 0h1m3 0h1m1 0h1m4 0h1m2 0h1m2 0h1m1 0h1m3 0h2m3 0h1m4 0h1m1 0h1m3 0h1m5 0h1m16 0h1m1 0h1m11 0h1m55 0h1m18 0h1m13 0h1M4 29.5h1m279 0h1m48 0h1m22 0h1m4 0h1m124 0h1m56 0h1m11 0h1m49 0h1m152 0h1m1 0h1m10 0h1m30 0h4m1 0h1m1 0h1m4 0h1m173 0h1m79 0h1M63 30.5h1m163 0h1m70 0h1m15 0h1m77 0h1m29 0h1m18 0h1m6 0h2m2 0h1m42 0h1m45 0h1m21 0h1m9 0h1m63 0h1m3 0h1m16 0h1m15 0h1m2 0h1m26 0h1m61 0h1m28 0h1m10 0h1m20 0h1m14 0h2m9 0h1m4 0h1m2 0h1m1 0h3m1 0h1m14 0h1m23 0h2m1 0h1m4 0h1m3 0h2m3 0h2m2 0h1m10 0h1m1 0h1m1 0h1m10 0h1m3 0h1m9 0h1m6 0h1m5 0h2m18 0h1m3 0h1m16 0h2m7 0h1m2 0h2m7 0h1m2 0h3m2 0h6m6 0h2m1 0h1m4 0h1m2 0h1m1 0h4m4 0h2m1 0h2m2 0h1m2 0h1M188 31.5h1m35 0h1m24 0h1m49 0h1m54 0h1m22 0h1m30 0h2m6 0h1m9 0h1m1 0h1m6 0h1m15 0h1m38 0h2m10 0h1m25 0h1m25 0h1m25 0h1m10 0h1m42 0h1m72 0h1m53 0h1m15 0h1m4 0h1m5 0h1m8 0h1m8 0h1m3 0h1m2 0h1m6 0h1m41 0h1m2 0h1m6 0h1m2 0h1m3 0h1m2 0h1m5 0h1m14 0h1m2 0h1m4 0h1m2 0h1m16 0h1m4 0h1m3 0h1m6 0h1m33 0h1m3 0h1m10 0h1m2 0h1m7 0h1m6 0h1m8 0h2m2 0h1m15 0h1m5 0h1m9 0h1m17 0h1m12 0h2M0 32.5h1m2 0h1m22 0h1m18 0h1m2 0h2m2 0h2m1 0h2m3 0h1m10 0h1m5 0h3m12 0h3m25 0h1m3 0h1m3 0h1m3 0h1m1 0h1m4 0h1m3 0h1m12 0h2m4 0h2m2 0h2m51 0h1m15 0h1m8 0h1m17 0h1m8 0h2m46 0h1m9 0h1m3 0h1m40 0h2m17 0h1m8 0h1m7 0h1m16 0h1m40 0h1m16 0h1m32 0h1m2 0h1m15 0h1m5 0h1m9 0h1m9 0h1m25 0h1m9 0h1m12 0h1m2 0h1m5 0h1m5 0h1m20 0h1m14 0h1m37 0h1m8 0h2m2 0h1m13 0h1m1 0h1m2 0h1m7 0h1m3 0h1m3 0h3m9 0h1m13 0h1m2 0h1m1 0h1m2 0h1m6 0h1m1 0h1m2 0h1m6 0h1m7 0h2m3 0h1M0 33.5h2m4 0h1m54 0h1m9 0h1m3 0h1m1 0h1m21 0h2m3 0h1m15 0h1m8 0h1m8 0h1m4 0h1m18 0h2m2 0h1m3 0h1m10 0h1m1 0h3m8 0h1m2 0h1m38 0h1m70 0h1m55 0h1m1 0h1m2 0h1m177 0h1m4 0h1m13 0h1m12 0h1m1 0h1m41 0h1m29 0h1m2 0h1m2 0h1m2 0h1m16 0h2m7 0h1m1 0h1m17 0h1m7 0h1m15 0h1m4 0h1m8 0h1m8 0h1m4 0h1m1 0h1m1 0h1m14 0h1m18 0h1m4 0h4m4 0h1m2 0h2M94 34.5h1m23 0h2m13 0h1m4 0h1m4 0h1m7 0h2m1 0h2m6 0h1m5 0h1m1 0h1m4 0h1m14 0h1m10 0h1m1 0h1m1 0h1m2 0h1m7 0h1m6 0h1m2 0h1m1 0h1m9 0h1m5 0h1m6 0h1m19 0h1m4 0h1m13 0h1m2 0h1m9 0h2m12 0h2m2 0h2m3 0h1m5 0h1m11 0h1m12 0h2m7 0h1m24 0h1m5 0h1m9 0h1m30 0h2m2 0h1m6 0h1m2 0h2m6 0h1m7 0h3m9 0h1m2 0h1m6 0h1m31 0h1m28 0h1m2 0h2m10 0h1m1 0h2m3 0h1m10 0h4m1 0h1m4 0h1m3 0h1m1 0h1m24 0h3m2 0h1m3 0h1m3 0h2m4 0h1m47 0h1m8 0h1m5 0h2m2 0h1m7 0h1m10 0h1m11 0h1m6 0h1m1 0h1M135 35.5h1m3 0h2m1 0h1m3 0h1m15 0h1m7 0h1m3 0h1m16 0h2m5 0h1m2 0h1m7 0h1m1 0h2m10 0h2m4 0h1m12 0h1m7 0h1m10 0h1m4 0h1m2 0h2m9 0h1m8 0h1m3 0h1m11 0h1m4 0h1m14 0h1m1 0h1m2 0h2m3 0h1m4 0h1m4 0h1m22 0h1m88 0h1m14 0h2m9 0h1m1 0h1m3 0h1m8 0h1m6 0h1m1 0h1m9 0h1m8 0h2m3 0h1m1 0h2m3 0h1m13 0h2m13 0h2m1 0h1m6 0h1m1 0h2m17 0h2m3 0h3m1 0h1m2 0h1m13 0h1m11 0h1m1 0h2m1 0h1m4 0h1m5 0h1m12 0h1m2 0h1m14 0h1m60 0h1M153 36.5h1m13 0h1m24 0h1m10 0h1m19 0h1m1 0h1m30 0h2m10 0h1m15 0h1m4 0h1m28 0h1m6 0h1m7 0h1m6 0h1m22 0h1m15 0h1m3 0h2m9 0h1m1 0h2m18 0h1m4 0h1m3 0h2m5 0h1m2 0h1m5 0h1m2 0h1m5 0h1m2 0h1m4 0h2m16 0h1m1 0h1m3 0h1m2 0h1m1 0h2m4 0h1m7 0h1m2 0h1m26 0h1m126 0h1m20 0h1m1 0h1m30 0h1m32 0h1m5 0h1M1 37.5h1m6 0h1m7 0h1m8 0h3m1 0h1m7 0h1m13 0h1m16 0h1m1 0h1m4 0h1m4 0h3m6 0h1m33 0h1m44 0h1m125 0h1m35 0h1m48 0h1m1 0h1m12 0h1m26 0h1m15 0h1m15 0h1m111 0h1m19 0h1m25 0h1m9 0h1m20 0h2m1 0h1m1 0h1m22 0h1m44 0h1M6 38.5h1m6 0h1m1 0h1m1 0h1m13 0h1m16 0h1m1 0h2m3 0h4m9 0h1m2 0h2m2 0h2m9 0h1m4 0h1m5 0h1m1 0h1m1 0h1m4 0h1m5 0h1m1 0h1m10 0h1m2 0h1m2 0h1m6 0h2m40 0h1m125 0h1m68 0h1m3 0h1m20 0h1m4 0h1m4 0h1m19 0h2m5 0h1m23 0h1m181 0h1m16 0h3m10 0h1m4 0h1m1 0h2m2 0h3m3 0h1m2 0h1m12 0h1m1 0h1m5 0h1m5 0h1m2 0h1m2 0h1m15 0h2m6 0h2m6 0h1m1 0h1m44 0h1m1 0h1m3 0h1m2 0h1m5 0h1M1 39.5h1m2 0h1m7 0h1m2 0h1m2 0h1m6 0h2m6 0h1m14 0h1m2 0h1m4 0h1m6 0h1m2 0h1m3 0h1m11 0h1m1 0h1m3 0h1m20 0h1m35 0h1m1 0h1m8 0h1m6 0h1m84 0h1m36 0h1m1 0h1m89 0h2m1 0h1m8 0h2m1 0h1m7 0h2m13 0h1m6 0h1m5 0h1m9 0h1m2 0h1m2 0h1m39 0h1m4 0h1m12 0h1m64 0h1m22 0h1m36 0h1m74 0h1m12 0h1m24 0h2m11 0h1m4 0h1m5 0h2m5 0h1m3 0h1m6 0h1m12 0h1m5 0h1m21 0h1M139 40.5h1m107 0h1m8 0h1m3 0h2m5 0h1m10 0h1m43 0h1m68 0h1m25 0h1m126 0h1m85 0h1m98 0h1m31 0h1m10 0h1m5 0h1m3 0h1m8 0h2m3 0h1m7 0h1m8 0h1m3 0h1m1 0h2M6 41.5h1m2 0h1m2 0h1m2 0h1m5 0h1m16 0h2m9 0h1m3 0h2m8 0h1m8 0h3m2 0h1m2 0h1m4 0h3m40 0h1m57 0h1m179 0h2m290 0h1m44 0h1m1 0h1m3 0h1m5 0h1m10 0h1m4 0h1m2 0h2m4 0h1m5 0h1m6 0h2m3 0h1m4 0h1m47 0h1m63 0h1m15 0h1m155 0h1m8 0h1m10 0h1M1 42.5h1m8 0h3m12 0h1m2 0h1m6 0h1m1 0h1m11 0h2m1 0h1m7 0h1m1 0h1m10 0h1m15 0h1m77 0h1m86 0h1m37 0h1m246 0h1m163 0h2m4 0h1m3 0h5m2 0h1m2 0h6m9 0h2m18 0h2m10 0h3m6 0h1m1 0h1m7 0h1m6 0h1m3 0h1m2 0h1m1 0h1m8 0h1m2 0h1m4 0h1M117 43.5h1m339 0h1m253 0h1m47 0h1m4 0h1m5 0h1m21 0h2m8 0h1m13 0h2m22 0h1m17 0h1m64 0h1m54 0h2m2 0h1m5 0h1m4 0h1m2 0h1m1 0h1m7 0h1m13 0h1m40 0h1m19 0h2M436 44.5h1m336 0h1m13 0h1m36 0h1M69 45.5h1m112 0h1m11 0h1m3 0h1m17 0h1m485 0h1m57 0h2m3 0h1m1 0h1m4 0h2m3 0h1m3 0h1m2 0h1m2 0h1m3 0h1m1 0h1m1 0h1m21 0h1m4 0h1m21 0h1m47 0h1m6 0h2m2 0h1m4 0h1m12 0h1m10 0h1m2 0h1m18 0h1m4 0h1m21 0h1m16 0h1m10 0h1m22 0h1m9 0h1m25 0h1m1 0h1m12 0h1M12 46.5h1m49 0h1m6 0h1m58 0h1m5 0h1m33 0h2m3 0h1m12 0h1m3 0h1m4 0h1m2 0h1m11 0h1m3 0h1m3 0h1m2 0h3m6 0h1m14 0h1m1 0h3m1 0h3m1 0h1m1 0h1m4 0h5m1 0h1m5 0h3m2 0h1m6 0h1m4 0h1m7 0h1m4 0h1m16 0h1m3 0h2m1 0h1m2 0h1m15 0h1m11 0h1m1 0h2m4 0h2m1 0h1m15 0h1m11 0h1m11 0h1m1 0h1m8 0h1m2 0h1m5 0h1m4 0h1m13 0h1m3 0h1m2 0h2m4 0h1m7 0h1m8 0h1m3 0h1m4 0h2m1 0h1m7 0h1m11 0h1m7 0h3m15 0h1m7 0h1m25 0h2M0 47.5h1m9 0h1m5 0h1m13 0h1m4 0h1m24 0h1m4 0h1m13 0h1m64 0h2m1 0h1m9 0h1m3 0h2m22 0h1m1 0h1m24 0h1m6 0h1m1 0h1m7 0h1m1 0h1m38 0h1m103 0h1m17 0h1m7 0h2m7 0h1m4 0h1m6 0h3m2 0h1m1 0h3m13 0h1m4 0h1m7 0h1m19 0h1m2 0h1m1 0h1m7 0h1m19 0h1m8 0h1m8 0h1m4 0h2m4 0h1m6 0h3m17 0h1m1 0h1m119 0h1m27 0h1m12 0h1m6 0h1m111 0h1m187 0h2M16 48.5h1m17 0h1m11 0h1m4 0h1m11 0h1m10 0h1m4 0h1m7 0h1m17 0h1m1 0h1m3 0h1m20 0h1m2 0h1m2 0h1m1 0h2m8 0h1m3 0h2m4 0h1m17 0h1m4 0h1m14 0h1m1 0h1m1 0h1m6 0h1m10 0h1m6 0h1m1 0h1m7 0h2m3 0h1m5 0h1m11 0h1m4 0h1m9 0h1m3 0h1m25 0h1m1 0h1m7 0h1m6 0h1m13 0h1m1 0h1m8 0h2m4 0h1m21 0h1m3 0h2m2 0h3m12 0h1m12 0h1m1 0h1m4 0h1m7 0h1m16 0h1m38 0h1m1 0h1m14 0h1m11 0h1m11 0h1m54 0h1m26 0h1m4 0h1m15 0h1m39 0h1m34 0h1m19 0h1m10 0h1m1 0h1m10 0h1m300 0h1M332 49.5h1m54 0h1m26 0h1m136 0h1m15 0h1m134 0h1m13 0h1m42 0h3m2 0h1m5 0h1m4 0h1m4 0h2m1 0h1m2 0h1m3 0h1m87 0h1m2 0h1m13 0h1m19 0h1m39 0h2m12 0h1m15 0h1m3 0h1m7 0h1m12 0h1m3 0h1m7 0h1m5 0h1m12 0h1m3 0h1m2 0h1m22 0h1m17 0h1M315 50.5h1m30 0h1m96 0h1m252 0h1m17 0h1m7 0h1m5 0h1m16 0h1m17 0h1m12 0h1m102 0h1m70 0h1M759 51.5h1m3 0h1M28 52.5h1m4 0h1m10 0h1m10 0h2m2 0h1m10 0h1m6 0h1m2 0h1m7 0h1m10 0h1m9 0h2m12 0h1m13 0h1m6 0h1m2 0h1m1 0h1m6 0h1m24 0h1m15 0h1m21 0h1m23 0h1m13 0h1m2 0h1m2 0h1m4 0h1m1 0h1m7 0h1m28 0h1m3 0h2m1 0h1m2 0h1m9 0h1m25 0h1m24 0h1m3 0h1m12 0h1m7 0h1m1 0h1m4 0h1m15 0h1m6 0h1m1 0h1m12 0h1m3 0h1m10 0h1m29 0h1m2 0h1m21 0h1m5 0h1m3 0h1m2 0h1m3 0h2m9 0h1m8 0h1m2 0h1m1 0h2m3 0h2m5 0h1m25 0h1m1 0h2m2 0h1m1 0h1m4 0h1m4 0h1m7 0h1m4 0h1m3 0h1m2 0h4m5 0h1m1 0h1m9 0h1m3 0h1m15 0h1m2 0h1m3 0h1m10 0h1m3 0h1m3 0h1m2 0h1m7 0h1m2 0h1m4 0h2m3 0h1m3 0h2m4 0h2m10 0h1m99 0h1m188 0h1M16 53.5h1m301 0h1m306 0h1m211 0h1m5 0h1m13 0h1m1 0h1m15 0h1m3 0h1m14 0h1m7 0h2m7 0h1m6 0h1m14 0h1m4 0h6m7 0h1m3 0h2m4 0h2m13 0h3m7 0h1m3 0h1m12 0h1m10 0h1m7 0h1m28 0h2m7 0h1m3 0h1m3 0h1m3 0h1m14 0h2m2 0h1"/>
<path stroke="#cfff30" d="M74 0.5h1m753 0h1m1 0h1m9 0h1m13 0h1m29 0h1m20 0h1m77 0h1m18 0h1m13 0h2m13 0h1m3 0h1m8 0h1m1 0h2m28 0h2m6 0h1m5 0h1M180 1.5h1m86 0h1m6 0h1m7 0h1m62 0h1m130 0h1m4 0h1m10 0h1m42 0h1m297 0h1m57 0h1m14 0h1m16 0h1m29 0h1m37 0h1m12 0h1m3 0h1m69 0h1m7 0h1m4 0h1M1 2.5h1m1 0h1m10 0h1m12 0h1m1 0h1m4 0h4m1 0h1m1 0h1m1 0h1m15 0h1m4 0h1m2 0h2m2 0h1m20 0h1m4 0h1m16 0h1m1 0h1m5 0h1m543 0h1m8 0h2m7 0h1m16 0h1m2 0h1m9 0h1m14 0h2m3 0h1m2 0h1m20 0h1m6 0h2m51 0h1M16 3.5h2m7 0h1m4 0h1m9 0h1m5 0h1m4 0h1m5 0h3m2 0h1m7 0h1m5 0h1m3 0h2m4 0h1m2 0h1m2 0h1m4 0h1m11 0h2m1 0h2m13 0h1m528 0h1m12 0h1m18 0h1m17 0h1m5 0h2m5 0h1m1 0h1m3 0h1m3 0h1m2 0h1m3 0h1m1 0h1m5 0h1m1 0h1m3 0h1m3 0h1m3 0h1m3 0h1m1 0h1m4 0h1m5 0h1m5 0h1m9 0h1m3 0h1m2 0h1m2 0h1m1 0h3m12 0h1m7 0h1M356 4.5h1m376 0h1m40 0h1m4 0h2m27 0h1m228 0h1M1 5.5h1m7 0h1m3 0h1m11 0h1m1 0h2m9 0h2m8 0h1m9 0h1m1 0h1m7 0h1m1 0h1m3 0h1m6 0h1m8 0h1m2 0h1m24 0h1m8 0h1m9 0h1m156 0h1m82 0h2m5 0h1m8 0h2m10 0h1m17 0h1m4 0h1m10 0h1m22 0h1m7 0h1m72 0h1m113 0h1m5 0h3m3 0h2m7 0h1m2 0h1m5 0h1m2 0h1m14 0h1m1 0h2m7 0h2m1 0h2m14 0h1m2 0h1m1 0h1m1 0h1m2 0h1m3 0h2m1 0h1m2 0h1m43 0h2m1 0h1m46 0h1M1 6.5h1m16 0h1m29 0h1m1 0h1m24 0h1m8 0h1m8 0h1m17 0h1m10 0h1m9 0h2m6 0h1m1 0h1m9 0h3m2 0h1m3 0h1m1 0h1m72 0h1m38 0h1m88 0h1m55 0h1m97 0h1m3 0h3m1 0h2m2 0h1m4 0h1m5 0h1m28 0h1m1 0h1m82 0h2m8 0h1m1 0h1m5 0h1m18 0h2m1 0h2m2 0h1m6 0h1m1 0h1m5 0h2m14 0h1m6 0h1m59 0h1m4 0h2m2 0h1m2 0h1M9 7.5h1m3 0h1m6 0h1m4 0h1m10 0h1m2 0h1m24 0h1m7 0h1m10 0h1m1 0h1m8 0h1m4 0h1m11 0h1m14 0h1m55 0h1m28 0h1m3 0h2m12 0h1m20 0h1m22 0h1m2 0h1m97 0h1m5 0h1m18 0h2m41 0h1m18 0h1m21 0h1m55 0h1m4 0h1m5 0h1m10 0h1m24 0h1m20 0h1m38 0h1m34 0h1m5 0h1m18 0h1m6 0h3m5 0h1m4 0h1m4 0h2m65 0h1m1 0h1m1 0h1m6 0h1M160 8.5h1m238 0h1m432 0h4m23 0h1m4 0h1m1 0h2m2 0h1m3 0h2m2 0h1m4 0h1m1 0h2m1 0h1m9 0h1m1 0h1m1 0h1m2 0h1m2 0h2m14 0h1m2 0h1m8 0h1m4 0h1m1 0h1m8 0h1m8 0h1m4 0h1m8 0h1m6 0h1m11 0h1m2 0h1m1 0h1m4 0h1m5 0h1m1 0h1m7 0h3m7 0h1m10 0h1m3 0h1m2 0h2m1 0h2m1 0h1m10 0h1m1 0h3m2 0h1m4 0h1m6 0h2m3 0h1m1 0h1m3 0h1M16 9.5h1m121 0h1m13 0h1m26 0h2m12 0h1m50 0h1m123 0h1m22 0h2m10 0h2m8 0h1m6 0h1m5 0h1m16 0h1m37 0h1m26 0h1m40 0h3m50 0h1m39 0h1m19 0h1m30 0h1m19 0h1M18 10.5h1m69 0h1m66 0h1m219 0h1m6 0h2m24 0h1m2 0h1m7 0h1m1 0h1m9 0h1m8 0h1m12 0h1m13 0h1m4 0h1m14 0h1m3 0h1m2 0h2m10 0h1m16 0h1m22 0h1m83 0h1m46 0h1M0 11.5h1m5 0h1m14 0h1m406 0h1m464 0h1m107 0h1m8 0h1m67 0h1M0 12.5h1M14 13.5h1m377 0h1m65 0h1m100 0h1m81 0h1m6 0h1m6 0h1m350 0h1M15 14.5h1m2 0h1m124 0h1m1 0h1m35 0h1m13 0h1m91 0h1m2 0h1m77 0h1m168 0h1m89 0h1m1 0h1M35 15.5h1m28 0h1m21 0h1m10 0h1m4 0h1m12 0h3m11 0h1m12 0h1m1 0h2m25 0h1m7 0h1m25 0h2m1 0h1m9 0h1m3 0h2m3 0h1m13 0h1m3 0h1m1 0h2m1 0h1m1 0h1m10 0h1m2 0h1m8 0h1m3 0h2m185 0h1m98 0h1m30 0h1m23 0h1m103 0h1m239 0h1m68 0h1M159 16.5h1m265 0h1m409 0h1m18 0h1m24 0h1m22 0h1m4 0h1m14 0h1m77 0h1m19 0h1M532 17.5h1m81 0h1m85 0h1m205 0h1M265 18.5h1m135 0h1m48 0h1m41 0h1m39 0h1m233 0h1m2 0h1m5 0h1m1 0h1m1 0h1m1 0h1m1 0h3m4 0h2m2 0h1m56 0h1m16 0h1m3 0h1m30 0h2m27 0h1m8 0h1m18 0h1m13 0h1m66 0h1m28 0h1m20 0h1m3 0h1M61 19.5h1m192 0h1m196 0h1m66 0h1m322 0h1m17 0h1m13 0h1m8 0h1m2 0h2m7 0h1m18 0h1m22 0h1m12 0h1m4 0h1m4 0h1m1 0h1m3 0h1m1 0h1m10 0h2m1 0h2m2 0h1m1 0h1m7 0h1m2 0h2m1 0h1m1 0h1m3 0h1m1 0h2m5 0h1m5 0h1m2 0h1m4 0h2m3 0h1m7 0h1m3 0h1m2 0h1m13 0h1m5 0h1m8 0h1m7 0h1m1 0h4M21 20.5h1m15 0h1m28 0h1m14 0h1m18 0h2m13 0h1m5 0h2m3 0h1m4 0h1m1 0h1m2 0h1m15 0h3m26 0h1m5 0h2m6 0h1m5 0h1m7 0h1m6 0h1m2 0h1m11 0h1m5 0h1m6 0h1m3 0h1m4 0h1m2 0h1m23 0h1m8 0h1m7 0h1m29 0h1m4 0h1m3 0h1m7 0h1m7 0h1m11 0h2m14 0h1m13 0h1m27 0h1m4 0h1m82 0h1m20 0h1m17 0h1m17 0h1m3 0h1m7 0h1m63 0h2m12 0h1M385 21.5h1m2 0h1m18 0h1m34 0h1m350 0h1m2 0h1m14 0h1M170 22.5h1m206 0h1m22 0h1m4 0h1m1 0h1m32 0h1M5 23.5h1m23 0h1m1 0h1m4 0h1m109 0h1m64 0h1m7 0h1m270 0h1m14 0h1m13 0h1m40 0h1m49 0h1m12 0h1m17 0h1m12 0h1m3 0h1m23 0h1m30 0h1m5 0h1m22 0h1m2 0h1m5 0h1m31 0h1m6 0h1m36 0h1m30 0h1m1 0h1m9 0h2m7 0h1m61 0h1m17 0h1m12 0h1m3 0h1m46 0h1m33 0h1M154 24.5h1m50 0h1m22 0h1m150 0h1m37 0h1m48 0h1m14 0h1m96 0h1m67 0h1m23 0h1m4 0h1m18 0h2m58 0h1m305 0h1M6 25.5h1m8 0h1m11 0h1m8 0h1m2 0h1m10 0h1m5 0h1m8 0h1m9 0h1m24 0h1m5 0h1m7 0h1m26 0h1m11 0h1m1 0h1m2 0h2m1 0h2m10 0h1m5 0h1m3 0h2m18 0h1m4 0h2m14 0h1m10 0h1m6 0h2m3 0h1m19 0h1m2 0h1m14 0h2m2 0h1m7 0h3m16 0h1m223 0h1m43 0h1m11 0h1m12 0h1m10 0h1m9 0h1m7 0h1m2 0h1m1 0h1m2 0h1m7 0h2m15 0h1m6 0h1m20 0h1m11 0h1m20 0h2m5 0h1m8 0h1m19 0h2m1 0h1m1 0h1m3 0h3m2 0h1m3 0h1m5 0h1m7 0h1m1 0h1m1 0h1m1 0h2m2 0h1m6 0h1m3 0h2M340 26.5h1m53 0h2m18 0h1m5 0h1m19 0h1m10 0h1m3 0h1m27 0h1m3 0h1m2 0h1m279 0h4m7 0h1m56 0h1m25 0h2m15 0h1m43 0h1m43 0h1m61 0h1m30 0h1m19 0h1M36 27.5h1m7 0h1m21 0h1m18 0h1m8 0h1m19 0h1m3 0h2m3 0h1m15 0h1m22 0h1m14 0h1m58 0h1m15 0h1m1 0h2m41 0h1m33 0h1m24 0h1m3 0h1m6 0h1m11 0h1m7 0h1m24 0h1m9 0h1m28 0h1m6 0h1m4 0h1m4 0h2m9 0h1m6 0h1m6 0h1m29 0h1m1 0h1m2 0h1m17 0h1m6 0h1M26 28.5h1m15 0h1m28 0h1m5 0h1m56 0h2m2 0h1m21 0h1m1 0h1m3 0h1m19 0h2m4 0h1m1 0h1m9 0h1m6 0h1m1 0h1m11 0h1m34 0h1m21 0h1m31 0h1m51 0h1m7 0h1m8 0h1m19 0h1m3 0h2m3 0h1m21 0h1m5 0h3m9 0h1m4 0h1m11 0h1m11 0h2m8 0h2m1 0h1m1 0h1m14 0h1m15 0h1m8 0h3m5 0h1m3 0h1m10 0h1m69 0h1m31 0h2m2 0h1m41 0h1m4 0h1m2 0h2m12 0h3M542 29.5h1m222 0h5m4 0h2m17 0h2m6 0h1m6 0h1m8 0h1m114 0h1m51 0h1m55 0h1m4 0h1m35 0h1M570 30.5h1m75 0h1m60 0h1m63 0h1m9 0h1m56 0h2m10 0h1m4 0h2m2 0h2m9 0h1m2 0h1m5 0h1m1 0h1m3 0h2m1 0h1m9 0h1m4 0h3m2 0h1m2 0h1m1 0h1m14 0h1m1 0h2m1 0h2m2 0h1m3 0h1m5 0h1m4 0h1m3 0h1m6 0h2m7 0h1m3 0h4m3 0h1m3 0h2m2 0h2m1 0h1m1 0h2m10 0h1m15 0h1m4 0h1m1 0h2m23 0h4m20 0h2m3 0h1m5 0h1m2 0h1M380 31.5h1m31 0h1m28 0h2m95 0h1m220 0h1m7 0h1m13 0h1m35 0h1m34 0h2m20 0h1m14 0h1m5 0h1m47 0h1m1 0h1m3 0h1m5 0h1m6 0h1m9 0h1m6 0h1m8 0h1m12 0h1m20 0h1m59 0h1m6 0h1m5 0h1M6 32.5h2m31 0h1m21 0h2m4 0h2m1 0h1m2 0h1m2 0h1m48 0h3m3 0h1m15 0h1m11 0h3m107 0h1m134 0h1m16 0h1m33 0h1m137 0h1m36 0h1m48 0h1m4 0h1m3 0h1m3 0h2m5 0h1m2 0h2m1 0h3m1 0h1m8 0h1m1 0h1m1 0h2m1 0h3m1 0h1m2 0h1m13 0h3m3 0h1m13 0h1m3 0h1m2 0h1m5 0h1m14 0h1m1 0h1m1 0h2m12 0h1m4 0h1m7 0h2M5 33.5h1m2 0h1m75 0h1m45 0h1m37 0h1m72 0h1m15 0h1m41 0h1m257 0h1m46 0h1m21 0h1m29 0h1m6 0h2m4 0h1m2 0h2m2 0h1m3 0h1m24 0h1m27 0h3m3 0h3m1 0h2m3 0h1m1 0h2m14 0h2m2 0h1m13 0h1m3 0h1m12 0h1m5 0h1m8 0h3m2 0h1M137 34.5h1m2 0h1m9 0h1m10 0h1m20 0h1m10 0h1m21 0h1m8 0h1m18 0h1m2 0h1m6 0h1m4 0h1m9 0h1m6 0h1m6 0h1m14 0h1m26 0h1m6 0h1m8 0h1m4 0h1m7 0h1m14 0h1m35 0h1m45 0h1m65 0h1m4 0h1m20 0h1m9 0h1m14 0h1m49 0h1m70 0h2m28 0h1M151 35.5h1m6 0h1m10 0h1m7 0h1m4 0h1m1 0h1m1 0h1m1 0h1m6 0h1m1 0h1m5 0h3m2 0h1m1 0h1m2 0h1m4 0h1m2 0h2m3 0h3m1 0h1m27 0h1m37 0h1m49 0h1m4 0h1m3 0h1m36 0h1m84 0h1m10 0h1m19 0h1m3 0h1m5 0h1m3 0h1m18 0h1m1 0h1m1 0h1m5 0h1m4 0h2m1 0h1m2 0h2m2 0h1m2 0h1m6 0h1m1 0h1m6 0h1m4 0h2m1 0h1m1 0h3m4 0h1m5 0h1m4 0h1m3 0h1m3 0h1m8 0h2m12 0h1m12 0h1m1 0h1m13 0h1m47 0h1M187 36.5h1m7 0h1m3 0h1m28 0h1m18 0h1m97 0h1m32 0h1m10 0h3m7 0h1m2 0h1m3 0h1m1 0h1m1 0h1m13 0h1m6 0h1m20 0h1m12 0h1m1 0h1m1 0h1m16 0h1m8 0h2m2 0h1m6 0h1m3 0h2m59 0h1m31 0h1M2 37.5h1m4 0h1m4 0h1m22 0h1m14 0h1m1 0h1m1 0h1m5 0h1m5 0h1m6 0h1m11 0h1m50 0h1m141 0h1m37 0h1m118 0h1m171 0h1m19 0h1m2 0h1m15 0h1M4 38.5h1m2 0h1m1 0h2m1 0h1m12 0h2m9 0h2m3 0h1m2 0h1m8 0h2m4 0h1m2 0h1m2 0h1m3 0h2m2 0h2m3 0h2m3 0h1m5 0h1m2 0h1m15 0h3m16 0h1m1 0h1m7 0h1m269 0h1m1 0h1m7 0h1m2 0h1m60 0h1m6 0h1m45 0h1m109 0h1m30 0h2m17 0h1m2 0h1m7 0h1m13 0h1m19 0h1m1 0h1m2 0h1m3 0h1m3 0h1m57 0h1m7 0h2M34 39.5h1m34 0h1m3 0h1m4 0h1m1 0h1m110 0h1m53 0h1m59 0h1m70 0h1m2 0h1m4 0h1m11 0h1m1 0h1m3 0h1m13 0h2m6 0h1m4 0h1m3 0h1m33 0h1m14 0h1m85 0h1m86 0h1m110 0h1m11 0h1m21 0h1m14 0h1M136 40.5h1m125 0h2m7 0h1m490 0h1m3 0h1m13 0h2m4 0h1m10 0h1m4 0h1m12 0h1m5 0h1M7 41.5h1m8 0h1m59 0h1m121 0h1m503 0h1m3 0h1m1 0h1m5 0h1m17 0h1m14 0h1m2 0h2m3 0h1m4 0h1m1 0h1m38 0h1m2 0h1m2 0h1m2 0h1m10 0h1M8 42.5h1m7 0h1m22 0h2m4 0h1m28 0h1m16 0h1m144 0h1m19 0h1m315 0h1m25 0h1m111 0h1m1 0h1m22 0h1m6 0h1m2 0h1m16 0h1m12 0h1m9 0h1m1 0h1m9 0h1m14 0h2m1 0h1M763 43.5h1m50 0h1m30 0h1m8 0h1m23 0h1m4 0h1m5 0h1m1 0h1m14 0h1m1 0h1m5 0h1m3 0h2m5 0h1m8 0h1m4 0h1m26 0h1m7 0h1m1 0h2m11 0h1m1 0h1m17 0h1m2 0h2m10 0h4m4 0h1m6 0h1m9 0h4m3 0h1m6 0h1m25 0h1M141 44.5h1m105 0h1m521 0h1m1 0h2m6 0h1m9 0h1m208 0h1M33 45.5h1m444 0h1m44 0h1m234 0h1m10 0h2m8 0h1m2 0h1m2 0h1m3 0h1m52 0h1m99 0h1m12 0h1m49 0h1m2 0h1m6 0h1m53 0h1m4 0h2m4 0h1M31 46.5h1m140 0h1m30 0h1m2 0h1m8 0h1m3 0h1m21 0h1m8 0h1m22 0h1m3 0h1m2 0h1m4 0h1m4 0h1m41 0h2m29 0h1m23 0h1m11 0h1m13 0h1m3 0h1m11 0h1m28 0h1m26 0h1m9 0h1m16 0h1m40 0h1m4 0h1m10 0h1m127 0h1m56 0h1M1 47.5h1m5 0h2m46 0h1m10 0h1m128 0h1m190 0h1m24 0h2m5 0h2m15 0h1m12 0h1m17 0h1m8 0h1m23 0h1m26 0h1m14 0h1m14 0h1m15 0h1m101 0h1m1 0h1M30 48.5h1m26 0h1m6 0h1m28 0h1m20 0h1m12 0h1m17 0h1m42 0h1m5 0h1m10 0h1m13 0h1m30 0h1m15 0h2m2 0h1m56 0h1m15 0h1m68 0h1m2 0h2m2 0h1m31 0h1m53 0h1m4 0h1m198 0h1m42 0h1m213 0h1M393 49.5h1m369 0h1m7 0h3m13 0h2m41 0h1m212 0h1m10 0h1m4 0h1M1 50.5h1m766 0h1m4 0h1m1 0h1m1 0h1m4 0h1m174 0h1m115 0h2M563 51.5h1m196 0h3m85 0h1m188 0h1M9 52.5h1m24 0h1m34 0h1m42 0h2m45 0h1m2 0h2m44 0h1m62 0h1m2 0h1m102 0h1m3 0h1m35 0h1m11 0h1m19 0h1m18 0h1m19 0h1m31 0h1m49 0h1m19 0h1m5 0h1m5 0h1m22 0h1m4 0h1m11 0h1m5 0h1m15 0h1m4 0h1m13 0h1m9 0h2m6 0h2m2 0h1m12 0h1m28 0h1m20 0h1m78 0h1m188 0h1M825 53.5h1m18 0h1m5 0h1m32 0h1m24 0h2m9 0h2m11 0h1m14 0h2m5 0h1m29 0h2m5 0h1m36 0h2m62 0h2"/>
<path stroke="#dfff20" d="M834 0.5h1m1 0h2m12 0h1m8 0h1m4 0h1m5 0h1m23 0h1m1 0h1m3 0h2m2 0h1m9 0h1m4 0h1m7 0h1m2 0h1m1 0h2m8 0h1m6 0h1m12 0h3m1 0h1m1 0h1m3 0h1m12 0h1m22 0h1m3 0h1m9 0h1m18 0h2m9 0h2m13 0h1m2 0h1m3 0h1m13 0h2M480 1.5h1m12 0h1m4 0h1m356 0h1m51 0h1m24 0h1m154 0h1M2 2.5h1m4 0h1m7 0h3m1 0h1m1 0h1m10 0h1m7 0h1m7 0h1m14 0h1m1 0h2m2 0h1m2 0h1m4 0h1m8 0h1m13 0h1m7 0h1m3 0h1m2 0h1m1 0h1m544 0h1m91 0h1m53 0h1M18 3.5h2m51 0h2m4 0h1m6 0h1m2 0h1m3 0h1m561 0h1m7 0h2m2 0h1m21 0h1m13 0h1m5 0h1m7 0h1m4 0h1m10 0h1m11 0h1m5 0h1m10 0h1m2 0h1m10 0h1m5 0h1m8 0h1m7 0h1m9 0h2m4 0h2m7 0h1M770 4.5h1m4 0h1m2 0h1m6 0h2m60 0h1m1 0h1m53 0h1m132 0h1m1 0h1M2 5.5h1m3 0h1m5 0h1m3 0h2m6 0h1m7 0h1m4 0h1m6 0h1m2 0h1m1 0h1m2 0h1m3 0h1m2 0h1m2 0h2m3 0h1m3 0h1m3 0h1m7 0h1m7 0h1m8 0h1m302 0h1m4 0h1m13 0h1m231 0h1m1 0h1m3 0h1m23 0h1m14 0h1m11 0h1m6 0h1m14 0h1m7 0h1m67 0h1m37 0h1m188 0h2M8 6.5h1m44 0h1m6 0h1m6 0h2m7 0h1m35 0h1m46 0h1m317 0h1m53 0h1m21 0h1m173 0h1m22 0h1m49 0h1m14 0h4M0 7.5h1m9 0h1m30 0h1m10 0h1m16 0h1m4 0h1m6 0h1m2 0h1m7 0h1m176 0h1m4 0h1m120 0h1m1 0h1m43 0h1m68 0h2m207 0h1m32 0h1M261 8.5h1m577 0h1m1 0h1m8 0h1m2 0h1m1 0h1m2 0h1m2 0h1m6 0h1m2 0h2m19 0h1m6 0h1m13 0h1m5 0h2m9 0h1m3 0h1m4 0h1m6 0h1m7 0h1m3 0h1m4 0h1m1 0h1m1 0h1m5 0h1m3 0h2m4 0h1m3 0h1m2 0h1m7 0h1m3 0h1m16 0h1m5 0h1m9 0h1m10 0h2m9 0h1m1 0h2m10 0h1m16 0h1m3 0h1M6 9.5h1m194 0h1m47 0h1m5 0h1m7 0h1m27 0h1m3 0h1m1 0h1M74 10.5h1m306 0h1m9 0h1m11 0h1m10 0h1m5 0h1m40 0h1m26 0h1m16 0h1m137 0h1m151 0h1M110 11.5h1m744 0h1m21 0h1m91 0h1M300 12.5h1m448 0h1M347 13.5h1m47 0h1m233 0h1M59 14.5h1m2 0h1m97 0h1m117 0h1m261 0h1m265 0h1M34 15.5h1m52 0h1m60 0h1m18 0h1m10 0h1m40 0h2m30 0h1m3 0h1m2 0h1m10 0h1m29 0h1m11 0h1M600 16.5h1m67 0h1m1 0h1m169 0h1m4 0h1m22 0h1m2 0h1m25 0h1m13 0h3m5 0h1m7 0h1m16 0h1m2 0h1m21 0h2m9 0h2m11 0h1m45 0h1m37 0h1m2 0h1M182 17.5h1m668 0h1m218 0h1M403 18.5h1m35 0h1m114 0h1m204 0h1m12 0h1m3 0h1m67 0h1m5 0h1m9 0h1m3 0h1m13 0h1m17 0h1m15 0h1m36 0h1m3 0h1m3 0h1m5 0h1m3 0h1m7 0h1m5 0h1m7 0h3m3 0h1m1 0h1m3 0h2m28 0h1m11 0h2m18 0h1m2 0h1m25 0h1M53 19.5h1m70 0h1m128 0h1m606 0h1m15 0h1m10 0h1m5 0h1m12 0h1m5 0h1m2 0h1m10 0h1m24 0h3m10 0h1m4 0h1m2 0h2m16 0h1m26 0h1m3 0h1m6 0h2m11 0h2m6 0h1m1 0h1m9 0h1m1 0h1m19 0h2m8 0h3M112 20.5h1m14 0h1m34 0h1m27 0h1m22 0h1m15 0h1m15 0h1m30 0h1m8 0h1m62 0h1m19 0h1m234 0h1M792 21.5h1M429 22.5h1m2 0h1m131 0h1m239 0h1m2 0h1m8 0h1M175 23.5h1m37 0h1m6 0h1m390 0h1m78 0h1m23 0h2m5 0h1m4 0h1m5 0h1m48 0h1m143 0h1m24 0h1m43 0h1M264 24.5h1m150 0h1m45 0h1m37 0h1m7 0h1m11 0h1m172 0h1m52 0h1M5 25.5h1m34 0h1m2 0h1m11 0h1m2 0h1m1 0h1m42 0h1m14 0h1m6 0h1m13 0h1m3 0h1m13 0h1m22 0h1m58 0h1m35 0h1m12 0h1m266 0h1m52 0h1m14 0h1m15 0h1m4 0h1m7 0h1m11 0h1m20 0h1m3 0h1m26 0h2m3 0h1m6 0h1m7 0h1m3 0h1m22 0h1m6 0h1m41 0h1m1 0h3m1 0h1M268 26.5h1m6 0h1m154 0h1m334 0h1m2 0h1m5 0h2m3 0h1m59 0h1m20 0h1m7 0h2m16 0h1m2 0h1m3 0h1m3 0h1m12 0h2m11 0h2m41 0h1m3 0h1m48 0h1m21 0h1m1 0h1m10 0h1m10 0h1m7 0h1M45 27.5h1m44 0h1m61 0h1m4 0h1m40 0h1m1 0h1m62 0h1m2 0h1m169 0h1m87 0h1m81 0h1m33 0h1M1 28.5h1m25 0h1m142 0h1m7 0h3m10 0h1m7 0h1m3 0h1m33 0h1m9 0h1m9 0h1m27 0h1m17 0h1m29 0h1m17 0h1m45 0h1m17 0h1m35 0h1m15 0h1m52 0h1m9 0h1m16 0h1m18 0h1m6 0h1m11 0h1m29 0h1m56 0h1M761 29.5h2m18 0h1m4 0h1m13 0h1m5 0h1m3 0h1m2 0h1m5 0h3m2 0h1m12 0h1m19 0h2m4 0h1m6 0h1m45 0h1m6 0h1m11 0h1m35 0h1m33 0h1m45 0h1m28 0h1M765 30.5h1m6 0h1m3 0h1m2 0h2m5 0h1m1 0h1m33 0h1m10 0h1m1 0h1m8 0h2m11 0h1m8 0h1m1 0h1m3 0h1m2 0h2m18 0h1m1 0h1m2 0h1m19 0h3m3 0h1m5 0h1m2 0h1m19 0h1m5 0h2m6 0h1m14 0h1m13 0h1m4 0h1m6 0h2m3 0h1m7 0h1m24 0h2m10 0h2m4 0h1m12 0h1m9 0h1m2 0h1M190 31.5h1m364 0h1m220 0h1m3 0h1m3 0h1m2 0h1m3 0h2m151 0h1m14 0h1m94 0h1M89 32.5h2m42 0h1m3 0h1m12 0h1m25 0h1m68 0h1m189 0h1m73 0h1m121 0h1m58 0h1m13 0h1m11 0h2m1 0h1m14 0h1m2 0h1m2 0h1m1 0h1m1 0h1m37 0h1m22 0h1M37 33.5h1m93 0h1m522 0h1m10 0h1m8 0h1m6 0h1m56 0h1m33 0h2m11 0h3m2 0h1m5 0h1m12 0h1m16 0h1M134 34.5h1m4 0h1m39 0h1m6 0h1m23 0h1m100 0h1m16 0h2m173 0h1m55 0h1m82 0h1m47 0h1m52 0h1M129 35.5h1m6 0h1m31 0h1m4 0h1m4 0h1m8 0h1m14 0h1m4 0h1m7 0h1m1 0h1m1 0h1m11 0h1m94 0h1m129 0h1m27 0h1m17 0h1m7 0h1m8 0h1m3 0h1m4 0h2m9 0h2m3 0h1m16 0h1m9 0h1m1 0h1m10 0h1m1 0h1m2 0h1m2 0h1m1 0h1m11 0h1m4 0h1m13 0h2m8 0h1m4 0h1m1 0h1m4 0h2m17 0h1m2 0h1m4 0h1m1 0h1m172 0h1m188 0h1M182 36.5h3m20 0h1m142 0h1m25 0h1m5 0h1m11 0h2m4 0h1m4 0h1m13 0h1m11 0h2m32 0h1m2 0h1m5 0h1m2 0h1m1 0h1m1 0h2m16 0h1m5 0h1m4 0h1m69 0h1m270 0h1m188 0h1M38 37.5h1m14 0h1m32 0h1m347 0h1M2 38.5h1m5 0h1m5 0h1m1 0h1m1 0h2m1 0h1m6 0h2m31 0h1m4 0h1m14 0h1m6 0h1m1 0h1m50 0h1m282 0h1m270 0h1m13 0h1m11 0h2m31 0h1m51 0h1M39 39.5h1m24 0h1m455 0h1M244 40.5h1m322 0h1m206 0h1m13 0h1m1 0h1m8 0h1m10 0h1m3 0h1M1 41.5h1m67 0h1m9 0h1m288 0h1m48 0h1m272 0h1m28 0h1m1 0h1m1 0h1m9 0h1m10 0h1m7 0h1m6 0h1m1 0h1m29 0h1m10 0h2m1 0h2m2 0h1m4 0h1m1 0h1m2 0h2m2 0h2m154 0h1M6 42.5h1m7 0h1m60 0h1m96 0h1m493 0h1m62 0h1m16 0h1m1 0h1m3 0h1m21 0h1m11 0h1m11 0h1m9 0h4m8 0h1m2 0h1m1 0h2M841 43.5h1m1 0h1m7 0h1m1 0h1m2 0h1m2 0h2m4 0h1m1 0h1m1 0h1m5 0h1m6 0h1m12 0h1m5 0h1m5 0h1m7 0h1m41 0h1m9 0h1m19 0h1m6 0h1m2 0h1m2 0h1m2 0h1m1 0h1m9 0h2m1 0h2m2 0h2m5 0h1m1 0h1m2 0h1m9 0h3m7 0h2m1 0h2m5 0h1m5 0h1m2 0h1m1 0h3m5 0h2m1 0h1m6 0h1m1 0h1M716 44.5h1m57 0h1m50 0h1m27 0h1m148 0h1m88 0h1m3 0h1M759 45.5h1m4 0h1m1 0h1m1 0h1m5 0h3m47 0h1m7 0h1m10 0h1m10 0h1M224 46.5h1m44 0h1m18 0h1m99 0h1m6 0h1m19 0h1m64 0h1m1 0h1m73 0h1M27 47.5h1m126 0h1m48 0h1m102 0h1m153 0h1m79 0h1m16 0h1M24 48.5h1m55 0h1m72 0h1m9 0h1m12 0h1m29 0h1m69 0h1m463 0h1M824 49.5h2m1 0h1m3 0h1m57 0h1m97 0h1m41 0h2M659 50.5h1m46 0h1m59 0h1m2 0h1m9 0h1m1 0h1m1 0h1m77 0h1m195 0h1m23 0h1m11 0h1M758 51.5h1m30 0h1m2 0h1m54 0h1m1 0h1m186 0h1m1 0h1M143 52.5h1m65 0h1m59 0h1m109 0h1m4 0h1m16 0h1m67 0h1m53 0h1m29 0h1m55 0h1m3 0h1m32 0h1m82 0h1m6 0h1m111 0h1m188 0h1M858 53.5h1m38 0h1m85 0h1"/>
<path stroke="#efff10" d="M829 0.5h1m1 0h1m1 0h1m1 0h1m2 0h1m3 0h1m2 0h1m7 0h1m2 0h1m4 0h1m1 0h1m3 0h1m10 0h2m3 0h1m2 0h2m1 0h1m1 0h1m3 0h1m3 0h1m9 0h1m1 0h1m4 0h1m12 0h1m1 0h1m8 0h2m3 0h1m1 0h1m9 0h2m6 0h1m5 0h1m6 0h1m3 0h1m3 0h2m1 0h1m2 0h3m2 0h1m6 0h1m4 0h1m5 0h1m3 0h1m1 0h1m11 0h2m4 0h2m4 0h1m3 0h1m9 0h1m2 0h1m6 0h1m3 0h1m1 0h1m2 0h2m1 0h2m2 0h1m5 0h1M510 1.5h1m50 0h1M9 2.5h1m10 0h1m3 0h1m6 0h1m10 0h1m6 0h1m5 0h1m17 0h1m13 0h1m5 0h1m609 0h1m2 0h1m2 0h1m1 0h1m24 0h1m60 0h1m114 0h1M14 3.5h1m68 0h1m579 0h1m66 0h1m14 0h1m2 0h1m19 0h1m2 0h2m46 0h1m3 0h1M766 4.5h1m6 0h1m8 0h2m3 0h1M3 5.5h1m1 0h1m13 0h2m5 0h1m2 0h2m9 0h1m10 0h1m17 0h1m10 0h1m8 0h1m563 0h1m8 0h1m17 0h1m31 0h1m18 0h1m12 0h1m3 0h1m54 0h2M635 6.5h1m45 0h1m126 0h1m40 0h1m188 0h1M27 7.5h1m1 0h1m49 0h1m50 0h1m151 0h1m69 0h1m109 0h1m338 0h1M830 8.5h1m26 0h1m11 0h1m55 0h1m2 0h1m6 0h1m1 0h1m4 0h1m1 0h1m3 0h1m1 0h2m7 0h1m36 0h1m8 0h1m1 0h2m9 0h1m12 0h1m32 0h1m13 0h1M369 9.5h1m307 0h1M81 11.5h1M146 15.5h1m8 0h1M837 16.5h2m3 0h2m2 0h1m6 0h1m3 0h1m2 0h1m1 0h1m18 0h1m4 0h1m1 0h1m1 0h1m8 0h1m3 0h1m2 0h1m3 0h1m4 0h1m2 0h1m1 0h1m2 0h3m2 0h1m20 0h1m3 0h1m7 0h1m2 0h1m12 0h1m1 0h1m8 0h1m5 0h2m1 0h1m3 0h1m7 0h1m21 0h2m1 0h1m36 0h1m2 0h1m3 0h1m7 0h1m1 0h1M911 17.5h1m65 0h1m14 0h1m25 0h1M600 18.5h1m185 0h1m39 0h1m6 0h1m11 0h1m9 0h3m3 0h1m1 0h1m10 0h1m1 0h1m5 0h1m3 0h1m6 0h2m3 0h1m2 0h1m11 0h2m10 0h2m8 0h2m9 0h2m6 0h1m4 0h1m8 0h1m4 0h1m10 0h2m2 0h1m15 0h1m5 0h3m26 0h1m2 0h1m2 0h1m2 0h1m1 0h2m5 0h1m4 0h1m9 0h2m1 0h1M856 19.5h1m31 0h1m12 0h2m24 0h1m58 0h1m37 0h1m15 0h1m25 0h1m8 0h1M113 20.5h1m14 0h1m240 0h1M777 21.5h1m230 0h1M430 22.5h1m201 0h1m166 0h1m3 0h1m7 0h2M276 23.5h1m403 0h1m141 0h1M142 24.5h1m196 0h1m53 0h1M25 25.5h1m3 0h1m14 0h2m89 0h1m104 0h1m49 0h1m392 0h1m36 0h1m30 0h1m12 0h1m55 0h1M700 26.5h1m77 0h1m57 0h2m3 0h1m14 0h1m1 0h1m13 0h2m8 0h1m1 0h1m5 0h1m16 0h1m4 0h1m1 0h2m1 0h1m12 0h1m3 0h1m7 0h1m20 0h2m3 0h1m18 0h1m2 0h1m1 0h1m2 0h1m1 0h1m22 0h2m2 0h1m7 0h1m13 0h1m3 0h1m1 0h1m2 0h1m2 0h1m8 0h1m3 0h1m2 0h1m5 0h1m4 0h1M83 27.5h1m246 0h1m177 0h1M133 28.5h1m534 0h1m20 0h1m50 0h1M759 29.5h1m4 0h1m8 0h1m37 0h2m17 0h1m7 0h1m21 0h1m1 0h1m4 0h1m17 0h1m7 0h1m8 0h1m3 0h1m1 0h1m19 0h2m8 0h1m4 0h1m1 0h2m67 0h1m9 0h1m14 0h1m10 0h1m12 0h1m29 0h1m1 0h1M500 30.5h1m267 0h3m14 0h1m1 0h1m27 0h1m8 0h1m1 0h1m1 0h1m5 0h1m16 0h1m10 0h1m8 0h1m2 0h1m12 0h1m1 0h1m1 0h1m2 0h1m1 0h1m5 0h1m7 0h1m6 0h1m11 0h1m9 0h1m18 0h1m9 0h1m4 0h1m19 0h1m8 0h1m3 0h1m2 0h1m4 0h1m1 0h4m5 0h1m9 0h1m38 0h1m20 0h1M765 31.5h2m2 0h1m1 0h1m2 0h1m3 0h1m4 0h1m6 0h1m2 0h1M517 32.5h1m173 0h1m23 0h1m20 0h1m6 0h1m37 0h1m15 0h1m3 0h1m2 0h1m3 0h1m9 0h1M7 33.5h1m662 0h1m76 0h1m1 0h1m25 0h1m3 0h2m30 0h1m12 0h2M206 34.5h1m275 0h1m87 0h1M150 35.5h1m6 0h1m3 0h1m4 0h2m3 0h1m7 0h1m5 0h1m7 0h1m2 0h1m19 0h1m8 0h1m294 0h2m10 0h1m79 0h1m6 0h2m1 0h1m20 0h1m1 0h1m201 0h1M347 36.5h1m34 0h1m2 0h1m2 0h1m16 0h1m8 0h1m3 0h1m8 0h1m8 0h1m31 0h1m1 0h1m36 0h1m528 0h1M18 37.5h1m267 0h1M11 38.5h1m8 0h1m9 0h1m4 0h1m2 0h1m4 0h1m43 0h1m608 0h1m43 0h1m12 0h1M545 39.5h1m228 0h1M532 40.5h1m227 0h1m3 0h1M738 41.5h2m1 0h1m3 0h1m46 0h1m1 0h5m9 0h1m6 0h1m1 0h1m59 0h1M732 42.5h1m3 0h2m6 0h1m2 0h1m53 0h1m2 0h1m14 0h1m4 0h1M829 43.5h1m1 0h1m2 0h1m1 0h1m1 0h2m2 0h1m3 0h1m8 0h1m1 0h1m12 0h1m1 0h1m1 0h1m2 0h1m1 0h1m7 0h1m2 0h1m7 0h3m4 0h1m6 0h2m2 0h1m7 0h1m1 0h1m1 0h1m11 0h1m4 0h1m3 0h1m3 0h1m4 0h1m1 0h1m7 0h1m2 0h3m6 0h1m5 0h1m5 0h1m6 0h1m7 0h1m6 0h1m13 0h1m4 0h1m1 0h1m4 0h1m1 0h1m4 0h1m5 0h1m13 0h1m3 0h1m2 0h1m3 0h1m11 0h2M766 44.5h2m2 0h1m9 0h1m110 0h2m42 0h1m6 0h1m37 0h2m46 0h1m21 0h1m16 0h1M825 45.5h1m1 0h3m111 0h1M133 46.5h1m57 0h1m33 0h1m13 0h1m6 0h1m7 0h1m26 0h1m16 0h1m1 0h1m33 0h1M80 47.5h1m393 0h1M223 48.5h1m182 0h1m21 0h1m73 0h1M828 49.5h1M268 50.5h1m326 0h1m178 0h1m5 0h1m3 0h2m95 0h1m9 0h1m15 0h1m12 0h1m35 0h1m14 0h1m43 0h1m10 0h1m27 0h1m17 0h1M765 51.5h1M117 52.5h1m262 0h1m151 0h1m134 0h1m56 0h1m10 0h1m79 0h1"/>
<path stroke="#ff0" d="M839 0.5h1m3 0h1m8 0h1m2 0h1m6 0h1m2 0h2m1 0h1m5 0h4m4 0h1m2 0h1m6 0h1m5 0h1m4 0h1m4 0h1m8 0h2m1 0h3m13 0h1m1 0h1m4 0h1m2 0h1m5 0h1m6 0h1m9 0h1m7 0h1m2 0h1m3 0h1m5 0h1m8 0h1m6 0h1m3 0h2m6 0h1m7 0h1m1 0h3m17 0h1m1 0h1m9 0h2m1 0h1m1 0h1m5 0h2m13 0h1m5 0h2M522 1.5h1M18 2.5h1m6 0h1m36 0h1m18 0h1M78 3.5h1m3 0h1m577 0h1m55 0h1m1 0h1m74 0h1m26 0h1m4 0h1M772 4.5h1m8 0h1m70 0h1m33 0h1m91 0h1M10 5.5h1m20 0h1m11 0h1m10 0h2m9 0h1m10 0h1m1 0h2m4 0h1m3 0h1m28 0h1m730 0h1M29 6.5h1m677 0h1m139 0h2m187 0h2M722 7.5h1M393 8.5h1m507 0h1m36 0h1m6 0h1m1 0h1m40 0h1m11 0h1M1 12.5h1M256 14.5h1M85 15.5h1m149 0h1m454 0h1M464 16.5h1m374 0h1m10 0h1m7 0h1m2 0h1m2 0h1m2 0h1m1 0h1m3 0h1m4 0h1m1 0h1m1 0h1m6 0h1m2 0h1m3 0h1m1 0h1m1 0h1m4 0h1m8 0h1m1 0h2m3 0h1m8 0h2m8 0h1m1 0h2m1 0h1m8 0h2m9 0h1m5 0h1m1 0h1m1 0h2m5 0h1m22 0h2m1 0h1m7 0h1m16 0h1m7 0h1m2 0h3m1 0h1m7 0h1m10 0h1m19 0h1m4 0h1M23 17.5h1m576 0h1m240 0h1m1 0h1m16 0h1m2 0h1m12 0h1m22 0h1m10 0h1m39 0h1m9 0h1m3 0h1m22 0h1m40 0h1m16 0h1M773 18.5h2m53 0h1m2 0h1m5 0h2m20 0h1m9 0h1m3 0h1m1 0h1m7 0h1m3 0h1m2 0h1m1 0h1m2 0h1m1 0h1m8 0h1m1 0h1m9 0h1m5 0h1m2 0h1m11 0h2m2 0h1m18 0h1m1 0h2m4 0h1m8 0h1m3 0h1m10 0h1m3 0h1m8 0h2m4 0h3m3 0h1m5 0h1m2 0h2m17 0h1m1 0h1m2 0h1m3 0h1m2 0h1m4 0h1m2 0h1m8 0h1m9 0h1m1 0h1m5 0h1M835 19.5h1m16 0h1m91 0h1m30 0h1M435 20.5h1M794 21.5h1m47 0h1m22 0h1m1 0h1m12 0h1m82 0h1m34 0h1m2 0h1m37 0h1m13 0h1m15 0h1m12 0h1M424 22.5h1m11 0h1m4 0h1m367 0h2M545 23.5h1M425 24.5h1M590 25.5h1m54 0h1m73 0h1M279 26.5h1m180 0h1m367 0h1m2 0h2m2 0h1m16 0h2m1 0h1m6 0h2m2 0h2m9 0h2m1 0h1m10 0h2m1 0h1m8 0h1m12 0h1m3 0h1m7 0h1m19 0h1m11 0h1m6 0h1m7 0h1m3 0h2m26 0h1m10 0h1m6 0h1m1 0h1m6 0h1m9 0h2m2 0h1m7 0h1m4 0h1m1 0h1m2 0h1m12 0h1m3 0h1m3 0h1m5 0h1m1 0h1M87 27.5h1m397 0h1M98 28.5h1M770 29.5h1m47 0h1m6 0h1m6 0h1m3 0h1m3 0h2m1 0h2m6 0h1m2 0h3m14 0h1m1 0h1m18 0h1m3 0h1m4 0h1m5 0h1m3 0h1m2 0h1m2 0h1m2 0h1m1 0h1m3 0h1m25 0h1m5 0h1m4 0h7m2 0h1m5 0h1m1 0h1m2 0h1m19 0h1m6 0h1m5 0h1m14 0h1m1 0h2m11 0h1m6 0h2m7 0h1m2 0h1m1 0h1m7 0h1M767 30.5h1m5 0h1m10 0h1m4 0h2m40 0h1m20 0h1m37 0h1m8 0h1m16 0h1m37 0h1m4 0h1m41 0h1m5 0h1m33 0h1M455 31.5h1m308 0h1m5 0h1m1 0h1m6 0h1m5 0h1m3 0h1m288 0h1M708 32.5h1m29 0h1m50 0h1M737 33.5h1m14 0h1m21 0h1m2 0h1m4 0h1M375 34.5h1M183 35.5h1m5 0h1m433 0h1m34 0h1m377 0h1M221 36.5h1m13 0h1m145 0h1m4 0h1m46 0h1m15 0h1m42 0h1m354 0h2m188 0h1M85 38.5h1m48 0h1m614 0h1M27 41.5h1m762 0h1m2 0h1m5 0h2m11 0h1m9 0h1M743 42.5h1m7 0h1m2 0h1m52 0h1m10 0h1M833 43.5h1m1 0h1m8 0h1m5 0h1m10 0h1m1 0h2m1 0h1m1 0h1m2 0h1m1 0h1m7 0h1m20 0h1m1 0h1m12 0h1m2 0h1m10 0h1m4 0h1m5 0h1m3 0h1m4 0h1m4 0h1m2 0h1m2 0h2m17 0h1m2 0h2m25 0h1m9 0h1m21 0h1m15 0h1m2 0h1m3 0h1m1 0h1m10 0h2m4 0h1m6 0h1m1 0h1M765 44.5h1m10 0h3m2 0h4m1 0h1m1 0h1m34 0h1m7 0h1m22 0h1m26 0h1m5 0h1m28 0h1m6 0h1m4 0h1m2 0h1m4 0h1m8 0h1m17 0h1m3 0h1m37 0h1m80 0h1m5 0h1M790 45.5h1m35 0h1m3 0h1M272 46.5h1m92 0h1M700 49.5h1m125 0h1M765 50.5h1m4 0h1m7 0h1m64 0h1m13 0h1m5 0h1m3 0h2m15 0h1m8 0h1m20 0h1m21 0h1m9 0h1m2 0h1m5 0h1m24 0h1m2 0h1m2 0h1m5 0h1m16 0h1m15 0h1m5 0h1m59 0h1M266 52.5h1"/>
<path stroke="#ffef00" d="M844 0.5h1m1 0h1m4 0h1m17 0h1m3 0h1m6 0h1m12 0h1m8 0h1m3 0h1m5 0h1m2 0h1m18 0h1m4 0h1m8 0h1m2 0h1m2 0h1m15 0h1m5 0h1m2 0h1m8 0h1m6 0h2m1 0h1m4 0h1m9 0h2m5 0h1m4 0h1m1 0h1m4 0h1m18 0h1m3 0h1m2 0h1m5 0h1m3 0h1m11 0h1m14 0h1M543 1.5h1M11 2.5h1m18 0h1m27 0h1m626 0h1M711 3.5h1M769 4.5h1m55 0h1m160 0h1M18 5.5h1m34 0h1M393 7.5h1M700 8.5h1m135 0h1m17 0h1m18 0h1m192 0h1M469 10.5h1M236 15.5h1M859 16.5h1m3 0h1m1 0h2m8 0h1m7 0h2m19 0h1m21 0h1m7 0h1m2 0h3m1 0h1m9 0h1m4 0h1m3 0h1m1 0h1m5 0h1m5 0h1m10 0h2m5 0h1m3 0h1m6 0h1m6 0h1m12 0h1m2 0h1m22 0h1m18 0h3m5 0h1m5 0h1m1 0h1m6 0h1M832 17.5h1m5 0h1m6 0h1m7 0h1m8 0h1m18 0h1m5 0h1m8 0h1m16 0h1m2 0h1m10 0h1m13 0h1m1 0h1m5 0h1m2 0h1m1 0h1m15 0h1m10 0h2m21 0h2m11 0h1m3 0h1m8 0h1m15 0h3m1 0h1m8 0h2m6 0h1M668 18.5h1m154 0h2m9 0h1m6 0h1m1 0h1m10 0h1m10 0h1m4 0h1m6 0h1m2 0h1m3 0h1m4 0h1m19 0h1m5 0h3m1 0h5m6 0h1m2 0h1m3 0h1m6 0h2m2 0h1m2 0h2m8 0h1m10 0h1m3 0h1m3 0h1m1 0h1m4 0h1m12 0h1m2 0h1m5 0h1m6 0h1m5 0h3m1 0h1m3 0h1m2 0h1m19 0h3m4 0h1m4 0h1m3 0h1m1 0h1m2 0h1m6 0h1m1 0h2m5 0h1m2 0h1M642 20.5h1M791 21.5h1m33 0h1m9 0h1m20 0h1m11 0h1m19 0h1m3 0h1m1 0h1m9 0h1m41 0h1m6 0h1m12 0h1m37 0h1m5 0h1m8 0h1m50 0h1m22 0h1M437 22.5h1m360 0h1m1 0h1m1 0h1m12 0h1M532 24.5h1M647 25.5h1M564 26.5h1m278 0h1m1 0h1m4 0h1m6 0h1m1 0h1m10 0h1m3 0h1m4 0h1m8 0h1m7 0h1m4 0h2m3 0h1m2 0h1m9 0h1m1 0h1m10 0h1m17 0h1m2 0h1m11 0h1m5 0h1m1 0h2m6 0h3m2 0h1m11 0h2m1 0h1m4 0h1m2 0h1m3 0h1m1 0h1m6 0h1m10 0h1m5 0h2m1 0h1m4 0h1m5 0h1m3 0h1m1 0h1m12 0h1m2 0h1m1 0h2m2 0h1m8 0h1m3 0h1M452 27.5h1M1038 28.5h1M828 29.5h2m4 0h1m11 0h1m12 0h1m1 0h1m4 0h1m7 0h2m7 0h2m3 0h1m1 0h1m7 0h1m4 0h1m6 0h1m1 0h2m1 0h1m8 0h2m15 0h1m2 0h1m12 0h1m2 0h1m12 0h1m15 0h1m1 0h1m1 0h1m1 0h1m2 0h1m1 0h1m1 0h1m17 0h1m4 0h1m1 0h1m13 0h1m2 0h1m3 0h2m5 0h2m1 0h1m15 0h1m2 0h2m3 0h5m2 0h1m2 0h1M774 30.5h2m1 0h2m4 0h1m41 0h1m4 0h1m53 0h1m81 0h1m32 0h1M768 31.5h1m6 0h1m10 0h1M809 32.5h1M746 33.5h1m29 0h1m12 0h1m1 0h1m30 0h2M325 34.5h1M220 35.5h1m397 0h1m229 0h1m188 0h1M179 36.5h1M745 37.5h1M115 38.5h1m639 0h1M3 39.5h1m1 0h1M742 41.5h1m24 0h1m13 0h1m6 0h1m29 0h1m6 0h1M741 42.5h1m74 0h1M837 43.5h1m14 0h1m9 0h1m17 0h1m4 0h2m5 0h2m2 0h2m11 0h1m12 0h1m7 0h1m1 0h1m10 0h1m6 0h1m4 0h1m5 0h1m7 0h1m13 0h1m11 0h1m21 0h1m12 0h1m10 0h1m18 0h1m4 0h1M775 44.5h1m53 0h2m2 0h1m1 0h1m3 0h1m1 0h3m33 0h1m2 0h1m4 0h1m10 0h1m2 0h1m7 0h2m3 0h1m6 0h1m2 0h1m3 0h2m4 0h2m4 0h1m13 0h1m8 0h1m7 0h2m3 0h1m1 0h1m7 0h1m5 0h1m3 0h4m28 0h1m5 0h1m2 0h1m6 0h1m2 0h1m3 0h1m14 0h2m4 0h1m1 0h1M176 47.5h1m523 0h1M299 48.5h1M764 50.5h1m7 0h1m13 0h1m46 0h1m1 0h1m2 0h1m17 0h1m8 0h2m11 0h1m1 0h1m5 0h2m2 0h1m3 0h1m9 0h1m1 0h1m1 0h1m3 0h1m9 0h2m9 0h1m5 0h2m6 0h1m3 0h1m7 0h2m3 0h1m17 0h1m10 0h1m9 0h1m15 0h1m24 0h1m3 0h1m6 0h1m2 0h4m4 0h1m8 0h1M772 51.5h1m47 0h1M1032 53.5h1"/>
<path stroke="#ffdf00" d="M858 0.5h1m1 0h1m20 0h1m31 0h1m23 0h1m15 0h1m19 0h3m24 0h2m5 0h1m16 0h1m31 0h1M202 1.5h1M767 4.5h1m3 0h1m70 0h1m7 0h1m97 0h1M64 5.5h1m12 0h1M464 8.5h1M96 16.5h1m739 0h1m4 0h1m9 0h1m4 0h1m15 0h1m1 0h1m12 0h1m20 0h1m23 0h2m1 0h2m15 0h1m4 0h1m8 0h1m5 0h1m11 0h1m4 0h1m1 0h1m6 0h1m3 0h1m1 0h1m9 0h1m3 0h2m4 0h1m3 0h3m9 0h1m1 0h2m6 0h1m2 0h1m1 0h1m4 0h1m1 0h3m1 0h1m5 0h2m7 0h1m3 0h1m9 0h1M22 17.5h1m734 0h1m75 0h1m3 0h1m4 0h1m3 0h1m11 0h1m5 0h1m6 0h1m2 0h1m2 0h1m6 0h1m7 0h1m1 0h1m3 0h1m1 0h1m21 0h1m1 0h1m14 0h1m16 0h1m1 0h1m9 0h1m2 0h1m1 0h1m6 0h1m2 0h2m12 0h1m9 0h1m16 0h1m8 0h1m1 0h1m7 0h1m8 0h1m4 0h1m3 0h1m22 0h1m4 0h1M829 18.5h2m1 0h1m2 0h2m2 0h2m5 0h1m5 0h1m14 0h1m13 0h1m3 0h1m2 0h1m13 0h1m2 0h1m5 0h1m17 0h1m1 0h1m2 0h1m15 0h1m15 0h1m2 0h1m8 0h1m13 0h1m3 0h1m8 0h1m14 0h2m36 0h1m9 0h1m9 0h3m4 0h1m1 0h1M976 19.5h1M774 21.5h1m3 0h1m48 0h1m8 0h1m34 0h1m7 0h1m55 0h1m9 0h1m11 0h1m6 0h1m4 0h2m28 0h1m7 0h1m3 0h1m20 0h1m9 0h1m18 0h1m9 0h1m9 0h1M23 22.5h1m472 0h1m304 0h1M829 26.5h2m2 0h2m7 0h1m1 0h1m1 0h1m4 0h1m23 0h1m7 0h1m15 0h2m4 0h1m16 0h1m3 0h1m2 0h1m1 0h1m1 0h1m1 0h2m2 0h2m6 0h1m7 0h5m12 0h1m3 0h1m8 0h1m8 0h1m1 0h1m5 0h1m2 0h1m10 0h1m18 0h1m13 0h1m1 0h1m34 0h1m5 0h1M847 28.5h1m1 0h1m186 0h1M826 29.5h1m6 0h1m11 0h1m18 0h1m3 0h2m7 0h1m3 0h1m9 0h1m2 0h1m2 0h1m2 0h1m17 0h2m1 0h1m5 0h1m2 0h1m2 0h2m1 0h1m5 0h1m4 0h1m1 0h1m4 0h1m1 0h1m13 0h1m4 0h2m2 0h1m7 0h1m6 0h1m4 0h1m1 0h1m2 0h1m2 0h1m1 0h1m7 0h3m1 0h1m1 0h1m2 0h1m2 0h2m4 0h1m6 0h2m8 0h1m4 0h1m3 0h1m2 0h1m1 0h1m5 0h2m2 0h1m14 0h1m2 0h1M764 30.5h1m26 0h1m31 0h1m219 0h1M783 33.5h1m44 0h1M176 35.5h1M775 41.5h2m36 0h1m12 0h1M740 42.5h1m41 0h1M828 43.5h1m65 0h1m8 0h1m7 0h1m9 0h1m5 0h1m1 0h1m7 0h2m5 0h1m3 0h1m5 0h1m9 0h1m107 0h1M764 44.5h1m71 0h1m1 0h1m5 0h1m10 0h1m11 0h1m11 0h1m10 0h1m2 0h1m6 0h2m7 0h1m3 0h1m1 0h1m4 0h2m3 0h1m3 0h1m4 0h1m19 0h1m4 0h1m13 0h1m4 0h1m3 0h1m2 0h2m5 0h1m8 0h1m4 0h1m6 0h1m2 0h3m1 0h1m8 0h1m1 0h1m1 0h2m8 0h1m7 0h2m8 0h1m4 0h1m1 0h2m1 0h1m4 0h1m2 0h1m4 0h1m2 0h1M831 45.5h1M425 47.5h1M832 49.5h1M787 50.5h1m41 0h1m4 0h1m10 0h1m7 0h1m6 0h1m3 0h1m10 0h1m1 0h1m4 0h1m2 0h1m12 0h1m14 0h1m4 0h2m5 0h1m15 0h2m1 0h1m3 0h1m3 0h1m5 0h1m3 0h2m2 0h1m2 0h1m2 0h1m1 0h1m4 0h1m1 0h1m2 0h1m13 0h2m12 0h1m8 0h1m23 0h3m5 0h1m2 0h1m11 0h1m1 0h2m5 0h1m2 0h1m1 0h1m1 0h2m9 0h1M773 51.5h1m47 0h1M700 53.5h1"/>
<path stroke="#ffcf00" d="M888 0.5h1m18 0h1m15 0h1m2 0h1m17 0h1m112 0h1m36 0h1M4 2.5h1m697 0h1M735 3.5h1M768 4.5h1m58 0h1m15 0h1m2 0h1m76 0h1m8 0h1m34 0h1m3 0h1m43 0h2M700 14.5h1M288 15.5h1M23 16.5h1m828 0h1m2 0h1m20 0h2m13 0h1m37 0h1m18 0h1m9 0h2m18 0h1m8 0h1m2 0h1m16 0h1m4 0h2m3 0h1m3 0h1m3 0h1m9 0h1m16 0h1m1 0h1m4 0h1m1 0h1m13 0h1m13 0h2M651 17.5h1m188 0h1m9 0h1m1 0h1m1 0h1m4 0h1m5 0h3m10 0h1m4 0h1m1 0h2m4 0h1m3 0h1m9 0h1m3 0h1m10 0h2m8 0h1m7 0h1m6 0h1m1 0h2m4 0h1m1 0h1m3 0h1m3 0h1m1 0h1m8 0h1m1 0h1m17 0h1m13 0h1m2 0h1m1 0h1m1 0h1m6 0h2m15 0h1m1 0h2m11 0h1m7 0h1m9 0h1m7 0h1m11 0h1m2 0h1M825 18.5h1m32 0h1m20 0h1m11 0h1m7 0h2m6 0h1m20 0h1m9 0h1m60 0h1m6 0h1m10 0h2m8 0h1m6 0h2m53 0h1M764 21.5h3m14 0h1m40 0h1m20 0h2m10 0h1m1 0h1m2 0h1m57 0h1m3 0h1m18 0h1m8 0h1m5 0h1m2 0h1m5 0h1m8 0h1m9 0h1m6 0h1m17 0h1m10 0h1m7 0h1m23 0h1m19 0h3m2 0h2m4 0h1m4 0h1M22 22.5h1m795 0h1M96 26.5h1m486 0h1m270 0h1m6 0h1m23 0h1m12 0h1m9 0h1m18 0h1m10 0h1m5 0h3m4 0h2m8 0h1m22 0h1m8 0h1m16 0h2m2 0h1m2 0h1m8 0h1m3 0h1m37 0h3m5 0h1m11 0h2m1 0h1M848 28.5h1M835 29.5h1m14 0h1m21 0h1m6 0h1m6 0h1m2 0h1m5 0h1m8 0h2m3 0h1m21 0h1m16 0h1m1 0h2m1 0h1m1 0h1m3 0h1m1 0h1m12 0h1m6 0h1m3 0h1m4 0h1m15 0h1m4 0h3m14 0h1m18 0h1m21 0h1m1 0h1m16 0h1M829 30.5h1m2 0h1m116 0h1M773 31.5h1M119 32.5h1M691 37.5h1M39 38.5h1m456 0h1M782 41.5h1M755 42.5h1M832 43.5h1m77 0h1m22 0h1m7 0h1m5 0h1m100 0h1m20 0h1M785 44.5h1m46 0h1m17 0h1m1 0h1m7 0h1m1 0h1m2 0h1m2 0h1m1 0h1m1 0h1m9 0h1m3 0h1m7 0h1m3 0h1m18 0h1m6 0h1m5 0h1m17 0h2m1 0h1m1 0h1m2 0h1m7 0h1m1 0h1m1 0h1m2 0h1m7 0h1m8 0h1m15 0h1m7 0h1m6 0h1m1 0h2m1 0h2m4 0h1m13 0h1m2 0h1m12 0h1m2 0h1m9 0h3m7 0h1m6 0h1m2 0h2M383 46.5h1m465 0h1m186 0h1m1 0h1M564 48.5h1M829 49.5h1M771 50.5h1m67 0h1m2 0h1m7 0h3m5 0h1m12 0h2m10 0h1m4 0h2m2 0h1m2 0h1m7 0h1m1 0h1m15 0h1m4 0h1m5 0h1m1 0h2m9 0h1m7 0h1m11 0h1m7 0h1m20 0h2m4 0h1m4 0h1m2 0h1m7 0h1m11 0h1m4 0h2m4 0h1m10 0h3m23 0h1m1 0h2m7 0h1m2 0h1m1 0h1M782 51.5h1m10 0h1m31 0h2"/>
<path stroke="#ffbf00" d="M890 0.5h1m33 0h1m25 0h1m54 0h1M700 1.5h1M826 4.5h1m1 0h1m1 0h1m1 0h1m6 0h1m32 0h1m7 0h2m1 0h1m14 0h1m2 0h1m19 0h1m5 0h1m7 0h1m27 0h1m15 0h1m15 0h1m11 0h1m13 0h1m2 0h1m34 0h1m12 0h1M743 5.5h1M849 7.5h1m186 0h1m1 0h1M464 10.5h1M22 16.5h1m72 0h1m661 0h1m127 0h1m8 0h2m54 0h1m12 0h1m3 0h1m15 0h1m15 0h1m11 0h1m10 0h1m24 0h1m3 0h1m13 0h1m17 0h1m9 0h2M95 17.5h2m67 0h1m208 0h1m71 0h1m1 0h1m65 0h2m68 0h1m65 0h1m106 0h1m77 0h3m7 0h1m10 0h1m12 0h1m3 0h2m1 0h1m4 0h1m1 0h1m5 0h1m8 0h1m3 0h2m1 0h1m2 0h1m7 0h1m2 0h1m4 0h1m7 0h1m2 0h2m4 0h1m1 0h1m8 0h1m14 0h2m4 0h1m2 0h1m3 0h1m5 0h1m2 0h2m1 0h1m1 0h1m4 0h2m3 0h1m5 0h1m2 0h1m7 0h1m5 0h1m2 0h1m2 0h1m7 0h1m3 0h1m6 0h1m1 0h1m1 0h1m2 0h1m4 0h1m9 0h1m1 0h2m2 0h1m2 0h2m1 0h1m5 0h1m1 0h1M23 18.5h1m818 0h1m10 0h1m12 0h1m126 0h1m88 0h1M700 21.5h1m70 0h1m1 0h1m1 0h1m3 0h1m4 0h1m3 0h1m32 0h1m7 0h3m1 0h1m5 0h1m6 0h1m14 0h1m2 0h1m13 0h1m2 0h1m3 0h2m3 0h1m2 0h1m2 0h2m3 0h1m24 0h2m14 0h1m4 0h2m5 0h1m3 0h1m1 0h2m14 0h1m1 0h1m11 0h1m1 0h1m10 0h1m1 0h1m10 0h1m12 0h3m2 0h1m6 0h1m17 0h1m8 0h1m6 0h2m7 0h2m1 0h1M435 22.5h1M23 26.5h1m491 0h1m360 0h1m85 0h1m14 0h1m10 0h2m10 0h1m7 0h1m3 0h1m16 0h1M581 27.5h1m1 0h1m16 0h1M1037 28.5h1M827 29.5h1m11 0h1m2 0h1m9 0h2m11 0h1m10 0h1m1 0h1m1 0h1m1 0h1m4 0h1m11 0h1m39 0h1m22 0h1m14 0h1m8 0h1m5 0h1m3 0h2m17 0h1m43 0h2m9 0h1m8 0h1m7 0h1m2 0h1M782 30.5h1M781 33.5h1m45 0h1M23 36.5h1m72 0h1M768 41.5h1m11 0h1m3 0h1m2 0h1M970 43.5h1M826 44.5h2m6 0h1m2 0h1m13 0h1m4 0h1m1 0h1m10 0h1m1 0h1m1 0h2m3 0h1m16 0h1m1 0h1m4 0h2m6 0h1m7 0h1m20 0h1m15 0h1m9 0h1m17 0h1m7 0h1m7 0h1m3 0h1m3 0h1m2 0h2m11 0h1m16 0h2m38 0h3m2 0h1M847 46.5h2m188 0h1M847 48.5h2M828 50.5h1m1 0h1m1 0h1m8 0h1m17 0h1m9 0h1m3 0h2m1 0h1m19 0h2m1 0h2m1 0h1m8 0h1m3 0h1m12 0h1m1 0h1m6 0h1m16 0h1m12 0h1m7 0h1m2 0h1m9 0h1m7 0h2m6 0h1m1 0h1m4 0h1m2 0h1m3 0h1m5 0h1m5 0h1m9 0h2m7 0h1m19 0h1m16 0h1m1 0h1m5 0h1M767 51.5h2m6 0h1m2 0h1m2 0h1m5 0h1M23 53.5h1m369 0h1m53 0h1m67 0h1m135 0h1m104 0h2"/>
<path stroke="#ffaf00" d="M23 1.5h1M838 4.5h1m5 0h1m6 0h1m5 0h1m4 0h1m1 0h1m6 0h1m19 0h1m23 0h1m2 0h1m1 0h1m10 0h1m1 0h1m5 0h1m13 0h1m21 0h1m1 0h1m10 0h1m1 0h1m1 0h3m25 0h1m1 0h1m17 0h1m1 0h1m5 0h1m9 0h1m29 0h2m1 0h1m1 0h2M847 7.5h1M496 9.5h1m171 0h1M700 12.5h1M847 14.5h1m1 0h1M234 16.5h1m137 0h2m73 0h1m184 0h1m123 0h1m300 0h1M165 17.5h1m136 0h1m68 0h2m73 0h1m68 0h1m65 0h2m67 0h1m180 0h1m7 0h1m21 0h1m7 0h2m8 0h1m13 0h1m9 0h1m13 0h1m1 0h1m8 0h1m4 0h1m10 0h1m1 0h1m10 0h1m3 0h2m15 0h1m11 0h1m9 0h3m7 0h1m5 0h1m2 0h1m5 0h1m1 0h1m3 0h1m2 0h1m21 0h1m7 0h1m3 0h1m2 0h1m5 0h1m9 0h2m1 0h1M22 18.5h1m209 0h1m280 0h1m243 0h1m197 0h1m105 0h1m15 0h1M763 21.5h1m3 0h1m1 0h1m6 0h1m5 0h1m2 0h1m1 0h1m36 0h1m9 0h1m2 0h1m3 0h1m10 0h2m9 0h1m2 0h1m2 0h1m2 0h1m4 0h1m4 0h2m5 0h1m5 0h1m10 0h2m2 0h2m7 0h1m3 0h2m4 0h1m3 0h2m16 0h2m2 0h1m25 0h1m5 0h1m6 0h1m1 0h2m4 0h1m9 0h1m1 0h1m3 0h1m3 0h1m10 0h1m17 0h1m5 0h1m5 0h1m25 0h1m2 0h1M95 22.5h2m334 0h1M22 26.5h1m72 0h1m68 0h2m66 0h1m1 0h1m278 0h1m67 0h1m69 0h1m104 0h2m191 0h1m53 0h2M23 27.5h1m141 0h1m66 0h1m1 0h1m67 0h1m68 0h1m1 0h1m73 0h1m67 0h1m133 0h1m1 0h1m104 0h2M982 29.5h1m39 0h1M854 30.5h1M829 33.5h1M616 35.5h1M95 36.5h1m555 0h1M1038 39.5h1M773 41.5h1M828 44.5h1m30 0h1m4 0h1m1 0h1m8 0h1m28 0h1m6 0h1m25 0h1m2 0h2m8 0h1m7 0h1m16 0h1m11 0h1m1 0h1m3 0h1m6 0h1m7 0h1m18 0h1m11 0h1m6 0h1m1 0h1m5 0h1m1 0h1m20 0h2m10 0h1M700 48.5h1m148 0h1M425 49.5h1m138 0h1M831 50.5h1m8 0h1m14 0h1m6 0h1m46 0h1m6 0h1m7 0h1m2 0h1m1 0h1m1 0h1m6 0h1m4 0h1m17 0h1m8 0h1m14 0h1m1 0h1m2 0h2m9 0h1m5 0h1m2 0h1m2 0h1m6 0h1m1 0h1m4 0h1m4 0h1m29 0h2m3 0h1m21 0h1M774 51.5h1M96 53.5h1m68 0h1m66 0h1m1 0h1m67 0h1m70 0h1m209 0h1"/>
<path stroke="#ff9f00" d="M96 1.5h1m276 0h1m258 0h1m124 0h1M841 4.5h1m12 0h1m4 0h2m14 0h1m6 0h1m1 0h1m2 0h1m38 0h1m1 0h1m8 0h1m17 0h1m1 0h1m3 0h1m4 0h1m7 0h1m1 0h1m22 0h1m4 0h1m9 0h1m3 0h1m4 0h1m3 0h1m11 0h1m26 0h2m2 0h1m3 0h1m12 0h1m4 0h1M700 6.5h1M848 7.5h1m188 0h1M23 8.5h1m733 0h1M564 10.5h1M848 14.5h1m187 0h1m1 0h1M165 16.5h1m279 0h2m66 0h1m1 0h1m65 0h1m1 0h1m67 0h1m427 0h1M232 17.5h3m66 0h1m588 0h1m17 0h1m3 0h1m13 0h1m2 0h1m56 0h1m27 0h1m34 0h1m16 0h1m11 0h1M96 18.5h1m137 0h1m136 0h1m75 0h1m135 0h1m67 0h1m104 0h1M772 21.5h1m10 0h1m42 0h1m1 0h1m11 0h1m4 0h1m5 0h1m6 0h1m28 0h1m17 0h1m3 0h1m2 0h1m4 0h1m19 0h2m23 0h1m4 0h2m2 0h1m7 0h2m1 0h1m6 0h1m5 0h1m4 0h1m5 0h1m8 0h1m9 0h1m1 0h1m15 0h1m2 0h2m1 0h2m7 0h1m3 0h1m2 0h2m19 0h1m3 0h2m2 0h1M817 22.5h1M1036 24.5h1M233 26.5h1m68 0h1m68 0h1m53 0h1m88 0h1m67 0h1m66 0h1m291 0h1m81 0h1M22 27.5h1m73 0h1m67 0h1m68 0h1m67 0h1m143 0h2m66 0h2m67 0h1m67 0h1m49 0h1M22 36.5h1m142 0h1m349 0h1m67 0h1m65 0h1m50 0h1m56 0h1M564 38.5h1M393 39.5h1m453 0h1m1 0h1M464 40.5h1M769 41.5h1m7 0h1m1 0h1m3 0h1M840 44.5h1m5 0h1m10 0h1m25 0h1m4 0h1m16 0h1m37 0h1m2 0h2m9 0h1m14 0h1m80 0h1m4 0h1m3 0h1m25 0h1M825 50.5h1m1 0h1m9 0h1m6 0h1m1 0h1m7 0h1m55 0h1m57 0h1m54 0h1m5 0h1m12 0h2m20 0h2m17 0h1M770 51.5h2m4 0h2m2 0h1m5 0h1m35 0h1m4 0h1M302 52.5h1M22 53.5h1m72 0h1m68 0h1m68 0h1m67 0h1m69 0h1m73 0h1m67 0h2m66 0h1m67 0h2"/>
<path stroke="#ff8f00" d="M935 0.5h1M22 1.5h1m72 0h1m349 0h1m137 0h1m67 0h1m104 0h1M831 4.5h1m1 0h1m19 0h1m1 0h1m9 0h1m7 0h1m11 0h1m6 0h1m2 0h1m12 0h1m4 0h1m8 0h1m17 0h3m2 0h1m3 0h1m2 0h1m3 0h1m1 0h1m3 0h1m6 0h1m10 0h1m3 0h1m13 0h1m7 0h1m3 0h2m1 0h1m5 0h1m9 0h2m1 0h1m10 0h1m19 0h2m10 0h1m1 0h1m1 0h1m5 0h1m4 0h1M668 7.5h1M96 8.5h1m205 0h1m70 0h1m71 0h1m50 0h1m259 0h1M583 11.5h1M1038 15.5h1M164 16.5h1m67 0h2m68 0h1m211 0h1m134 0h2m376 0h1m30 0h1M856 17.5h1m57 0h1m10 0h1m6 0h1m3 0h1m32 0h1m26 0h1m68 0h1m8 0h1m11 0h1m7 0h1M164 18.5h2m135 0h2m70 0h1m71 0h1m68 0h2m65 0h1m67 0h1M700 19.5h1M515 21.5h1m67 0h1m67 0h1m128 0h1m5 0h1m2 0h2m32 0h1m8 0h1m5 0h1m23 0h1m7 0h1m2 0h1m1 0h2m14 0h1m11 0h1m9 0h1m6 0h1m4 0h1m4 0h1m9 0h1m2 0h1m28 0h2m11 0h1m7 0h1m19 0h1m7 0h1m1 0h1m11 0h1m12 0h1m11 0h1m6 0h1m11 0h2m14 0h1M847 24.5h1m1 0h1m188 0h1M301 26.5h1m71 0h1m71 0h1m1 0h1m202 0h1m303 0h1M95 27.5h1m276 0h1m191 0h1M1032 29.5h1M234 36.5h1m66 0h2m68 0h1m141 0h2m66 0h2m67 0h1M1036 39.5h2M425 40.5h1M772 41.5h1m5 0h1m6 0h2m2 0h1M845 44.5h1m17 0h1m12 0h1m7 0h1m4 0h1m24 0h1m45 0h1m1 0h1m14 0h1m31 0h1m4 0h2m43 0h1M1038 48.5h1M836 50.5h1m33 0h1m30 0h1m74 0h1m25 0h1m14 0h1m17 0h1M766 51.5h1m17 0h1m6 0h1m31 0h2M23 52.5h1m72 0h1m68 0h1m68 0h1m136 0h1m1 0h1m73 0h1m67 0h1m116 0h1m16 0h1M372 53.5h1m73 0h1m135 0h1m455 0h1"/>
<path stroke="#ff8000" d="M232 0.5h1m722 0h1M372 1.5h1M840 4.5h1m17 0h1m2 0h1m1 0h1m5 0h1m6 0h1m1 0h1m9 0h1m11 0h1m1 0h1m1 0h1m4 0h1m7 0h1m1 0h1m5 0h1m4 0h1m15 0h1m4 0h1m16 0h1m4 0h1m8 0h2m3 0h1m1 0h1m1 0h1m10 0h1m2 0h1m25 0h1m1 0h1m10 0h1m1 0h1m4 0h1m2 0h1m2 0h1m4 0h1m2 0h1m7 0h1m4 0h1m1 0h1m1 0h2m11 0h1M22 8.5h1m72 0h1m69 0h1m68 0h1m136 0h1m141 0h1m1 0h1M849 10.5h1m188 0h1M234 11.5h1M302 12.5h1m144 0h1m67 0h1M1037 14.5h1M1036 15.5h1M301 16.5h1m69 0h1m210 0h1m287 0h1M857 17.5h1m31 0h1m116 0h1m74 0h1M95 18.5h1m137 0h1m138 0h1m73 0h1m135 0h1m67 0h1m49 0h1M96 21.5h1m137 0h1m67 0h1m454 0h1m10 0h1m85 0h1m4 0h1m39 0h2m14 0h2m4 0h1m10 0h1m3 0h1m2 0h1m9 0h1m25 0h1m12 0h1m28 0h1m8 0h1m13 0h1m4 0h1m10 0h1M848 24.5h1m188 0h1M372 26.5h1m73 0h1m471 0h1m109 0h1M940 29.5h1m67 0h1M425 34.5h1M23 35.5h1m72 0h1m276 0h1M164 36.5h1m67 0h2m213 0h1m308 0h1M234 37.5h1M848 39.5h1M849 40.5h1m186 0h3M770 41.5h1M861 44.5h1m193 0h1M234 45.5h1M564 46.5h1m67 0h1M23 49.5h1m141 0h1m136 0h1m280 0h1M826 50.5h1m150 0h1m11 0h1M779 51.5h1M22 52.5h1m72 0h1m68 0h1m67 0h2m138 0h1m72 0h2m134 0h1m1 0h1m67 0h1m48 0h1M847 53.5h3"/>
<path stroke="#ff7000" d="M23 0.5h1m210 0h1m522 0h1M234 1.5h1m67 0h1m68 0h1m75 0h1m67 0h1m133 0h2M836 4.5h1m30 0h2m1 0h1m3 0h1m14 0h1m4 0h1m2 0h1m1 0h1m6 0h1m7 0h1m21 0h1m6 0h2m2 0h1m11 0h1m12 0h1m12 0h1m10 0h2m3 0h1m1 0h1m4 0h2m2 0h1m12 0h2m20 0h1m2 0h1m4 0h1m20 0h1M165 5.5h1m136 0h1M234 6.5h1m138 0h1m73 0h1m135 0h1m67 0h1M583 7.5h1M232 8.5h1m139 0h1m73 0h2m66 0h1m66 0h1m1 0h1m66 0h2M700 9.5h1m146 0h1m188 0h1m1 0h1M847 10.5h1m188 0h1M165 11.5h1m349 0h1m65 0h1m175 0h1M373 12.5h1m71 0h1m135 0h1m1 0h1m67 0h1m105 0h1m91 0h1M447 15.5h1m67 0h1m67 0h1m67 0h1m105 0h1m89 0h1m1 0h1m187 0h1M700 16.5h1M995 17.5h1M23 21.5h1m140 0h2m66 0h1m280 0h2m66 0h1m67 0h2m119 0h1m79 0h1m47 0h1m32 0h1m12 0h1m32 0h1m8 0h1m67 0h1m9 0h1M515 22.5h1m135 0h1M232 24.5h1m1 0h1m416 0h1M904 26.5h1M22 35.5h1m72 0h1m351 0h1m152 0h1m156 0h1M445 36.5h1M96 37.5h1m276 0h1m73 0h1m135 0h1m173 0h1M771 41.5h1m2 0h1M906 44.5h1m37 0h1m112 0h1M232 45.5h1m69 0h1m70 0h1m73 0h1m67 0h1m67 0h1m67 0h1m105 0h1M700 46.5h1M393 48.5h1m31 0h1m610 0h2M96 49.5h1m135 0h1m1 0h1m136 0h1m1 0h1m73 0h1m67 0h1m65 0h1m69 0h1m105 0h1M769 51.5h1m15 0h1m44 0h1m58 0h1m50 0h1m75 0h1M301 52.5h1m211 0h2m67 0h1m67 0h1m105 0h2M1036 53.5h2"/>
<path stroke="#ff6000" d="M96 0.5h1m68 0h1m136 0h1m70 0h1m73 0h1m67 0h1m67 0h1m172 0h1M164 1.5h2m347 0h1m67 0h2M829 4.5h1m4 0h2m20 0h1m48 0h1m10 0h1m7 0h1m9 0h1m15 0h1m84 0h1m5 0h1m11 0h1m2 0h1m3 0h1M232 5.5h1m1 0h1m136 0h1m328 0h1M23 6.5h1m141 0h1m66 0h1m69 0h1m68 0h1m73 0h2m66 0h1m68 0h1m66 0h1M165 7.5h1m66 0h1m1 0h1m67 0h1m144 0h1m67 0h1m65 0h1m69 0h1m105 0h1M164 8.5h1m68 0h1m67 0h1m280 0h1m66 0h1M849 9.5h1m187 0h1M234 10.5h1m613 0h1m188 0h1M232 11.5h2m213 0h1m134 0h1m68 0h1M23 12.5h1m72 0h1m68 0h1m66 0h1m1 0h1m211 0h1m66 0h2m134 0h1m197 0h2m187 0h1m1 0h1M651 13.5h1m48 0h1M23 14.5h1m349 0h1M373 15.5h1m71 0h1m67 0h1m135 0h1M22 21.5h1m72 0h1m137 0h1m137 0h1m75 0h1m134 0h1m173 0h1m117 0h1m9 0h1m23 0h1m74 0h1m60 0h1m10 0h1M447 22.5h1m65 0h1m135 0h1M96 24.5h1m205 0h1m68 0h1m75 0h1m16 0h1m48 0h1m1 0h1m67 0h1M632 27.5h1M668 34.5h1M371 35.5h2m383 0h1M372 36.5h2m72 0h1M165 37.5h1m66 0h1m69 0h1m68 0h1m73 0h1m67 0h1m1 0h1m184 0h1M234 38.5h1M700 40.5h1m146 0h1M96 45.5h1m68 0h1m205 0h1m73 0h1m67 0h2M96 46.5h1M515 48.5h1M22 49.5h1m141 0h1m136 0h1m143 0h1m67 0h2m134 0h2m198 0h1m188 0h1M783 51.5h1m123 0h1m110 0h1m57 0h1"/>
<path stroke="#ff5000" d="M22 0.5h1m72 0h1m68 0h1m68 0h1m137 0h1m73 0h1m67 0h1m67 0h1m67 0h3M232 1.5h2m67 0h1m144 0h1m67 0h1M837 4.5h1m7 0h1m20 0h1m23 0h1m38 0h1m8 0h1m15 0h1m10 0h1m51 0h1m10 0h1m5 0h1m10 0h1m6 0h1m8 0h1m6 0h1m15 0h1m1 0h1M301 5.5h1m145 0h1m135 0h1m67 0h1M96 6.5h1m204 0h1m70 0h1m142 0h1m134 0h1m106 0h1M96 7.5h1m67 0h1m68 0h1m137 0h1m1 0h1m71 0h1m67 0h1m68 0h1m66 0h1M23 9.5h1m72 0h1m274 0h1m476 0h1M96 10.5h1m416 0h1m1 0h1m65 0h1M23 11.5h1m140 0h1m136 0h2m68 0h1m1 0h1m139 0h1m135 0h1m106 0h1m281 0h1M164 12.5h1m136 0h1m69 0h2m209 0h1m173 0h1m280 0h1M96 13.5h1m137 0h1m138 0h1m73 0h1m67 0h1m333 0h1m188 0h1M96 14.5h1m137 0h1m67 0h1m144 0h1m67 0h1m135 0h1m105 0h1M23 15.5h1m72 0h1m68 0h1m205 0h2m73 0h1m134 0h2m67 0h1m105 0h1m91 0h1M937 17.5h1M165 19.5h1m68 0h1m280 0h1m65 0h1m1 0h1m67 0h1m105 0h1M301 21.5h1m144 0h1m455 0h1m11 0h1m13 0h1M581 22.5h1m68 0h1M22 24.5h2m71 0h1m69 0h1m67 0h1m67 0h1m71 0h1m140 0h1m66 0h1m67 0h1m107 0h1M600 28.5h1M23 34.5h1M232 35.5h1m1 0h1m67 0h1m142 0h2m68 0h1m116 0h1M632 36.5h1M95 37.5h1m68 0h1m68 0h1m138 0h1m73 0h1m134 0h2m68 0h1m104 0h1M373 40.5h1M23 45.5h1m209 0h1m67 0h1m70 0h1m73 0h1m134 0h2m66 0h2m105 0h1m92 0h1m188 0h1M23 46.5h1m625 0h1m1 0h1m105 0h1M564 47.5h1m18 0h1M302 48.5h1m210 0h1m67 0h1m1 0h1m173 0h1M95 49.5h1m137 0h1m138 0h1m73 0h1m135 0h1m173 0h1m279 0h1M861 51.5h1m70 0h1m26 0h1m6 0h1m46 0h1m27 0h1m14 0h1m1 0h1m3 0h1m22 0h1"/>
<path stroke="#ff4000" d="M301 0.5h1m70 0h1m73 0h1m67 0h1m67 0h1M907 4.5h1m3 0h2m47 0h1m3 0h1m5 0h1m10 0h1m67 0h1m31 0h1M164 5.5h1m68 0h1m281 0h1m65 0h1m67 0h1M22 6.5h1m210 0h1m347 0h1M23 7.5h1m71 0h1m205 0h1m70 0h1m73 0h1m67 0h1m135 0h1m105 0h1M632 8.5h1m216 0h1M22 9.5h1m72 0h1m138 0h1m67 0h1m144 0h1m67 0h1m65 0h1m1 0h1m65 0h1m1 0h1m105 0h1M23 10.5h1m141 0h1m66 0h1m69 0h1m68 0h1m142 0h1m68 0h1m65 0h3m105 0h1M96 11.5h1m275 0h1m72 0h1m204 0h1m196 0h1m1 0h1M22 12.5h1m72 0h1m554 0h1M23 13.5h1m141 0h1m66 0h1m68 0h2m68 0h1m73 0h1m67 0h1m69 0h1m173 0h1m89 0h1M95 14.5h1m69 0h1m66 0h1m138 0h1m73 0h1m67 0h1m67 0h1m1 0h1m65 0h1M22 15.5h1m141 0h1m69 0h1m67 0h1m211 0h1m185 0h1M23 19.5h1m72 0h1m135 0h1m140 0h1m73 0h1m201 0h2M373 21.5h1M446 22.5h1m67 0h1m68 0h1M164 24.5h1m207 0h1m72 0h2m135 0h1m67 0h1m49 0h1M96 34.5h1m276 0h1m209 0h1M233 35.5h1m279 0h1m137 0h1m48 0h1M23 37.5h1m277 0h1m212 0h1m134 0h1M165 38.5h1m67 0h1m68 0h1m144 0h1m67 0h1m135 0h1M425 39.5h1M23 40.5h1m71 0h2m68 0h1m136 0h1m144 0h1m67 0h1m135 0h1m196 0h1M22 45.5h1m72 0h1m68 0h1m871 0h1M373 46.5h1m73 0h1m135 0h1M234 47.5h1m158 0h1m257 0h1m105 0h1M23 48.5h1m72 0h1m135 0h1m1 0h1m136 0h1m1 0h1m73 0h1m66 0h1m134 0h1m1 0h1m104 0h1M847 49.5h1m189 0h1M850 51.5h1m3 0h1m5 0h1m24 0h1m22 0h2m28 0h2m15 0h1m4 0h1m35 0h1m29 0h1m2 0h2m4 0h1m4 0h1m1 0h1m24 0h1m24 0h1"/>
<path stroke="#ff3000" d="M877 4.5h1m1 0h1m16 0h1m174 0h1M373 5.5h1m72 0h1m66 0h1m136 0h1M95 6.5h1m68 0h1m349 0h1M22 7.5h1m677 0h1M847 8.5h1m190 0h1M165 9.5h1m207 0h1m90 0h1m48 0h2M95 10.5h1m68 0h1m68 0h1m67 0h1m71 0h1m73 0h1m134 0h1m173 0h1M95 11.5h1m418 0h1m185 0h1m147 0h1m187 0h2M233 12.5h1M22 13.5h1m72 0h1m68 0h1m68 0h1m138 0h1m73 0h1m67 0h1m134 0h2m105 0h1m91 0h1m187 0h2M22 14.5h1m141 0h1m68 0h1m67 0h1m70 0h1m73 0h1m67 0h1m67 0h1m67 0h1m105 0h1M95 15.5h1m136 0h1M1038 16.5h1M1038 18.5h1M233 19.5h1m68 0h1m68 0h1m73 0h1m67 0h2m67 0h1m173 0h1M445 21.5h1m578 0h1M234 22.5h1m67 0h1m68 0h1M756 24.5h1M1038 26.5h1M583 28.5h1M22 34.5h1m72 0h1m351 0h1m67 0h1m133 0h1m1 0h1M164 35.5h2m135 0h1m279 0h1m1 0h1m65 0h1M22 37.5h1m627 0h1M232 38.5h1m68 0h1m69 0h1m1 0h1m139 0h1m67 0h1m1 0h1m65 0h1M632 39.5h1M232 40.5h1m138 0h1m73 0h1m67 0h1m69 0h1m65 0h1m107 0h1M700 45.5h1m146 0h1m189 0h1M22 46.5h1m72 0h1m138 0h1m67 0h1m212 0h1m134 0h1m105 0h1M23 47.5h1m72 0h1m68 0h1m66 0h1m69 0h1m70 0h1m73 0h1m65 0h1m1 0h1m66 0h1m66 0h1M165 48.5h1m135 0h1m70 0h1m72 0h1m136 0h1m67 0h1M848 49.5h1M840 51.5h1m2 0h1m23 0h1m22 0h2m1 0h1m6 0h1m2 0h1m8 0h2m27 0h1m3 0h3m9 0h1m6 0h1m3 0h1m3 0h1m1 0h1m6 0h1m24 0h1m16 0h1m3 0h2m14 0h1m6 0h1m8 0h2m29 0h1m2 0h1M632 53.5h1"/>
<path stroke="#ff2000" d="M96 5.5h1m348 0h1m68 0h1m67 0h1M756 6.5h1M848 8.5h1m187 0h1M232 9.5h2m67 0h1m143 0h2m135 0h1m67 0h1m105 0h1M22 10.5h1m422 0h1m154 0h1M446 11.5h1M581 13.5h1M233 15.5h1m67 0h1M632 17.5h1m216 0h1m186 0h1M847 18.5h1m1 0h1M22 19.5h1m72 0h1m68 0h1m136 0h1m70 0h1m73 0h1M372 21.5h1M233 22.5h1m139 0h1m208 0h1M847 26.5h1m1 0h1m186 0h2M23 28.5h1m210 0h1m138 0h1m141 0h1m135 0h1M234 34.5h1m210 0h1m67 0h1m67 0h1m175 0h1M514 35.5h1m67 0h1m67 0h1M96 38.5h1m348 0h1m68 0h1m67 0h1m67 0h1m49 0h1M22 40.5h1m141 0h1m69 0h1m137 0h1m141 0h1m66 0h1m68 0h1m105 0h1M848 45.5h1M164 46.5h1m136 0h1m69 0h1m141 0h1m67 0h2M22 47.5h1m72 0h1m68 0h1m68 0h1m137 0h1m209 0h1m68 0h1m105 0h1M22 48.5h1m72 0h1m68 0h1m68 0h1m212 0h1M844 51.5h1m23 0h1m1 0h1m6 0h1m17 0h1m14 0h1m5 0h1m2 0h1m5 0h1m3 0h1m4 0h2m15 0h1m1 0h1m11 0h1m1 0h1m1 0h1m5 0h1m21 0h2m5 0h2m1 0h1m2 0h1m1 0h1m4 0h1m6 0h1m6 0h1m1 0h2m4 0h1m7 0h1m1 0h1m3 0h1m9 0h2m1 0h1m2 0h1m1 0h1m3 0h1m1 0h1m4 0h1m1 0h1m4 0h1m1 0h1"/>
<path stroke="#ff1000" d="M849 1.5h1m188 0h1M893 4.5h1m106 0h1M372 5.5h1m227 0h1m156 0h1M1037 8.5h1M164 9.5h1m207 0h1m259 0h1M372 10.5h1m73 0h1M22 11.5h1M582 13.5h1M847 16.5h3m186 0h1M847 17.5h2m188 0h2M848 18.5h1m187 0h1M847 19.5h1m1 0h1m186 0h1m1 0h1M164 22.5h2m66 0h1m68 0h1M848 26.5h1M165 28.5h1m136 0h1m68 0h1m75 0h1m65 0h1m243 0h1M165 34.5h1m66 0h1m69 0h1m68 0h2m73 0h1m67 0h1m49 0h1m17 0h1m67 0h1m105 0h1m92 0h1m188 0h1M164 38.5h1m281 0h1m310 0h1M446 40.5h1m135 0h1M165 46.5h1m66 0h1m139 0h1m72 0h2m67 0h1M301 47.5h1m70 0h1m72 0h2m67 0h1M829 51.5h1m5 0h1m16 0h1m2 0h1m2 0h1m10 0h1m6 0h1m2 0h1m3 0h1m4 0h1m3 0h1m1 0h1m6 0h2m2 0h1m5 0h1m2 0h1m9 0h1m1 0h2m2 0h2m4 0h1m11 0h1m5 0h1m6 0h1m1 0h1m15 0h1m4 0h1m2 0h1m3 0h1m7 0h1m8 0h2m4 0h1m7 0h1m23 0h1m4 0h1m5 0h1m3 0h1m10 0h2m12 0h1"/>
<path stroke="#f00" d="M564 1.5h1m282 0h1m188 0h1M1069 4.5h1M23 5.5h1M1037 16.5h1M1037 18.5h1M848 19.5h1m188 0h1M372 22.5h1m384 0h1M22 28.5h1m72 0h2m135 0h2m67 0h1m143 0h1m135 0h1m50 0h1m16 0h2m105 0h1M301 34.5h1M23 38.5h1m71 0h1m276 0h1M234 39.5h1m348 0h1M233 40.5h1M233 46.5h1M845 51.5h1m5 0h1m7 0h1m2 0h1m2 0h1m15 0h1m2 0h1m14 0h1m6 0h1m21 0h1m8 0h1m6 0h1m11 0h1m23 0h1m1 0h2m16 0h2m1 0h1m17 0h1m3 0h1m6 0h1m32 0h1m8 0h1"/>
<path stroke="#ef0000" d="M700 0.5h1M848 1.5h1m188 0h1M756 5.5h1M632 7.5h1M700 10.5h1M632 18.5h1M632 24.5h1M632 26.5h1M372 28.5h1m73 0h1m67 0h1m67 0h1M164 34.5h1m68 0h1m613 0h1m188 0h2M632 38.5h1m123 0h1M96 39.5h1m68 0h1m66 0h1m214 0h1m67 0h1m135 0h1M301 40.5h1M632 45.5h1M831 51.5h2m3 0h1m2 0h1m1 0h2m23 0h1m4 0h2m5 0h1m36 0h1m17 0h1m9 0h1m14 0h1m14 0h1m2 0h1m1 0h1m6 0h1m2 0h1m1 0h1m1 0h2m25 0h1m25 0h1m8 0h1m23 0h1m1 0h2m5 0h1m6 0h1"/>
<path stroke="#df0000" d="M95 5.5h1M564 9.5h1M632 12.5h1M756 22.5h1M164 28.5h1M700 34.5h1M22 38.5h1M302 39.5h1m68 0h1m1 0h1m71 0h1m67 0h1m67 0h1m67 0h1m107 0h1M828 51.5h1m5 0h1m11 0h1m16 0h2m17 0h1m3 0h2m8 0h2m44 0h1m6 0h2m11 0h1m14 0h1m8 0h1m2 0h1m12 0h1m12 0h1m28 0h1m3 0h1m3 0h1m2 0h1m23 0h1m3 0h1m4 0h1"/>
<path stroke="#cf0000" d="M910 4.5h1M22 5.5h1M848 34.5h1M23 39.5h1m71 0h1m68 0h1m68 0h1m67 0h1m212 0h1m67 0h1m67 0h1m49 0h1m55 0h1M837 51.5h1m18 0h1m16 0h1m6 0h1m17 0h1m19 0h1m1 0h2m1 0h1m28 0h1m17 0h2m23 0h1m15 0h1m8 0h1m47 0h1m26 0h1"/>
<path stroke="#bf0000" d="M632 6.5h1M445 22.5h1M372 39.5h1m73 0h1M564 40.5h1M632 48.5h1M833 51.5h1m4 0h1m78 0h1m76 0h1m75 0h1"/>
<path stroke="#af0000" d="M847 0.5h1m1 0h1m188 0h1M700 28.5h1"/>
<path stroke="#9f0000" d="M632 0.5h1m215 0h1m187 0h1M632 15.5h1M849 21.5h1m188 0h1M22 39.5h1M857 51.5h1m17 0h1m46 0h1"/>
<path stroke="#8f0000" d="M1037 0.5h1M632 13.5h1M847 21.5h1M632 37.5h1"/>
<path stroke="#800000" d="M632 5.5h1M632 10.5h1M632 11.5h1M632 14.5h1M632 19.5h1M632 21.5h1m215 0h1m187 0h2M763 22.5h35m22 0h276M632 34.5h1M564 39.5h1M632 40.5h1M632 47.5h1M632 49.5h1M853 51.5h1m20 0h1m29 0h1"/>
</g>
<g shape-rendering="crispEdges">
<rect x="1346" y="1052.719" width="57" height="15.281" fill="#00008f"/>
<rect x="1346" y="1037.438" width="57" height="15.281" fill="#00009f"/>
<rect x="1346" y="1022.156" width="57" height="15.281" fill="#0000af"/>
<rect x="1346" y="1006.875" width="57" height="15.281" fill="#0000bf"/>
<rect x="1346" y="991.594" width="57" height="15.281" fill="#0000cf"/>
<rect x="1346" y="976.312" width="57" height="15.281" fill="#0000df"/>
<rect x="1346" y="961.031" width="57" height="15.281" fill="#0000ef"/>
<rect x="1346" y="945.750" width="57" height="15.281" fill="#00f"/>
<rect x="1346" y="930.469" width="57" height="15.281" fill="#0010ff"/>
<rect x="1346" y="915.188" width="57" height="15.281" fill="#0020ff"/>
<rect x="1346" y="899.906" width="57" height="15.281" fill="#0030ff"/>
<rect x="1346" y="884.625" width="57" height="15.281" fill="#0040ff"/>
<rect x="1346" y="869.344" width="57" height="15.281" fill="#0050ff"/>
<rect x="1346" y="854.062" width="57" height="15.281" fill="#0060ff"/>
<rect x="1346" y="838.781" width="57" height="15.281" fill="#0070ff"/>
<rect x="1346" y="823.500" width="57" height="15.281" fill="#0080ff"/>
<rect x="1346" y="808.219" width="57" height="15.281" fill="#008fff"/>
<rect x="1346" y="792.938" width="57" height="15.281" fill="#009fff"/>
<rect x="1346" y="777.656" width="57" height="15.281" fill="#00afff"/>
<rect x="1346" y="762.375" width="57" height="15.281" fill="#00bfff"/>
<rect x="1346" y="747.094" width="57" height="15.281" fill="#00cfff"/>
<rect x="1346" y="731.812" width="57" height="15.281" fill="#00dfff"/>
<rect x="1346" y="716.531" width="57" height="15.281" fill="#00efff"/>
<rect x="1346" y="701.250" width="57" height="15.281" fill="#0ff"/>
<rect x="1346" y="685.969" width="57" height="15.281" fill="#10ffef"/>
<rect x="1346" y="670.688" width="57" height="15.281" fill="#20ffdf"/>
<rect x="1346" y="655.406" width="57" height="15.281" fill="#30ffcf"/>
<rect x="1346" y="640.125" width="57" height="15.281" fill="#40ffbf"/>
<rect x="1346" y="624.844" width="57" height="15.281" fill="#50ffaf"/>
<rect x="1346" y="609.562" width="57" height="15.281" fill="#60ff9f"/>
<rect x="1346" y="594.281" width="57" height="15.281" fill="#70ff8f"/>
<rect x="1346" y="579.000" width="57" height="15.281" fill="#80ff80"/>
<rect x="1346" y="563.719" width="57" height="15.281" fill="#8fff70"/>
<rect x="1346" y="548.438" width="57" height="15.281" fill="#9fff60"/>
<rect x="1346" y="533.156" width="57" height="15.281" fill="#afff50"/>
<rect x="1346" y="517.875" width="57" height="15.281" fill="#bfff40"/>
<rect x="1346" y="502.594" width="57" height="15.281" fill="#cfff30"/>
<rect x="1346" y="487.312" width="57" height="15.281" fill="#dfff20"/>
<rect x="1346" y="472.031" width="57" height="15.281" fill="#efff10"/>
<rect x="1346" y="456.750" width="57" height="15.281" fill="#ff0"/>
<rect x="1346" y="441.469" width="57" height="15.281" fill="#ffef00"/>
<rect x="1346" y="426.188" width="57" height="15.281" fill="#ffdf00"/>
<rect x="1346" y="410.906" width="57" height="15.281" fill="#ffcf00"/>
<rect x="1346" y="395.625" width="57" height="15.281" fill="#ffbf00"/>
<rect x="1346" y="380.344" width="57" height="15.281" fill="#ffaf00"/>
<rect x="1346" y="365.062" width="57" height="15.281" fill="#ff9f00"/>
<rect x="1346" y="349.781" width="57" height="15.281" fill="#ff8f00"/>
<rect x="1346" y="334.500" width="57" height="15.281" fill="#ff8000"/>
<rect x="1346" y="319.219" width="57" height="15.281" fill="#ff7000"/>
<rect x="1346" y="303.938" width="57" height="15.281" fill="#ff6000"/>
<rect x="1346" y="288.656" width="57" height="15.281" fill="#ff5000"/>
<rect x="1346" y="273.375" width="57" height="15.281" fill="#ff4000"/>
<rect x="1346" y="258.094" width="57" height="15.281" fill="#ff3000"/>
<rect x="1346" y="242.812" width="57" height="15.281" fill="#ff2000"/>
<rect x="1346" y="227.531" width="57" height="15.281" fill="#ff1000"/>
<rect x="1346" y="212.250" width="57" height="15.281" fill="#f00"/>
<rect x="1346" y="196.969" width="57" height="15.281" fill="#ef0000"/>
<rect x="1346" y="181.688" width="57" height="15.281" fill="#df0000"/>
<rect x="1346" y="166.406" width="57" height="15.281" fill="#cf0000"/>
<rect x="1346" y="151.125" width="57" height="15.281" fill="#bf0000"/>
<rect x="1346" y="135.844" width="57" height="15.281" fill="#af0000"/>
<rect x="1346" y="120.562" width="57" height="15.281" fill="#9f0000"/>
<rect x="1346" y="105.281" width="57" height="15.281" fill="#8f0000"/>
<rect x="1346" y="90.000" width="57" height="15.281" fill="#800000"/>
</g>
<g shape-rendering="crispEdges" fill="none" stroke="#000" stroke-width="1">
<rect x="208.5" y="90.5" width="1096" height="978"/>
<rect x="1346.5" y="90.5" width="56" height="978"/>
<path d="M360.5 1068v-11M360.5 91v10M512.5 1068v-11M512.5 91v10M664.5 1068v-11M664.5 91v10M817.5 1068v-11M817.5 91v10M969.5 1068v-11M969.5 91v10M1121.5 1068v-11M1121.5 91v10M1274.5 1068v-11M1274.5 91v10M209 986.5h10M1304 986.5h-10M209 895.5h10M1304 895.5h-10M209 805.5h10M1304 805.5h-10M209 714.5h10M1304 714.5h-10M209 624.5h10M1304 624.5h-10M209 533.5h10M1304 533.5h-10M209 443.5h10M1304 443.5h-10M209 352.5h10M1304 352.5h-10M209 262.5h10M1304 262.5h-10M209 171.5h10M1304 171.5h-10M1347 116.5h10M1402 116.5h-10M1347 271.5h10M1402 271.5h-10M1347 427.5h10M1402 427.5h-10M1347 582.5h10M1402 582.5h-10M1347 738.5h10M1402 738.5h-10M1347 893.5h10M1402 893.5h-10M1347 1049.5h10M1402 1049.5h-10"/>
</g>
<text x="756" y="67" text-anchor="middle" style="font-size:27.6px">Roach 2 Q</text>
<text x="360.5" y="1100" text-anchor="middle">0.5</text>
<text x="512.5" y="1100" text-anchor="middle">1</text>
<text x="664.5" y="1100" text-anchor="middle">1.5</text>
<text x="817.5" y="1100" text-anchor="middle">2</text>
<text x="969.5" y="1100" text-anchor="middle">2.5</text>
<text x="1121.5" y="1100" text-anchor="middle">3</text>
<text x="1274.5" y="1100" text-anchor="middle">3.5</text>
<text x="200.5" y="994" text-anchor="end">5</text>
<text x="200.5" y="903" text-anchor="end">10</text>
<text x="200.5" y="813" text-anchor="end">15</text>
<text x="200.5" y="722" text-anchor="end">20</text>
<text x="200.5" y="632" text-anchor="end">25</text>
<text x="200.5" y="541" text-anchor="end">30</text>
<text x="200.5" y="451" text-anchor="end">35</text>
<text x="200.5" y="360" text-anchor="end">40</text>
<text x="200.5" y="270" text-anchor="end">45</text>
<text x="200.5" y="179" text-anchor="end">50</text>
<text x="1409.3" y="124">300</text>
<text x="1409.3" y="279">200</text>
<text x="1409.3" y="435">100</text>
<text x="1409.3" y="590">0</text>
<text x="1409.3" y="746">-100</text>
<text x="1409.3" y="901">-200</text>
<text x="1409.3" y="1057">-300</text>
<text x="1248" y="1148">x 10</text>
<text x="1295" y="1131" style="font-size:19.5px">5</text>
</svg>
</body></html>
